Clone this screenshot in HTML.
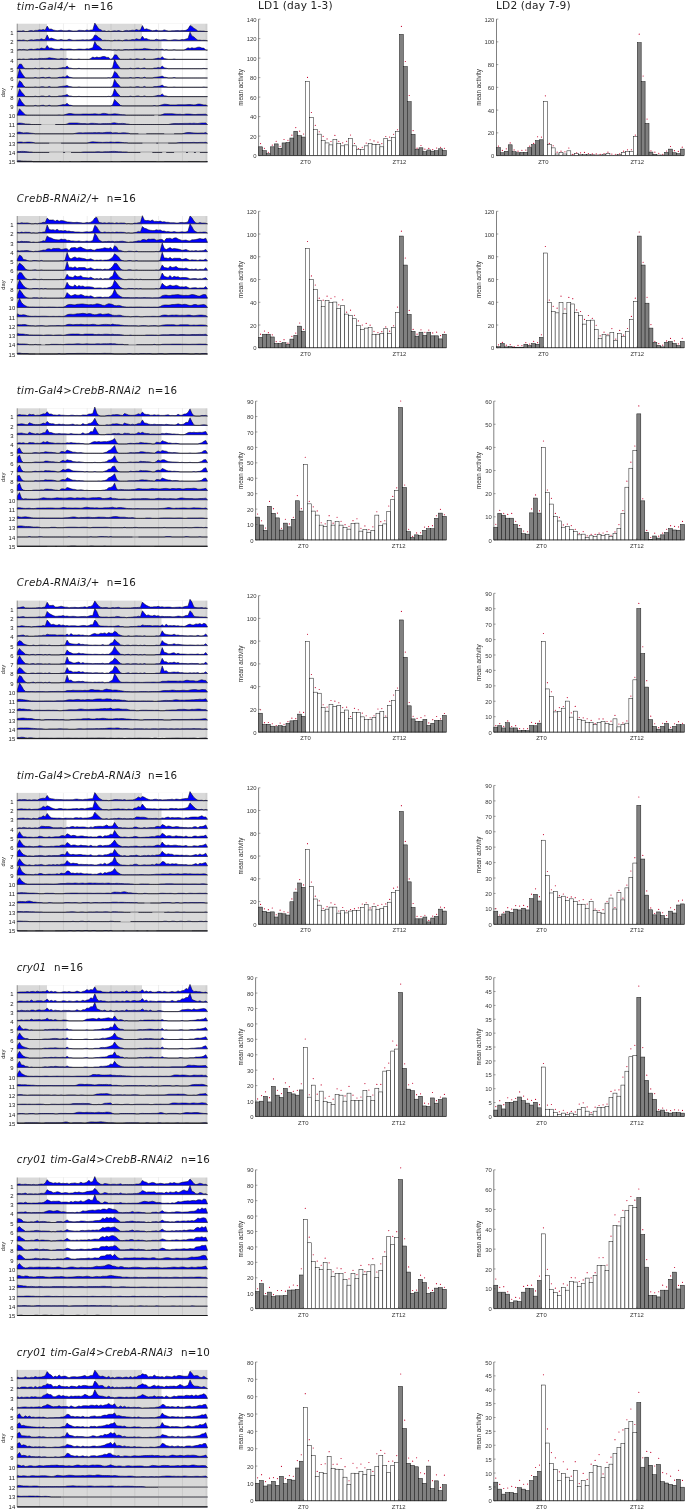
<!DOCTYPE html>
<html><head><meta charset="utf-8"><title>figure</title><style>html,body{margin:0;padding:0;background:#fff}svg{display:block}</style></head><body>
<svg width="685" height="1510" viewBox="0 0 685 1510">
<style>text{font-family:'DejaVu Sans','Liberation Sans',sans-serif;fill:#222}.tk{font-family:'Liberation Sans',sans-serif;font-size:5.9px;fill:#363636}.yl{font-family:'Liberation Sans',sans-serif;font-size:6.3px;fill:#303030}.al{fill:#222}.tt{font-size:10.3px;fill:#1a1a1a}.hd{font-size:10.6px;fill:#222;letter-spacing:0.16px}</style>
<rect width="685" height="1510" fill="#fff"/>
<text x="258" y="8.8" class="hd">LD1 (day 1-3)</text>
<text x="496" y="8.8" class="hd">LD2 (day 7-9)</text>
<text x="16.8" y="9.5" class="tt" font-style="italic" textLength="59.6" lengthAdjust="spacing">tim-Gal4/+</text>
<text x="84.1" y="9.5" class="tt" textLength="28.9" lengthAdjust="spacing">n=16</text>
<rect x="17.2" y="23.7" width="190.3" height="138" fill="#d9d9d9"/>
<rect x="47" y="23.7" width="48" height="7.8" fill="#fff"/>
<rect x="142" y="23.7" width="48" height="7.8" fill="#fff"/>
<rect x="47" y="31.5" width="48" height="9.3" fill="#fff"/>
<rect x="142" y="31.5" width="48" height="9.3" fill="#fff"/>
<rect x="47" y="40.8" width="48" height="9.3" fill="#fff"/>
<rect x="161.5" y="40.8" width="46" height="9.3" fill="#fff"/>
<rect x="66.5" y="50.1" width="47.2" height="9.3" fill="#fff"/>
<rect x="161.5" y="50.1" width="46" height="9.3" fill="#fff"/>
<rect x="66.5" y="59.4" width="47.2" height="9.3" fill="#fff"/>
<rect x="161.5" y="59.4" width="46" height="9.3" fill="#fff"/>
<rect x="66.5" y="68.7" width="47.2" height="9.3" fill="#fff"/>
<rect x="161.5" y="68.7" width="46" height="9.3" fill="#fff"/>
<rect x="66.5" y="78" width="47.2" height="9.3" fill="#fff"/>
<rect x="161.5" y="78" width="46" height="9.3" fill="#fff"/>
<rect x="66.5" y="87.3" width="47.2" height="9.3" fill="#fff"/>
<rect x="161.5" y="87.3" width="46" height="9.3" fill="#fff"/>
<rect x="66.5" y="96.6" width="47.2" height="9.3" fill="#fff"/>
<path d="M39.6 23.7V161.7" stroke="#000" stroke-opacity="0.16" stroke-width="0.45"/>
<path d="M63.4 23.7V161.7" stroke="#000" stroke-opacity="0.16" stroke-width="0.45"/>
<path d="M87.2 23.7V161.7" stroke="#000" stroke-opacity="0.16" stroke-width="0.45"/>
<path d="M111 23.7V161.7" stroke="#000" stroke-opacity="0.16" stroke-width="0.45"/>
<path d="M134.8 23.7V161.7" stroke="#000" stroke-opacity="0.16" stroke-width="0.45"/>
<path d="M158.6 23.7V161.7" stroke="#000" stroke-opacity="0.16" stroke-width="0.45"/>
<path d="M182.4 23.7V161.7" stroke="#000" stroke-opacity="0.16" stroke-width="0.45"/>
<path d="M206.2 23.7V161.7" stroke="#000" stroke-opacity="0.16" stroke-width="0.45"/>
<path d="M17.2 31.5H207.5" stroke="#b4b4b4" stroke-width="0.5"/>
<path d="M17.2 40.8H207.5" stroke="#b4b4b4" stroke-width="0.5"/>
<path d="M17.2 50.1H207.5" stroke="#b4b4b4" stroke-width="0.5"/>
<path d="M17.2 59.4H207.5" stroke="#b4b4b4" stroke-width="0.5"/>
<path d="M17.2 68.7H207.5" stroke="#b4b4b4" stroke-width="0.5"/>
<path d="M17.2 78H207.5" stroke="#b4b4b4" stroke-width="0.5"/>
<path d="M17.2 87.3H207.5" stroke="#b4b4b4" stroke-width="0.5"/>
<path d="M17.2 96.6H207.5" stroke="#b4b4b4" stroke-width="0.5"/>
<path d="M17.2 105.9H207.5" stroke="#b4b4b4" stroke-width="0.5"/>
<path d="M17.2 115.2H207.5" stroke="#b4b4b4" stroke-width="0.5"/>
<path d="M17.2 124.5H207.5" stroke="#b4b4b4" stroke-width="0.5"/>
<path d="M17.2 133.8H207.5" stroke="#b4b4b4" stroke-width="0.5"/>
<path d="M17.2 143.1H207.5" stroke="#b4b4b4" stroke-width="0.5"/>
<path d="M17.2 152.4H207.5" stroke="#b4b4b4" stroke-width="0.5"/>
<g fill="#0000ff" stroke="#0a0a1e" stroke-width="0.55" stroke-linejoin="round">
<path d="M17.2 31.5L17.5 31.0L19.5 31.0L21.5 31.1L23.4 30.7L25.4 31.5L27.4 31.5L29.4 30.8L31.4 30.5L33.4 31.0L35.3 30.4L37.3 30.4L39.3 29.8L41.3 30.0L43.3 29.5L45.2 30.2L47.2 26.1L49.2 29.2L51.2 29.0L53.2 30.0L55.2 30.4L57.1 30.7L59.1 30.5L61.1 30.2L63.1 30.7L65.1 30.8L67.1 30.8L69.0 30.3L71.0 30.7L73.0 31.0L75.0 30.9L77.0 30.9L78.9 30.3L80.9 30.4L82.9 30.5L84.9 30.7L86.9 29.9L88.9 30.5L90.8 30.0L92.8 29.9L94.8 23.1L96.8 26.0L98.8 28.9L100.8 29.8L102.7 30.9L104.7 30.8L106.7 31.5L108.7 30.9L110.7 31.5L112.6 31.0L114.6 30.8L116.6 31.0L118.6 30.6L120.6 31.1L122.6 31.5L124.5 30.8L126.5 30.4L128.5 30.8L130.5 30.5L132.5 30.2L134.5 30.4L136.4 29.5L138.4 30.2L140.4 30.1L142.4 25.6L144.4 29.6L146.3 28.8L148.3 29.4L150.3 30.1L152.3 30.7L154.3 30.6L156.3 30.1L158.2 30.7L160.2 30.8L162.2 30.8L164.2 29.9L166.2 30.5L168.2 30.9L170.1 30.9L172.1 30.7L174.1 30.7L176.1 30.6L178.1 30.5L180.0 30.7L182.0 30.4L184.0 30.6L186.0 30.3L188.0 29.1L190.0 25.6L191.9 26.4L193.9 28.3L195.9 29.4L197.9 31.1L199.9 30.9L201.9 31.1L203.8 31.1L205.8 31.5L207.5 31.5Z"/>
<path d="M17.2 40.8L17.5 40.3L19.5 40.1L21.5 40.3L23.4 39.9L25.4 40.4L27.4 40.8L29.4 40.1L31.4 39.7L33.4 40.1L35.3 39.8L37.3 39.5L39.3 39.7L41.3 38.8L43.3 39.5L45.2 39.4L47.2 34.9L49.2 38.9L51.2 38.1L53.2 38.7L55.2 39.4L57.1 40.0L59.1 39.9L61.1 39.4L63.1 40.0L65.1 40.1L67.1 40.1L69.0 39.2L71.0 39.8L73.0 40.2L75.0 40.2L77.0 40.0L78.9 40.0L80.9 39.9L82.9 39.8L84.9 40.0L86.9 39.7L88.9 39.9L90.8 39.6L92.8 38.4L94.8 34.9L96.8 35.7L98.8 37.6L100.8 38.7L102.7 40.4L104.7 40.2L106.7 40.4L108.7 40.4L110.7 40.8L112.6 40.8L114.6 40.1L116.6 40.4L118.6 40.1L120.6 40.4L122.6 40.8L124.5 40.0L126.5 39.8L128.5 40.2L130.5 39.9L132.5 39.5L134.5 39.7L136.4 38.7L138.4 39.3L140.4 39.5L142.4 36.2L144.4 38.9L146.3 38.6L148.3 39.4L150.3 39.9L152.3 40.0L154.3 40.1L156.3 39.2L158.2 39.8L160.2 39.9L162.2 39.8L164.2 39.6L166.2 39.8L168.2 40.3L170.1 40.3L172.1 40.0L174.1 39.7L176.1 39.8L178.1 40.0L180.0 40.0L182.0 39.5L184.0 39.7L186.0 39.0L188.0 38.5L190.0 32.2L191.9 35.9L193.9 36.9L195.9 38.8L197.9 40.2L199.9 40.1L201.9 40.4L203.8 40.3L205.8 40.4L207.5 40.8Z"/>
<path d="M17.2 50.1L17.5 50.1L19.5 49.4L21.5 49.7L23.4 49.4L25.4 49.7L27.4 50.1L29.4 49.3L31.4 49.1L33.4 49.5L35.3 49.2L37.3 48.8L39.3 49.0L41.3 48.0L43.3 48.6L45.2 48.8L47.2 45.5L49.2 48.2L51.2 47.9L53.2 48.7L55.2 49.2L57.1 49.3L59.1 49.4L61.1 48.5L63.1 49.1L65.1 49.2L67.1 49.1L69.0 48.9L71.0 49.1L73.0 49.6L75.0 49.6L77.0 49.3L78.9 49.0L80.9 49.1L82.9 49.3L84.9 49.3L86.9 48.8L88.9 49.0L90.8 48.3L92.8 47.8L94.8 41.5L96.8 45.2L98.8 46.2L100.8 48.1L102.7 49.5L104.7 49.4L106.7 49.7L108.7 49.6L110.7 49.7L112.6 50.1L114.6 49.8L116.6 50.1L118.6 49.7L120.6 50.1L122.6 50.1L124.5 49.6L126.5 49.5L128.5 49.7L130.5 49.5L132.5 49.6L134.5 49.2L136.4 49.1L138.4 49.2L140.4 49.1L142.4 49.0L144.4 48.4L146.3 48.8L148.3 49.0L150.3 49.3L152.3 49.6L154.3 49.7L156.3 49.2L158.2 49.5L160.2 49.6L162.2 49.1L164.2 50.1L166.2 49.6L168.2 50.1L170.1 50.1L172.1 50.1L174.1 49.7L176.1 50.1L178.1 50.1L180.0 50.1L182.0 50.1L184.0 50.1L186.0 49.1L188.0 47.8L190.0 48.5L191.9 47.7L193.9 48.3L195.9 47.9L197.9 47.2L199.9 47.2L201.9 48.1L203.8 48.1L205.8 50.1L207.5 50.1Z"/>
<path d="M17.2 59.4L17.5 59.4L19.5 59.1L21.5 59.4L23.4 59.0L25.4 59.4L27.4 59.4L29.4 58.9L31.4 58.8L33.4 59.0L35.3 58.8L37.3 58.9L39.3 58.5L41.3 58.4L43.3 58.5L45.2 58.4L47.2 58.3L49.2 57.7L51.2 58.1L53.2 58.3L55.2 58.6L57.1 58.9L59.1 59.0L61.1 58.5L63.1 58.8L65.1 58.9L67.1 58.4L69.0 59.4L71.0 58.9L73.0 59.4L75.0 59.4L77.0 59.4L78.9 59.0L80.9 59.4L82.9 59.4L84.9 59.4L86.9 59.4L88.9 59.4L90.8 58.4L92.8 57.1L94.8 57.8L96.8 57.0L98.8 57.6L100.8 57.2L102.7 56.5L104.7 56.5L106.7 57.4L108.7 57.4L110.7 59.4L112.6 58.3L114.6 54.8L116.6 54.9L118.6 58.1L120.6 59.4L122.6 59.4L124.5 59.4L126.5 59.4L128.5 59.4L130.5 58.9L132.5 59.4L134.5 59.4L136.4 58.8L138.4 58.9L140.4 59.4L142.4 59.4L144.4 58.6L146.3 59.4L148.3 59.4L150.3 59.4L152.3 59.4L154.3 58.9L156.3 58.6L158.2 58.1L160.2 58.4L162.2 56.7L164.2 58.6L166.2 58.9L168.2 59.4L170.1 59.4L172.1 59.4L174.1 59.0L176.1 59.4L178.1 59.4L180.0 59.4L182.0 59.4L184.0 59.4L186.0 59.4L188.0 59.4L190.0 59.4L191.9 59.4L193.9 59.4L195.9 59.4L197.9 59.4L199.9 59.4L201.9 59.4L203.8 59.4L205.8 59.4L207.5 59.4Z"/>
<path d="M17.2 68.7L17.5 67.6L19.5 64.1L21.5 64.2L23.4 67.4L25.4 68.7L27.4 68.7L29.4 68.7L31.4 68.7L33.4 68.7L35.3 68.2L37.3 68.7L39.3 68.7L41.3 68.1L43.3 68.2L45.2 68.7L47.2 68.7L49.2 67.9L51.2 68.7L53.2 68.7L55.2 68.7L57.1 68.7L59.1 68.2L61.1 67.9L63.1 67.4L65.1 67.7L67.1 66.0L69.0 67.9L71.0 68.2L73.0 68.7L75.0 68.7L77.0 68.7L78.9 68.3L80.9 68.7L82.9 68.7L84.9 68.7L86.9 68.7L88.9 68.7L90.8 68.7L92.8 68.7L94.8 68.7L96.8 68.7L98.8 68.7L100.8 68.7L102.7 68.7L104.7 68.7L106.7 68.7L108.7 68.7L110.7 68.7L112.6 67.5L114.6 59.6L116.6 63.5L118.6 66.2L120.6 68.7L122.6 68.7L124.5 68.7L126.5 68.7L128.5 68.7L130.5 68.2L132.5 68.7L134.5 68.7L136.4 68.2L138.4 68.0L140.4 68.7L142.4 68.3L144.4 67.9L146.3 68.7L148.3 68.7L150.3 68.7L152.3 68.7L154.3 68.0L156.3 68.0L158.2 67.5L160.2 67.9L162.2 66.1L164.2 67.8L166.2 68.2L168.2 68.7L170.1 68.7L172.1 68.7L174.1 68.7L176.1 68.7L178.1 68.7L180.0 68.7L182.0 68.7L184.0 68.7L186.0 68.7L188.0 68.7L190.0 68.7L191.9 68.7L193.9 68.7L195.9 68.7L197.9 68.7L199.9 68.7L201.9 68.7L203.8 68.4L205.8 68.7L207.5 68.7Z"/>
<path d="M17.2 78L17.5 76.8L19.5 68.9L21.5 72.8L23.4 75.5L25.4 78.0L27.4 78.0L29.4 78.0L31.4 78.0L33.4 78.0L35.3 77.5L37.3 78.0L39.3 78.0L41.3 77.5L43.3 77.3L45.2 78.0L47.2 77.6L49.2 77.2L51.2 78.0L53.2 78.0L55.2 78.0L57.1 78.0L59.1 77.3L61.1 77.3L63.1 76.8L65.1 77.2L67.1 75.4L69.0 77.1L71.0 77.5L73.0 78.0L75.0 78.0L77.0 78.0L78.9 78.0L80.9 78.0L82.9 78.0L84.9 78.0L86.9 78.0L88.9 78.0L90.8 78.0L92.8 78.0L94.8 78.0L96.8 78.0L98.8 78.0L100.8 78.0L102.7 78.0L104.7 78.0L106.7 78.0L108.7 77.7L110.7 78.0L112.6 76.5L114.6 71.4L116.6 73.0L118.6 76.3L120.6 78.0L122.6 78.0L124.5 78.0L126.5 78.0L128.5 78.0L130.5 77.6L132.5 78.0L134.5 78.0L136.4 77.5L138.4 77.5L140.4 78.0L142.4 78.0L144.4 77.2L146.3 78.0L148.3 78.0L150.3 78.0L152.3 78.0L154.3 77.4L156.3 77.2L158.2 76.9L160.2 76.7L162.2 76.1L164.2 77.2L166.2 77.4L168.2 78.0L170.1 78.0L172.1 78.0L174.1 77.6L176.1 78.0L178.1 78.0L180.0 78.0L182.0 78.0L184.0 78.0L186.0 78.0L188.0 78.0L190.0 78.0L191.9 78.0L193.9 78.0L195.9 78.0L197.9 78.0L199.9 78.0L201.9 78.0L203.8 78.0L205.8 78.0L207.5 78Z"/>
<path d="M17.2 87.3L17.5 85.8L19.5 80.7L21.5 82.3L23.4 85.6L25.4 87.3L27.4 87.3L29.4 87.3L31.4 87.3L33.4 87.3L35.3 86.9L37.3 87.3L39.3 87.3L41.3 86.8L43.3 86.8L45.2 87.3L47.2 87.3L49.2 86.5L51.2 87.3L53.2 87.3L55.2 87.3L57.1 87.3L59.1 86.7L61.1 86.5L63.1 86.2L65.1 86.0L67.1 85.4L69.0 86.5L71.0 86.7L73.0 87.3L75.0 87.3L77.0 87.3L78.9 86.9L80.9 87.3L82.9 87.3L84.9 87.3L86.9 87.3L88.9 87.3L90.8 87.3L92.8 87.3L94.8 87.3L96.8 87.3L98.8 87.3L100.8 87.3L102.7 87.3L104.7 87.3L106.7 87.3L108.7 87.3L110.7 87.3L112.6 86.2L114.6 79.4L116.6 82.7L118.6 84.7L120.6 87.3L122.6 87.3L124.5 87.3L126.5 87.3L128.5 87.3L130.5 86.9L132.5 87.3L134.5 87.3L136.4 86.7L138.4 86.7L140.4 87.3L142.4 87.3L144.4 86.4L146.3 87.3L148.3 87.3L150.3 87.3L152.3 87.3L154.3 86.6L156.3 86.6L158.2 86.3L160.2 86.0L162.2 85.1L164.2 86.6L166.2 86.7L168.2 87.3L170.1 87.3L172.1 87.3L174.1 87.0L176.1 87.3L178.1 87.3L180.0 87.3L182.0 87.3L184.0 87.3L186.0 87.3L188.0 87.3L190.0 87.3L191.9 87.3L193.9 87.3L195.9 87.3L197.9 87.3L199.9 87.3L201.9 87.3L203.8 87.0L205.8 87.3L207.5 87.3Z"/>
<path d="M17.2 96.6L17.5 95.5L19.5 88.7L21.5 92.0L23.4 94.0L25.4 96.6L27.4 96.6L29.4 96.6L31.4 96.6L33.4 96.6L35.3 96.2L37.3 96.6L39.3 96.6L41.3 96.0L43.3 96.0L45.2 96.6L47.2 96.6L49.2 95.7L51.2 96.6L53.2 96.6L55.2 96.6L57.1 96.6L59.1 95.9L61.1 95.9L63.1 95.6L65.1 95.3L67.1 94.4L69.0 95.9L71.0 96.0L73.0 96.6L75.0 96.6L77.0 96.6L78.9 96.3L80.9 96.6L82.9 96.6L84.9 96.6L86.9 96.6L88.9 96.6L90.8 96.6L92.8 96.6L94.8 96.6L96.8 96.6L98.8 96.6L100.8 96.6L102.7 96.6L104.7 96.6L106.7 96.6L108.7 96.3L110.7 96.6L112.6 95.0L114.6 88.8L116.6 92.3L118.6 94.5L120.6 96.6L122.6 96.6L124.5 96.6L126.5 96.6L128.5 96.6L130.5 96.1L132.5 96.6L134.5 96.6L136.4 96.1L138.4 95.9L140.4 96.6L142.4 96.6L144.4 95.9L146.3 96.6L148.3 96.6L150.3 96.6L152.3 96.6L154.3 96.2L156.3 95.8L158.2 95.3L160.2 95.5L162.2 93.9L164.2 95.8L166.2 96.0L168.2 96.6L170.1 96.6L172.1 96.6L174.1 96.6L176.1 96.6L178.1 96.6L180.0 96.6L182.0 96.6L184.0 96.6L186.0 96.6L188.0 96.6L190.0 96.6L191.9 96.6L193.9 96.6L195.9 96.6L197.9 96.6L199.9 96.6L201.9 96.6L203.8 96.6L205.8 96.6L207.5 96.6Z"/>
<path d="M17.2 105.9L17.5 104.3L19.5 98.1L21.5 101.6L23.4 103.8L25.4 105.9L27.4 105.9L29.4 105.9L31.4 105.9L33.4 105.9L35.3 105.4L37.3 105.9L39.3 105.9L41.3 105.4L43.3 105.2L45.2 105.9L47.2 105.9L49.2 105.2L51.2 105.9L53.2 105.9L55.2 105.9L57.1 105.9L59.1 105.5L61.1 105.1L63.1 104.6L65.1 104.8L67.1 103.2L69.0 105.1L71.0 105.3L73.0 105.9L75.0 105.9L77.0 105.9L78.9 105.9L80.9 105.9L82.9 105.9L84.9 105.9L86.9 105.9L88.9 105.9L90.8 105.9L92.8 105.9L94.8 105.9L96.8 105.9L98.8 105.9L100.8 105.9L102.7 105.9L104.7 105.9L106.7 105.9L108.7 105.9L110.7 105.9L112.6 104.9L114.6 99.5L116.6 101.7L118.6 103.6L120.6 105.5L122.6 105.9L124.5 105.9L126.5 105.9L128.5 105.9L130.5 105.9L132.5 105.9L134.5 105.9L136.4 105.9L138.4 105.9L140.4 105.9L142.4 105.9L144.4 105.9L146.3 105.9L148.3 105.9L150.3 105.9L152.3 105.9L154.3 105.6L156.3 105.9L158.2 105.9L160.2 105.3L162.2 104.7L164.2 104.2L166.2 104.3L168.2 104.6L170.1 104.9L172.1 104.9L174.1 104.9L176.1 104.9L178.1 104.7L180.0 104.7L182.0 104.7L184.0 104.8L186.0 104.7L188.0 104.6L190.0 104.5L191.9 104.7L193.9 104.9L195.9 104.7L197.9 104.1L199.9 104.1L201.9 104.5L203.8 104.9L205.8 104.9L207.5 105.9Z"/>
<path d="M17.2 115.2L17.5 114.2L19.5 108.8L21.5 111.0L23.4 112.9L25.4 114.8L27.4 115.2L29.4 115.2L31.4 115.2L33.4 115.2L35.3 115.2L37.3 115.2L39.3 115.2L41.3 115.2L43.3 115.2L45.2 115.2L47.2 115.2L49.2 115.2L51.2 115.2L53.2 115.2L55.2 115.2L57.1 115.2L59.1 114.9L61.1 115.2L63.1 115.2L65.1 114.6L67.1 114.0L69.0 113.5L71.0 113.6L73.0 113.9L75.0 114.2L77.0 114.2L78.9 114.2L80.9 114.2L82.9 114.0L84.9 114.0L86.9 114.0L88.9 114.1L90.8 114.0L92.8 113.9L94.8 113.8L96.8 114.0L98.8 114.2L100.8 114.0L102.7 113.4L104.7 113.4L106.7 113.8L108.7 114.2L110.7 114.2L112.6 114.0L114.6 113.8L116.6 113.9L118.6 114.2L120.6 114.6L122.6 114.7L124.5 114.8L126.5 115.2L128.5 115.2L130.5 115.2L132.5 115.2L134.5 115.2L136.4 115.2L138.4 115.2L140.4 115.2L142.4 115.2L144.4 115.2L146.3 115.2L148.3 115.2L150.3 115.2L152.3 115.2L154.3 115.2L156.3 115.2L158.2 115.2L160.2 115.2L162.2 114.6L164.2 113.8L166.2 113.7L168.2 113.7L170.1 113.7L172.1 113.7L174.1 113.9L176.1 114.2L178.1 114.3L180.0 114.2L182.0 114.5L184.0 114.4L186.0 114.0L188.0 114.0L190.0 114.1L191.9 114.3L193.9 114.5L195.9 114.5L197.9 114.3L199.9 114.3L201.9 114.3L203.8 114.2L205.8 114.2L207.5 115.2Z"/>
<path d="M17.2 124.5L17.5 123.3L19.5 123.1L21.5 123.2L23.4 123.5L25.4 123.9L27.4 124.0L29.4 124.1L31.4 124.5L33.4 124.5L35.3 124.5L37.3 124.5L39.3 124.5L41.3 124.5L43.3 124.5L45.2 124.5L47.2 124.5L49.2 124.5L51.2 124.5L53.2 124.5L55.2 124.5L57.1 124.5L59.1 124.5L61.1 124.5L63.1 124.5L65.1 124.5L67.1 123.9L69.0 123.1L71.0 123.0L73.0 123.0L75.0 123.0L77.0 123.0L78.9 123.2L80.9 123.5L82.9 123.6L84.9 123.5L86.9 123.8L88.9 123.7L90.8 123.3L92.8 123.3L94.8 123.4L96.8 123.6L98.8 123.8L100.8 123.8L102.7 123.6L104.7 123.6L106.7 123.6L108.7 123.5L110.7 123.5L112.6 122.9L114.6 122.8L116.6 123.2L118.6 123.6L120.6 123.5L122.6 123.4L124.5 123.6L126.5 123.9L128.5 124.1L130.5 124.5L132.5 124.5L134.5 124.5L136.4 124.5L138.4 124.5L140.4 124.5L142.4 124.5L144.4 124.5L146.3 124.5L148.3 124.5L150.3 124.5L152.3 124.5L154.3 124.5L156.3 124.5L158.2 124.5L160.2 124.5L162.2 124.5L164.2 124.5L166.2 124.5L168.2 124.5L170.1 124.1L172.1 123.7L174.1 123.5L176.1 123.5L178.1 123.6L180.0 123.5L182.0 123.5L184.0 123.4L186.0 123.4L188.0 123.4L190.0 123.3L191.9 123.4L193.9 123.2L195.9 123.4L197.9 123.5L199.9 123.2L201.9 123.0L203.8 123.0L205.8 122.9L207.5 124.5Z"/>
<path d="M17.2 133.8L17.5 132.2L19.5 132.1L21.5 132.5L23.4 132.9L25.4 132.8L27.4 132.7L29.4 132.9L31.4 133.2L33.4 133.4L35.3 133.8L37.3 133.8L39.3 133.8L41.3 133.8L43.3 133.8L45.2 133.8L47.2 133.8L49.2 133.8L51.2 133.8L53.2 133.8L55.2 133.8L57.1 133.8L59.1 133.8L61.1 133.8L63.1 133.8L65.1 133.8L67.1 133.8L69.0 133.8L71.0 133.8L73.0 133.8L75.0 133.4L77.0 133.0L78.9 132.8L80.9 132.8L82.9 132.9L84.9 132.8L86.9 132.8L88.9 132.7L90.8 132.7L92.8 132.7L94.8 132.6L96.8 132.7L98.8 132.5L100.8 132.7L102.7 132.8L104.7 132.5L106.7 132.3L108.7 132.3L110.7 132.2L112.6 132.9L114.6 132.7L116.6 132.7L118.6 133.1L120.6 133.0L122.6 132.8L124.5 132.8L126.5 132.9L128.5 133.2L130.5 133.8L132.5 133.8L134.5 133.8L136.4 133.8L138.4 133.8L140.4 133.8L142.4 133.8L144.4 133.8L146.3 133.8L148.3 133.8L150.3 133.8L152.3 133.8L154.3 133.8L156.3 133.8L158.2 133.8L160.2 133.8L162.2 133.8L164.2 133.8L166.2 133.8L168.2 133.8L170.1 133.8L172.1 133.8L174.1 133.8L176.1 133.8L178.1 133.8L180.0 133.8L182.0 133.8L184.0 133.3L186.0 132.7L188.0 132.5L190.0 132.6L191.9 132.8L193.9 132.9L195.9 133.0L197.9 133.1L199.9 133.0L201.9 132.9L203.8 133.0L205.8 132.6L207.5 133.8Z"/>
<path d="M17.2 143.1L17.5 142.2L19.5 142.0L21.5 142.0L23.4 142.4L25.4 142.3L27.4 142.1L29.4 142.1L31.4 142.2L33.4 142.5L35.3 143.1L37.3 143.1L39.3 143.1L41.3 143.1L43.3 143.1L45.2 143.1L47.2 143.1L49.2 143.1L51.2 143.1L53.2 143.1L55.2 143.1L57.1 143.1L59.1 143.1L61.1 143.1L63.1 143.1L65.1 143.1L67.1 143.1L69.0 143.1L71.0 143.1L73.0 143.1L75.0 143.1L77.0 143.1L78.9 143.1L80.9 143.1L82.9 143.1L84.9 143.1L86.9 143.1L88.9 142.6L90.8 142.0L92.8 141.8L94.8 141.9L96.8 142.1L98.8 142.2L100.8 142.3L102.7 142.4L104.7 142.3L106.7 142.2L108.7 142.3L110.7 141.9L112.6 142.2L114.6 142.3L116.6 142.1L118.6 142.1L120.6 142.3L122.6 142.5L124.5 142.7L126.5 142.7L128.5 143.1L130.5 143.1L132.5 143.1L134.5 143.1L136.4 143.1L138.4 143.1L140.4 143.1L142.4 143.1L144.4 143.1L146.3 143.1L148.3 143.1L150.3 143.1L152.3 143.1L154.3 143.1L156.3 143.1L158.2 143.1L160.2 143.1L162.2 143.1L164.2 143.1L166.2 143.1L168.2 143.1L170.1 143.1L172.1 143.1L174.1 143.1L176.1 143.1L178.1 142.7L180.0 142.6L182.0 142.6L184.0 142.6L186.0 142.6L188.0 142.6L190.0 142.6L191.9 142.5L193.9 142.4L195.9 142.6L197.9 142.6L199.9 142.4L201.9 142.4L203.8 142.4L205.8 142.3L207.5 143.1Z"/>
<path d="M17.2 152.4L17.5 151.5L19.5 151.6L21.5 151.4L23.4 151.4L25.4 151.6L27.4 151.8L29.4 152.0L31.4 152.0L33.4 152.4L35.3 152.4L37.3 152.4L39.3 152.4L41.3 152.4L43.3 152.4L45.2 152.4L47.2 152.4L49.2 152.4L51.2 152.4L53.2 152.4L55.2 152.4L57.1 152.4L59.1 152.4L61.1 152.4L63.1 152.4L65.1 152.4L67.1 152.4L69.0 152.4L71.0 152.4L73.0 152.4L75.0 152.4L77.0 152.4L78.9 152.4L80.9 152.4L82.9 152.0L84.9 151.9L86.9 151.9L88.9 151.9L90.8 151.9L92.8 151.9L94.8 151.9L96.8 151.8L98.8 151.7L100.8 151.9L102.7 151.9L104.7 151.7L106.7 151.7L108.7 151.7L110.7 151.6L112.6 151.4L114.6 151.4L116.6 151.6L118.6 151.8L120.6 151.8L122.6 151.9L124.5 151.9L126.5 151.9L128.5 152.4L130.5 152.4L132.5 152.4L134.5 152.4L136.4 152.4L138.4 152.4L140.4 152.4L142.4 152.4L144.4 152.4L146.3 152.4L148.3 152.4L150.3 152.4L152.3 152.4L154.3 152.4L156.3 152.4L158.2 152.4L160.2 152.4L162.2 152.4L164.2 152.4L166.2 152.4L168.2 152.4L170.1 152.4L172.1 152.4L174.1 152.4L176.1 152.4L178.1 152.4L180.0 152.4L182.0 152.4L184.0 152.4L186.0 152.4L188.0 152.4L190.0 152.4L191.9 152.4L193.9 152.4L195.9 152.4L197.9 152.4L199.9 152.4L201.9 152.4L203.8 152.4L205.8 152.4L207.5 152.4Z"/>
<path d="M17.2 161.7L17.5 160.7L19.5 160.7L21.5 160.9L23.4 161.1L25.4 161.1L27.4 161.2L29.4 161.2L31.4 161.2L33.4 161.7L35.3 161.7L37.3 161.7L39.3 161.7L41.3 161.7L43.3 161.7L45.2 161.7L47.2 161.7L49.2 161.7L51.2 161.7L53.2 161.7L55.2 161.7L57.1 161.7L59.1 161.7L61.1 161.7L63.1 161.7L65.1 161.7L67.1 161.7L69.0 161.7L71.0 161.7L73.0 161.7L75.0 161.7L77.0 161.7L78.9 161.7L80.9 161.7L82.9 161.7L84.9 161.7L86.9 161.7L88.9 161.7L90.8 161.7L92.8 161.7L94.8 161.7L96.8 161.7L98.8 161.7L100.8 161.7L102.7 161.7L104.7 161.7L106.7 161.7L108.7 161.7L110.7 161.7L112.6 161.7L114.6 161.7L116.6 161.7L118.6 161.7L120.6 161.7L122.6 161.7L124.5 161.7L126.5 161.7L128.5 161.7L130.5 161.7L132.5 161.7L134.5 161.7L136.4 161.7L138.4 161.7L140.4 161.7L142.4 161.7L144.4 161.7L146.3 161.7L148.3 161.7L150.3 161.7L152.3 161.7L154.3 161.7L156.3 161.7L158.2 161.7L160.2 161.7L162.2 161.7L164.2 161.7L166.2 161.7L168.2 161.7L170.1 161.7L172.1 161.7L174.1 161.7L176.1 161.7L178.1 161.7L180.0 161.7L182.0 161.7L184.0 161.7L186.0 161.7L188.0 161.7L190.0 161.7L191.9 161.7L193.9 161.7L195.9 161.7L197.9 161.7L199.9 161.7L201.9 161.7L203.8 161.7L205.8 161.7L207.5 161.7Z"/>
</g>
<path d="M154.3 115.2H158.2M41.3 124.5H55.2M138.4 133.8H146.3M164.2 133.8H174.1M49.2 143.1H61.1M142.4 143.1H156.3M158.2 143.1H168.2M49.2 152.4H63.1M65.1 152.4H71.0M140.4 152.4H152.3M162.2 152.4H166.2M174.1 152.4H186.0M188.0 152.4H193.9M195.9 152.4H199.9M49.2 161.7H59.1M61.1 161.7H69.0M71.0 161.7H80.9M98.8 161.7H110.7M112.6 161.7H120.6M156.3 161.7H164.2M180.0 161.7H188.0M199.9 161.7H205.8" fill="none" stroke="#c0c0c0" stroke-width="1.1"/>
<text x="11.9" y="34.75" text-anchor="middle" class="tk al">1</text>
<text x="11.9" y="44" text-anchor="middle" class="tk al">2</text>
<text x="11.9" y="53.25" text-anchor="middle" class="tk al">3</text>
<text x="11.9" y="62.5" text-anchor="middle" class="tk al">4</text>
<text x="11.9" y="71.75" text-anchor="middle" class="tk al">5</text>
<text x="11.9" y="81" text-anchor="middle" class="tk al">6</text>
<text x="11.9" y="90.25" text-anchor="middle" class="tk al">7</text>
<text x="11.9" y="99.5" text-anchor="middle" class="tk al">8</text>
<text x="11.9" y="108.75" text-anchor="middle" class="tk al">9</text>
<text x="11.9" y="118" text-anchor="middle" class="tk al">10</text>
<text x="11.9" y="127.25" text-anchor="middle" class="tk al">11</text>
<text x="11.9" y="136.5" text-anchor="middle" class="tk al">12</text>
<text x="11.9" y="145.75" text-anchor="middle" class="tk al">13</text>
<text x="11.9" y="155" text-anchor="middle" class="tk al">14</text>
<path d="M17.2 161.7H207.5" stroke="#1a1a1a" stroke-width="1.0"/>
<text x="11.9" y="164.25" text-anchor="middle" class="tk al">15</text>
<path d="M17.2 23.7V161.7" stroke="#333" stroke-width="0.5"/>
<text transform="translate(4.6 92.7) rotate(-90)" text-anchor="middle" class="yl" style="font-size:5.8px">day</text>
<g fill="#808080" stroke="#151515" stroke-width="0.5"><rect x="258.6" y="146.82" width="3.91" height="8.78"/><rect x="262.51" y="150.72" width="3.91" height="4.88"/><rect x="266.43" y="153.65" width="3.91" height="1.95"/><rect x="270.34" y="146.82" width="3.91" height="8.78"/><rect x="274.25" y="143.9" width="3.91" height="11.7"/><rect x="278.16" y="148.29" width="3.91" height="7.31"/><rect x="282.08" y="142.92" width="3.91" height="12.67"/><rect x="285.99" y="142.44" width="3.91" height="13.16"/><rect x="289.9" y="138.05" width="3.91" height="17.55"/><rect x="293.81" y="131.22" width="3.91" height="24.38"/><rect x="297.73" y="135.61" width="3.91" height="19.99"/><rect x="301.64" y="137.07" width="3.91" height="18.52"/><rect x="399.45" y="34.41" width="3.91" height="121.19"/><rect x="403.36" y="66.58" width="3.91" height="89.02"/><rect x="407.27" y="101.68" width="3.91" height="53.92"/><rect x="411.19" y="134.34" width="3.91" height="21.25"/><rect x="415.1" y="149.16" width="3.91" height="6.43"/><rect x="419.01" y="147.8" width="3.91" height="7.8"/><rect x="422.92" y="151.7" width="3.91" height="3.9"/><rect x="426.84" y="149.94" width="3.91" height="5.65"/><rect x="430.75" y="151.12" width="3.91" height="4.48"/><rect x="434.66" y="150.72" width="3.91" height="4.88"/><rect x="438.57" y="148.78" width="3.91" height="6.83"/><rect x="442.49" y="150.43" width="3.91" height="5.17"/></g>
<g fill="#fff" stroke="#151515" stroke-width="0.5"><rect x="305.55" y="81.5" width="3.91" height="74.1"/><rect x="309.46" y="117.57" width="3.91" height="38.02"/><rect x="313.38" y="129.28" width="3.91" height="26.32"/><rect x="317.29" y="134.15" width="3.91" height="21.45"/><rect x="321.2" y="140.49" width="3.91" height="15.11"/><rect x="325.11" y="142.92" width="3.91" height="12.67"/><rect x="329.02" y="144.88" width="3.91" height="10.72"/><rect x="332.94" y="139.51" width="3.91" height="16.09"/><rect x="336.85" y="143.41" width="3.91" height="12.19"/><rect x="340.76" y="145.85" width="3.91" height="9.75"/><rect x="344.68" y="144.88" width="3.91" height="10.72"/><rect x="348.59" y="138.54" width="3.91" height="17.06"/><rect x="352.5" y="145.85" width="3.91" height="9.75"/><rect x="356.41" y="149.75" width="3.91" height="5.85"/><rect x="360.32" y="149.26" width="3.91" height="6.34"/><rect x="364.24" y="145.85" width="3.91" height="9.75"/><rect x="368.15" y="143.51" width="3.91" height="12.09"/><rect x="372.06" y="144.68" width="3.91" height="10.92"/><rect x="375.98" y="144.68" width="3.91" height="10.92"/><rect x="379.89" y="146.82" width="3.91" height="8.78"/><rect x="383.8" y="138.73" width="3.91" height="16.87"/><rect x="387.71" y="140.78" width="3.91" height="14.82"/><rect x="391.62" y="137.47" width="3.91" height="18.14"/><rect x="395.54" y="131.42" width="3.91" height="24.18"/></g>
<g fill="#c4002b"><circle cx="260.56" cy="143.61" r="0.58"/><circle cx="264.47" cy="148.21" r="0.58"/><circle cx="268.38" cy="152.21" r="0.58"/><circle cx="272.29" cy="145.05" r="0.58"/><circle cx="276.21" cy="141.27" r="0.58"/><circle cx="280.12" cy="146.27" r="0.58"/><circle cx="284.03" cy="139.46" r="0.58"/><circle cx="287.94" cy="140.28" r="0.58"/><circle cx="291.86" cy="135.13" r="0.58"/><circle cx="295.77" cy="127.56" r="0.58"/><circle cx="299.68" cy="131.14" r="0.58"/><circle cx="303.59" cy="134.01" r="0.58"/><circle cx="307.51" cy="77.44" r="0.58"/><circle cx="311.42" cy="112.5" r="0.58"/><circle cx="315.33" cy="125.37" r="0.58"/><circle cx="319.24" cy="131.77" r="0.58"/><circle cx="323.16" cy="136.44" r="0.58"/><circle cx="327.07" cy="138.91" r="0.58"/><circle cx="330.98" cy="141.53" r="0.58"/><circle cx="334.89" cy="135.39" r="0.58"/><circle cx="338.81" cy="141.3" r="0.58"/><circle cx="342.72" cy="142.82" r="0.58"/><circle cx="346.63" cy="141.3" r="0.58"/><circle cx="350.54" cy="135.01" r="0.58"/><circle cx="354.46" cy="143.47" r="0.58"/><circle cx="358.37" cy="148.53" r="0.58"/><circle cx="362.28" cy="147.27" r="0.58"/><circle cx="366.19" cy="143.12" r="0.58"/><circle cx="370.11" cy="139.75" r="0.58"/><circle cx="374.02" cy="140.9" r="0.58"/><circle cx="377.93" cy="142.2" r="0.58"/><circle cx="381.84" cy="143.56" r="0.58"/><circle cx="385.76" cy="136.52" r="0.58"/><circle cx="389.67" cy="137.06" r="0.58"/><circle cx="393.58" cy="134.28" r="0.58"/><circle cx="397.49" cy="129.75" r="0.58"/><circle cx="401.41" cy="26.45" r="0.58"/><circle cx="405.32" cy="61.5" r="0.58"/><circle cx="409.23" cy="95.52" r="0.58"/><circle cx="413.14" cy="130.57" r="0.58"/><circle cx="417.06" cy="148.13" r="0.58"/><circle cx="420.97" cy="145.53" r="0.58"/><circle cx="424.88" cy="149.13" r="0.58"/><circle cx="428.79" cy="148.43" r="0.58"/><circle cx="432.71" cy="149.53" r="0.58"/><circle cx="436.62" cy="147.98" r="0.58"/><circle cx="440.53" cy="147.29" r="0.58"/><circle cx="444.44" cy="148.28" r="0.58"/></g>
<path d="M258.6 19.1V155.6H446.4" fill="none" stroke="#2a2a2a" stroke-width="0.6"/>
<path d="M258.6 155.6h1.8" stroke="#333" stroke-width="0.45"/>
<text x="256.5" y="158.2" text-anchor="end" class="tk">0</text>
<path d="M258.6 136.1h1.8" stroke="#333" stroke-width="0.45"/>
<text x="256.5" y="138.7" text-anchor="end" class="tk">20</text>
<path d="M258.6 116.6h1.8" stroke="#333" stroke-width="0.45"/>
<text x="256.5" y="119.2" text-anchor="end" class="tk">40</text>
<path d="M258.6 97.1h1.8" stroke="#333" stroke-width="0.45"/>
<text x="256.5" y="99.7" text-anchor="end" class="tk">60</text>
<path d="M258.6 77.6h1.8" stroke="#333" stroke-width="0.45"/>
<text x="256.5" y="80.2" text-anchor="end" class="tk">80</text>
<path d="M258.6 58.1h1.8" stroke="#333" stroke-width="0.45"/>
<text x="256.5" y="60.7" text-anchor="end" class="tk">100</text>
<path d="M258.6 38.6h1.8" stroke="#333" stroke-width="0.45"/>
<text x="256.5" y="41.2" text-anchor="end" class="tk">120</text>
<path d="M258.6 19.1h1.8" stroke="#333" stroke-width="0.45"/>
<text x="256.5" y="21.7" text-anchor="end" class="tk">140</text>
<path d="M305.55 155.6v-1.8" stroke="#333" stroke-width="0.45"/>
<text x="305.55" y="163.8" text-anchor="middle" class="tk">ZT0</text>
<path d="M399.45 155.6v-1.8" stroke="#333" stroke-width="0.45"/>
<text x="399.45" y="163.8" text-anchor="middle" class="tk">ZT12</text>
<text transform="translate(242.9 87.35) rotate(-90)" text-anchor="middle" class="yl">mean activity</text>
<g fill="#808080" stroke="#151515" stroke-width="0.5"><rect x="496.5" y="147.52" width="3.91" height="8.08"/><rect x="500.41" y="152.76" width="3.91" height="2.84"/><rect x="504.32" y="151.28" width="3.91" height="4.32"/><rect x="508.23" y="144.79" width="3.91" height="10.81"/><rect x="512.14" y="151.73" width="3.91" height="3.87"/><rect x="516.05" y="152.76" width="3.91" height="2.84"/><rect x="519.96" y="152.41" width="3.91" height="3.18"/><rect x="523.87" y="152.41" width="3.91" height="3.18"/><rect x="527.78" y="147.52" width="3.91" height="8.08"/><rect x="531.69" y="144.68" width="3.91" height="10.92"/><rect x="535.6" y="140.59" width="3.91" height="15.01"/><rect x="539.51" y="139.79" width="3.91" height="15.81"/><rect x="637.28" y="42.65" width="3.91" height="112.95"/><rect x="641.19" y="81.55" width="3.91" height="74.05"/><rect x="645.1" y="123.41" width="3.91" height="32.19"/><rect x="649.01" y="152.07" width="3.91" height="3.53"/><rect x="652.92" y="154.35" width="3.91" height="1.25"/><rect x="656.83" y="155.03" width="3.91" height="0.57"/><rect x="660.74" y="155.03" width="3.91" height="0.57"/><rect x="664.65" y="152.41" width="3.91" height="3.18"/><rect x="668.56" y="149.12" width="3.91" height="6.48"/><rect x="672.47" y="152.76" width="3.91" height="2.84"/><rect x="676.38" y="153.67" width="3.91" height="1.93"/><rect x="680.29" y="149.12" width="3.91" height="6.48"/></g>
<g fill="#fff" stroke="#151515" stroke-width="0.5"><rect x="543.42" y="101.68" width="3.91" height="53.92"/><rect x="547.34" y="144.68" width="3.91" height="10.92"/><rect x="551.25" y="147.87" width="3.91" height="7.73"/><rect x="555.16" y="154.01" width="3.91" height="1.59"/><rect x="559.07" y="152.41" width="3.91" height="3.18"/><rect x="562.98" y="154.01" width="3.91" height="1.59"/><rect x="566.89" y="150.82" width="3.91" height="4.78"/><rect x="570.8" y="155.03" width="3.91" height="0.57"/><rect x="574.71" y="153.67" width="3.91" height="1.93"/><rect x="578.62" y="154.35" width="3.91" height="1.25"/><rect x="582.53" y="154.46" width="3.91" height="1.14"/><rect x="586.44" y="154.69" width="3.91" height="0.91"/><rect x="590.35" y="154.8" width="3.91" height="0.8"/><rect x="594.26" y="155.03" width="3.91" height="0.57"/><rect x="598.17" y="155.03" width="3.91" height="0.57"/><rect x="602.08" y="154.46" width="3.91" height="1.14"/><rect x="605.99" y="153.67" width="3.91" height="1.93"/><rect x="609.9" y="155.26" width="3.91" height="0.34"/><rect x="613.81" y="155.14" width="3.91" height="0.46"/><rect x="617.72" y="154.69" width="3.91" height="0.91"/><rect x="621.63" y="152.41" width="3.91" height="3.18"/><rect x="625.54" y="151.62" width="3.91" height="3.98"/><rect x="629.45" y="151.28" width="3.91" height="4.32"/><rect x="633.36" y="136.6" width="3.91" height="19"/></g>
<g fill="#c4002b"><circle cx="498.46" cy="146.09" r="0.58"/><circle cx="502.37" cy="150.42" r="0.58"/><circle cx="506.28" cy="148.84" r="0.58"/><circle cx="510.19" cy="142.91" r="0.58"/><circle cx="514.1" cy="149.88" r="0.58"/><circle cx="518.01" cy="151.13" r="0.58"/><circle cx="521.92" cy="150.37" r="0.58"/><circle cx="525.83" cy="150.12" r="0.58"/><circle cx="529.74" cy="146.19" r="0.58"/><circle cx="533.65" cy="143.38" r="0.58"/><circle cx="537.56" cy="136.76" r="0.58"/><circle cx="541.47" cy="137.1" r="0.58"/><circle cx="545.38" cy="95.82" r="0.58"/><circle cx="549.29" cy="143.45" r="0.58"/><circle cx="553.2" cy="145.72" r="0.58"/><circle cx="557.11" cy="152.16" r="0.58"/><circle cx="561.02" cy="151.15" r="0.58"/><circle cx="564.93" cy="151.82" r="0.58"/><circle cx="568.84" cy="148.03" r="0.58"/><circle cx="572.75" cy="154.4" r="0.58"/><circle cx="576.66" cy="152.87" r="0.58"/><circle cx="580.57" cy="152.86" r="0.58"/><circle cx="584.48" cy="152.43" r="0.58"/><circle cx="588.39" cy="153.51" r="0.58"/><circle cx="592.31" cy="153.88" r="0.58"/><circle cx="596.22" cy="153.89" r="0.58"/><circle cx="600.13" cy="154.4" r="0.58"/><circle cx="604.04" cy="153.47" r="0.58"/><circle cx="607.95" cy="152.2" r="0.58"/><circle cx="611.86" cy="154.11" r="0.58"/><circle cx="615.77" cy="154.28" r="0.58"/><circle cx="619.68" cy="153.72" r="0.58"/><circle cx="623.59" cy="151.17" r="0.58"/><circle cx="627.5" cy="149.82" r="0.58"/><circle cx="631.41" cy="149.78" r="0.58"/><circle cx="635.32" cy="135.06" r="0.58"/><circle cx="639.23" cy="34.15" r="0.58"/><circle cx="643.14" cy="75.99" r="0.58"/><circle cx="647.05" cy="119.1" r="0.58"/><circle cx="650.96" cy="150.85" r="0.58"/><circle cx="654.87" cy="152.19" r="0.58"/><circle cx="658.78" cy="153.33" r="0.58"/><circle cx="662.69" cy="154.28" r="0.58"/><circle cx="666.6" cy="150.96" r="0.58"/><circle cx="670.51" cy="146.47" r="0.58"/><circle cx="674.42" cy="150.66" r="0.58"/><circle cx="678.33" cy="151.39" r="0.58"/><circle cx="682.24" cy="147.14" r="0.58"/></g>
<path d="M496.5 19.1V155.6H684.2" fill="none" stroke="#2a2a2a" stroke-width="0.6"/>
<path d="M496.5 155.6h1.8" stroke="#333" stroke-width="0.45"/>
<text x="494.4" y="158.2" text-anchor="end" class="tk">0</text>
<path d="M496.5 132.85h1.8" stroke="#333" stroke-width="0.45"/>
<text x="494.4" y="135.45" text-anchor="end" class="tk">20</text>
<path d="M496.5 110.1h1.8" stroke="#333" stroke-width="0.45"/>
<text x="494.4" y="112.7" text-anchor="end" class="tk">40</text>
<path d="M496.5 87.35h1.8" stroke="#333" stroke-width="0.45"/>
<text x="494.4" y="89.95" text-anchor="end" class="tk">60</text>
<path d="M496.5 64.6h1.8" stroke="#333" stroke-width="0.45"/>
<text x="494.4" y="67.2" text-anchor="end" class="tk">80</text>
<path d="M496.5 41.85h1.8" stroke="#333" stroke-width="0.45"/>
<text x="494.4" y="44.45" text-anchor="end" class="tk">100</text>
<path d="M496.5 19.1h1.8" stroke="#333" stroke-width="0.45"/>
<text x="494.4" y="21.7" text-anchor="end" class="tk">120</text>
<path d="M543.42 155.6v-1.8" stroke="#333" stroke-width="0.45"/>
<text x="543.42" y="163.8" text-anchor="middle" class="tk">ZT0</text>
<path d="M637.28 155.6v-1.8" stroke="#333" stroke-width="0.45"/>
<text x="637.28" y="163.8" text-anchor="middle" class="tk">ZT12</text>
<text transform="translate(480.8 87.35) rotate(-90)" text-anchor="middle" class="yl">mean activity</text>
<text x="16.8" y="201.83" class="tt" font-style="italic" textLength="82.7" lengthAdjust="spacing">CrebB-RNAi2/+</text>
<text x="106.8" y="201.83" class="tt" textLength="28.9" lengthAdjust="spacing">n=16</text>
<rect x="17.2" y="216" width="190.3" height="138" fill="#d9d9d9"/>
<rect x="47" y="216" width="48" height="7.8" fill="#fff"/>
<rect x="142" y="216" width="48" height="7.8" fill="#fff"/>
<rect x="47" y="223.8" width="48" height="9.3" fill="#fff"/>
<rect x="142" y="223.8" width="48" height="9.3" fill="#fff"/>
<rect x="47" y="233.1" width="48" height="9.3" fill="#fff"/>
<rect x="161.5" y="233.1" width="46" height="9.3" fill="#fff"/>
<rect x="66.5" y="242.4" width="47.2" height="9.3" fill="#fff"/>
<rect x="161.5" y="242.4" width="46" height="9.3" fill="#fff"/>
<rect x="66.5" y="251.7" width="47.2" height="9.3" fill="#fff"/>
<rect x="161.5" y="251.7" width="46" height="9.3" fill="#fff"/>
<rect x="66.5" y="261" width="47.2" height="9.3" fill="#fff"/>
<rect x="161.5" y="261" width="46" height="9.3" fill="#fff"/>
<rect x="66.5" y="270.3" width="47.2" height="9.3" fill="#fff"/>
<rect x="161.5" y="270.3" width="46" height="9.3" fill="#fff"/>
<rect x="66.5" y="279.6" width="47.2" height="9.3" fill="#fff"/>
<rect x="161.5" y="279.6" width="46" height="9.3" fill="#fff"/>
<rect x="66.5" y="288.9" width="47.2" height="9.3" fill="#fff"/>
<path d="M39.6 216V354" stroke="#000" stroke-opacity="0.16" stroke-width="0.45"/>
<path d="M63.4 216V354" stroke="#000" stroke-opacity="0.16" stroke-width="0.45"/>
<path d="M87.2 216V354" stroke="#000" stroke-opacity="0.16" stroke-width="0.45"/>
<path d="M111 216V354" stroke="#000" stroke-opacity="0.16" stroke-width="0.45"/>
<path d="M134.8 216V354" stroke="#000" stroke-opacity="0.16" stroke-width="0.45"/>
<path d="M158.6 216V354" stroke="#000" stroke-opacity="0.16" stroke-width="0.45"/>
<path d="M182.4 216V354" stroke="#000" stroke-opacity="0.16" stroke-width="0.45"/>
<path d="M206.2 216V354" stroke="#000" stroke-opacity="0.16" stroke-width="0.45"/>
<path d="M17.2 223.8H207.5" stroke="#b4b4b4" stroke-width="0.5"/>
<path d="M17.2 233.1H207.5" stroke="#b4b4b4" stroke-width="0.5"/>
<path d="M17.2 242.4H207.5" stroke="#b4b4b4" stroke-width="0.5"/>
<path d="M17.2 251.7H207.5" stroke="#b4b4b4" stroke-width="0.5"/>
<path d="M17.2 261H207.5" stroke="#b4b4b4" stroke-width="0.5"/>
<path d="M17.2 270.3H207.5" stroke="#b4b4b4" stroke-width="0.5"/>
<path d="M17.2 279.6H207.5" stroke="#b4b4b4" stroke-width="0.5"/>
<path d="M17.2 288.9H207.5" stroke="#b4b4b4" stroke-width="0.5"/>
<path d="M17.2 298.2H207.5" stroke="#b4b4b4" stroke-width="0.5"/>
<path d="M17.2 307.5H207.5" stroke="#b4b4b4" stroke-width="0.5"/>
<path d="M17.2 316.8H207.5" stroke="#b4b4b4" stroke-width="0.5"/>
<path d="M17.2 326.1H207.5" stroke="#b4b4b4" stroke-width="0.5"/>
<path d="M17.2 335.4H207.5" stroke="#b4b4b4" stroke-width="0.5"/>
<path d="M17.2 344.7H207.5" stroke="#b4b4b4" stroke-width="0.5"/>
<g fill="#0000ff" stroke="#0a0a1e" stroke-width="0.55" stroke-linejoin="round">
<path d="M17.2 223.8L17.5 222.9L19.5 223.3L21.5 222.7L23.4 223.0L25.4 223.0L27.4 222.9L29.4 223.3L31.4 223.8L33.4 223.8L35.3 223.4L37.3 223.8L39.3 223.2L41.3 223.0L43.3 222.3L45.2 222.5L47.2 218.1L49.2 220.0L51.2 220.1L53.2 219.9L55.2 221.2L57.1 220.1L59.1 221.3L61.1 220.4L63.1 220.7L65.1 221.2L67.1 221.9L69.0 222.1L71.0 222.2L73.0 222.5L75.0 222.5L77.0 222.3L78.9 222.6L80.9 222.7L82.9 223.1L84.9 222.9L86.9 222.4L88.9 222.7L90.8 222.2L92.8 220.9L94.8 218.0L96.8 217.4L98.8 222.2L100.8 222.7L102.7 223.1L104.7 222.8L106.7 223.2L108.7 222.8L110.7 222.9L112.6 222.9L114.6 223.4L116.6 222.8L118.6 223.2L120.6 222.9L122.6 223.0L124.5 223.0L126.5 223.8L128.5 223.5L130.5 223.8L132.5 223.8L134.5 223.1L136.4 223.2L138.4 222.7L140.4 222.6L142.4 215.7L144.4 220.2L146.3 220.6L148.3 220.4L150.3 221.1L152.3 220.0L154.3 221.4L156.3 221.3L158.2 221.6L160.2 221.1L162.2 221.9L164.2 221.7L166.2 222.3L168.2 222.3L170.1 222.7L172.1 222.7L174.1 222.7L176.1 223.0L178.1 223.0L180.0 222.6L182.0 222.4L184.0 222.7L186.0 222.5L188.0 221.9L190.0 216.0L191.9 217.7L193.9 221.1L195.9 223.0L197.9 223.2L199.9 222.6L201.9 223.1L203.8 223.0L205.8 223.2L207.5 223.8Z"/>
<path d="M17.2 233.1L17.5 232.2L19.5 232.7L21.5 232.1L23.4 232.5L25.4 232.2L27.4 232.3L29.4 232.3L31.4 233.1L33.4 232.8L35.3 233.1L37.3 233.1L39.3 232.4L41.3 232.5L43.3 232.0L45.2 231.9L47.2 225.0L49.2 229.5L51.2 229.9L53.2 229.7L55.2 230.4L57.1 229.3L59.1 230.7L61.1 230.6L63.1 230.9L65.1 230.4L67.1 231.2L69.0 231.0L71.0 231.6L73.0 231.6L75.0 232.0L77.0 232.0L78.9 232.0L80.9 232.3L82.9 232.3L84.9 231.9L86.9 231.7L88.9 232.0L90.8 231.8L92.8 231.2L94.8 225.3L96.8 227.0L98.8 230.4L100.8 232.3L102.7 232.5L104.7 231.9L106.7 232.4L108.7 232.3L110.7 232.5L112.6 232.2L114.6 232.5L116.6 232.0L118.6 232.3L120.6 232.2L122.6 232.3L124.5 232.4L126.5 233.1L128.5 232.8L130.5 233.1L132.5 233.1L134.5 232.6L136.4 232.3L138.4 231.4L140.4 231.9L142.4 226.6L144.4 228.2L146.3 228.7L148.3 229.8L150.3 230.3L152.3 230.5L154.3 230.6L156.3 229.8L158.2 230.2L160.2 229.9L162.2 231.1L164.2 231.0L166.2 231.7L168.2 231.6L170.1 231.9L172.1 232.0L174.1 231.6L176.1 232.1L178.1 232.2L180.0 232.1L182.0 231.8L184.0 232.1L186.0 231.9L188.0 231.3L190.0 224.0L191.9 226.7L193.9 230.4L195.9 231.8L197.9 232.5L199.9 232.2L201.9 232.3L203.8 232.0L205.8 232.2L207.5 233.1Z"/>
<path d="M17.2 242.4L17.5 241.5L19.5 241.8L21.5 241.3L23.4 241.6L25.4 241.5L27.4 241.6L29.4 241.7L31.4 242.4L33.4 242.1L35.3 242.4L37.3 242.4L39.3 241.9L41.3 241.6L43.3 240.7L45.2 241.2L47.2 235.9L49.2 237.5L51.2 238.0L53.2 239.1L55.2 239.6L57.1 239.8L59.1 239.9L61.1 239.1L63.1 239.5L65.1 239.2L67.1 240.4L69.0 240.3L71.0 241.0L73.0 240.9L75.0 241.2L77.0 241.3L78.9 240.9L80.9 241.4L82.9 241.5L84.9 241.4L86.9 241.1L88.9 241.4L90.8 241.2L92.8 240.6L94.8 233.3L96.8 236.0L98.8 239.7L100.8 241.1L102.7 241.8L104.7 241.5L106.7 241.6L108.7 241.3L110.7 241.5L112.6 241.3L114.6 241.7L116.6 241.4L118.6 241.5L120.6 241.3L122.6 241.2L124.5 241.6L126.5 242.0L128.5 242.4L130.5 241.9L132.5 242.0L134.5 241.6L136.4 241.3L138.4 240.8L140.4 240.9L142.4 239.6L144.4 239.4L146.3 240.2L148.3 239.1L150.3 239.3L152.3 239.1L154.3 239.1L156.3 240.2L158.2 239.9L160.2 239.4L162.2 239.5L164.2 241.2L166.2 238.6L168.2 238.4L170.1 238.2L172.1 239.2L174.1 238.1L176.1 237.8L178.1 239.0L180.0 239.7L182.0 240.4L184.0 240.3L186.0 240.0L188.0 240.8L190.0 240.9L191.9 239.8L193.9 239.8L195.9 239.5L197.9 239.1L199.9 238.5L201.9 239.0L203.8 239.1L205.8 238.2L207.5 242.4Z"/>
<path d="M17.2 251.7L17.5 250.6L19.5 251.0L21.5 250.7L23.4 250.8L25.4 250.6L27.4 250.5L29.4 250.9L31.4 251.3L33.4 251.7L35.3 251.2L37.3 251.3L39.3 250.9L41.3 250.6L43.3 250.1L45.2 250.2L47.2 248.9L49.2 248.7L51.2 249.5L53.2 248.4L55.2 248.6L57.1 248.4L59.1 248.4L61.1 249.5L63.1 249.2L65.1 248.7L67.1 248.8L69.0 250.5L71.0 247.9L73.0 247.7L75.0 247.5L77.0 248.5L78.9 247.4L80.9 247.1L82.9 248.3L84.9 249.0L86.9 249.7L88.9 249.6L90.8 249.3L92.8 250.1L94.8 250.2L96.8 249.1L98.8 249.1L100.8 248.8L102.7 248.4L104.7 247.8L106.7 248.3L108.7 248.4L110.7 247.5L112.6 249.7L114.6 245.7L116.6 246.9L118.6 250.3L120.6 250.4L122.6 251.2L124.5 251.7L126.5 251.7L128.5 251.2L130.5 251.2L132.5 251.4L134.5 251.7L136.4 251.1L138.4 251.7L140.4 251.7L142.4 251.7L144.4 251.7L146.3 251.7L148.3 251.7L150.3 251.7L152.3 251.7L154.3 251.7L156.3 251.4L158.2 251.7L160.2 250.8L162.2 243.0L164.2 248.2L166.2 249.6L168.2 248.5L170.1 247.6L172.1 249.0L174.1 248.4L176.1 248.8L178.1 249.1L180.0 249.5L182.0 250.3L184.0 250.0L186.0 249.5L188.0 250.4L190.0 251.1L191.9 250.8L193.9 251.0L195.9 250.6L197.9 251.1L199.9 250.8L201.9 250.8L203.8 250.5L205.8 249.4L207.5 251.7Z"/>
<path d="M17.2 261L17.5 259.0L19.5 255.0L21.5 256.2L23.4 259.6L25.4 259.7L27.4 260.5L29.4 261.0L31.4 261.0L33.4 260.5L35.3 260.5L37.3 260.7L39.3 261.0L41.3 260.4L43.3 261.0L45.2 261.0L47.2 261.0L49.2 261.0L51.2 261.0L53.2 261.0L55.2 261.0L57.1 261.0L59.1 261.0L61.1 260.7L63.1 261.0L65.1 260.1L67.1 252.3L69.0 257.5L71.0 258.9L73.0 257.8L75.0 256.9L77.0 258.3L78.9 257.7L80.9 258.1L82.9 258.4L84.9 258.8L86.9 259.6L88.9 259.3L90.8 258.8L92.8 259.7L94.8 260.4L96.8 260.1L98.8 260.3L100.8 259.9L102.7 260.4L104.7 260.1L106.7 260.1L108.7 259.8L110.7 258.7L112.6 257.3L114.6 253.8L116.6 255.3L118.6 256.9L120.6 259.8L122.6 260.6L124.5 261.0L126.5 261.0L128.5 260.6L130.5 260.5L132.5 261.0L134.5 261.0L136.4 260.6L138.4 261.0L140.4 261.0L142.4 261.0L144.4 261.0L146.3 261.0L148.3 261.0L150.3 261.0L152.3 261.0L154.3 261.0L156.3 261.0L158.2 261.0L160.2 260.2L162.2 252.2L164.2 258.1L166.2 257.9L168.2 258.6L170.1 257.4L172.1 259.0L174.1 258.2L176.1 258.3L178.1 258.3L180.0 258.3L182.0 259.6L184.0 259.1L186.0 258.5L188.0 259.6L190.0 260.3L191.9 259.8L193.9 260.0L195.9 259.9L197.9 260.5L199.9 259.8L201.9 260.1L203.8 260.0L205.8 259.0L207.5 261Z"/>
<path d="M17.2 270.3L17.5 266.6L19.5 263.1L21.5 264.6L23.4 266.2L25.4 269.1L27.4 269.9L29.4 270.3L31.4 270.3L33.4 269.9L35.3 269.8L37.3 270.3L39.3 270.3L41.3 269.9L43.3 270.3L45.2 270.3L47.2 270.3L49.2 270.3L51.2 270.3L53.2 270.3L55.2 270.3L57.1 270.3L59.1 270.3L61.1 270.3L63.1 270.3L65.1 269.5L67.1 261.5L69.0 267.4L71.0 267.2L73.0 267.9L75.0 266.7L77.0 268.3L78.9 267.5L80.9 267.6L82.9 267.6L84.9 267.6L86.9 268.9L88.9 268.4L90.8 267.8L92.8 268.9L94.8 269.6L96.8 269.1L98.8 269.3L100.8 269.2L102.7 269.8L104.7 269.1L106.7 269.4L108.7 269.3L110.7 268.3L112.6 266.3L114.6 263.3L116.6 263.5L118.6 266.3L120.6 268.9L122.6 270.0L124.5 270.3L126.5 270.3L128.5 269.8L130.5 269.8L132.5 270.3L134.5 270.3L136.4 269.9L138.4 270.3L140.4 270.3L142.4 270.3L144.4 270.3L146.3 270.3L148.3 270.3L150.3 270.3L152.3 270.3L154.3 270.3L156.3 269.9L158.2 270.3L160.2 269.6L162.2 264.9L164.2 267.5L166.2 267.8L168.2 268.2L170.1 266.3L172.1 267.5L174.1 267.2L176.1 266.4L178.1 268.1L180.0 268.3L182.0 268.4L184.0 268.7L186.0 267.9L188.0 269.0L190.0 269.6L191.9 269.2L193.9 269.6L195.9 268.9L197.9 269.9L199.9 269.3L201.9 269.4L203.8 269.4L205.8 267.7L207.5 270.3Z"/>
<path d="M17.2 279.6L17.5 275.6L19.5 272.6L21.5 272.8L23.4 275.6L25.4 278.2L27.4 279.3L29.4 279.6L31.4 279.6L33.4 279.1L35.3 279.1L37.3 279.6L39.3 279.6L41.3 279.2L43.3 279.6L45.2 279.6L47.2 279.6L49.2 279.6L51.2 279.6L53.2 279.6L55.2 279.6L57.1 279.6L59.1 279.6L61.1 279.2L63.1 279.6L65.1 278.9L67.1 274.2L69.0 276.8L71.0 277.1L73.0 277.5L75.0 275.6L77.0 276.8L78.9 276.5L80.9 275.7L82.9 277.4L84.9 277.6L86.9 277.7L88.9 278.0L90.8 277.2L92.8 278.3L94.8 278.9L96.8 278.5L98.8 278.9L100.8 278.2L102.7 279.2L104.7 278.6L106.7 278.7L108.7 278.7L110.7 277.0L112.6 276.1L114.6 270.5L116.6 273.8L118.6 276.4L120.6 278.1L122.6 279.1L124.5 279.6L126.5 279.6L128.5 279.2L130.5 279.2L132.5 279.2L134.5 279.6L136.4 279.2L138.4 279.6L140.4 279.2L142.4 279.6L144.4 279.6L146.3 279.6L148.3 279.6L150.3 279.6L152.3 279.6L154.3 279.6L156.3 279.6L158.2 279.6L160.2 278.7L162.2 273.0L164.2 276.3L166.2 277.0L168.2 277.4L170.1 275.5L172.1 277.7L174.1 276.3L176.1 277.1L178.1 276.7L180.0 277.8L182.0 277.5L184.0 277.5L186.0 277.6L188.0 278.0L190.0 278.9L191.9 278.7L193.9 278.6L195.9 278.6L197.9 279.1L199.9 278.7L201.9 278.9L203.8 278.3L205.8 277.8L207.5 279.6Z"/>
<path d="M17.2 288.9L17.5 285.4L19.5 279.8L21.5 283.1L23.4 285.7L25.4 287.4L27.4 288.4L29.4 288.9L31.4 288.9L33.4 288.5L35.3 288.5L37.3 288.5L39.3 288.9L41.3 288.5L43.3 288.9L45.2 288.5L47.2 288.9L49.2 288.9L51.2 288.9L53.2 288.9L55.2 288.9L57.1 288.9L59.1 288.9L61.1 288.9L63.1 288.9L65.1 288.0L67.1 282.3L69.0 285.6L71.0 286.3L73.0 286.7L75.0 284.8L77.0 287.0L78.9 285.6L80.9 286.4L82.9 286.0L84.9 287.1L86.9 286.8L88.9 286.8L90.8 286.9L92.8 287.3L94.8 288.2L96.8 288.0L98.8 287.9L100.8 287.9L102.7 288.4L104.7 288.0L106.7 288.2L108.7 287.6L110.7 287.1L112.6 285.4L114.6 280.3L116.6 282.8L118.6 285.5L120.6 287.6L122.6 288.5L124.5 288.9L126.5 288.9L128.5 288.4L130.5 288.5L132.5 288.5L134.5 288.9L136.4 288.5L138.4 288.9L140.4 288.6L142.4 288.9L144.4 288.9L146.3 288.9L148.3 288.9L150.3 288.9L152.3 288.9L154.3 288.9L156.3 288.6L158.2 288.9L160.2 288.2L162.2 283.3L164.2 285.2L166.2 286.6L168.2 286.0L170.1 285.1L172.1 285.9L174.1 285.9L176.1 285.2L178.1 285.9L180.0 286.9L182.0 286.8L184.0 287.1L186.0 286.5L188.0 287.5L190.0 288.4L191.9 287.9L193.9 287.8L195.9 287.7L197.9 288.3L199.9 287.9L201.9 288.0L203.8 287.9L205.8 286.6L207.5 288.9Z"/>
<path d="M17.2 298.2L17.5 294.7L19.5 289.6L21.5 292.1L23.4 294.8L25.4 296.9L27.4 297.8L29.4 298.2L31.4 298.2L33.4 297.7L35.3 297.8L37.3 297.8L39.3 298.2L41.3 297.8L43.3 298.2L45.2 297.9L47.2 298.2L49.2 298.2L51.2 298.2L53.2 298.2L55.2 298.2L57.1 298.2L59.1 298.2L61.1 297.9L63.1 298.2L65.1 297.5L67.1 292.6L69.0 294.5L71.0 295.9L73.0 295.3L75.0 294.4L77.0 295.2L78.9 295.2L80.9 294.5L82.9 295.2L84.9 296.2L86.9 296.1L88.9 296.4L90.8 295.8L92.8 296.8L94.8 297.7L96.8 297.2L98.8 297.1L100.8 297.0L102.7 297.6L104.7 297.2L106.7 297.3L108.7 297.2L110.7 295.9L112.6 294.1L114.6 289.1L116.6 293.2L118.6 295.2L120.6 296.5L122.6 297.4L124.5 297.6L126.5 297.6L128.5 297.6L130.5 297.7L132.5 297.7L134.5 297.7L136.4 297.6L138.4 297.7L140.4 297.8L142.4 297.7L144.4 297.6L146.3 297.7L148.3 297.7L150.3 297.8L152.3 297.9L154.3 297.8L156.3 297.8L158.2 297.8L160.2 297.2L162.2 295.7L164.2 295.2L166.2 295.1L168.2 295.5L170.1 295.6L172.1 295.0L174.1 294.9L176.1 294.7L178.1 294.6L180.0 295.0L182.0 295.2L184.0 295.5L186.0 295.3L188.0 295.5L190.0 295.1L191.9 294.5L193.9 294.7L195.9 295.3L197.9 296.0L199.9 296.1L201.9 295.1L203.8 294.4L205.8 294.7L207.5 298.2Z"/>
<path d="M17.2 307.5L17.5 303.4L19.5 298.4L21.5 302.5L23.4 304.5L25.4 305.8L27.4 306.7L29.4 306.9L31.4 306.9L33.4 306.9L35.3 307.0L37.3 307.0L39.3 307.0L41.3 306.9L43.3 307.0L45.2 307.1L47.2 307.0L49.2 306.9L51.2 307.0L53.2 307.0L55.2 307.1L57.1 307.2L59.1 307.1L61.1 307.1L63.1 307.1L65.1 306.5L67.1 305.0L69.0 304.5L71.0 304.4L73.0 304.8L75.0 304.9L77.0 304.3L78.9 304.2L80.9 304.0L82.9 303.9L84.9 304.3L86.9 304.5L88.9 304.8L90.8 304.6L92.8 304.8L94.8 304.4L96.8 303.8L98.8 304.0L100.8 304.6L102.7 305.3L104.7 305.4L106.7 304.4L108.7 303.7L110.7 304.0L112.6 304.5L114.6 305.6L116.6 305.7L118.6 305.4L120.6 305.8L122.6 306.5L124.5 306.8L126.5 307.0L128.5 307.0L130.5 306.9L132.5 307.0L134.5 307.0L136.4 306.9L138.4 306.9L140.4 306.9L142.4 307.0L144.4 307.1L146.3 307.1L148.3 307.0L150.3 307.1L152.3 307.1L154.3 307.0L156.3 307.1L158.2 307.1L160.2 306.6L162.2 305.4L164.2 305.0L166.2 304.9L168.2 305.1L170.1 304.9L172.1 304.5L174.1 304.5L176.1 304.3L178.1 304.0L180.0 304.3L182.0 304.8L184.0 304.3L186.0 304.4L188.0 305.1L190.0 305.5L191.9 305.3L193.9 304.6L195.9 304.5L197.9 305.2L199.9 304.9L201.9 304.7L203.8 304.5L205.8 305.2L207.5 307.5Z"/>
<path d="M17.2 316.8L17.5 313.8L19.5 314.9L21.5 315.0L23.4 314.7L25.4 315.1L27.4 315.8L29.4 316.1L31.4 316.3L33.4 316.3L35.3 316.2L37.3 316.3L39.3 316.3L41.3 316.2L43.3 316.2L45.2 316.2L47.2 316.3L49.2 316.4L51.2 316.4L53.2 316.3L55.2 316.4L57.1 316.4L59.1 316.3L61.1 316.4L63.1 316.4L65.1 315.9L67.1 314.7L69.0 314.3L71.0 314.2L73.0 314.4L75.0 314.2L77.0 313.8L78.9 313.8L80.9 313.6L82.9 313.3L84.9 313.6L86.9 314.1L88.9 313.6L90.8 313.7L92.8 314.4L94.8 314.8L96.8 314.6L98.8 313.9L100.8 313.8L102.7 314.5L104.7 314.2L106.7 314.0L108.7 313.8L110.7 314.5L112.6 315.2L114.6 315.4L116.6 315.4L118.6 315.2L120.6 315.3L122.6 315.9L124.5 316.3L126.5 316.4L128.5 316.4L130.5 316.8L132.5 316.5L134.5 316.4L136.4 316.3L138.4 316.4L140.4 316.8L142.4 316.8L144.4 316.5L146.3 316.4L148.3 316.4L150.3 316.4L152.3 316.3L154.3 316.3L156.3 316.4L158.2 316.4L160.2 316.1L162.2 315.3L164.2 315.0L166.2 315.1L168.2 315.5L170.1 315.3L172.1 315.1L174.1 315.2L176.1 315.0L178.1 315.2L180.0 315.4L182.0 315.2L184.0 315.4L186.0 315.3L188.0 315.0L190.0 315.1L191.9 315.6L193.9 315.7L195.9 315.5L197.9 315.2L199.9 315.1L201.9 315.1L203.8 315.3L205.8 315.5L207.5 316.8Z"/>
<path d="M17.2 326.1L17.5 324.5L19.5 324.7L21.5 324.7L23.4 324.5L25.4 324.6L27.4 325.2L29.4 325.6L31.4 325.7L33.4 325.7L35.3 326.1L37.3 325.8L39.3 325.7L41.3 325.6L43.3 325.7L45.2 326.1L47.2 326.1L49.2 325.8L51.2 325.7L53.2 325.7L55.2 325.7L57.1 325.6L59.1 325.6L61.1 325.7L63.1 325.7L65.1 325.4L67.1 324.6L69.0 324.3L71.0 324.4L73.0 324.8L75.0 324.6L77.0 324.4L78.9 324.5L80.9 324.3L82.9 324.5L84.9 324.7L86.9 324.5L88.9 324.7L90.8 324.6L92.8 324.3L94.8 324.4L96.8 324.9L98.8 325.0L100.8 324.8L102.7 324.5L104.7 324.4L106.7 324.4L108.7 324.6L110.7 324.8L112.6 324.1L114.6 324.6L116.6 324.7L118.6 324.8L120.6 325.1L122.6 325.3L124.5 325.6L126.5 325.6L128.5 325.7L130.5 325.7L132.5 325.7L134.5 325.7L136.4 325.8L138.4 326.1L140.4 325.8L142.4 325.6L144.4 325.6L146.3 325.7L148.3 326.1L150.3 325.8L152.3 325.7L154.3 325.6L156.3 325.7L158.2 326.1L160.2 325.7L162.2 325.2L164.2 324.9L166.2 324.8L168.2 324.7L170.1 324.8L172.1 324.7L174.1 324.8L176.1 325.2L178.1 325.2L180.0 324.8L182.0 324.8L184.0 324.8L186.0 324.8L188.0 324.8L190.0 325.2L191.9 325.2L193.9 325.0L195.9 325.2L197.9 325.1L199.9 324.9L201.9 324.9L203.8 325.0L205.8 325.2L207.5 326.1Z"/>
<path d="M17.2 335.4L17.5 333.4L19.5 333.9L21.5 334.0L23.4 334.1L25.4 334.4L27.4 334.6L29.4 334.9L31.4 334.9L33.4 335.0L35.3 335.0L37.3 335.0L39.3 335.0L41.3 335.1L43.3 335.4L45.2 335.1L47.2 334.9L49.2 334.9L51.2 335.0L53.2 335.4L55.2 335.1L57.1 335.0L59.1 334.9L61.1 335.0L63.1 335.4L65.1 335.0L67.1 334.5L69.0 334.2L71.0 334.1L73.0 334.0L75.0 334.1L77.0 334.0L78.9 334.1L80.9 334.5L82.9 334.5L84.9 334.1L86.9 334.1L88.9 334.1L90.8 334.1L92.8 334.1L94.8 334.5L96.8 334.5L98.8 334.3L100.8 334.5L102.7 334.4L104.7 334.2L106.7 334.2L108.7 334.3L110.7 334.5L112.6 334.2L114.6 334.6L116.6 334.6L118.6 334.6L120.6 334.7L122.6 334.9L124.5 335.4L126.5 335.4L128.5 335.4L130.5 335.1L132.5 335.4L134.5 335.4L136.4 335.4L138.4 335.4L140.4 335.4L142.4 335.4L144.4 335.4L146.3 335.0L148.3 335.0L150.3 335.0L152.3 335.0L154.3 335.1L156.3 335.1L158.2 335.4L160.2 335.0L162.2 334.8L164.2 334.7L166.2 334.8L168.2 334.8L170.1 334.6L172.1 334.5L174.1 334.5L176.1 334.7L178.1 334.8L180.0 334.6L182.0 334.5L184.0 334.6L186.0 334.7L188.0 334.7L190.0 334.7L191.9 334.5L193.9 334.5L195.9 334.6L197.9 334.5L199.9 334.4L201.9 334.5L203.8 334.4L205.8 334.3L207.5 335.4Z"/>
<path d="M17.2 344.7L17.5 343.5L19.5 343.9L21.5 343.9L23.4 343.9L25.4 344.0L27.4 344.2L29.4 344.7L31.4 344.7L33.4 344.7L35.3 344.4L37.3 344.7L39.3 344.7L41.3 344.7L43.3 344.7L45.2 344.7L47.2 344.7L49.2 344.7L51.2 344.3L53.2 344.3L55.2 344.3L57.1 344.3L59.1 344.4L61.1 344.4L63.1 344.7L65.1 344.3L67.1 344.1L69.0 344.0L71.0 344.1L73.0 344.1L75.0 343.9L77.0 343.8L78.9 343.8L80.9 344.0L82.9 344.1L84.9 343.9L86.9 343.8L88.9 343.9L90.8 344.0L92.8 344.0L94.8 344.0L96.8 343.8L98.8 343.8L100.8 343.9L102.7 343.8L104.7 343.7L106.7 343.8L108.7 343.7L110.7 343.6L112.6 343.8L114.6 343.7L116.6 344.1L118.6 344.3L120.6 344.3L122.6 344.3L124.5 344.7L126.5 344.7L128.5 344.7L130.5 344.7L132.5 344.7L134.5 344.7L136.4 344.7L138.4 344.7L140.4 344.7L142.4 344.7L144.4 344.7L146.3 344.7L148.3 344.7L150.3 344.7L152.3 344.7L154.3 344.3L156.3 344.7L158.2 344.7L160.2 344.7L162.2 344.3L164.2 344.2L166.2 344.2L168.2 344.2L170.1 344.2L172.1 344.1L174.1 344.1L176.1 344.1L178.1 344.1L180.0 344.1L182.0 344.2L184.0 344.2L186.0 344.2L188.0 344.3L190.0 344.3L191.9 344.2L193.9 344.2L195.9 344.2L197.9 344.1L199.9 344.0L201.9 344.1L203.8 344.1L205.8 344.1L207.5 344.7Z"/>
<path d="M17.2 354L17.5 353.1L19.5 353.0L21.5 353.4L23.4 353.6L25.4 353.6L27.4 353.6L29.4 354.0L31.4 354.0L33.4 354.0L35.3 354.0L37.3 354.0L39.3 354.0L41.3 354.0L43.3 354.0L45.2 354.0L47.2 354.0L49.2 354.0L51.2 354.0L53.2 354.0L55.2 354.0L57.1 354.0L59.1 353.6L61.1 354.0L63.1 354.0L65.1 354.0L67.1 353.6L69.0 353.5L71.0 353.5L73.0 353.5L75.0 353.5L77.0 353.4L78.9 353.4L80.9 353.4L82.9 353.4L84.9 353.4L86.9 353.5L88.9 353.5L90.8 353.5L92.8 353.6L94.8 353.6L96.8 353.5L98.8 353.5L100.8 353.5L102.7 353.4L104.7 353.3L106.7 353.4L108.7 353.4L110.7 353.4L112.6 353.7L114.6 354.0L116.6 354.0L118.6 354.0L120.6 354.0L122.6 354.0L124.5 354.0L126.5 354.0L128.5 353.6L130.5 353.6L132.5 354.0L134.5 354.0L136.4 353.7L138.4 354.0L140.4 353.6L142.4 353.6L144.4 353.6L146.3 353.7L148.3 353.6L150.3 353.6L152.3 354.0L154.3 354.0L156.3 354.0L158.2 353.7L160.2 353.6L162.2 353.6L164.2 354.0L166.2 354.0L168.2 353.7L170.1 353.6L172.1 353.6L174.1 353.6L176.1 353.6L178.1 353.5L180.0 353.6L182.0 353.6L184.0 353.5L186.0 353.6L188.0 353.7L190.0 354.0L191.9 354.0L193.9 354.0L195.9 353.6L197.9 353.7L199.9 354.0L201.9 353.6L203.8 353.6L205.8 353.6L207.5 354Z"/>
</g>
<path d="M41.3 344.7H45.2M128.5 344.7H136.4M35.3 354.0H39.3" fill="none" stroke="#c0c0c0" stroke-width="1.1"/>
<text x="11.9" y="227.05" text-anchor="middle" class="tk al">1</text>
<text x="11.9" y="236.3" text-anchor="middle" class="tk al">2</text>
<text x="11.9" y="245.55" text-anchor="middle" class="tk al">3</text>
<text x="11.9" y="254.8" text-anchor="middle" class="tk al">4</text>
<text x="11.9" y="264.05" text-anchor="middle" class="tk al">5</text>
<text x="11.9" y="273.3" text-anchor="middle" class="tk al">6</text>
<text x="11.9" y="282.55" text-anchor="middle" class="tk al">7</text>
<text x="11.9" y="291.8" text-anchor="middle" class="tk al">8</text>
<text x="11.9" y="301.05" text-anchor="middle" class="tk al">9</text>
<text x="11.9" y="310.3" text-anchor="middle" class="tk al">10</text>
<text x="11.9" y="319.55" text-anchor="middle" class="tk al">11</text>
<text x="11.9" y="328.8" text-anchor="middle" class="tk al">12</text>
<text x="11.9" y="338.05" text-anchor="middle" class="tk al">13</text>
<text x="11.9" y="347.3" text-anchor="middle" class="tk al">14</text>
<path d="M17.2 354H207.5" stroke="#1a1a1a" stroke-width="1.0"/>
<text x="11.9" y="356.55" text-anchor="middle" class="tk al">15</text>
<path d="M17.2 216V354" stroke="#333" stroke-width="0.5"/>
<text transform="translate(4.6 285) rotate(-90)" text-anchor="middle" class="yl" style="font-size:5.8px">day</text>
<g fill="#808080" stroke="#151515" stroke-width="0.5"><rect x="258.6" y="337.42" width="3.91" height="10.35"/><rect x="262.51" y="334.23" width="3.91" height="13.54"/><rect x="266.43" y="334.23" width="3.91" height="13.54"/><rect x="270.34" y="336.96" width="3.91" height="10.81"/><rect x="274.25" y="343.45" width="3.91" height="4.32"/><rect x="278.16" y="343.45" width="3.91" height="4.32"/><rect x="282.08" y="342.65" width="3.91" height="5.12"/><rect x="285.99" y="344.24" width="3.91" height="3.53"/><rect x="289.9" y="339.12" width="3.91" height="8.64"/><rect x="293.81" y="335.37" width="3.91" height="12.4"/><rect x="297.73" y="326.16" width="3.91" height="21.61"/><rect x="301.64" y="331.39" width="3.91" height="16.38"/><rect x="399.45" y="236.07" width="3.91" height="111.7"/><rect x="403.36" y="265.07" width="3.91" height="82.7"/><rect x="407.27" y="314.44" width="3.91" height="33.33"/><rect x="411.19" y="331.39" width="3.91" height="16.38"/><rect x="415.1" y="336.17" width="3.91" height="11.6"/><rect x="419.01" y="332.19" width="3.91" height="15.58"/><rect x="422.92" y="335.37" width="3.91" height="12.4"/><rect x="426.84" y="332.19" width="3.91" height="15.58"/><rect x="430.75" y="335.83" width="3.91" height="11.94"/><rect x="434.66" y="335.83" width="3.91" height="11.94"/><rect x="438.57" y="338.9" width="3.91" height="8.87"/><rect x="442.49" y="334.23" width="3.91" height="13.54"/></g>
<g fill="#fff" stroke="#151515" stroke-width="0.5"><rect x="305.55" y="248.47" width="3.91" height="99.3"/><rect x="309.46" y="279.52" width="3.91" height="68.25"/><rect x="313.38" y="289.53" width="3.91" height="58.24"/><rect x="317.29" y="300.45" width="3.91" height="47.32"/><rect x="321.2" y="306.37" width="3.91" height="41.4"/><rect x="325.11" y="300.45" width="3.91" height="47.32"/><rect x="329.02" y="302.38" width="3.91" height="45.39"/><rect x="332.94" y="302.04" width="3.91" height="45.73"/><rect x="336.85" y="308.53" width="3.91" height="39.24"/><rect x="340.76" y="305.68" width="3.91" height="42.09"/><rect x="344.68" y="314.1" width="3.91" height="33.67"/><rect x="348.59" y="315.24" width="3.91" height="32.53"/><rect x="352.5" y="318.76" width="3.91" height="29.01"/><rect x="356.41" y="325.25" width="3.91" height="22.52"/><rect x="360.32" y="329.46" width="3.91" height="18.31"/><rect x="364.24" y="328.09" width="3.91" height="19.68"/><rect x="368.15" y="327.29" width="3.91" height="20.47"/><rect x="372.06" y="334.57" width="3.91" height="13.19"/><rect x="375.98" y="334.23" width="3.91" height="13.54"/><rect x="379.89" y="333.44" width="3.91" height="14.33"/><rect x="383.8" y="328.66" width="3.91" height="19.11"/><rect x="387.71" y="333.44" width="3.91" height="14.33"/><rect x="391.62" y="327.29" width="3.91" height="20.47"/><rect x="395.54" y="312.39" width="3.91" height="35.38"/></g>
<g fill="#c4002b"><circle cx="260.56" cy="334.2" r="0.58"/><circle cx="264.47" cy="331.02" r="0.58"/><circle cx="268.38" cy="332.64" r="0.58"/><circle cx="272.29" cy="334.82" r="0.58"/><circle cx="276.21" cy="341.6" r="0.58"/><circle cx="280.12" cy="341.46" r="0.58"/><circle cx="284.03" cy="339.64" r="0.58"/><circle cx="287.94" cy="343.13" r="0.58"/><circle cx="291.86" cy="336.35" r="0.58"/><circle cx="295.77" cy="333.09" r="0.58"/><circle cx="299.68" cy="322.97" r="0.58"/><circle cx="303.59" cy="329.37" r="0.58"/><circle cx="307.51" cy="241.49" r="0.58"/><circle cx="311.42" cy="275.88" r="0.58"/><circle cx="315.33" cy="284.98" r="0.58"/><circle cx="319.24" cy="298.17" r="0.58"/><circle cx="323.16" cy="300.18" r="0.58"/><circle cx="327.07" cy="296.14" r="0.58"/><circle cx="330.98" cy="298.26" r="0.58"/><circle cx="334.89" cy="296.77" r="0.58"/><circle cx="338.81" cy="304.83" r="0.58"/><circle cx="342.72" cy="299.83" r="0.58"/><circle cx="346.63" cy="312.17" r="0.58"/><circle cx="350.54" cy="310.16" r="0.58"/><circle cx="354.46" cy="315.28" r="0.58"/><circle cx="358.37" cy="320.91" r="0.58"/><circle cx="362.28" cy="325.01" r="0.58"/><circle cx="366.19" cy="323.4" r="0.58"/><circle cx="370.11" cy="325.2" r="0.58"/><circle cx="374.02" cy="331.31" r="0.58"/><circle cx="377.93" cy="332.61" r="0.58"/><circle cx="381.84" cy="331.63" r="0.58"/><circle cx="385.76" cy="326.88" r="0.58"/><circle cx="389.67" cy="331.19" r="0.58"/><circle cx="393.58" cy="325.72" r="0.58"/><circle cx="397.49" cy="307.07" r="0.58"/><circle cx="401.41" cy="231.17" r="0.58"/><circle cx="405.32" cy="257.97" r="0.58"/><circle cx="409.23" cy="310.45" r="0.58"/><circle cx="413.14" cy="329.4" r="0.58"/><circle cx="417.06" cy="334.13" r="0.58"/><circle cx="420.97" cy="329.85" r="0.58"/><circle cx="424.88" cy="332.28" r="0.58"/><circle cx="428.79" cy="330.12" r="0.58"/><circle cx="432.71" cy="332.88" r="0.58"/><circle cx="436.62" cy="332.13" r="0.58"/><circle cx="440.53" cy="335.61" r="0.58"/><circle cx="444.44" cy="332.09" r="0.58"/></g>
<path d="M258.6 211.27V347.77H446.4" fill="none" stroke="#2a2a2a" stroke-width="0.6"/>
<path d="M258.6 347.77h1.8" stroke="#333" stroke-width="0.45"/>
<text x="256.5" y="350.37" text-anchor="end" class="tk">0</text>
<path d="M258.6 325.02h1.8" stroke="#333" stroke-width="0.45"/>
<text x="256.5" y="327.62" text-anchor="end" class="tk">20</text>
<path d="M258.6 302.27h1.8" stroke="#333" stroke-width="0.45"/>
<text x="256.5" y="304.87" text-anchor="end" class="tk">40</text>
<path d="M258.6 279.52h1.8" stroke="#333" stroke-width="0.45"/>
<text x="256.5" y="282.12" text-anchor="end" class="tk">60</text>
<path d="M258.6 256.77h1.8" stroke="#333" stroke-width="0.45"/>
<text x="256.5" y="259.37" text-anchor="end" class="tk">80</text>
<path d="M258.6 234.02h1.8" stroke="#333" stroke-width="0.45"/>
<text x="256.5" y="236.62" text-anchor="end" class="tk">100</text>
<path d="M258.6 211.27h1.8" stroke="#333" stroke-width="0.45"/>
<text x="256.5" y="213.87" text-anchor="end" class="tk">120</text>
<path d="M305.55 347.77v-1.8" stroke="#333" stroke-width="0.45"/>
<text x="305.55" y="355.97" text-anchor="middle" class="tk">ZT0</text>
<path d="M399.45 347.77v-1.8" stroke="#333" stroke-width="0.45"/>
<text x="399.45" y="355.97" text-anchor="middle" class="tk">ZT12</text>
<text transform="translate(242.9 279.52) rotate(-90)" text-anchor="middle" class="yl">mean activity</text>
<g fill="#808080" stroke="#151515" stroke-width="0.5"><rect x="496.5" y="346.63" width="3.91" height="1.14"/><rect x="500.41" y="343.45" width="3.91" height="4.32"/><rect x="504.32" y="346.86" width="3.91" height="0.91"/><rect x="508.23" y="346.52" width="3.91" height="1.25"/><rect x="512.14" y="347.31" width="3.91" height="0.46"/><rect x="516.05" y="347.2" width="3.91" height="0.57"/><rect x="519.96" y="347.2" width="3.91" height="0.57"/><rect x="523.87" y="344.24" width="3.91" height="3.53"/><rect x="527.78" y="345.5" width="3.91" height="2.27"/><rect x="531.69" y="343.56" width="3.91" height="4.21"/><rect x="535.6" y="344.24" width="3.91" height="3.53"/><rect x="539.51" y="337.42" width="3.91" height="10.35"/><rect x="637.28" y="236.07" width="3.91" height="111.7"/><rect x="641.19" y="265.07" width="3.91" height="82.7"/><rect x="645.1" y="303.18" width="3.91" height="44.59"/><rect x="649.01" y="328.09" width="3.91" height="19.68"/><rect x="652.92" y="342.31" width="3.91" height="5.46"/><rect x="656.83" y="345.38" width="3.91" height="2.39"/><rect x="660.74" y="346.86" width="3.91" height="0.91"/><rect x="664.65" y="342.31" width="3.91" height="5.46"/><rect x="668.56" y="341.51" width="3.91" height="6.26"/><rect x="672.47" y="343.45" width="3.91" height="4.32"/><rect x="676.38" y="345.5" width="3.91" height="2.27"/><rect x="680.29" y="341.51" width="3.91" height="6.26"/></g>
<g fill="#fff" stroke="#151515" stroke-width="0.5"><rect x="543.42" y="253.02" width="3.91" height="94.75"/><rect x="547.34" y="302.38" width="3.91" height="45.39"/><rect x="551.25" y="311.26" width="3.91" height="36.51"/><rect x="555.16" y="312.85" width="3.91" height="34.92"/><rect x="559.07" y="302.38" width="3.91" height="45.39"/><rect x="562.98" y="313.64" width="3.91" height="34.12"/><rect x="566.89" y="302.38" width="3.91" height="45.39"/><rect x="570.8" y="303.98" width="3.91" height="43.79"/><rect x="574.71" y="312.51" width="3.91" height="35.26"/><rect x="578.62" y="315.24" width="3.91" height="32.53"/><rect x="582.53" y="324.11" width="3.91" height="23.66"/><rect x="586.44" y="320.58" width="3.91" height="27.19"/><rect x="590.35" y="320.13" width="3.91" height="27.64"/><rect x="594.26" y="329.46" width="3.91" height="18.31"/><rect x="598.17" y="338.56" width="3.91" height="9.21"/><rect x="602.08" y="334.57" width="3.91" height="13.19"/><rect x="605.99" y="335.83" width="3.91" height="11.94"/><rect x="609.9" y="332.53" width="3.91" height="15.24"/><rect x="613.81" y="340.72" width="3.91" height="7.05"/><rect x="617.72" y="333.44" width="3.91" height="14.33"/><rect x="621.63" y="336.51" width="3.91" height="11.26"/><rect x="625.54" y="331.62" width="3.91" height="16.15"/><rect x="629.45" y="319.56" width="3.91" height="28.21"/><rect x="633.36" y="301.59" width="3.91" height="46.18"/></g>
<g fill="#c4002b"><circle cx="498.46" cy="344.8" r="0.58"/><circle cx="502.37" cy="342.41" r="0.58"/><circle cx="506.28" cy="345.16" r="0.58"/><circle cx="510.19" cy="344.56" r="0.58"/><circle cx="514.1" cy="346.63" r="0.58"/><circle cx="518.01" cy="345.44" r="0.58"/><circle cx="521.92" cy="345.59" r="0.58"/><circle cx="525.83" cy="342.61" r="0.58"/><circle cx="529.74" cy="344.08" r="0.58"/><circle cx="533.65" cy="341.36" r="0.58"/><circle cx="537.56" cy="342.62" r="0.58"/><circle cx="541.47" cy="334.73" r="0.58"/><circle cx="545.38" cy="246.53" r="0.58"/><circle cx="549.29" cy="300.09" r="0.58"/><circle cx="553.2" cy="306.34" r="0.58"/><circle cx="557.11" cy="308.14" r="0.58"/><circle cx="561.02" cy="296.2" r="0.58"/><circle cx="564.93" cy="308.95" r="0.58"/><circle cx="568.84" cy="297.39" r="0.58"/><circle cx="572.75" cy="298.7" r="0.58"/><circle cx="576.66" cy="309.88" r="0.58"/><circle cx="580.57" cy="311.46" r="0.58"/><circle cx="584.48" cy="319.4" r="0.58"/><circle cx="588.39" cy="315.51" r="0.58"/><circle cx="592.31" cy="318.36" r="0.58"/><circle cx="596.22" cy="325.22" r="0.58"/><circle cx="600.13" cy="335.81" r="0.58"/><circle cx="604.04" cy="332.13" r="0.58"/><circle cx="607.95" cy="334.22" r="0.58"/><circle cx="611.86" cy="328.6" r="0.58"/><circle cx="615.77" cy="339.07" r="0.58"/><circle cx="619.68" cy="330.38" r="0.58"/><circle cx="623.59" cy="335.07" r="0.58"/><circle cx="627.5" cy="328.54" r="0.58"/><circle cx="631.41" cy="316.39" r="0.58"/><circle cx="635.32" cy="298.13" r="0.58"/><circle cx="639.23" cy="231.98" r="0.58"/><circle cx="643.14" cy="262.23" r="0.58"/><circle cx="647.05" cy="297.26" r="0.58"/><circle cx="650.96" cy="324.62" r="0.58"/><circle cx="654.87" cy="341.32" r="0.58"/><circle cx="658.78" cy="343.6" r="0.58"/><circle cx="662.69" cy="345.15" r="0.58"/><circle cx="666.6" cy="340.9" r="0.58"/><circle cx="670.51" cy="338.43" r="0.58"/><circle cx="674.42" cy="340.85" r="0.58"/><circle cx="678.33" cy="343.81" r="0.58"/><circle cx="682.24" cy="338.3" r="0.58"/></g>
<path d="M496.5 211.27V347.77H684.2" fill="none" stroke="#2a2a2a" stroke-width="0.6"/>
<path d="M496.5 347.77h1.8" stroke="#333" stroke-width="0.45"/>
<text x="494.4" y="350.37" text-anchor="end" class="tk">0</text>
<path d="M496.5 325.02h1.8" stroke="#333" stroke-width="0.45"/>
<text x="494.4" y="327.62" text-anchor="end" class="tk">20</text>
<path d="M496.5 302.27h1.8" stroke="#333" stroke-width="0.45"/>
<text x="494.4" y="304.87" text-anchor="end" class="tk">40</text>
<path d="M496.5 279.52h1.8" stroke="#333" stroke-width="0.45"/>
<text x="494.4" y="282.12" text-anchor="end" class="tk">60</text>
<path d="M496.5 256.77h1.8" stroke="#333" stroke-width="0.45"/>
<text x="494.4" y="259.37" text-anchor="end" class="tk">80</text>
<path d="M496.5 234.02h1.8" stroke="#333" stroke-width="0.45"/>
<text x="494.4" y="236.62" text-anchor="end" class="tk">100</text>
<path d="M496.5 211.27h1.8" stroke="#333" stroke-width="0.45"/>
<text x="494.4" y="213.87" text-anchor="end" class="tk">120</text>
<path d="M543.42 347.77v-1.8" stroke="#333" stroke-width="0.45"/>
<text x="543.42" y="355.97" text-anchor="middle" class="tk">ZT0</text>
<path d="M637.28 347.77v-1.8" stroke="#333" stroke-width="0.45"/>
<text x="637.28" y="355.97" text-anchor="middle" class="tk">ZT12</text>
<text transform="translate(480.8 279.52) rotate(-90)" text-anchor="middle" class="yl">mean activity</text>
<text x="16.8" y="394.16" class="tt" font-style="italic" textLength="124.3" lengthAdjust="spacing">tim-Gal4&gt;CrebB-RNAi2</text>
<text x="148.1" y="394.16" class="tt" textLength="28.9" lengthAdjust="spacing">n=16</text>
<rect x="17.2" y="408.3" width="190.3" height="138" fill="#d9d9d9"/>
<rect x="47" y="408.3" width="48" height="7.8" fill="#fff"/>
<rect x="142" y="408.3" width="48" height="7.8" fill="#fff"/>
<rect x="47" y="416.1" width="48" height="9.3" fill="#fff"/>
<rect x="142" y="416.1" width="48" height="9.3" fill="#fff"/>
<rect x="47" y="425.4" width="48" height="9.3" fill="#fff"/>
<rect x="161.5" y="425.4" width="46" height="9.3" fill="#fff"/>
<rect x="66.5" y="434.7" width="47.2" height="9.3" fill="#fff"/>
<rect x="161.5" y="434.7" width="46" height="9.3" fill="#fff"/>
<rect x="66.5" y="444" width="47.2" height="9.3" fill="#fff"/>
<rect x="161.5" y="444" width="46" height="9.3" fill="#fff"/>
<rect x="66.5" y="453.3" width="47.2" height="9.3" fill="#fff"/>
<rect x="161.5" y="453.3" width="46" height="9.3" fill="#fff"/>
<rect x="66.5" y="462.6" width="47.2" height="9.3" fill="#fff"/>
<rect x="161.5" y="462.6" width="46" height="9.3" fill="#fff"/>
<rect x="66.5" y="471.9" width="47.2" height="9.3" fill="#fff"/>
<rect x="161.5" y="471.9" width="46" height="9.3" fill="#fff"/>
<rect x="66.5" y="481.2" width="47.2" height="9.3" fill="#fff"/>
<path d="M39.6 408.3V546.3" stroke="#000" stroke-opacity="0.16" stroke-width="0.45"/>
<path d="M63.4 408.3V546.3" stroke="#000" stroke-opacity="0.16" stroke-width="0.45"/>
<path d="M87.2 408.3V546.3" stroke="#000" stroke-opacity="0.16" stroke-width="0.45"/>
<path d="M111 408.3V546.3" stroke="#000" stroke-opacity="0.16" stroke-width="0.45"/>
<path d="M134.8 408.3V546.3" stroke="#000" stroke-opacity="0.16" stroke-width="0.45"/>
<path d="M158.6 408.3V546.3" stroke="#000" stroke-opacity="0.16" stroke-width="0.45"/>
<path d="M182.4 408.3V546.3" stroke="#000" stroke-opacity="0.16" stroke-width="0.45"/>
<path d="M206.2 408.3V546.3" stroke="#000" stroke-opacity="0.16" stroke-width="0.45"/>
<path d="M17.2 416.1H207.5" stroke="#b4b4b4" stroke-width="0.5"/>
<path d="M17.2 425.4H207.5" stroke="#b4b4b4" stroke-width="0.5"/>
<path d="M17.2 434.7H207.5" stroke="#b4b4b4" stroke-width="0.5"/>
<path d="M17.2 444H207.5" stroke="#b4b4b4" stroke-width="0.5"/>
<path d="M17.2 453.3H207.5" stroke="#b4b4b4" stroke-width="0.5"/>
<path d="M17.2 462.6H207.5" stroke="#b4b4b4" stroke-width="0.5"/>
<path d="M17.2 471.9H207.5" stroke="#b4b4b4" stroke-width="0.5"/>
<path d="M17.2 481.2H207.5" stroke="#b4b4b4" stroke-width="0.5"/>
<path d="M17.2 490.5H207.5" stroke="#b4b4b4" stroke-width="0.5"/>
<path d="M17.2 499.8H207.5" stroke="#b4b4b4" stroke-width="0.5"/>
<path d="M17.2 509.1H207.5" stroke="#b4b4b4" stroke-width="0.5"/>
<path d="M17.2 518.4H207.5" stroke="#b4b4b4" stroke-width="0.5"/>
<path d="M17.2 527.7H207.5" stroke="#b4b4b4" stroke-width="0.5"/>
<path d="M17.2 537H207.5" stroke="#b4b4b4" stroke-width="0.5"/>
<g fill="#0000ff" stroke="#0a0a1e" stroke-width="0.55" stroke-linejoin="round">
<path d="M17.2 416.1L17.5 415.0L19.5 414.6L21.5 414.9L23.4 414.9L25.4 415.1L27.4 415.6L29.4 414.2L31.4 414.7L33.4 414.4L35.3 415.5L37.3 415.2L39.3 415.3L41.3 414.6L43.3 413.8L45.2 414.0L47.2 411.7L49.2 414.1L51.2 414.0L53.2 414.9L55.2 415.0L57.1 415.3L59.1 414.7L61.1 415.2L63.1 415.2L65.1 415.4L67.1 415.5L69.0 415.6L71.0 415.2L73.0 415.2L75.0 415.6L77.0 415.4L78.9 415.6L80.9 415.6L82.9 414.9L84.9 415.1L86.9 415.1L88.9 414.0L90.8 414.0L92.8 413.5L94.8 407.0L96.8 413.2L98.8 415.5L100.8 416.1L102.7 416.1L104.7 416.1L106.7 415.6L108.7 415.3L110.7 415.4L112.6 414.8L114.6 414.8L116.6 414.5L118.6 414.7L120.6 415.2L122.6 415.4L124.5 413.5L126.5 414.2L128.5 415.0L130.5 415.3L132.5 415.3L134.5 415.2L136.4 414.7L138.4 413.8L140.4 414.4L142.4 412.1L144.4 414.0L146.3 414.5L148.3 414.4L150.3 415.2L152.3 415.2L154.3 414.8L156.3 415.2L158.2 414.9L160.2 415.4L162.2 415.4L164.2 415.4L166.2 415.1L168.2 414.8L170.1 415.6L172.1 415.4L174.1 415.6L176.1 415.6L178.1 414.3L180.0 415.3L182.0 415.2L184.0 414.1L186.0 413.9L188.0 412.4L190.0 408.9L191.9 413.3L193.9 415.7L195.9 416.1L197.9 416.1L199.9 416.1L201.9 415.4L203.8 415.6L205.8 415.4L207.5 416.1Z"/>
<path d="M17.2 425.4L17.5 424.1L19.5 424.1L21.5 423.8L23.4 424.0L25.4 424.5L27.4 424.7L29.4 422.8L31.4 423.5L33.4 424.3L35.3 424.6L37.3 424.6L39.3 424.5L41.3 424.0L43.3 423.1L45.2 423.7L47.2 421.4L49.2 423.3L51.2 423.8L53.2 423.7L55.2 424.5L57.1 424.5L59.1 424.1L61.1 424.5L63.1 424.2L65.1 424.7L67.1 424.7L69.0 424.7L71.0 424.4L73.0 424.1L75.0 424.9L77.0 424.7L78.9 424.9L80.9 424.9L82.9 423.6L84.9 424.6L86.9 424.5L88.9 423.4L90.8 423.2L92.8 421.7L94.8 418.2L96.8 422.6L98.8 425.0L100.8 425.4L102.7 425.4L104.7 425.4L106.7 424.7L108.7 424.9L110.7 424.7L112.6 423.9L114.6 423.9L116.6 423.7L118.6 424.1L120.6 424.5L122.6 424.8L124.5 423.0L126.5 423.8L128.5 424.2L130.5 424.7L132.5 424.2L134.5 424.7L136.4 424.3L138.4 423.4L140.4 423.4L142.4 419.9L144.4 423.1L146.3 423.2L148.3 424.0L150.3 424.4L152.3 424.5L154.3 424.2L156.3 424.5L158.2 424.5L160.2 424.5L162.2 424.6L164.2 424.7L166.2 424.3L168.2 424.6L170.1 424.8L172.1 424.8L174.1 424.9L176.1 424.8L178.1 423.5L180.0 424.6L182.0 424.5L184.0 424.0L186.0 422.3L188.0 422.5L190.0 417.8L191.9 421.6L193.9 424.9L195.9 425.4L197.9 425.4L199.9 425.4L201.9 424.9L203.8 424.8L205.8 424.9L207.5 425.4Z"/>
<path d="M17.2 434.7L17.5 433.2L19.5 433.2L21.5 433.0L23.4 433.4L25.4 433.8L27.4 434.1L29.4 432.3L31.4 433.1L33.4 433.5L35.3 434.0L37.3 433.5L39.3 434.0L41.3 433.6L43.3 432.7L45.2 432.7L47.2 429.2L49.2 432.4L51.2 432.5L53.2 433.3L55.2 433.7L57.1 433.8L59.1 433.5L61.1 433.8L63.1 433.8L65.1 433.8L67.1 433.9L69.0 434.0L71.0 433.6L73.0 433.9L75.0 434.1L77.0 434.1L78.9 434.2L80.9 434.1L82.9 432.8L84.9 433.9L86.9 433.8L88.9 433.3L90.8 431.6L92.8 431.8L94.8 427.1L96.8 430.9L98.8 434.2L100.8 434.7L102.7 434.7L104.7 434.7L106.7 434.2L108.7 434.1L110.7 434.2L112.6 433.7L114.6 433.5L116.6 433.8L118.6 433.4L120.6 434.1L122.6 434.2L124.5 433.2L126.5 433.4L128.5 433.4L130.5 434.1L132.5 433.9L134.5 434.1L136.4 433.7L138.4 432.4L140.4 433.2L142.4 432.3L144.4 433.2L146.3 433.5L148.3 433.6L150.3 434.1L152.3 433.9L154.3 433.9L156.3 434.1L158.2 434.0L160.2 434.1L162.2 433.4L164.2 433.7L166.2 433.3L168.2 433.6L170.1 433.7L172.1 434.0L174.1 433.9L176.1 434.2L178.1 434.2L180.0 434.7L182.0 434.7L184.0 434.7L186.0 433.8L188.0 432.7L190.0 432.3L191.9 432.6L193.9 432.2L195.9 432.6L197.9 432.4L199.9 432.3L201.9 432.4L203.8 431.9L205.8 431.5L207.5 434.7Z"/>
<path d="M17.2 444L17.5 443.0L19.5 442.8L21.5 443.1L23.4 442.7L25.4 443.4L27.4 443.5L29.4 442.5L31.4 442.7L33.4 442.7L35.3 443.4L37.3 443.2L39.3 443.4L41.3 443.0L43.3 441.7L45.2 442.5L47.2 441.6L49.2 442.5L51.2 442.8L53.2 442.9L55.2 443.4L57.1 443.2L59.1 443.2L61.1 443.4L63.1 443.3L65.1 443.4L67.1 442.7L69.0 443.0L71.0 442.6L73.0 442.9L75.0 443.0L77.0 443.3L78.9 443.2L80.9 443.5L82.9 443.5L84.9 444.0L86.9 444.0L88.9 444.0L90.8 443.1L92.8 442.0L94.8 441.6L96.8 441.9L98.8 441.5L100.8 441.9L102.7 441.7L104.7 441.6L106.7 441.7L108.7 441.2L110.7 440.8L112.6 439.9L114.6 438.5L116.6 442.4L118.6 444.0L120.6 444.0L122.6 444.0L124.5 444.0L126.5 444.0L128.5 443.5L130.5 443.3L132.5 443.4L134.5 443.6L136.4 443.2L138.4 443.2L140.4 442.4L142.4 442.7L144.4 443.0L146.3 443.0L148.3 443.3L150.3 443.4L152.3 444.0L154.3 444.0L156.3 442.3L158.2 442.3L160.2 442.9L162.2 440.7L164.2 441.4L166.2 442.1L168.2 442.9L170.1 442.9L172.1 443.4L174.1 443.4L176.1 443.3L178.1 443.6L180.0 444.0L182.0 444.0L184.0 444.0L186.0 444.0L188.0 444.0L190.0 444.0L191.9 444.0L193.9 444.0L195.9 444.0L197.9 444.0L199.9 443.3L201.9 442.7L203.8 441.3L205.8 440.4L207.5 444Z"/>
<path d="M17.2 453.3L17.5 449.2L19.5 447.8L21.5 451.7L23.4 453.3L25.4 453.3L27.4 453.3L29.4 453.3L31.4 453.3L33.4 452.8L35.3 452.6L37.3 452.7L39.3 452.9L41.3 452.5L43.3 452.5L45.2 451.7L47.2 452.0L49.2 452.3L51.2 452.3L53.2 452.6L55.2 452.7L57.1 453.3L59.1 453.3L61.1 451.6L63.1 451.6L65.1 452.2L67.1 450.0L69.0 450.7L71.0 451.4L73.0 452.2L75.0 452.2L77.0 452.7L78.9 452.7L80.9 452.6L82.9 452.9L84.9 453.3L86.9 453.3L88.9 453.3L90.8 453.3L92.8 453.3L94.8 453.3L96.8 453.3L98.8 453.3L100.8 453.3L102.7 453.3L104.7 452.6L106.7 452.0L108.7 450.6L110.7 449.7L112.6 447.8L114.6 445.6L116.6 451.2L118.6 453.3L120.6 453.3L122.6 453.3L124.5 453.3L126.5 453.3L128.5 453.0L130.5 452.6L132.5 452.7L134.5 452.8L136.4 452.6L138.4 452.6L140.4 451.8L142.4 451.8L144.4 452.1L146.3 452.4L148.3 452.4L150.3 452.8L152.3 452.9L154.3 453.3L156.3 452.0L158.2 450.9L160.2 452.0L162.2 450.4L164.2 451.0L166.2 451.2L168.2 452.3L170.1 452.4L172.1 452.7L174.1 452.5L176.1 452.7L178.1 452.9L180.0 453.3L182.0 453.3L184.0 453.3L186.0 453.3L188.0 453.3L190.0 453.0L191.9 453.3L193.9 453.3L195.9 453.3L197.9 452.9L199.9 452.7L201.9 452.2L203.8 450.7L205.8 450.5L207.5 453.3Z"/>
<path d="M17.2 462.6L17.5 457.1L19.5 454.9L21.5 460.5L23.4 462.6L25.4 462.6L27.4 462.6L29.4 462.6L31.4 462.6L33.4 462.3L35.3 461.9L37.3 462.0L39.3 462.1L41.3 461.9L43.3 461.9L45.2 461.1L47.2 461.1L49.2 461.4L51.2 461.7L53.2 461.7L55.2 462.1L57.1 462.2L59.1 462.6L61.1 461.3L63.1 460.2L65.1 461.3L67.1 459.7L69.0 460.3L71.0 460.5L73.0 461.6L75.0 461.7L77.0 462.0L78.9 461.8L80.9 462.0L82.9 462.2L84.9 462.6L86.9 462.6L88.9 462.6L90.8 462.6L92.8 462.6L94.8 462.3L96.8 462.6L98.8 462.6L100.8 462.6L102.7 462.2L104.7 462.0L106.7 461.5L108.7 460.0L110.7 459.8L112.6 458.5L114.6 455.8L116.6 460.4L118.6 462.2L120.6 462.6L122.6 462.6L124.5 462.6L126.5 462.6L128.5 462.2L130.5 461.9L132.5 462.2L134.5 462.1L136.4 461.9L138.4 462.1L140.4 461.3L142.4 461.5L144.4 461.5L146.3 461.7L148.3 461.8L150.3 462.0L152.3 462.6L154.3 462.6L156.3 461.5L158.2 460.0L160.2 460.9L162.2 459.8L164.2 459.7L166.2 460.8L168.2 461.6L170.1 461.8L172.1 461.9L174.1 462.0L176.1 462.1L178.1 462.2L180.0 462.6L182.0 462.2L184.0 462.6L186.0 462.6L188.0 462.6L190.0 462.3L191.9 462.6L193.9 462.6L195.9 462.6L197.9 462.6L199.9 461.9L201.9 461.3L203.8 459.8L205.8 459.6L207.5 462.6Z"/>
<path d="M17.2 471.9L17.5 467.8L19.5 465.1L21.5 469.7L23.4 471.5L25.4 471.9L27.4 471.9L29.4 471.9L31.4 471.9L33.4 471.5L35.3 471.2L37.3 471.5L39.3 471.4L41.3 471.2L43.3 471.4L45.2 470.6L47.2 470.8L49.2 470.8L51.2 471.0L53.2 471.1L55.2 471.3L57.1 471.9L59.1 471.9L61.1 470.8L63.1 469.3L65.1 470.2L67.1 469.1L69.0 469.0L71.0 470.1L73.0 470.9L75.0 471.1L77.0 471.2L78.9 471.3L80.9 471.4L82.9 471.5L84.9 471.9L86.9 471.5L88.9 471.9L90.8 471.9L92.8 471.9L94.8 471.6L96.8 471.9L98.8 471.9L100.8 471.9L102.7 471.9L104.7 471.2L106.7 470.6L108.7 469.1L110.7 468.9L112.6 466.4L114.6 466.1L116.6 470.0L118.6 471.5L120.6 471.9L122.6 471.9L124.5 471.9L126.5 471.9L128.5 471.9L130.5 471.2L132.5 471.5L134.5 471.5L136.4 471.2L138.4 471.3L140.4 470.4L142.4 470.7L144.4 470.7L146.3 470.7L148.3 470.9L150.3 471.3L152.3 471.9L154.3 471.9L156.3 470.6L158.2 470.1L160.2 470.6L162.2 468.4L164.2 469.2L166.2 470.3L168.2 470.9L170.1 470.9L172.1 471.4L174.1 471.2L176.1 471.4L178.1 471.5L180.0 471.9L182.0 471.9L184.0 471.9L186.0 471.9L188.0 471.9L190.0 471.9L191.9 471.9L193.9 471.6L195.9 471.9L197.9 471.5L199.9 471.3L201.9 470.4L203.8 468.5L205.8 467.7L207.5 471.9Z"/>
<path d="M17.2 481.2L17.5 475.7L19.5 475.4L21.5 479.3L23.4 480.8L25.4 481.2L27.4 481.2L29.4 481.2L31.4 481.2L33.4 481.2L35.3 480.5L37.3 480.8L39.3 480.8L41.3 480.5L43.3 480.6L45.2 479.7L47.2 480.0L49.2 480.0L51.2 480.0L53.2 480.2L55.2 480.6L57.1 481.2L59.1 481.2L61.1 479.9L63.1 479.4L65.1 479.9L67.1 477.7L69.0 478.5L71.0 479.6L73.0 480.2L75.0 480.2L77.0 480.7L78.9 480.5L80.9 480.7L82.9 480.8L84.9 481.2L86.9 481.2L88.9 481.2L90.8 481.2L92.8 481.2L94.8 481.2L96.8 481.2L98.8 480.9L100.8 481.2L102.7 480.8L104.7 480.6L106.7 479.7L108.7 477.8L110.7 477.0L112.6 475.8L114.6 473.8L116.6 479.3L118.6 480.8L120.6 481.2L122.6 481.2L124.5 481.2L126.5 481.2L128.5 480.8L130.5 480.7L132.5 480.7L134.5 480.8L136.4 480.5L138.4 480.6L140.4 479.9L142.4 479.8L144.4 480.0L146.3 480.0L148.3 480.4L150.3 480.7L152.3 480.8L154.3 481.2L156.3 479.6L158.2 479.5L160.2 480.0L162.2 478.1L164.2 478.7L166.2 479.5L168.2 480.0L170.1 480.1L172.1 480.7L174.1 480.6L176.1 480.5L178.1 480.7L180.0 481.2L182.0 480.9L184.0 481.2L186.0 481.2L188.0 481.2L190.0 481.2L191.9 481.2L193.9 481.2L195.9 481.2L197.9 480.9L199.9 480.7L201.9 480.1L203.8 478.4L205.8 478.1L207.5 481.2Z"/>
<path d="M17.2 490.5L17.5 485.1L19.5 483.1L21.5 488.6L23.4 490.1L25.4 490.5L27.4 490.5L29.4 490.5L31.4 490.5L33.4 490.1L35.3 490.0L37.3 490.0L39.3 490.1L41.3 489.8L43.3 489.9L45.2 489.2L47.2 489.1L49.2 489.3L51.2 489.3L53.2 489.7L55.2 490.0L57.1 490.1L59.1 490.5L61.1 488.9L63.1 488.8L65.1 489.3L67.1 487.4L69.0 488.0L71.0 488.8L73.0 489.3L75.0 489.4L77.0 490.0L78.9 489.9L80.9 489.8L82.9 490.0L84.9 490.5L86.9 490.2L88.9 490.5L90.8 490.5L92.8 490.5L94.8 490.5L96.8 490.5L98.8 490.5L100.8 490.5L102.7 490.2L104.7 490.0L106.7 489.4L108.7 487.7L110.7 487.4L112.6 486.4L114.6 483.2L116.6 488.9L118.6 489.7L120.6 489.4L122.6 489.6L124.5 489.7L126.5 489.7L128.5 489.8L130.5 489.7L132.5 489.6L134.5 489.5L136.4 488.9L138.4 488.5L140.4 488.7L142.4 489.0L144.4 489.0L146.3 489.1L148.3 489.0L150.3 488.8L152.3 488.5L154.3 488.7L156.3 488.7L158.2 488.9L160.2 488.9L162.2 488.7L164.2 488.5L166.2 488.4L168.2 488.7L170.1 489.0L172.1 488.5L174.1 488.6L176.1 488.8L178.1 488.5L180.0 488.6L182.0 489.0L184.0 488.9L186.0 488.6L188.0 488.4L190.0 488.5L191.9 488.4L193.9 488.2L195.9 488.5L197.9 489.2L199.9 489.2L201.9 489.0L203.8 488.8L205.8 488.3L207.5 490.5Z"/>
<path d="M17.2 499.8L17.5 495.7L19.5 492.5L21.5 498.2L23.4 499.0L25.4 498.7L27.4 498.9L29.4 499.0L31.4 499.0L33.4 499.1L35.3 499.0L37.3 498.9L39.3 498.8L41.3 498.2L43.3 497.8L45.2 498.0L47.2 498.3L49.2 498.3L51.2 498.4L53.2 498.3L55.2 498.1L57.1 497.8L59.1 498.0L61.1 498.0L63.1 498.2L65.1 498.2L67.1 498.0L69.0 497.8L71.0 497.7L73.0 498.0L75.0 498.3L77.0 497.8L78.9 497.9L80.9 498.1L82.9 497.8L84.9 497.9L86.9 498.3L88.9 498.2L90.8 497.9L92.8 497.7L94.8 497.8L96.8 497.7L98.8 497.5L100.8 497.8L102.7 498.5L104.7 498.5L106.7 498.3L108.7 498.1L110.7 497.6L112.6 498.4L114.6 498.4L116.6 498.7L118.6 499.0L120.6 499.1L122.6 499.0L124.5 498.9L126.5 499.2L128.5 499.3L130.5 499.1L132.5 498.8L134.5 498.8L136.4 498.8L138.4 498.7L140.4 498.8L142.4 498.6L144.4 498.6L146.3 498.6L148.3 498.7L150.3 498.9L152.3 498.9L154.3 498.9L156.3 498.6L158.2 498.3L160.2 498.4L162.2 498.7L164.2 498.6L166.2 498.7L168.2 498.8L170.1 498.6L172.1 498.7L174.1 498.8L176.1 498.9L178.1 498.6L180.0 498.1L182.0 497.9L184.0 498.3L186.0 498.5L188.0 498.5L190.0 498.6L191.9 498.5L193.9 498.8L195.9 498.8L197.9 498.7L199.9 498.5L201.9 498.5L203.8 498.4L205.8 498.2L207.5 499.8Z"/>
<path d="M17.2 509.1L17.5 507.7L19.5 507.7L21.5 508.0L23.4 508.3L25.4 508.4L27.4 508.3L29.4 508.2L31.4 508.5L33.4 508.6L35.3 508.4L37.3 508.1L39.3 508.1L41.3 508.1L43.3 508.0L45.2 508.1L47.2 507.9L49.2 507.9L51.2 507.9L53.2 508.0L55.2 508.2L57.1 508.2L59.1 508.2L61.1 507.9L63.1 507.6L65.1 507.7L67.1 508.0L69.0 507.9L71.0 508.0L73.0 508.1L75.0 507.9L77.0 508.0L78.9 508.1L80.9 508.2L82.9 507.9L84.9 507.4L86.9 507.2L88.9 507.6L90.8 507.8L92.8 507.8L94.8 507.9L96.8 507.8L98.8 508.1L100.8 508.1L102.7 508.0L104.7 507.8L106.7 507.8L108.7 507.7L110.7 507.5L112.6 507.2L114.6 507.7L116.6 507.9L118.6 507.6L120.6 507.5L122.6 507.8L124.5 508.0L126.5 508.4L128.5 508.6L130.5 508.6L132.5 508.7L134.5 508.7L136.4 508.6L138.4 508.6L140.4 508.7L142.4 508.7L144.4 508.7L146.3 508.7L148.3 508.7L150.3 508.7L152.3 508.7L154.3 508.7L156.3 508.8L158.2 508.7L160.2 508.5L162.2 508.4L164.2 508.3L166.2 507.9L168.2 507.6L170.1 507.7L172.1 508.2L174.1 508.4L176.1 508.1L178.1 508.2L180.0 508.1L182.0 508.0L184.0 507.9L186.0 508.1L188.0 508.3L190.0 508.2L191.9 508.0L193.9 507.8L195.9 507.9L197.9 507.9L199.9 508.0L201.9 508.3L203.8 508.3L205.8 507.9L207.5 509.1Z"/>
<path d="M17.2 518.4L17.5 516.5L19.5 517.0L21.5 517.2L23.4 516.9L25.4 516.8L27.4 517.1L29.4 517.3L31.4 517.7L33.4 517.9L35.3 517.9L37.3 518.0L39.3 518.0L41.3 517.9L43.3 517.9L45.2 518.0L47.2 518.0L49.2 518.0L51.2 518.0L53.2 518.0L55.2 518.0L57.1 518.0L59.1 518.0L61.1 518.1L63.1 518.0L65.1 517.8L67.1 517.7L69.0 517.6L71.0 517.2L73.0 516.9L75.0 517.0L77.0 517.5L78.9 517.7L80.9 517.4L82.9 517.5L84.9 517.4L86.9 517.3L88.9 517.2L90.8 517.4L92.8 517.6L94.8 517.5L96.8 517.3L98.8 517.1L100.8 517.2L102.7 517.2L104.7 517.3L106.7 517.6L108.7 517.6L110.7 517.2L112.6 516.8L114.6 516.6L116.6 516.6L118.6 516.9L120.6 517.2L122.6 517.2L124.5 517.2L126.5 517.5L128.5 517.7L130.5 517.7L132.5 517.6L134.5 517.9L136.4 518.4L138.4 518.4L140.4 518.4L142.4 518.4L144.4 518.4L146.3 518.0L148.3 518.0L150.3 518.0L152.3 518.4L154.3 518.4L156.3 518.4L158.2 518.4L160.2 518.1L162.2 518.0L164.2 517.9L166.2 517.9L168.2 517.9L170.1 517.9L172.1 518.0L174.1 518.1L176.1 518.0L178.1 517.9L180.0 517.9L182.0 518.0L184.0 518.4L186.0 518.4L188.0 518.0L190.0 518.0L191.9 518.0L193.9 518.0L195.9 518.0L197.9 518.0L199.9 517.9L201.9 517.9L203.8 518.1L205.8 518.4L207.5 518.4Z"/>
<path d="M17.2 527.7L17.5 526.1L19.5 525.9L21.5 525.9L23.4 526.2L25.4 526.5L27.4 526.5L29.4 526.5L31.4 526.8L33.4 527.0L35.3 527.0L37.3 526.9L39.3 527.2L41.3 527.7L43.3 527.7L45.2 527.7L47.2 527.7L49.2 527.7L51.2 527.3L53.2 527.3L55.2 527.3L57.1 527.7L59.1 527.7L61.1 527.7L63.1 527.7L65.1 527.4L67.1 527.3L69.0 527.2L71.0 527.2L73.0 527.2L75.0 527.2L77.0 527.3L78.9 527.4L80.9 527.3L82.9 527.2L84.9 527.2L86.9 527.3L88.9 527.7L90.8 527.7L92.8 527.3L94.8 527.3L96.8 527.3L98.8 527.3L100.8 527.3L102.7 527.3L104.7 527.2L106.7 527.2L108.7 527.4L110.7 527.7L112.6 527.7L114.6 527.7L116.6 527.7L118.6 527.7L120.6 527.7L122.6 527.7L124.5 527.3L126.5 527.7L128.5 527.7L130.5 527.7L132.5 527.7L134.5 527.4L136.4 527.4L138.4 527.7L140.4 527.7L142.4 527.7L144.4 527.7L146.3 527.7L148.3 527.7L150.3 527.7L152.3 527.7L154.3 527.7L156.3 527.7L158.2 527.7L160.2 527.7L162.2 527.7L164.2 527.4L166.2 527.7L168.2 527.7L170.1 527.7L172.1 527.7L174.1 527.7L176.1 527.7L178.1 527.7L180.0 527.7L182.0 527.7L184.0 527.7L186.0 527.4L188.0 527.7L190.0 527.7L191.9 527.7L193.9 527.4L195.9 527.3L197.9 527.3L199.9 527.4L201.9 527.4L203.8 527.7L205.8 527.3L207.5 527.7Z"/>
<path d="M17.2 537L17.5 537.0L19.5 537.0L21.5 537.0L23.4 537.0L25.4 537.0L27.4 537.0L29.4 536.6L31.4 537.0L33.4 537.0L35.3 537.0L37.3 537.0L39.3 536.7L41.3 536.7L43.3 537.0L45.2 537.0L47.2 537.0L49.2 537.0L51.2 537.0L53.2 537.0L55.2 537.0L57.1 537.0L59.1 537.0L61.1 537.0L63.1 537.0L65.1 537.0L67.1 537.0L69.0 536.7L71.0 537.0L73.0 537.0L75.0 537.0L77.0 537.0L78.9 537.0L80.9 537.0L82.9 537.0L84.9 537.0L86.9 537.0L88.9 537.0L90.8 536.7L92.8 537.0L94.8 537.0L96.8 537.0L98.8 536.7L100.8 536.6L102.7 536.6L104.7 536.7L106.7 536.7L108.7 537.0L110.7 536.6L112.6 537.0L114.6 537.0L116.6 537.0L118.6 537.0L120.6 537.0L122.6 537.0L124.5 537.0L126.5 537.0L128.5 537.0L130.5 537.0L132.5 537.0L134.5 537.0L136.4 537.0L138.4 537.0L140.4 537.0L142.4 537.0L144.4 537.0L146.3 537.0L148.3 537.0L150.3 537.0L152.3 537.0L154.3 537.0L156.3 537.0L158.2 537.0L160.2 537.0L162.2 537.0L164.2 537.0L166.2 536.6L168.2 536.6L170.1 536.6L172.1 537.0L174.1 537.0L176.1 537.0L178.1 537.0L180.0 537.0L182.0 537.0L184.0 537.0L186.0 536.6L188.0 536.7L190.0 537.0L191.9 537.0L193.9 537.0L195.9 537.0L197.9 537.0L199.9 536.7L201.9 537.0L203.8 537.0L205.8 537.0L207.5 537Z"/>
<path d="M17.2 546.3L17.5 546.3L19.5 546.3L21.5 546.3L23.4 546.3L25.4 546.3L27.4 546.3L29.4 546.3L31.4 546.3L33.4 546.3L35.3 546.3L37.3 546.3L39.3 546.3L41.3 546.3L43.3 546.3L45.2 546.3L47.2 546.3L49.2 546.3L51.2 546.3L53.2 546.3L55.2 546.3L57.1 546.3L59.1 546.3L61.1 546.3L63.1 546.3L65.1 546.3L67.1 546.3L69.0 546.3L71.0 545.9L73.0 545.9L75.0 545.9L77.0 546.3L78.9 546.3L80.9 546.3L82.9 546.3L84.9 546.3L86.9 546.3L88.9 546.3L90.8 545.9L92.8 546.0L94.8 546.3L96.8 546.3L98.8 546.3L100.8 546.3L102.7 546.3L104.7 546.0L106.7 546.3L108.7 546.3L110.7 546.3L112.6 546.3L114.6 546.3L116.6 546.3L118.6 546.3L120.6 546.3L122.6 546.3L124.5 546.3L126.5 546.3L128.5 546.3L130.5 546.3L132.5 546.3L134.5 546.3L136.4 546.3L138.4 546.3L140.4 546.3L142.4 546.3L144.4 546.3L146.3 546.3L148.3 546.3L150.3 546.3L152.3 546.3L154.3 546.3L156.3 546.3L158.2 546.3L160.2 546.3L162.2 546.3L164.2 546.3L166.2 546.3L168.2 546.3L170.1 546.3L172.1 546.3L174.1 546.3L176.1 546.3L178.1 546.3L180.0 546.3L182.0 546.3L184.0 546.3L186.0 546.3L188.0 546.3L190.0 546.3L191.9 546.3L193.9 546.3L195.9 546.3L197.9 546.3L199.9 546.3L201.9 546.3L203.8 546.3L205.8 546.3L207.5 546.3Z"/>
</g>
<path d="M132.5 537.0H138.4M47.2 546.3H55.2M57.1 546.3H67.1M140.4 546.3H154.3" fill="none" stroke="#c0c0c0" stroke-width="1.1"/>
<text x="11.9" y="419.35" text-anchor="middle" class="tk al">1</text>
<text x="11.9" y="428.6" text-anchor="middle" class="tk al">2</text>
<text x="11.9" y="437.85" text-anchor="middle" class="tk al">3</text>
<text x="11.9" y="447.1" text-anchor="middle" class="tk al">4</text>
<text x="11.9" y="456.35" text-anchor="middle" class="tk al">5</text>
<text x="11.9" y="465.6" text-anchor="middle" class="tk al">6</text>
<text x="11.9" y="474.85" text-anchor="middle" class="tk al">7</text>
<text x="11.9" y="484.1" text-anchor="middle" class="tk al">8</text>
<text x="11.9" y="493.35" text-anchor="middle" class="tk al">9</text>
<text x="11.9" y="502.6" text-anchor="middle" class="tk al">10</text>
<text x="11.9" y="511.85" text-anchor="middle" class="tk al">11</text>
<text x="11.9" y="521.1" text-anchor="middle" class="tk al">12</text>
<text x="11.9" y="530.35" text-anchor="middle" class="tk al">13</text>
<text x="11.9" y="539.6" text-anchor="middle" class="tk al">14</text>
<path d="M17.2 546.3H207.5" stroke="#1a1a1a" stroke-width="1.0"/>
<text x="11.9" y="548.85" text-anchor="middle" class="tk al">15</text>
<path d="M17.2 408.3V546.3" stroke="#333" stroke-width="0.5"/>
<text transform="translate(4.6 477.3) rotate(-90)" text-anchor="middle" class="yl" style="font-size:5.8px">day</text>
<g fill="#808080" stroke="#151515" stroke-width="0.5"><rect x="255.6" y="517.12" width="3.97" height="22.82"/><rect x="259.57" y="524.98" width="3.97" height="14.96"/><rect x="263.55" y="530.38" width="3.97" height="9.56"/><rect x="267.52" y="506.32" width="3.97" height="33.62"/><rect x="271.5" y="513.26" width="3.97" height="26.68"/><rect x="275.48" y="517.89" width="3.97" height="22.05"/><rect x="279.45" y="530.07" width="3.97" height="9.87"/><rect x="283.43" y="523.13" width="3.97" height="16.81"/><rect x="287.4" y="526.83" width="3.97" height="13.11"/><rect x="291.38" y="519.27" width="3.97" height="20.67"/><rect x="295.35" y="500.77" width="3.97" height="39.17"/><rect x="299.32" y="511.1" width="3.97" height="28.84"/><rect x="398.7" y="407.46" width="3.97" height="132.48"/><rect x="402.67" y="487.5" width="3.97" height="52.44"/><rect x="406.65" y="531.61" width="3.97" height="8.33"/><rect x="410.62" y="537.47" width="3.97" height="2.47"/><rect x="414.6" y="534.85" width="3.97" height="5.09"/><rect x="418.57" y="535.47" width="3.97" height="4.47"/><rect x="422.55" y="530.38" width="3.97" height="9.56"/><rect x="426.52" y="528.68" width="3.97" height="11.26"/><rect x="430.5" y="528.68" width="3.97" height="11.26"/><rect x="434.47" y="518.35" width="3.97" height="21.59"/><rect x="438.45" y="513.11" width="3.97" height="26.83"/><rect x="442.42" y="516.34" width="3.97" height="23.6"/></g>
<g fill="#fff" stroke="#151515" stroke-width="0.5"><rect x="303.3" y="464.37" width="3.97" height="75.57"/><rect x="307.27" y="503.85" width="3.97" height="36.09"/><rect x="311.25" y="511.1" width="3.97" height="28.84"/><rect x="315.22" y="515.11" width="3.97" height="24.83"/><rect x="319.2" y="525.13" width="3.97" height="14.81"/><rect x="323.17" y="526.37" width="3.97" height="13.57"/><rect x="327.15" y="520.35" width="3.97" height="19.59"/><rect x="331.12" y="525.13" width="3.97" height="14.81"/><rect x="335.1" y="521.28" width="3.97" height="18.66"/><rect x="339.07" y="525.13" width="3.97" height="14.81"/><rect x="343.05" y="527.6" width="3.97" height="12.34"/><rect x="347.02" y="529.14" width="3.97" height="10.8"/><rect x="351" y="523.44" width="3.97" height="16.5"/><rect x="354.97" y="523.13" width="3.97" height="16.81"/><rect x="358.95" y="531.15" width="3.97" height="8.79"/><rect x="362.92" y="529.61" width="3.97" height="10.33"/><rect x="366.9" y="532.38" width="3.97" height="7.56"/><rect x="370.88" y="530.38" width="3.97" height="9.56"/><rect x="374.85" y="515.11" width="3.97" height="24.83"/><rect x="378.82" y="525.6" width="3.97" height="14.34"/><rect x="382.8" y="523.9" width="3.97" height="16.04"/><rect x="386.77" y="511.41" width="3.97" height="28.53"/><rect x="390.75" y="499.38" width="3.97" height="40.56"/><rect x="394.73" y="490.59" width="3.97" height="49.35"/></g>
<g fill="#c4002b"><circle cx="257.59" cy="513.96" r="0.58"/><circle cx="261.56" cy="520.79" r="0.58"/><circle cx="265.54" cy="527.98" r="0.58"/><circle cx="269.51" cy="501.39" r="0.58"/><circle cx="273.49" cy="508.66" r="0.58"/><circle cx="277.46" cy="513.11" r="0.58"/><circle cx="281.44" cy="528.22" r="0.58"/><circle cx="285.41" cy="519.23" r="0.58"/><circle cx="289.39" cy="523.89" r="0.58"/><circle cx="293.36" cy="517.27" r="0.58"/><circle cx="297.34" cy="495.59" r="0.58"/><circle cx="301.31" cy="508.64" r="0.58"/><circle cx="305.29" cy="457.24" r="0.58"/><circle cx="309.26" cy="501.35" r="0.58"/><circle cx="313.24" cy="506.87" r="0.58"/><circle cx="317.21" cy="510.91" r="0.58"/><circle cx="321.19" cy="522.75" r="0.58"/><circle cx="325.16" cy="523.82" r="0.58"/><circle cx="329.14" cy="515.68" r="0.58"/><circle cx="333.11" cy="523.15" r="0.58"/><circle cx="337.09" cy="517.23" r="0.58"/><circle cx="341.06" cy="521.25" r="0.58"/><circle cx="345.04" cy="524.63" r="0.58"/><circle cx="349.01" cy="526.33" r="0.58"/><circle cx="352.99" cy="520.65" r="0.58"/><circle cx="356.96" cy="518.73" r="0.58"/><circle cx="360.94" cy="528.24" r="0.58"/><circle cx="364.91" cy="525.91" r="0.58"/><circle cx="368.89" cy="529.55" r="0.58"/><circle cx="372.86" cy="526.86" r="0.58"/><circle cx="376.84" cy="511.74" r="0.58"/><circle cx="380.81" cy="521.66" r="0.58"/><circle cx="384.79" cy="520.72" r="0.58"/><circle cx="388.76" cy="505.96" r="0.58"/><circle cx="392.74" cy="496.44" r="0.58"/><circle cx="396.71" cy="487.86" r="0.58"/><circle cx="400.69" cy="400.99" r="0.58"/><circle cx="404.66" cy="485.04" r="0.58"/><circle cx="408.64" cy="529.23" r="0.58"/><circle cx="412.61" cy="536.32" r="0.58"/><circle cx="416.59" cy="532.89" r="0.58"/><circle cx="420.56" cy="532.71" r="0.58"/><circle cx="424.54" cy="527.09" r="0.58"/><circle cx="428.51" cy="526.67" r="0.58"/><circle cx="432.49" cy="525.7" r="0.58"/><circle cx="436.46" cy="515.76" r="0.58"/><circle cx="440.44" cy="509.32" r="0.58"/><circle cx="444.41" cy="514.71" r="0.58"/></g>
<path d="M255.6 401.14V539.94H446.4" fill="none" stroke="#2a2a2a" stroke-width="0.6"/>
<path d="M255.6 539.94h1.8" stroke="#333" stroke-width="0.45"/>
<text x="253.5" y="542.54" text-anchor="end" class="tk">0</text>
<path d="M255.6 524.52h1.8" stroke="#333" stroke-width="0.45"/>
<text x="253.5" y="527.12" text-anchor="end" class="tk">10</text>
<path d="M255.6 509.1h1.8" stroke="#333" stroke-width="0.45"/>
<text x="253.5" y="511.7" text-anchor="end" class="tk">20</text>
<path d="M255.6 493.67h1.8" stroke="#333" stroke-width="0.45"/>
<text x="253.5" y="496.27" text-anchor="end" class="tk">30</text>
<path d="M255.6 478.25h1.8" stroke="#333" stroke-width="0.45"/>
<text x="253.5" y="480.85" text-anchor="end" class="tk">40</text>
<path d="M255.6 462.83h1.8" stroke="#333" stroke-width="0.45"/>
<text x="253.5" y="465.43" text-anchor="end" class="tk">50</text>
<path d="M255.6 447.41h1.8" stroke="#333" stroke-width="0.45"/>
<text x="253.5" y="450.01" text-anchor="end" class="tk">60</text>
<path d="M255.6 431.98h1.8" stroke="#333" stroke-width="0.45"/>
<text x="253.5" y="434.58" text-anchor="end" class="tk">70</text>
<path d="M255.6 416.56h1.8" stroke="#333" stroke-width="0.45"/>
<text x="253.5" y="419.16" text-anchor="end" class="tk">80</text>
<path d="M255.6 401.14h1.8" stroke="#333" stroke-width="0.45"/>
<text x="253.5" y="403.74" text-anchor="end" class="tk">90</text>
<path d="M303.3 539.94v-1.8" stroke="#333" stroke-width="0.45"/>
<text x="303.3" y="548.14" text-anchor="middle" class="tk">ZT0</text>
<path d="M398.7 539.94v-1.8" stroke="#333" stroke-width="0.45"/>
<text x="398.7" y="548.14" text-anchor="middle" class="tk">ZT12</text>
<text transform="translate(242.9 470.54) rotate(-90)" text-anchor="middle" class="yl">mean activity</text>
<g fill="#808080" stroke="#151515" stroke-width="0.5"><rect x="493.8" y="527.22" width="3.97" height="12.72"/><rect x="497.77" y="513.34" width="3.97" height="26.6"/><rect x="501.75" y="515.19" width="3.97" height="24.75"/><rect x="505.72" y="518.19" width="3.97" height="21.75"/><rect x="509.69" y="518.19" width="3.97" height="21.75"/><rect x="513.66" y="524.44" width="3.97" height="15.5"/><rect x="517.64" y="528.37" width="3.97" height="11.57"/><rect x="521.61" y="533.69" width="3.97" height="6.25"/><rect x="525.58" y="534.16" width="3.97" height="5.78"/><rect x="529.56" y="512.87" width="3.97" height="27.07"/><rect x="533.53" y="498.07" width="3.97" height="41.87"/><rect x="537.5" y="513.11" width="3.97" height="26.83"/><rect x="636.83" y="413.86" width="3.97" height="126.08"/><rect x="640.8" y="500.84" width="3.97" height="39.1"/><rect x="644.77" y="532.31" width="3.97" height="7.63"/><rect x="648.74" y="539.25" width="3.97" height="0.69"/><rect x="652.72" y="536.01" width="3.97" height="3.93"/><rect x="656.69" y="538.09" width="3.97" height="1.85"/><rect x="660.66" y="534.85" width="3.97" height="5.09"/><rect x="664.64" y="532.54" width="3.97" height="7.4"/><rect x="668.61" y="528.6" width="3.97" height="11.34"/><rect x="672.58" y="529.99" width="3.97" height="9.95"/><rect x="676.55" y="530.22" width="3.97" height="9.72"/><rect x="680.53" y="524.44" width="3.97" height="15.5"/></g>
<g fill="#fff" stroke="#151515" stroke-width="0.5"><rect x="541.48" y="447.64" width="3.97" height="92.3"/><rect x="545.45" y="492.52" width="3.97" height="47.42"/><rect x="549.42" y="504.08" width="3.97" height="35.86"/><rect x="553.39" y="516.58" width="3.97" height="23.36"/><rect x="557.37" y="520.97" width="3.97" height="18.97"/><rect x="561.34" y="527.22" width="3.97" height="12.72"/><rect x="565.31" y="526.52" width="3.97" height="13.42"/><rect x="569.29" y="529.3" width="3.97" height="10.64"/><rect x="573.26" y="531.61" width="3.97" height="8.33"/><rect x="577.23" y="534.85" width="3.97" height="5.09"/><rect x="581.2" y="534.16" width="3.97" height="5.78"/><rect x="585.18" y="537.4" width="3.97" height="2.54"/><rect x="589.15" y="535.78" width="3.97" height="4.16"/><rect x="593.12" y="536.47" width="3.97" height="3.47"/><rect x="597.1" y="534.39" width="3.97" height="5.55"/><rect x="601.07" y="535.54" width="3.97" height="4.4"/><rect x="605.04" y="534.39" width="3.97" height="5.55"/><rect x="609.01" y="536.47" width="3.97" height="3.47"/><rect x="612.99" y="533.46" width="3.97" height="6.48"/><rect x="616.96" y="528.37" width="3.97" height="11.57"/><rect x="620.93" y="513.34" width="3.97" height="26.6"/><rect x="624.91" y="487.2" width="3.97" height="52.74"/><rect x="628.88" y="468.23" width="3.97" height="71.71"/><rect x="632.85" y="450.65" width="3.97" height="89.29"/></g>
<g fill="#c4002b"><circle cx="495.79" cy="524.27" r="0.58"/><circle cx="499.76" cy="510.32" r="0.58"/><circle cx="503.73" cy="513.35" r="0.58"/><circle cx="507.71" cy="514.41" r="0.58"/><circle cx="511.68" cy="513.39" r="0.58"/><circle cx="515.65" cy="521.26" r="0.58"/><circle cx="519.62" cy="525.57" r="0.58"/><circle cx="523.6" cy="530.99" r="0.58"/><circle cx="527.57" cy="531.77" r="0.58"/><circle cx="531.54" cy="508.88" r="0.58"/><circle cx="535.52" cy="494.95" r="0.58"/><circle cx="539.49" cy="510.85" r="0.58"/><circle cx="543.46" cy="440.96" r="0.58"/><circle cx="547.43" cy="490" r="0.58"/><circle cx="551.41" cy="498.37" r="0.58"/><circle cx="555.38" cy="513.44" r="0.58"/><circle cx="559.35" cy="517.34" r="0.58"/><circle cx="563.33" cy="524.92" r="0.58"/><circle cx="567.3" cy="524.12" r="0.58"/><circle cx="571.27" cy="525.62" r="0.58"/><circle cx="575.24" cy="529.33" r="0.58"/><circle cx="579.22" cy="533.34" r="0.58"/><circle cx="583.19" cy="531.59" r="0.58"/><circle cx="587.16" cy="535.77" r="0.58"/><circle cx="591.14" cy="534.36" r="0.58"/><circle cx="595.11" cy="534.41" r="0.58"/><circle cx="599.08" cy="533.09" r="0.58"/><circle cx="603.06" cy="533" r="0.58"/><circle cx="607.03" cy="531.58" r="0.58"/><circle cx="611" cy="535.28" r="0.58"/><circle cx="614.97" cy="531.92" r="0.58"/><circle cx="618.95" cy="524.56" r="0.58"/><circle cx="622.92" cy="510.59" r="0.58"/><circle cx="626.89" cy="481.14" r="0.58"/><circle cx="630.87" cy="462.13" r="0.58"/><circle cx="634.84" cy="446.02" r="0.58"/><circle cx="638.81" cy="405.9" r="0.58"/><circle cx="642.78" cy="498.78" r="0.58"/><circle cx="646.76" cy="530.42" r="0.58"/><circle cx="650.73" cy="537.51" r="0.58"/><circle cx="654.7" cy="533.17" r="0.58"/><circle cx="658.68" cy="536.15" r="0.58"/><circle cx="662.65" cy="533.12" r="0.58"/><circle cx="666.62" cy="529.23" r="0.58"/><circle cx="670.59" cy="525.68" r="0.58"/><circle cx="674.57" cy="526.42" r="0.58"/><circle cx="678.54" cy="526.95" r="0.58"/><circle cx="682.51" cy="521.44" r="0.58"/></g>
<path d="M493.8 401.14V539.94H684.5" fill="none" stroke="#2a2a2a" stroke-width="0.6"/>
<path d="M493.8 539.94h1.8" stroke="#333" stroke-width="0.45"/>
<text x="491.7" y="542.54" text-anchor="end" class="tk">0</text>
<path d="M493.8 516.81h1.8" stroke="#333" stroke-width="0.45"/>
<text x="491.7" y="519.41" text-anchor="end" class="tk">10</text>
<path d="M493.8 493.67h1.8" stroke="#333" stroke-width="0.45"/>
<text x="491.7" y="496.27" text-anchor="end" class="tk">20</text>
<path d="M493.8 470.54h1.8" stroke="#333" stroke-width="0.45"/>
<text x="491.7" y="473.14" text-anchor="end" class="tk">30</text>
<path d="M493.8 447.41h1.8" stroke="#333" stroke-width="0.45"/>
<text x="491.7" y="450.01" text-anchor="end" class="tk">40</text>
<path d="M493.8 424.27h1.8" stroke="#333" stroke-width="0.45"/>
<text x="491.7" y="426.87" text-anchor="end" class="tk">50</text>
<path d="M493.8 401.14h1.8" stroke="#333" stroke-width="0.45"/>
<text x="491.7" y="403.74" text-anchor="end" class="tk">60</text>
<path d="M541.48 539.94v-1.8" stroke="#333" stroke-width="0.45"/>
<text x="541.48" y="548.14" text-anchor="middle" class="tk">ZT0</text>
<path d="M636.83 539.94v-1.8" stroke="#333" stroke-width="0.45"/>
<text x="636.83" y="548.14" text-anchor="middle" class="tk">ZT12</text>
<text transform="translate(480.8 470.54) rotate(-90)" text-anchor="middle" class="yl">mean activity</text>
<text x="16.8" y="586.49" class="tt" font-style="italic" textLength="82.7" lengthAdjust="spacing">CrebA-RNAi3/+</text>
<text x="106.8" y="586.49" class="tt" textLength="28.9" lengthAdjust="spacing">n=16</text>
<rect x="17.2" y="600.6" width="190.3" height="138" fill="#d9d9d9"/>
<rect x="47" y="600.6" width="48" height="7.8" fill="#fff"/>
<rect x="142" y="600.6" width="48" height="7.8" fill="#fff"/>
<rect x="47" y="608.4" width="48" height="9.3" fill="#fff"/>
<rect x="142" y="608.4" width="48" height="9.3" fill="#fff"/>
<rect x="47" y="617.7" width="48" height="9.3" fill="#fff"/>
<rect x="161.5" y="617.7" width="46" height="9.3" fill="#fff"/>
<rect x="66.5" y="627" width="47.2" height="9.3" fill="#fff"/>
<rect x="161.5" y="627" width="46" height="9.3" fill="#fff"/>
<rect x="66.5" y="636.3" width="47.2" height="9.3" fill="#fff"/>
<rect x="161.5" y="636.3" width="46" height="9.3" fill="#fff"/>
<rect x="66.5" y="645.6" width="47.2" height="9.3" fill="#fff"/>
<rect x="161.5" y="645.6" width="46" height="9.3" fill="#fff"/>
<rect x="66.5" y="654.9" width="47.2" height="9.3" fill="#fff"/>
<rect x="161.5" y="654.9" width="46" height="9.3" fill="#fff"/>
<rect x="66.5" y="664.2" width="47.2" height="9.3" fill="#fff"/>
<rect x="161.5" y="664.2" width="46" height="9.3" fill="#fff"/>
<rect x="66.5" y="673.5" width="47.2" height="9.3" fill="#fff"/>
<path d="M39.6 600.6V738.6" stroke="#000" stroke-opacity="0.16" stroke-width="0.45"/>
<path d="M63.4 600.6V738.6" stroke="#000" stroke-opacity="0.16" stroke-width="0.45"/>
<path d="M87.2 600.6V738.6" stroke="#000" stroke-opacity="0.16" stroke-width="0.45"/>
<path d="M111 600.6V738.6" stroke="#000" stroke-opacity="0.16" stroke-width="0.45"/>
<path d="M134.8 600.6V738.6" stroke="#000" stroke-opacity="0.16" stroke-width="0.45"/>
<path d="M158.6 600.6V738.6" stroke="#000" stroke-opacity="0.16" stroke-width="0.45"/>
<path d="M182.4 600.6V738.6" stroke="#000" stroke-opacity="0.16" stroke-width="0.45"/>
<path d="M206.2 600.6V738.6" stroke="#000" stroke-opacity="0.16" stroke-width="0.45"/>
<path d="M17.2 608.4H207.5" stroke="#b4b4b4" stroke-width="0.5"/>
<path d="M17.2 617.7H207.5" stroke="#b4b4b4" stroke-width="0.5"/>
<path d="M17.2 627H207.5" stroke="#b4b4b4" stroke-width="0.5"/>
<path d="M17.2 636.3H207.5" stroke="#b4b4b4" stroke-width="0.5"/>
<path d="M17.2 645.6H207.5" stroke="#b4b4b4" stroke-width="0.5"/>
<path d="M17.2 654.9H207.5" stroke="#b4b4b4" stroke-width="0.5"/>
<path d="M17.2 664.2H207.5" stroke="#b4b4b4" stroke-width="0.5"/>
<path d="M17.2 673.5H207.5" stroke="#b4b4b4" stroke-width="0.5"/>
<path d="M17.2 682.8H207.5" stroke="#b4b4b4" stroke-width="0.5"/>
<path d="M17.2 692.1H207.5" stroke="#b4b4b4" stroke-width="0.5"/>
<path d="M17.2 701.4H207.5" stroke="#b4b4b4" stroke-width="0.5"/>
<path d="M17.2 710.7H207.5" stroke="#b4b4b4" stroke-width="0.5"/>
<path d="M17.2 720H207.5" stroke="#b4b4b4" stroke-width="0.5"/>
<path d="M17.2 729.3H207.5" stroke="#b4b4b4" stroke-width="0.5"/>
<g fill="#0000ff" stroke="#0a0a1e" stroke-width="0.55" stroke-linejoin="round">
<path d="M17.2 608.4L17.5 607.7L19.5 607.6L21.5 607.1L23.4 606.8L25.4 607.9L27.4 607.9L29.4 608.0L31.4 608.0L33.4 607.9L35.3 607.9L37.3 607.7L39.3 607.5L41.3 607.8L43.3 607.3L45.2 607.1L47.2 602.3L49.2 605.4L51.2 605.5L53.2 605.2L55.2 606.9L57.1 607.1L59.1 606.8L61.1 606.2L63.1 606.8L65.1 607.2L67.1 607.2L69.0 607.7L71.0 607.4L73.0 607.4L75.0 607.3L77.0 607.6L78.9 607.6L80.9 607.3L82.9 607.2L84.9 606.8L86.9 607.5L88.9 606.6L90.8 606.4L92.8 605.2L94.8 600.9L96.8 603.8L98.8 606.2L100.8 607.4L102.7 607.7L104.7 607.6L106.7 607.5L108.7 608.0L110.7 607.9L112.6 607.5L114.6 607.8L116.6 607.5L118.6 607.3L120.6 607.9L122.6 608.0L124.5 607.9L126.5 607.9L128.5 607.9L130.5 607.9L132.5 607.7L134.5 607.5L136.4 607.6L138.4 607.4L140.4 607.4L142.4 602.1L144.4 604.1L146.3 605.3L148.3 606.3L150.3 607.0L152.3 607.0L154.3 606.7L156.3 606.8L158.2 606.3L160.2 607.0L162.2 606.8L164.2 607.2L166.2 607.1L168.2 607.0L170.1 607.1L172.1 607.5L174.1 607.4L176.1 607.3L178.1 607.2L180.0 607.1L182.0 607.4L184.0 606.8L186.0 606.3L188.0 606.2L190.0 599.3L191.9 602.1L193.9 607.0L195.9 607.6L197.9 607.7L199.9 607.7L201.9 607.6L203.8 608.0L205.8 607.8L207.5 608.4Z"/>
<path d="M17.2 617.7L17.5 616.8L19.5 617.1L21.5 616.8L23.4 616.6L25.4 617.2L27.4 617.3L29.4 617.2L31.4 617.2L33.4 617.2L35.3 617.2L37.3 617.0L39.3 616.8L41.3 616.9L43.3 616.7L45.2 616.7L47.2 611.4L49.2 613.4L51.2 614.6L53.2 615.6L55.2 616.3L57.1 616.3L59.1 616.0L61.1 616.1L63.1 615.6L65.1 616.3L67.1 616.1L69.0 616.5L71.0 616.4L73.0 616.3L75.0 616.4L77.0 616.8L78.9 616.7L80.9 616.6L82.9 616.5L84.9 616.4L86.9 616.7L88.9 616.1L90.8 615.6L92.8 615.5L94.8 608.6L96.8 611.4L98.8 616.3L100.8 616.9L102.7 617.0L104.7 617.0L106.7 616.9L108.7 617.3L110.7 617.1L112.6 617.0L114.6 617.0L116.6 616.4L118.6 616.6L120.6 617.1L122.6 617.2L124.5 617.2L126.5 617.7L128.5 617.3L130.5 617.2L132.5 617.0L134.5 616.8L136.4 616.8L138.4 616.2L140.4 616.8L142.4 610.8L144.4 613.2L146.3 615.5L148.3 614.9L150.3 615.7L152.3 616.0L154.3 615.3L156.3 616.1L158.2 615.7L160.2 616.5L162.2 616.3L164.2 616.6L166.2 616.5L168.2 616.5L170.1 616.5L172.1 616.8L174.1 616.8L176.1 616.5L178.1 616.1L180.0 616.3L182.0 616.7L184.0 616.3L186.0 615.4L188.0 615.5L190.0 610.7L191.9 612.7L193.9 616.2L195.9 616.7L197.9 616.8L199.9 616.9L201.9 616.9L203.8 617.1L205.8 617.0L207.5 617.7Z"/>
<path d="M17.2 627L17.5 626.3L19.5 626.3L21.5 625.7L23.4 625.9L25.4 626.4L27.4 626.5L29.4 626.5L31.4 627.0L33.4 626.6L35.3 626.5L37.3 626.3L39.3 626.1L41.3 626.1L43.3 625.5L45.2 626.1L47.2 620.1L49.2 622.5L51.2 624.8L53.2 624.2L55.2 625.0L57.1 625.3L59.1 624.6L61.1 625.4L63.1 625.0L65.1 625.8L67.1 625.6L69.0 625.9L71.0 625.8L73.0 625.8L75.0 625.8L77.0 626.1L78.9 626.1L80.9 625.8L82.9 625.4L84.9 625.6L86.9 626.0L88.9 625.6L90.8 624.7L92.8 624.8L94.8 620.0L96.8 622.0L98.8 625.5L100.8 626.0L102.7 626.1L104.7 626.2L106.7 626.2L108.7 626.4L110.7 626.3L112.6 626.4L114.6 626.3L116.6 625.9L118.6 625.7L120.6 626.6L122.6 626.5L124.5 627.0L126.5 627.0L128.5 627.0L130.5 626.6L132.5 626.6L134.5 626.4L136.4 626.4L138.4 625.9L140.4 626.1L142.4 624.9L144.4 625.4L146.3 625.5L148.3 625.5L150.3 625.5L152.3 625.9L154.3 625.7L156.3 625.7L158.2 625.7L160.2 626.1L162.2 624.8L164.2 626.2L166.2 624.3L168.2 625.8L170.1 625.6L172.1 625.8L174.1 625.4L176.1 625.9L178.1 625.7L180.0 626.2L182.0 626.1L184.0 626.5L186.0 625.8L188.0 624.7L190.0 624.1L191.9 624.9L193.9 624.9L195.9 623.9L197.9 624.2L199.9 623.6L201.9 624.6L203.8 623.3L205.8 624.0L207.5 627Z"/>
<path d="M17.2 636.3L17.5 635.7L19.5 635.6L21.5 635.2L23.4 635.0L25.4 635.9L27.4 635.8L29.4 636.3L31.4 636.3L33.4 636.3L35.3 635.9L37.3 635.9L39.3 635.7L41.3 635.7L43.3 635.2L45.2 635.4L47.2 634.2L49.2 634.7L51.2 634.8L53.2 634.8L55.2 634.8L57.1 635.2L59.1 635.0L61.1 635.0L63.1 635.0L65.1 635.4L67.1 634.1L69.0 635.5L71.0 633.6L73.0 635.1L75.0 634.9L77.0 635.1L78.9 634.7L80.9 635.2L82.9 635.0L84.9 635.5L86.9 635.4L88.9 635.8L90.8 635.1L92.8 634.0L94.8 633.4L96.8 634.2L98.8 634.2L100.8 633.2L102.7 633.5L104.7 632.9L106.7 633.9L108.7 632.6L110.7 633.3L112.6 633.2L114.6 631.3L116.6 632.3L118.6 634.5L120.6 635.3L122.6 635.9L124.5 636.3L126.5 636.3L128.5 635.7L130.5 636.3L132.5 636.3L134.5 635.9L136.4 635.8L138.4 635.9L140.4 635.9L142.4 636.3L144.4 635.7L146.3 636.3L148.3 636.3L150.3 636.3L152.3 636.3L154.3 636.3L156.3 635.8L158.2 635.9L160.2 635.6L162.2 630.8L164.2 633.8L166.2 634.4L168.2 634.7L170.1 634.9L172.1 635.0L174.1 634.2L176.1 635.2L178.1 635.0L180.0 635.5L182.0 635.4L184.0 635.7L186.0 635.8L188.0 635.9L190.0 635.7L191.9 635.8L193.9 635.9L195.9 635.9L197.9 635.3L199.9 635.9L201.9 635.9L203.8 635.6L205.8 633.9L207.5 636.3Z"/>
<path d="M17.2 645.6L17.5 642.5L19.5 640.6L21.5 641.6L23.4 643.8L25.4 644.6L27.4 645.2L29.4 645.6L31.4 645.6L33.4 645.0L35.3 645.6L37.3 645.6L39.3 645.2L41.3 645.1L43.3 645.2L45.2 645.2L47.2 645.6L49.2 645.0L51.2 645.6L53.2 645.6L55.2 645.6L57.1 645.6L59.1 645.6L61.1 645.1L63.1 645.2L65.1 644.9L67.1 640.1L69.0 643.1L71.0 643.7L73.0 644.0L75.0 644.2L77.0 644.3L78.9 643.5L80.9 644.5L82.9 644.3L84.9 644.8L86.9 644.7L88.9 645.0L90.8 645.1L92.8 645.2L94.8 645.0L96.8 645.1L98.8 645.2L100.8 645.2L102.7 644.6L104.7 645.2L106.7 645.2L108.7 644.9L110.7 643.2L112.6 642.6L114.6 639.2L116.6 641.6L118.6 643.0L120.6 644.9L122.6 645.2L124.5 645.6L126.5 645.2L128.5 645.1L130.5 645.6L132.5 645.2L134.5 645.2L136.4 645.2L138.4 645.6L140.4 645.2L142.4 645.6L144.4 645.1L146.3 645.6L148.3 645.6L150.3 645.6L152.3 645.6L154.3 645.6L156.3 645.1L158.2 645.3L160.2 645.1L162.2 640.6L164.2 642.8L166.2 643.5L168.2 644.5L170.1 644.5L172.1 644.4L174.1 643.7L176.1 644.5L178.1 644.3L180.0 644.6L182.0 644.8L184.0 644.9L186.0 645.0L188.0 645.1L190.0 644.9L191.9 645.0L193.9 645.1L195.9 645.2L197.9 644.9L199.9 645.2L201.9 645.0L203.8 645.0L205.8 643.7L207.5 645.6Z"/>
<path d="M17.2 654.9L17.5 651.9L19.5 648.5L21.5 650.9L23.4 652.3L25.4 654.2L27.4 654.5L29.4 654.9L31.4 654.5L33.4 654.4L35.3 654.9L37.3 654.5L39.3 654.5L41.3 654.5L43.3 654.9L45.2 654.5L47.2 654.9L49.2 654.4L51.2 654.9L53.2 654.9L55.2 654.9L57.1 654.9L59.1 654.9L61.1 654.4L63.1 654.6L65.1 654.4L67.1 649.9L69.0 652.1L71.0 652.8L73.0 653.8L75.0 653.8L77.0 653.7L78.9 653.0L80.9 653.8L82.9 653.6L84.9 653.9L86.9 654.1L88.9 654.2L90.8 654.3L92.8 654.4L94.8 654.2L96.8 654.3L98.8 654.4L100.8 654.5L102.7 654.2L104.7 654.5L106.7 654.3L108.7 654.3L110.7 653.0L112.6 650.8L114.6 646.4L116.6 649.9L118.6 652.2L120.6 654.3L122.6 654.4L124.5 654.9L126.5 654.5L128.5 654.3L130.5 654.9L132.5 654.4L134.5 654.5L136.4 654.5L138.4 654.9L140.4 654.6L142.4 654.9L144.4 654.4L146.3 654.9L148.3 654.9L150.3 654.9L152.3 654.9L154.3 654.9L156.3 654.5L158.2 654.5L160.2 654.3L162.2 647.6L164.2 652.3L166.2 652.7L168.2 653.7L170.1 653.8L172.1 653.1L174.1 652.7L176.1 654.1L178.1 653.3L180.0 654.1L182.0 654.0L184.0 654.1L186.0 654.2L188.0 654.4L190.0 654.2L191.9 654.2L193.9 654.3L195.9 654.3L197.9 653.9L199.9 654.5L201.9 654.3L203.8 654.3L205.8 652.5L207.5 654.9Z"/>
<path d="M17.2 664.2L17.5 660.1L19.5 655.7L21.5 659.2L23.4 661.5L25.4 663.6L27.4 663.7L29.4 664.2L31.4 663.8L33.4 663.6L35.3 664.2L37.3 663.7L39.3 663.8L41.3 663.8L43.3 664.2L45.2 663.9L47.2 664.2L49.2 663.7L51.2 664.2L53.2 664.2L55.2 664.2L57.1 664.2L59.1 664.2L61.1 663.8L63.1 663.8L65.1 663.6L67.1 656.9L69.0 661.6L71.0 662.0L73.0 663.0L75.0 663.1L77.0 662.4L78.9 662.0L80.9 663.4L82.9 662.6L84.9 663.4L86.9 663.3L88.9 663.4L90.8 663.5L92.8 663.7L94.8 663.5L96.8 663.5L98.8 663.6L100.8 663.6L102.7 663.2L104.7 663.8L106.7 663.6L108.7 663.6L110.7 661.8L112.6 660.8L114.6 658.1L116.6 659.4L118.6 661.8L120.6 663.4L122.6 664.2L124.5 664.2L126.5 663.8L128.5 663.7L130.5 664.2L132.5 663.8L134.5 663.7L136.4 663.7L138.4 664.2L140.4 663.8L142.4 664.2L144.4 663.5L146.3 664.2L148.3 664.2L150.3 664.2L152.3 664.2L154.3 664.2L156.3 663.8L158.2 663.8L160.2 663.5L162.2 658.3L164.2 661.7L166.2 661.7L168.2 662.9L170.1 662.6L172.1 662.8L174.1 662.1L176.1 663.0L178.1 662.5L180.0 663.5L182.0 663.3L184.0 663.5L186.0 663.5L188.0 663.8L190.0 663.5L191.9 663.4L193.9 663.6L195.9 663.6L197.9 663.5L199.9 664.2L201.9 663.7L203.8 663.8L205.8 662.1L207.5 664.2Z"/>
<path d="M17.2 673.5L17.5 670.1L19.5 667.4L21.5 668.7L23.4 671.1L25.4 672.7L27.4 673.5L29.4 673.5L31.4 673.1L33.4 673.0L35.3 673.5L37.3 673.1L39.3 673.0L41.3 673.0L43.3 673.5L45.2 673.1L47.2 673.5L49.2 672.8L51.2 673.5L53.2 673.5L55.2 673.5L57.1 673.5L59.1 673.5L61.1 673.1L63.1 673.1L65.1 672.8L67.1 667.6L69.0 671.0L71.0 671.0L73.0 672.2L75.0 671.9L77.0 672.1L78.9 671.4L80.9 672.3L82.9 671.8L84.9 672.8L86.9 672.6L88.9 672.8L90.8 672.8L92.8 673.1L94.8 672.8L96.8 672.7L98.8 672.9L100.8 672.9L102.7 672.8L104.7 673.5L106.7 673.0L108.7 673.1L110.7 671.4L112.6 670.4L114.6 666.2L116.6 667.2L118.6 670.4L120.6 672.7L122.6 673.5L124.5 673.5L126.5 673.1L128.5 672.8L130.5 673.5L132.5 673.1L134.5 673.1L136.4 673.0L138.4 673.5L140.4 673.0L142.4 673.5L144.4 672.8L146.3 673.5L148.3 673.5L150.3 673.5L152.3 673.5L154.3 673.5L156.3 673.1L158.2 673.1L160.2 673.0L162.2 665.9L164.2 671.2L166.2 670.7L168.2 672.3L170.1 672.5L172.1 672.2L174.1 672.0L176.1 672.3L178.1 672.0L180.0 672.7L182.0 672.6L184.0 672.9L186.0 672.9L188.0 673.1L190.0 672.8L191.9 673.0L193.9 672.8L195.9 672.9L197.9 672.6L199.9 673.5L201.9 673.1L203.8 673.0L205.8 671.8L207.5 673.5Z"/>
<path d="M17.2 682.8L17.5 679.7L19.5 675.5L21.5 676.5L23.4 679.7L25.4 682.0L27.4 682.8L29.4 682.8L31.4 682.4L33.4 682.1L35.3 682.8L37.3 682.4L39.3 682.4L41.3 682.3L43.3 682.8L45.2 682.3L47.2 682.8L49.2 682.1L51.2 682.8L53.2 682.8L55.2 682.8L57.1 682.8L59.1 682.8L61.1 682.4L63.1 682.4L65.1 682.3L67.1 675.2L69.0 680.5L71.0 680.0L73.0 681.6L75.0 681.8L77.0 681.5L78.9 681.3L80.9 681.6L82.9 681.3L84.9 682.0L86.9 681.9L88.9 682.2L90.8 682.2L92.8 682.4L94.8 682.1L96.8 682.3L98.8 682.1L100.8 682.2L102.7 681.9L104.7 682.8L106.7 682.4L108.7 682.3L110.7 681.1L112.6 680.1L114.6 673.8L116.6 676.6L118.6 680.0L120.6 682.1L122.6 682.3L124.5 682.3L126.5 682.2L128.5 682.3L130.5 682.4L132.5 682.3L134.5 682.3L136.4 682.3L138.4 682.3L140.4 682.4L142.4 682.4L144.4 682.3L146.3 682.2L148.3 682.2L150.3 682.2L152.3 682.1L154.3 682.1L156.3 682.2L158.2 682.2L160.2 682.0L162.2 681.3L164.2 681.3L166.2 681.3L168.2 680.9L170.1 681.1L172.1 681.1L174.1 681.1L176.1 681.1L178.1 681.2L180.0 681.0L182.0 681.2L184.0 681.0L186.0 680.3L188.0 680.3L190.0 680.8L191.9 680.7L193.9 680.8L195.9 681.2L197.9 681.1L199.9 680.2L201.9 679.8L203.8 680.3L205.8 680.4L207.5 682.8Z"/>
<path d="M17.2 692.1L17.5 689.4L19.5 683.1L21.5 685.9L23.4 689.3L25.4 691.4L27.4 691.6L29.4 691.6L31.4 691.5L33.4 691.6L35.3 691.7L37.3 691.6L39.3 691.6L41.3 691.6L43.3 691.6L45.2 691.7L47.2 691.7L49.2 691.6L51.2 691.5L53.2 691.5L55.2 691.5L57.1 691.4L59.1 691.4L61.1 691.5L63.1 691.5L65.1 691.3L67.1 690.6L69.0 690.6L71.0 690.6L73.0 690.2L75.0 690.4L77.0 690.4L78.9 690.4L80.9 690.4L82.9 690.5L84.9 690.3L86.9 690.5L88.9 690.3L90.8 689.6L92.8 689.6L94.8 690.1L96.8 690.0L98.8 690.1L100.8 690.5L102.7 690.4L104.7 689.5L106.7 689.1L108.7 689.6L110.7 689.7L112.6 690.2L114.6 690.0L116.6 690.1L118.6 690.4L120.6 690.7L122.6 691.0L124.5 691.4L126.5 691.6L128.5 691.6L130.5 691.7L132.5 691.8L134.5 691.7L136.4 691.7L138.4 691.7L140.4 691.6L142.4 691.6L144.4 691.6L146.3 691.6L148.3 691.7L150.3 691.6L152.3 691.5L154.3 691.5L156.3 691.5L158.2 691.5L160.2 691.3L162.2 690.8L164.2 690.5L166.2 690.5L168.2 690.6L170.1 690.4L172.1 690.1L174.1 690.2L176.1 690.6L178.1 690.5L180.0 690.6L182.0 690.3L184.0 690.2L186.0 690.5L188.0 690.5L190.0 690.0L191.9 689.7L193.9 689.6L195.9 689.6L197.9 690.1L199.9 689.9L201.9 689.5L203.8 689.6L205.8 689.8L207.5 692.1Z"/>
<path d="M17.2 701.4L17.5 699.5L19.5 699.3L21.5 699.4L23.4 699.7L25.4 700.0L27.4 700.3L29.4 700.7L31.4 700.9L33.4 700.9L35.3 701.0L37.3 701.1L39.3 701.0L41.3 701.0L43.3 701.0L45.2 700.9L47.2 700.9L49.2 700.9L51.2 700.9L53.2 701.0L55.2 700.9L57.1 700.8L59.1 700.8L61.1 700.8L63.1 700.8L65.1 700.6L67.1 700.1L69.0 699.8L71.0 699.8L73.0 699.9L75.0 699.7L77.0 699.4L78.9 699.5L80.9 699.9L82.9 699.8L84.9 699.9L86.9 699.6L88.9 699.5L90.8 699.8L92.8 699.8L94.8 699.3L96.8 699.0L98.8 698.9L100.8 698.9L102.7 699.4L104.7 699.2L106.7 698.8L108.7 698.9L110.7 699.1L112.6 699.9L114.6 699.4L116.6 699.8L118.6 699.7L120.6 700.0L122.6 700.3L124.5 700.3L126.5 700.8L128.5 701.1L130.5 700.9L132.5 700.9L134.5 700.9L136.4 701.0L138.4 701.0L140.4 701.0L142.4 700.9L144.4 700.9L146.3 701.0L148.3 700.9L150.3 701.0L152.3 701.0L154.3 701.4L156.3 701.4L158.2 701.0L160.2 700.9L162.2 700.7L164.2 700.5L166.2 700.4L168.2 700.5L170.1 700.5L172.1 700.4L174.1 699.9L176.1 699.7L178.1 699.9L180.0 700.2L182.0 700.1L184.0 700.2L186.0 700.0L188.0 700.0L190.0 699.9L191.9 699.8L193.9 699.8L195.9 699.5L197.9 699.5L199.9 699.2L201.9 699.4L203.8 699.3L205.8 698.8L207.5 701.4Z"/>
<path d="M17.2 710.7L17.5 709.2L19.5 708.7L21.5 709.1L23.4 709.0L25.4 709.3L27.4 709.6L29.4 709.6L31.4 710.1L33.4 710.4L35.3 710.2L37.3 710.2L39.3 710.2L41.3 710.3L43.3 710.3L45.2 710.3L47.2 710.2L49.2 710.2L51.2 710.3L53.2 710.2L55.2 710.3L57.1 710.3L59.1 710.7L61.1 710.7L63.1 710.3L65.1 710.2L67.1 710.0L69.0 709.8L71.0 709.7L73.0 709.8L75.0 709.8L77.0 709.7L78.9 709.2L80.9 709.0L82.9 709.2L84.9 709.5L86.9 709.4L88.9 709.5L90.8 709.3L92.8 709.3L94.8 709.2L96.8 709.1L98.8 709.1L100.8 708.8L102.7 708.8L104.7 708.5L106.7 708.7L108.7 708.6L110.7 708.1L112.6 709.1L114.6 709.0L116.6 708.8L118.6 708.7L120.6 709.0L122.6 709.2L124.5 709.2L126.5 709.2L128.5 709.7L130.5 710.2L132.5 710.2L134.5 710.2L136.4 710.7L138.4 710.7L140.4 710.3L142.4 710.2L144.4 710.2L146.3 710.2L148.3 710.3L150.3 710.3L152.3 710.3L154.3 710.4L156.3 710.3L158.2 710.3L160.2 710.7L162.2 710.7L164.2 710.7L166.2 710.2L168.2 710.2L170.1 710.1L172.1 709.9L174.1 709.9L176.1 709.9L178.1 709.5L180.0 709.4L182.0 709.4L184.0 709.3L186.0 709.6L188.0 709.8L190.0 709.7L191.9 709.3L193.9 709.4L195.9 709.2L197.9 709.0L199.9 709.1L201.9 709.5L203.8 709.6L205.8 709.6L207.5 710.7Z"/>
<path d="M17.2 720L17.5 718.4L19.5 718.3L21.5 718.1L23.4 718.0L25.4 718.3L27.4 718.5L29.4 718.5L31.4 718.5L33.4 719.0L35.3 719.5L37.3 719.5L39.3 719.5L41.3 720.0L43.3 720.0L45.2 719.6L47.2 719.5L49.2 719.5L51.2 719.5L53.2 719.6L55.2 719.6L57.1 719.6L59.1 719.7L61.1 719.6L63.1 719.6L65.1 720.0L67.1 720.0L69.0 720.0L71.0 719.5L73.0 719.5L75.0 719.4L77.0 719.2L78.9 719.2L80.9 719.2L82.9 718.8L84.9 718.7L86.9 718.7L88.9 718.6L90.8 718.9L92.8 719.1L94.8 719.0L96.8 718.6L98.8 718.7L100.8 718.5L102.7 718.3L104.7 718.4L106.7 718.8L108.7 718.9L110.7 718.9L112.6 719.0L114.6 718.7L116.6 718.6L118.6 718.7L120.6 718.6L122.6 718.6L124.5 718.8L126.5 719.0L128.5 719.1L130.5 719.3L132.5 719.5L134.5 719.5L136.4 719.5L138.4 719.7L140.4 720.0L142.4 720.0L144.4 719.6L146.3 719.6L148.3 719.6L150.3 719.6L152.3 719.6L154.3 719.5L156.3 719.5L158.2 719.6L160.2 719.6L162.2 719.6L164.2 720.0L166.2 720.0L168.2 720.0L170.1 720.0L172.1 719.6L174.1 719.5L176.1 719.5L178.1 719.6L180.0 719.6L182.0 719.5L184.0 719.5L186.0 719.5L188.0 719.5L190.0 719.4L191.9 719.3L193.9 719.4L195.9 719.3L197.9 719.3L199.9 719.2L201.9 719.0L203.8 718.8L205.8 718.7L207.5 720Z"/>
<path d="M17.2 729.3L17.5 728.3L19.5 728.0L21.5 727.9L23.4 728.0L25.4 727.9L27.4 727.9L29.4 728.1L31.4 728.3L33.4 728.4L35.3 728.6L37.3 728.8L39.3 728.8L41.3 728.8L43.3 729.0L45.2 729.3L47.2 729.3L49.2 728.9L51.2 728.9L53.2 728.9L55.2 728.9L57.1 728.9L59.1 728.8L61.1 728.8L63.1 728.9L65.1 728.9L67.1 728.9L69.0 729.3L71.0 729.3L73.0 729.3L75.0 729.3L77.0 728.9L78.9 728.8L80.9 728.8L82.9 728.9L84.9 728.9L86.9 728.8L88.9 728.8L90.8 728.8L92.8 728.8L94.8 728.7L96.8 728.6L98.8 728.7L100.8 728.6L102.7 728.6L104.7 728.5L106.7 728.3L108.7 728.1L110.7 728.0L112.6 728.2L114.6 728.2L116.6 727.9L118.6 728.0L120.6 728.5L122.6 728.7L124.5 728.5L126.5 728.5L128.5 728.7L130.5 728.9L132.5 729.0L134.5 728.8L136.4 728.8L138.4 728.8L140.4 728.8L142.4 728.8L144.4 728.9L146.3 728.8L148.3 728.9L150.3 728.9L152.3 728.8L154.3 728.8L156.3 728.8L158.2 728.9L160.2 728.8L162.2 728.7L164.2 728.7L166.2 728.8L168.2 728.9L170.1 728.8L172.1 728.8L174.1 728.9L176.1 728.8L178.1 728.8L180.0 728.9L182.0 728.7L184.0 728.8L186.0 728.7L188.0 728.7L190.0 728.8L191.9 728.7L193.9 728.6L195.9 728.7L197.9 728.7L199.9 728.7L201.9 728.9L203.8 728.9L205.8 728.7L207.5 729.3Z"/>
<path d="M17.2 738.6L17.5 737.5L19.5 737.5L21.5 737.2L23.4 737.3L25.4 737.8L27.4 738.0L29.4 737.8L31.4 737.8L33.4 738.0L35.3 738.2L37.3 738.3L39.3 738.1L41.3 738.1L43.3 738.1L45.2 738.1L47.2 738.1L49.2 738.2L51.2 738.1L53.2 738.2L55.2 738.2L57.1 738.1L59.1 738.1L61.1 738.1L63.1 738.2L65.1 738.1L67.1 738.0L69.0 738.0L71.0 738.1L73.0 738.2L75.0 738.1L77.0 738.1L78.9 738.2L80.9 738.1L82.9 738.1L84.9 738.2L86.9 738.0L88.9 738.1L90.8 738.0L92.8 738.0L94.8 738.1L96.8 738.0L98.8 737.9L100.8 738.0L102.7 738.0L104.7 738.0L106.7 738.2L108.7 738.2L110.7 738.0L112.6 738.2L114.6 738.3L116.6 738.2L118.6 738.1L120.6 738.2L122.6 738.2L124.5 738.6L126.5 738.3L128.5 738.2L130.5 738.2L132.5 738.3L134.5 738.2L136.4 738.2L138.4 738.1L140.4 738.1L142.4 738.2L144.4 738.2L146.3 738.2L148.3 738.2L150.3 738.3L152.3 738.6L154.3 738.1L156.3 738.1L158.2 738.6L160.2 738.6L162.2 738.3L164.2 738.6L166.2 738.2L168.2 738.2L170.1 738.2L172.1 738.1L174.1 738.1L176.1 738.0L178.1 738.0L180.0 738.1L182.0 738.2L184.0 738.1L186.0 738.1L188.0 738.2L190.0 738.1L191.9 738.1L193.9 738.0L195.9 738.2L197.9 738.6L199.9 738.2L201.9 738.1L203.8 738.0L205.8 737.9L207.5 738.6Z"/>
</g>
<text x="11.9" y="611.65" text-anchor="middle" class="tk al">1</text>
<text x="11.9" y="620.9" text-anchor="middle" class="tk al">2</text>
<text x="11.9" y="630.15" text-anchor="middle" class="tk al">3</text>
<text x="11.9" y="639.4" text-anchor="middle" class="tk al">4</text>
<text x="11.9" y="648.65" text-anchor="middle" class="tk al">5</text>
<text x="11.9" y="657.9" text-anchor="middle" class="tk al">6</text>
<text x="11.9" y="667.15" text-anchor="middle" class="tk al">7</text>
<text x="11.9" y="676.4" text-anchor="middle" class="tk al">8</text>
<text x="11.9" y="685.65" text-anchor="middle" class="tk al">9</text>
<text x="11.9" y="694.9" text-anchor="middle" class="tk al">10</text>
<text x="11.9" y="704.15" text-anchor="middle" class="tk al">11</text>
<text x="11.9" y="713.4" text-anchor="middle" class="tk al">12</text>
<text x="11.9" y="722.65" text-anchor="middle" class="tk al">13</text>
<text x="11.9" y="731.9" text-anchor="middle" class="tk al">14</text>
<path d="M17.2 738.6H207.5" stroke="#1a1a1a" stroke-width="1.0"/>
<text x="11.9" y="741.15" text-anchor="middle" class="tk al">15</text>
<path d="M17.2 600.6V738.6" stroke="#333" stroke-width="0.5"/>
<text transform="translate(4.6 669.6) rotate(-90)" text-anchor="middle" class="yl" style="font-size:5.8px">day</text>
<g fill="#808080" stroke="#151515" stroke-width="0.5"><rect x="258.6" y="713.23" width="3.91" height="18.88"/><rect x="262.51" y="724.49" width="3.91" height="7.62"/><rect x="266.43" y="724.26" width="3.91" height="7.85"/><rect x="270.34" y="726.2" width="3.91" height="5.92"/><rect x="274.25" y="726.76" width="3.91" height="5.35"/><rect x="278.16" y="725.63" width="3.91" height="6.48"/><rect x="282.08" y="726.2" width="3.91" height="5.92"/><rect x="285.99" y="723.24" width="3.91" height="8.87"/><rect x="289.9" y="720.85" width="3.91" height="11.26"/><rect x="293.81" y="720.39" width="3.91" height="11.72"/><rect x="297.73" y="714.14" width="3.91" height="17.97"/><rect x="301.64" y="716.3" width="3.91" height="15.81"/><rect x="399.45" y="619.95" width="3.91" height="112.16"/><rect x="403.36" y="657.26" width="3.91" height="74.85"/><rect x="407.27" y="705.83" width="3.91" height="26.28"/><rect x="411.19" y="718.91" width="3.91" height="13.19"/><rect x="415.1" y="721.3" width="3.91" height="10.81"/><rect x="419.01" y="721.3" width="3.91" height="10.81"/><rect x="422.92" y="719.37" width="3.91" height="12.74"/><rect x="426.84" y="725.4" width="3.91" height="6.71"/><rect x="430.75" y="723.24" width="3.91" height="8.87"/><rect x="434.66" y="720.39" width="3.91" height="11.72"/><rect x="438.57" y="720.39" width="3.91" height="11.72"/><rect x="442.49" y="715.5" width="3.91" height="16.61"/></g>
<g fill="#fff" stroke="#151515" stroke-width="0.5"><rect x="305.55" y="641.45" width="3.91" height="90.66"/><rect x="309.46" y="678.19" width="3.91" height="53.92"/><rect x="313.38" y="692.18" width="3.91" height="39.93"/><rect x="317.29" y="693.21" width="3.91" height="38.9"/><rect x="321.2" y="707.43" width="3.91" height="24.68"/><rect x="325.11" y="711.18" width="3.91" height="20.93"/><rect x="329.02" y="704.24" width="3.91" height="27.87"/><rect x="332.94" y="706.4" width="3.91" height="25.71"/><rect x="336.85" y="705.26" width="3.91" height="26.84"/><rect x="340.76" y="712.32" width="3.91" height="19.79"/><rect x="344.68" y="710.04" width="3.91" height="22.07"/><rect x="348.59" y="718.46" width="3.91" height="13.65"/><rect x="352.5" y="712.32" width="3.91" height="19.79"/><rect x="356.41" y="712.32" width="3.91" height="19.79"/><rect x="360.32" y="716.87" width="3.91" height="15.24"/><rect x="364.24" y="719.71" width="3.91" height="12.4"/><rect x="368.15" y="719.37" width="3.91" height="12.74"/><rect x="372.06" y="717.32" width="3.91" height="14.79"/><rect x="375.98" y="713.23" width="3.91" height="18.88"/><rect x="379.89" y="711.52" width="3.91" height="20.59"/><rect x="383.8" y="717.66" width="3.91" height="14.45"/><rect x="387.71" y="705.26" width="3.91" height="26.84"/><rect x="391.62" y="700.37" width="3.91" height="31.74"/><rect x="395.54" y="690.25" width="3.91" height="41.86"/></g>
<g fill="#c4002b"><circle cx="260.56" cy="709.71" r="0.58"/><circle cx="264.47" cy="722.67" r="0.58"/><circle cx="268.38" cy="722.5" r="0.58"/><circle cx="272.29" cy="723.78" r="0.58"/><circle cx="276.21" cy="725.49" r="0.58"/><circle cx="280.12" cy="723.08" r="0.58"/><circle cx="284.03" cy="724.22" r="0.58"/><circle cx="287.94" cy="721.55" r="0.58"/><circle cx="291.86" cy="718.16" r="0.58"/><circle cx="295.77" cy="718.56" r="0.58"/><circle cx="299.68" cy="712.02" r="0.58"/><circle cx="303.59" cy="712.41" r="0.58"/><circle cx="307.51" cy="634.26" r="0.58"/><circle cx="311.42" cy="674.48" r="0.58"/><circle cx="315.33" cy="687.59" r="0.58"/><circle cx="319.24" cy="689.48" r="0.58"/><circle cx="323.16" cy="704.79" r="0.58"/><circle cx="327.07" cy="707.11" r="0.58"/><circle cx="330.98" cy="700.5" r="0.58"/><circle cx="334.89" cy="701.18" r="0.58"/><circle cx="338.81" cy="702.78" r="0.58"/><circle cx="342.72" cy="707.61" r="0.58"/><circle cx="346.63" cy="707.2" r="0.58"/><circle cx="350.54" cy="716.5" r="0.58"/><circle cx="354.46" cy="708.31" r="0.58"/><circle cx="358.37" cy="709.74" r="0.58"/><circle cx="362.28" cy="713.11" r="0.58"/><circle cx="366.19" cy="715.76" r="0.58"/><circle cx="370.11" cy="717.71" r="0.58"/><circle cx="374.02" cy="715.75" r="0.58"/><circle cx="377.93" cy="709.04" r="0.58"/><circle cx="381.84" cy="708.59" r="0.58"/><circle cx="385.76" cy="715.97" r="0.58"/><circle cx="389.67" cy="701.23" r="0.58"/><circle cx="393.58" cy="695.02" r="0.58"/><circle cx="397.49" cy="687.96" r="0.58"/><circle cx="401.41" cy="611.44" r="0.58"/><circle cx="405.32" cy="652.07" r="0.58"/><circle cx="409.23" cy="702.48" r="0.58"/><circle cx="413.14" cy="716.28" r="0.58"/><circle cx="417.06" cy="718.38" r="0.58"/><circle cx="420.97" cy="717.55" r="0.58"/><circle cx="424.88" cy="715.76" r="0.58"/><circle cx="428.79" cy="722.88" r="0.58"/><circle cx="432.71" cy="719.68" r="0.58"/><circle cx="436.62" cy="716.48" r="0.58"/><circle cx="440.53" cy="718.86" r="0.58"/><circle cx="444.44" cy="713.48" r="0.58"/></g>
<path d="M258.6 595.61V732.11H446.4" fill="none" stroke="#2a2a2a" stroke-width="0.6"/>
<path d="M258.6 732.11h1.8" stroke="#333" stroke-width="0.45"/>
<text x="256.5" y="734.71" text-anchor="end" class="tk">0</text>
<path d="M258.6 709.36h1.8" stroke="#333" stroke-width="0.45"/>
<text x="256.5" y="711.96" text-anchor="end" class="tk">20</text>
<path d="M258.6 686.61h1.8" stroke="#333" stroke-width="0.45"/>
<text x="256.5" y="689.21" text-anchor="end" class="tk">40</text>
<path d="M258.6 663.86h1.8" stroke="#333" stroke-width="0.45"/>
<text x="256.5" y="666.46" text-anchor="end" class="tk">60</text>
<path d="M258.6 641.11h1.8" stroke="#333" stroke-width="0.45"/>
<text x="256.5" y="643.71" text-anchor="end" class="tk">80</text>
<path d="M258.6 618.36h1.8" stroke="#333" stroke-width="0.45"/>
<text x="256.5" y="620.96" text-anchor="end" class="tk">100</text>
<path d="M258.6 595.61h1.8" stroke="#333" stroke-width="0.45"/>
<text x="256.5" y="598.21" text-anchor="end" class="tk">120</text>
<path d="M305.55 732.11v-1.8" stroke="#333" stroke-width="0.45"/>
<text x="305.55" y="740.31" text-anchor="middle" class="tk">ZT0</text>
<path d="M399.45 732.11v-1.8" stroke="#333" stroke-width="0.45"/>
<text x="399.45" y="740.31" text-anchor="middle" class="tk">ZT12</text>
<text transform="translate(242.9 663.86) rotate(-90)" text-anchor="middle" class="yl">mean activity</text>
<g fill="#808080" stroke="#151515" stroke-width="0.5"><rect x="493.8" y="727.17" width="3.97" height="4.94"/><rect x="497.77" y="725.63" width="3.97" height="6.48"/><rect x="501.75" y="727.95" width="3.97" height="4.16"/><rect x="505.72" y="722.7" width="3.97" height="9.41"/><rect x="509.69" y="727.95" width="3.97" height="4.16"/><rect x="513.66" y="727.95" width="3.97" height="4.16"/><rect x="517.64" y="730.72" width="3.97" height="1.39"/><rect x="521.61" y="730.26" width="3.97" height="1.85"/><rect x="525.58" y="730.72" width="3.97" height="1.39"/><rect x="529.56" y="725.48" width="3.97" height="6.63"/><rect x="533.53" y="725.79" width="3.97" height="6.32"/><rect x="537.5" y="723.17" width="3.97" height="8.94"/><rect x="636.83" y="608.58" width="3.97" height="123.53"/><rect x="640.8" y="653.46" width="3.97" height="78.65"/><rect x="644.77" y="687.08" width="3.97" height="45.03"/><rect x="648.74" y="719.62" width="3.97" height="12.49"/><rect x="652.72" y="726.4" width="3.97" height="5.71"/><rect x="656.69" y="729.18" width="3.97" height="2.93"/><rect x="660.66" y="726.4" width="3.97" height="5.71"/><rect x="664.64" y="723.47" width="3.97" height="8.64"/><rect x="668.61" y="729.18" width="3.97" height="2.93"/><rect x="672.58" y="726.4" width="3.97" height="5.71"/><rect x="676.55" y="724.71" width="3.97" height="7.4"/><rect x="680.53" y="724.71" width="3.97" height="7.4"/></g>
<g fill="#fff" stroke="#151515" stroke-width="0.5"><rect x="541.48" y="641.43" width="3.97" height="90.68"/><rect x="545.45" y="688.93" width="3.97" height="43.18"/><rect x="549.42" y="696.33" width="3.97" height="35.78"/><rect x="553.39" y="711.91" width="3.97" height="20.2"/><rect x="557.37" y="711.44" width="3.97" height="20.67"/><rect x="561.34" y="708.21" width="3.97" height="23.9"/><rect x="565.31" y="701.11" width="3.97" height="31"/><rect x="569.29" y="717.15" width="3.97" height="14.96"/><rect x="573.26" y="711.14" width="3.97" height="20.97"/><rect x="577.23" y="719.31" width="3.97" height="12.8"/><rect x="581.2" y="720.23" width="3.97" height="11.88"/><rect x="585.18" y="722.39" width="3.97" height="9.72"/><rect x="589.15" y="722.7" width="3.97" height="9.41"/><rect x="593.12" y="724.71" width="3.97" height="7.4"/><rect x="597.1" y="722.39" width="3.97" height="9.72"/><rect x="601.07" y="721.47" width="3.97" height="10.64"/><rect x="605.04" y="723.47" width="3.97" height="8.64"/><rect x="609.01" y="724.4" width="3.97" height="7.71"/><rect x="612.99" y="718.85" width="3.97" height="13.26"/><rect x="616.96" y="726.87" width="3.97" height="5.24"/><rect x="620.93" y="724.4" width="3.97" height="7.71"/><rect x="624.91" y="723.17" width="3.97" height="8.94"/><rect x="628.88" y="698.34" width="3.97" height="33.77"/><rect x="632.85" y="679.83" width="3.97" height="52.28"/></g>
<g fill="#c4002b"><circle cx="495.79" cy="725.6" r="0.58"/><circle cx="499.76" cy="723.58" r="0.58"/><circle cx="503.73" cy="726.32" r="0.58"/><circle cx="507.71" cy="720.91" r="0.58"/><circle cx="511.68" cy="726.46" r="0.58"/><circle cx="515.65" cy="725.67" r="0.58"/><circle cx="519.62" cy="728.59" r="0.58"/><circle cx="523.6" cy="728.73" r="0.58"/><circle cx="527.57" cy="728.56" r="0.58"/><circle cx="531.54" cy="722.35" r="0.58"/><circle cx="535.52" cy="723.39" r="0.58"/><circle cx="539.49" cy="721.08" r="0.58"/><circle cx="543.46" cy="633.48" r="0.58"/><circle cx="547.43" cy="682.69" r="0.58"/><circle cx="551.41" cy="691.76" r="0.58"/><circle cx="555.38" cy="710.28" r="0.58"/><circle cx="559.35" cy="707.61" r="0.58"/><circle cx="563.33" cy="706.5" r="0.58"/><circle cx="567.3" cy="697.6" r="0.58"/><circle cx="571.27" cy="712.83" r="0.58"/><circle cx="575.24" cy="706.38" r="0.58"/><circle cx="579.22" cy="717.5" r="0.58"/><circle cx="583.19" cy="717.84" r="0.58"/><circle cx="587.16" cy="718.79" r="0.58"/><circle cx="591.14" cy="720.38" r="0.58"/><circle cx="595.11" cy="723.58" r="0.58"/><circle cx="599.08" cy="718.89" r="0.58"/><circle cx="603.06" cy="718.95" r="0.58"/><circle cx="607.03" cy="721.5" r="0.58"/><circle cx="611" cy="721.2" r="0.58"/><circle cx="614.97" cy="715.42" r="0.58"/><circle cx="618.95" cy="724.07" r="0.58"/><circle cx="622.92" cy="722.9" r="0.58"/><circle cx="626.89" cy="720.95" r="0.58"/><circle cx="630.87" cy="696.08" r="0.58"/><circle cx="634.84" cy="677.22" r="0.58"/><circle cx="638.81" cy="603.39" r="0.58"/><circle cx="642.78" cy="646.71" r="0.58"/><circle cx="646.76" cy="680.63" r="0.58"/><circle cx="650.73" cy="716.17" r="0.58"/><circle cx="654.7" cy="723.75" r="0.58"/><circle cx="658.68" cy="727.63" r="0.58"/><circle cx="662.65" cy="723.29" r="0.58"/><circle cx="666.62" cy="721.66" r="0.58"/><circle cx="670.59" cy="727.21" r="0.58"/><circle cx="674.57" cy="723.71" r="0.58"/><circle cx="678.54" cy="721.66" r="0.58"/><circle cx="682.51" cy="723.28" r="0.58"/></g>
<path d="M493.8 593.31V732.11H684.5" fill="none" stroke="#2a2a2a" stroke-width="0.6"/>
<path d="M493.8 732.11h1.8" stroke="#333" stroke-width="0.45"/>
<text x="491.7" y="734.71" text-anchor="end" class="tk">0</text>
<path d="M493.8 716.69h1.8" stroke="#333" stroke-width="0.45"/>
<text x="491.7" y="719.29" text-anchor="end" class="tk">10</text>
<path d="M493.8 701.27h1.8" stroke="#333" stroke-width="0.45"/>
<text x="491.7" y="703.87" text-anchor="end" class="tk">20</text>
<path d="M493.8 685.84h1.8" stroke="#333" stroke-width="0.45"/>
<text x="491.7" y="688.44" text-anchor="end" class="tk">30</text>
<path d="M493.8 670.42h1.8" stroke="#333" stroke-width="0.45"/>
<text x="491.7" y="673.02" text-anchor="end" class="tk">40</text>
<path d="M493.8 655h1.8" stroke="#333" stroke-width="0.45"/>
<text x="491.7" y="657.6" text-anchor="end" class="tk">50</text>
<path d="M493.8 639.58h1.8" stroke="#333" stroke-width="0.45"/>
<text x="491.7" y="642.18" text-anchor="end" class="tk">60</text>
<path d="M493.8 624.15h1.8" stroke="#333" stroke-width="0.45"/>
<text x="491.7" y="626.75" text-anchor="end" class="tk">70</text>
<path d="M493.8 608.73h1.8" stroke="#333" stroke-width="0.45"/>
<text x="491.7" y="611.33" text-anchor="end" class="tk">80</text>
<path d="M493.8 593.31h1.8" stroke="#333" stroke-width="0.45"/>
<text x="491.7" y="595.91" text-anchor="end" class="tk">90</text>
<path d="M541.48 732.11v-1.8" stroke="#333" stroke-width="0.45"/>
<text x="541.48" y="740.31" text-anchor="middle" class="tk">ZT0</text>
<path d="M636.83 732.11v-1.8" stroke="#333" stroke-width="0.45"/>
<text x="636.83" y="740.31" text-anchor="middle" class="tk">ZT12</text>
<text transform="translate(480.8 662.71) rotate(-90)" text-anchor="middle" class="yl">mean activity</text>
<text x="16.8" y="778.82" class="tt" font-style="italic" textLength="124.3" lengthAdjust="spacing">tim-Gal4&gt;CrebA-RNAi3</text>
<text x="148.1" y="778.82" class="tt" textLength="28.9" lengthAdjust="spacing">n=16</text>
<rect x="17.2" y="792.9" width="190.3" height="138" fill="#d9d9d9"/>
<rect x="47" y="792.9" width="48" height="7.8" fill="#fff"/>
<rect x="142" y="792.9" width="48" height="7.8" fill="#fff"/>
<rect x="47" y="800.7" width="48" height="9.3" fill="#fff"/>
<rect x="142" y="800.7" width="48" height="9.3" fill="#fff"/>
<rect x="47" y="810" width="48" height="9.3" fill="#fff"/>
<rect x="161.5" y="810" width="46" height="9.3" fill="#fff"/>
<rect x="66.5" y="819.3" width="47.2" height="9.3" fill="#fff"/>
<rect x="161.5" y="819.3" width="46" height="9.3" fill="#fff"/>
<rect x="66.5" y="828.6" width="47.2" height="9.3" fill="#fff"/>
<rect x="161.5" y="828.6" width="46" height="9.3" fill="#fff"/>
<rect x="66.5" y="837.9" width="47.2" height="9.3" fill="#fff"/>
<rect x="161.5" y="837.9" width="46" height="9.3" fill="#fff"/>
<rect x="66.5" y="847.2" width="47.2" height="9.3" fill="#fff"/>
<rect x="161.5" y="847.2" width="46" height="9.3" fill="#fff"/>
<rect x="66.5" y="856.5" width="47.2" height="9.3" fill="#fff"/>
<rect x="161.5" y="856.5" width="46" height="9.3" fill="#fff"/>
<rect x="66.5" y="865.8" width="47.2" height="9.3" fill="#fff"/>
<path d="M39.6 792.9V930.9" stroke="#000" stroke-opacity="0.16" stroke-width="0.45"/>
<path d="M63.4 792.9V930.9" stroke="#000" stroke-opacity="0.16" stroke-width="0.45"/>
<path d="M87.2 792.9V930.9" stroke="#000" stroke-opacity="0.16" stroke-width="0.45"/>
<path d="M111 792.9V930.9" stroke="#000" stroke-opacity="0.16" stroke-width="0.45"/>
<path d="M134.8 792.9V930.9" stroke="#000" stroke-opacity="0.16" stroke-width="0.45"/>
<path d="M158.6 792.9V930.9" stroke="#000" stroke-opacity="0.16" stroke-width="0.45"/>
<path d="M182.4 792.9V930.9" stroke="#000" stroke-opacity="0.16" stroke-width="0.45"/>
<path d="M206.2 792.9V930.9" stroke="#000" stroke-opacity="0.16" stroke-width="0.45"/>
<path d="M17.2 800.7H207.5" stroke="#b4b4b4" stroke-width="0.5"/>
<path d="M17.2 810H207.5" stroke="#b4b4b4" stroke-width="0.5"/>
<path d="M17.2 819.3H207.5" stroke="#b4b4b4" stroke-width="0.5"/>
<path d="M17.2 828.6H207.5" stroke="#b4b4b4" stroke-width="0.5"/>
<path d="M17.2 837.9H207.5" stroke="#b4b4b4" stroke-width="0.5"/>
<path d="M17.2 847.2H207.5" stroke="#b4b4b4" stroke-width="0.5"/>
<path d="M17.2 856.5H207.5" stroke="#b4b4b4" stroke-width="0.5"/>
<path d="M17.2 865.8H207.5" stroke="#b4b4b4" stroke-width="0.5"/>
<path d="M17.2 875.1H207.5" stroke="#b4b4b4" stroke-width="0.5"/>
<path d="M17.2 884.4H207.5" stroke="#b4b4b4" stroke-width="0.5"/>
<path d="M17.2 893.7H207.5" stroke="#b4b4b4" stroke-width="0.5"/>
<path d="M17.2 903H207.5" stroke="#b4b4b4" stroke-width="0.5"/>
<path d="M17.2 912.3H207.5" stroke="#b4b4b4" stroke-width="0.5"/>
<path d="M17.2 921.6H207.5" stroke="#b4b4b4" stroke-width="0.5"/>
<g fill="#0000ff" stroke="#0a0a1e" stroke-width="0.55" stroke-linejoin="round">
<path d="M17.2 800.7L17.5 800.1L19.5 799.6L21.5 799.7L23.4 799.5L25.4 799.6L27.4 800.0L29.4 799.8L31.4 800.1L33.4 799.8L35.3 799.8L37.3 800.1L39.3 799.1L41.3 798.5L43.3 798.2L45.2 798.5L47.2 795.4L49.2 798.2L51.2 798.7L53.2 798.9L55.2 799.4L57.1 799.4L59.1 799.5L61.1 799.5L63.1 799.7L65.1 799.8L67.1 799.7L69.0 799.8L71.0 799.7L73.0 799.7L75.0 799.2L77.0 799.1L78.9 799.4L80.9 799.5L82.9 799.7L84.9 799.3L86.9 799.3L88.9 798.9L90.8 798.8L92.8 798.7L94.8 792.6L96.8 795.3L98.8 797.9L100.8 799.2L102.7 800.2L104.7 800.3L106.7 800.3L108.7 800.7L110.7 800.3L112.6 800.0L114.6 799.6L116.6 799.5L118.6 799.7L120.6 799.7L122.6 800.0L124.5 799.6L126.5 800.2L128.5 800.0L130.5 799.9L132.5 799.9L134.5 799.4L136.4 798.6L138.4 797.0L140.4 798.0L142.4 796.5L144.4 797.3L146.3 798.4L148.3 799.3L150.3 799.8L152.3 799.8L154.3 799.3L156.3 799.2L158.2 799.8L160.2 799.6L162.2 799.9L164.2 799.8L166.2 799.7L168.2 799.5L170.1 799.5L172.1 799.2L174.1 799.7L176.1 799.1L178.1 799.3L180.0 799.6L182.0 799.0L184.0 798.8L186.0 798.4L188.0 798.5L190.0 791.6L191.9 794.6L193.9 797.4L195.9 799.1L197.9 800.2L199.9 800.3L201.9 800.2L203.8 800.7L205.8 800.3L207.5 800.7Z"/>
<path d="M17.2 810L17.5 809.3L19.5 808.9L21.5 808.8L23.4 809.0L25.4 809.0L27.4 809.3L29.4 808.9L31.4 809.5L33.4 809.3L35.3 809.2L37.3 809.2L39.3 808.7L41.3 807.9L43.3 806.3L45.2 807.3L47.2 805.8L49.2 806.6L51.2 807.7L53.2 808.6L55.2 809.1L57.1 809.1L59.1 808.6L61.1 808.5L63.1 809.1L65.1 808.9L67.1 809.2L69.0 809.1L71.0 809.0L73.0 808.8L75.0 808.8L77.0 808.5L78.9 809.0L80.9 808.4L82.9 808.6L84.9 808.9L86.9 808.3L88.9 808.1L90.8 807.7L92.8 807.8L94.8 800.9L96.8 803.9L98.8 806.7L100.8 808.4L102.7 809.5L104.7 809.6L106.7 809.5L108.7 810.0L110.7 809.6L112.6 809.3L114.6 809.0L116.6 808.9L118.6 808.8L120.6 809.2L122.6 809.0L124.5 809.2L126.5 809.6L128.5 809.0L130.5 809.3L132.5 809.4L134.5 808.1L136.4 807.9L138.4 806.5L140.4 807.6L142.4 804.1L144.4 806.8L146.3 808.5L148.3 808.7L150.3 808.8L152.3 808.9L154.3 808.8L156.3 809.0L158.2 809.3L160.2 808.8L162.2 808.9L164.2 809.0L166.2 808.9L168.2 809.2L170.1 808.5L172.1 808.4L174.1 808.8L176.1 808.4L178.1 809.0L180.0 808.7L182.0 808.7L184.0 808.5L186.0 808.0L188.0 807.2L190.0 802.9L191.9 805.1L193.9 807.0L195.9 808.8L197.9 809.6L199.9 809.6L201.9 809.3L203.8 810.0L205.8 809.5L207.5 810Z"/>
<path d="M17.2 819.3L17.5 818.6L19.5 818.3L21.5 818.2L23.4 818.1L25.4 818.5L27.4 818.3L29.4 818.5L31.4 818.9L33.4 818.3L35.3 818.6L37.3 818.7L39.3 817.4L41.3 817.2L43.3 815.8L45.2 816.9L47.2 813.4L49.2 816.1L51.2 817.8L53.2 818.0L55.2 818.1L57.1 818.2L59.1 818.1L61.1 818.3L63.1 818.6L65.1 818.1L67.1 818.2L69.0 818.3L71.0 818.2L73.0 818.5L75.0 817.8L77.0 817.7L78.9 818.1L80.9 817.7L82.9 818.3L84.9 818.0L86.9 818.0L88.9 817.8L90.8 817.3L92.8 816.5L94.8 812.2L96.8 814.4L98.8 816.3L100.8 818.1L102.7 818.9L104.7 818.9L106.7 818.6L108.7 819.3L110.7 818.8L112.6 818.8L114.6 818.4L116.6 818.6L118.6 818.1L120.6 818.4L122.6 818.7L124.5 818.4L126.5 818.8L128.5 818.7L130.5 818.5L132.5 818.8L134.5 818.2L136.4 816.9L138.4 817.0L140.4 817.3L142.4 817.2L144.4 817.3L146.3 817.8L148.3 818.4L150.3 818.4L152.3 818.5L154.3 818.4L156.3 818.3L158.2 818.7L160.2 818.7L162.2 817.9L164.2 818.3L166.2 817.5L168.2 817.1L170.1 817.9L172.1 817.4L174.1 817.8L176.1 817.7L178.1 817.6L180.0 817.8L182.0 818.2L184.0 818.4L186.0 817.6L188.0 818.1L190.0 817.3L191.9 817.1L193.9 817.0L195.9 817.0L197.9 817.2L199.9 816.6L201.9 815.7L203.8 817.0L205.8 816.9L207.5 819.3Z"/>
<path d="M17.2 828.6L17.5 828.1L19.5 827.7L21.5 827.9L23.4 827.4L25.4 827.7L27.4 828.0L29.4 827.7L31.4 828.1L33.4 828.0L35.3 827.8L37.3 828.1L39.3 827.5L41.3 826.2L43.3 826.3L45.2 826.6L47.2 826.5L49.2 826.6L51.2 827.1L53.2 827.7L55.2 827.7L57.1 827.8L59.1 827.7L61.1 827.6L63.1 828.0L65.1 828.0L67.1 827.2L69.0 827.6L71.0 826.8L73.0 826.4L75.0 827.2L77.0 826.7L78.9 827.1L80.9 827.0L82.9 826.9L84.9 827.1L86.9 827.5L88.9 827.7L90.8 826.9L92.8 827.4L94.8 826.6L96.8 826.4L98.8 826.3L100.8 826.3L102.7 826.5L104.7 825.9L106.7 825.0L108.7 826.3L110.7 826.2L112.6 826.0L114.6 822.4L116.6 825.6L118.6 827.5L120.6 827.5L122.6 827.9L124.5 827.8L126.5 827.9L128.5 828.1L130.5 827.9L132.5 827.9L134.5 827.0L136.4 827.1L138.4 827.8L140.4 828.0L142.4 828.0L144.4 827.5L146.3 828.0L148.3 827.8L150.3 827.5L152.3 827.5L154.3 827.5L156.3 826.5L158.2 826.3L160.2 826.9L162.2 824.5L164.2 825.3L166.2 826.7L168.2 826.0L170.1 826.3L172.1 827.1L174.1 827.0L176.1 826.6L178.1 826.7L180.0 827.3L182.0 827.3L184.0 827.6L186.0 827.4L188.0 827.8L190.0 827.6L191.9 827.7L193.9 826.8L195.9 826.7L197.9 827.8L199.9 826.5L201.9 826.6L203.8 826.1L205.8 824.9L207.5 828.6Z"/>
<path d="M17.2 837.9L17.5 835.3L19.5 831.7L21.5 834.9L23.4 836.8L25.4 836.8L27.4 837.2L29.4 837.1L31.4 837.2L33.4 837.4L35.3 837.2L37.3 837.2L39.3 836.3L41.3 836.4L43.3 837.1L45.2 837.3L47.2 837.3L49.2 836.8L51.2 837.3L53.2 837.1L55.2 836.8L57.1 836.8L59.1 836.8L61.1 835.8L63.1 835.6L65.1 836.2L67.1 833.8L69.0 834.6L71.0 836.0L73.0 835.3L75.0 835.6L77.0 836.4L78.9 836.3L80.9 835.9L82.9 836.0L84.9 836.6L86.9 836.6L88.9 836.9L90.8 836.7L92.8 837.1L94.8 836.9L96.8 837.0L98.8 836.1L100.8 836.0L102.7 837.1L104.7 835.8L106.7 835.9L108.7 835.4L110.7 834.2L112.6 834.7L114.6 830.5L116.6 833.6L118.6 836.0L120.6 837.0L122.6 837.2L124.5 836.9L126.5 837.2L128.5 837.5L130.5 837.2L132.5 837.1L134.5 836.4L136.4 836.6L138.4 837.2L140.4 837.4L142.4 837.3L144.4 837.2L146.3 837.0L148.3 837.1L150.3 836.8L152.3 836.6L154.3 836.8L156.3 835.9L158.2 835.7L160.2 836.1L162.2 833.2L164.2 834.4L166.2 836.3L168.2 835.7L170.1 835.7L172.1 836.4L174.1 836.4L176.1 835.8L178.1 836.3L180.0 836.3L182.0 836.5L184.0 836.9L186.0 836.0L188.0 837.0L190.0 836.9L191.9 837.1L193.9 836.1L195.9 836.0L197.9 836.7L199.9 836.2L201.9 836.1L203.8 836.0L205.8 835.1L207.5 837.9Z"/>
<path d="M17.2 847.2L17.5 844.0L19.5 839.8L21.5 842.9L23.4 845.3L25.4 846.3L27.4 846.5L29.4 846.2L31.4 846.5L33.4 846.8L35.3 846.5L37.3 846.4L39.3 845.7L41.3 845.9L43.3 846.5L45.2 846.7L47.2 846.6L49.2 846.5L51.2 846.3L53.2 846.4L55.2 846.1L57.1 845.9L59.1 846.1L61.1 845.2L63.1 845.0L65.1 845.4L67.1 842.5L69.0 843.7L71.0 845.6L73.0 845.0L75.0 845.0L77.0 845.7L78.9 845.7L80.9 845.1L82.9 845.6L84.9 845.6L86.9 845.8L88.9 846.2L90.8 845.3L92.8 846.3L94.8 846.2L96.8 846.4L98.8 845.4L100.8 845.3L102.7 846.0L104.7 845.5L106.7 845.4L108.7 845.3L110.7 844.4L112.6 842.5L114.6 840.1L116.6 843.3L118.6 845.1L120.6 846.0L122.6 846.7L124.5 846.5L126.5 846.6L128.5 846.8L130.5 846.4L132.5 846.4L134.5 846.2L136.4 846.1L138.4 846.5L140.4 846.7L142.4 846.5L144.4 846.1L146.3 846.4L148.3 846.2L150.3 846.2L152.3 846.3L154.3 846.1L156.3 845.3L158.2 845.0L160.2 845.7L162.2 842.0L164.2 844.6L166.2 845.5L168.2 845.0L170.1 845.5L172.1 845.5L174.1 845.2L176.1 845.2L178.1 845.7L180.0 845.7L182.0 846.0L184.0 846.0L186.0 845.4L188.0 846.4L190.0 846.4L191.9 846.4L193.9 845.7L195.9 845.9L197.9 846.2L199.9 845.5L201.9 845.5L203.8 844.9L205.8 843.9L207.5 847.2Z"/>
<path d="M17.2 856.5L17.5 851.8L19.5 849.4L21.5 852.6L23.4 854.4L25.4 855.3L27.4 856.0L29.4 855.8L31.4 855.9L33.4 856.1L35.3 855.7L37.3 855.7L39.3 855.5L41.3 855.4L43.3 855.8L45.2 856.0L47.2 855.8L49.2 855.4L51.2 855.7L53.2 855.5L55.2 855.5L57.1 855.6L59.1 855.4L61.1 854.6L63.1 854.3L65.1 855.0L67.1 851.3L69.0 853.9L71.0 854.8L73.0 854.3L75.0 854.8L77.0 854.8L78.9 854.5L80.9 854.5L82.9 855.0L84.9 855.0L86.9 855.3L88.9 855.3L90.8 854.7L92.8 855.7L94.8 855.7L96.8 855.7L98.8 855.0L100.8 855.2L102.7 855.5L104.7 854.8L106.7 854.8L108.7 854.2L110.7 853.2L112.6 853.3L114.6 849.4L116.6 852.3L118.6 854.4L120.6 855.5L122.6 855.9L124.5 855.5L126.5 856.0L128.5 856.1L130.5 855.5L132.5 855.6L134.5 855.5L136.4 855.1L138.4 855.7L140.4 856.1L142.4 855.8L144.4 855.4L146.3 855.7L148.3 855.3L150.3 855.7L152.3 855.2L154.3 855.6L156.3 854.9L158.2 854.9L160.2 854.5L162.2 851.3L164.2 853.2L166.2 854.4L168.2 853.8L170.1 854.2L172.1 854.2L174.1 855.2L176.1 855.0L178.1 855.1L180.0 855.3L182.0 855.1L184.0 855.5L186.0 855.3L188.0 855.4L190.0 855.8L191.9 855.6L193.9 855.1L195.9 854.6L197.9 855.2L199.9 853.9L201.9 855.1L203.8 854.5L205.8 853.2L207.5 856.5Z"/>
<path d="M17.2 865.8L17.5 862.6L19.5 858.7L21.5 861.6L23.4 863.7L25.4 864.8L27.4 865.2L29.4 864.8L31.4 865.3L33.4 865.4L35.3 864.8L37.3 864.9L39.3 864.8L41.3 864.4L43.3 865.0L45.2 865.4L47.2 865.1L49.2 864.7L51.2 865.0L53.2 864.6L55.2 865.0L57.1 864.5L59.1 864.9L61.1 864.2L63.1 864.2L65.1 863.8L67.1 860.6L69.0 862.5L71.0 863.7L73.0 863.1L75.0 863.5L77.0 863.5L78.9 864.5L80.9 864.3L82.9 864.4L84.9 864.6L86.9 864.4L88.9 864.8L90.8 864.6L92.8 864.7L94.8 865.1L96.8 864.9L98.8 864.4L100.8 863.9L102.7 864.5L104.7 863.2L106.7 864.4L108.7 863.8L110.7 862.5L112.6 861.4L114.6 856.7L116.6 861.7L118.6 863.4L120.6 864.8L122.6 865.1L124.5 865.1L126.5 865.3L128.5 865.4L130.5 864.9L132.5 865.1L134.5 864.3L136.4 864.2L138.4 865.0L140.4 865.3L142.4 865.0L144.4 864.8L146.3 865.0L148.3 864.9L150.3 864.9L152.3 864.4L154.3 865.0L156.3 863.8L158.2 864.2L160.2 864.0L162.2 861.6L164.2 861.8L166.2 864.0L168.2 863.7L170.1 864.3L172.1 863.7L174.1 864.1L176.1 863.7L178.1 864.4L180.0 864.6L182.0 864.5L184.0 864.7L186.0 864.6L188.0 865.1L190.0 864.9L191.9 865.0L193.9 864.3L195.9 863.6L197.9 864.7L199.9 863.3L201.9 863.8L203.8 862.9L205.8 862.6L207.5 865.8Z"/>
<path d="M17.2 875.1L17.5 870.7L19.5 866.0L21.5 871.0L23.4 872.7L25.4 874.1L27.4 874.4L29.4 874.4L31.4 874.6L33.4 874.7L35.3 874.2L37.3 874.4L39.3 873.6L41.3 873.5L43.3 874.3L45.2 874.6L47.2 874.3L49.2 874.1L51.2 874.3L53.2 874.2L55.2 874.2L57.1 873.7L59.1 874.3L61.1 873.1L63.1 873.5L65.1 873.3L67.1 870.9L69.0 871.1L71.0 873.3L73.0 873.0L75.0 873.6L77.0 873.0L78.9 873.4L80.9 873.0L82.9 873.7L84.9 873.9L86.9 873.8L88.9 874.0L90.8 873.9L92.8 874.4L94.8 874.2L96.8 874.3L98.8 873.6L100.8 872.9L102.7 874.0L104.7 872.6L106.7 873.1L108.7 872.2L110.7 871.9L112.6 871.1L114.6 868.4L116.6 871.5L118.6 872.9L120.6 874.2L122.6 874.7L124.5 874.8L126.5 874.7L128.5 874.7L130.5 874.7L132.5 874.7L134.5 874.7L136.4 874.7L138.4 874.7L140.4 874.6L142.4 874.6L144.4 874.7L146.3 874.7L148.3 874.8L150.3 874.7L152.3 874.6L154.3 874.4L156.3 874.2L158.2 874.2L160.2 874.2L162.2 873.9L164.2 873.9L166.2 874.0L168.2 874.0L170.1 873.7L172.1 873.9L174.1 874.1L176.1 873.9L178.1 873.8L180.0 874.1L182.0 874.0L184.0 873.7L186.0 873.7L188.0 873.9L190.0 873.8L191.9 873.9L193.9 874.0L195.9 874.0L197.9 873.9L199.9 874.1L201.9 873.9L203.8 873.8L205.8 874.1L207.5 875.1Z"/>
<path d="M17.2 884.4L17.5 880.4L19.5 877.7L21.5 880.8L23.4 882.2L25.4 883.5L27.4 884.0L29.4 884.1L31.4 884.0L33.4 884.0L35.3 884.0L37.3 884.0L39.3 884.0L41.3 884.0L43.3 884.0L45.2 883.9L47.2 883.9L49.2 884.0L51.2 884.0L53.2 884.1L55.2 884.0L57.1 883.9L59.1 883.7L61.1 883.5L63.1 883.5L65.1 883.5L67.1 883.2L69.0 883.2L71.0 883.3L73.0 883.3L75.0 883.0L77.0 883.2L78.9 883.4L80.9 883.2L82.9 883.1L84.9 883.4L86.9 883.3L88.9 883.0L90.8 883.0L92.8 883.2L94.8 883.1L96.8 883.2L98.8 883.3L100.8 883.3L102.7 883.2L104.7 883.4L106.7 883.2L108.7 883.1L110.7 883.4L112.6 883.5L114.6 883.5L116.6 883.3L118.6 883.4L120.6 883.5L122.6 883.6L124.5 883.8L126.5 883.8L128.5 883.8L130.5 883.9L132.5 884.0L134.5 884.4L136.4 884.4L138.4 884.4L140.4 884.0L142.4 883.9L144.4 884.0L146.3 884.0L148.3 884.0L150.3 884.4L152.3 884.4L154.3 884.4L156.3 884.4L158.2 884.4L160.2 884.0L162.2 883.9L164.2 883.9L166.2 883.8L168.2 883.8L170.1 883.8L172.1 883.8L174.1 883.9L176.1 883.9L178.1 883.9L180.0 883.9L182.0 883.9L184.0 883.9L186.0 883.9L188.0 884.0L190.0 884.0L191.9 883.9L193.9 883.9L195.9 883.9L197.9 884.0L199.9 884.0L201.9 883.8L203.8 883.8L205.8 884.0L207.5 884.4Z"/>
<path d="M17.2 893.7L17.5 892.8L19.5 892.8L21.5 892.6L23.4 892.7L25.4 892.8L27.4 892.9L29.4 893.1L31.4 893.1L33.4 893.1L35.3 893.2L37.3 893.3L39.3 893.7L41.3 893.7L43.3 893.7L45.2 893.3L47.2 893.2L49.2 893.3L51.2 893.3L53.2 893.3L55.2 893.7L57.1 893.7L59.1 893.7L61.1 893.7L63.1 893.7L65.1 893.3L67.1 893.2L69.0 893.2L71.0 893.1L73.0 893.1L75.0 893.1L77.0 893.1L78.9 893.2L80.9 893.2L82.9 893.2L84.9 893.2L86.9 893.2L88.9 893.2L90.8 893.2L92.8 893.3L94.8 893.3L96.8 893.2L98.8 893.2L100.8 893.2L102.7 893.3L104.7 893.3L106.7 893.1L108.7 893.1L110.7 893.3L112.6 892.4L114.6 892.1L116.6 892.2L118.6 892.3L120.6 892.5L122.6 891.9L124.5 891.7L126.5 892.2L128.5 892.8L130.5 892.8L132.5 893.1L134.5 893.3L136.4 893.3L138.4 893.7L140.4 893.7L142.4 893.7L144.4 893.3L146.3 893.4L148.3 893.7L150.3 893.7L152.3 893.7L154.3 893.7L156.3 893.7L158.2 893.7L160.2 893.3L162.2 893.2L164.2 893.3L166.2 893.4L168.2 893.4L170.1 893.3L172.1 893.4L174.1 893.7L176.1 893.7L178.1 893.3L180.0 893.3L182.0 893.3L184.0 893.3L186.0 893.7L188.0 893.4L190.0 893.2L191.9 893.3L193.9 893.4L195.9 893.4L197.9 893.3L199.9 893.2L201.9 893.3L203.8 893.3L205.8 893.2L207.5 893.7Z"/>
<path d="M17.2 903L17.5 901.7L19.5 901.4L21.5 901.5L23.4 901.6L25.4 901.8L27.4 901.2L29.4 901.0L31.4 901.5L33.4 902.1L35.3 902.1L37.3 902.4L39.3 902.6L41.3 902.6L43.3 903.0L45.2 903.0L47.2 903.0L49.2 902.6L51.2 902.7L53.2 903.0L55.2 903.0L57.1 903.0L59.1 903.0L61.1 903.0L63.1 903.0L65.1 902.6L67.1 902.5L69.0 902.6L71.0 902.7L73.0 902.7L75.0 902.6L77.0 902.7L78.9 903.0L80.9 903.0L82.9 902.6L84.9 902.6L86.9 902.6L88.9 902.6L90.8 903.0L92.8 902.7L94.8 902.5L96.8 902.6L98.8 902.7L100.8 902.7L102.7 902.6L104.7 902.5L106.7 902.6L108.7 902.6L110.7 902.5L112.6 902.2L114.6 902.2L116.6 902.2L118.6 902.4L120.6 902.3L122.6 902.3L124.5 902.4L126.5 902.5L128.5 902.5L130.5 902.6L132.5 902.6L134.5 902.7L136.4 902.6L138.4 903.0L140.4 903.0L142.4 903.0L144.4 903.0L146.3 903.0L148.3 903.0L150.3 903.0L152.3 903.0L154.3 903.0L156.3 903.0L158.2 903.0L160.2 903.0L162.2 902.6L164.2 902.6L166.2 902.5L168.2 902.5L170.1 902.6L172.1 903.0L174.1 903.0L176.1 902.6L178.1 902.6L180.0 903.0L182.0 903.0L184.0 902.6L186.0 902.6L188.0 902.7L190.0 902.6L191.9 902.5L193.9 902.6L195.9 902.6L197.9 902.6L199.9 902.5L201.9 902.5L203.8 902.6L205.8 903.0L207.5 903Z"/>
<path d="M17.2 912.3L17.5 911.5L19.5 911.5L21.5 911.5L23.4 911.7L25.4 911.6L27.4 911.6L29.4 911.7L31.4 911.8L33.4 911.8L35.3 911.9L37.3 911.9L39.3 912.0L41.3 911.9L43.3 912.3L45.2 912.3L47.2 912.3L49.2 912.3L51.2 912.3L53.2 912.3L55.2 912.3L57.1 912.3L59.1 912.3L61.1 912.3L63.1 912.3L65.1 912.3L67.1 911.9L69.0 911.9L71.0 911.8L73.0 911.8L75.0 911.9L77.0 912.3L78.9 912.3L80.9 911.9L82.9 911.9L84.9 912.3L86.9 912.3L88.9 911.9L90.8 911.9L92.8 912.0L94.8 911.9L96.8 911.8L98.8 911.9L100.8 911.9L102.7 911.9L104.7 911.8L106.7 911.8L108.7 911.9L110.7 912.3L112.6 911.7L114.6 911.7L116.6 911.8L118.6 911.9L120.6 911.9L122.6 912.0L124.5 912.3L126.5 912.3L128.5 912.3L130.5 912.3L132.5 912.3L134.5 912.3L136.4 912.3L138.4 912.3L140.4 912.3L142.4 912.3L144.4 912.3L146.3 912.3L148.3 912.3L150.3 912.3L152.3 912.3L154.3 912.3L156.3 912.3L158.2 912.3L160.2 912.3L162.2 912.3L164.2 912.3L166.2 912.3L168.2 912.0L170.1 912.3L172.1 912.3L174.1 912.3L176.1 911.9L178.1 911.9L180.0 912.3L182.0 912.3L184.0 912.0L186.0 912.3L188.0 912.3L190.0 912.3L191.9 912.3L193.9 912.3L195.9 912.3L197.9 912.3L199.9 912.3L201.9 912.3L203.8 912.3L205.8 911.9L207.5 912.3Z"/>
<path d="M17.2 921.6L17.5 921.0L19.5 921.0L21.5 921.1L23.4 921.2L25.4 921.2L27.4 921.3L29.4 921.6L31.4 921.6L33.4 921.6L35.3 921.6L37.3 921.6L39.3 921.6L41.3 921.6L43.3 921.6L45.2 921.6L47.2 921.6L49.2 921.6L51.2 921.6L53.2 921.6L55.2 921.6L57.1 921.6L59.1 921.6L61.1 921.6L63.1 921.6L65.1 921.6L67.1 921.6L69.0 921.6L71.0 921.6L73.0 921.3L75.0 921.6L77.0 921.6L78.9 921.6L80.9 921.2L82.9 921.2L84.9 921.6L86.9 921.6L88.9 921.3L90.8 921.6L92.8 921.6L94.8 921.6L96.8 921.6L98.8 921.6L100.8 921.6L102.7 921.6L104.7 921.6L106.7 921.6L108.7 921.6L110.7 921.2L112.6 921.3L114.6 921.6L116.6 921.6L118.6 921.6L120.6 921.6L122.6 921.6L124.5 921.6L126.5 921.6L128.5 921.6L130.5 921.6L132.5 921.6L134.5 921.6L136.4 921.6L138.4 921.6L140.4 921.6L142.4 921.6L144.4 921.6L146.3 921.6L148.3 921.6L150.3 921.6L152.3 921.6L154.3 921.6L156.3 921.6L158.2 921.6L160.2 921.6L162.2 921.6L164.2 921.2L166.2 921.2L168.2 921.6L170.1 921.6L172.1 921.2L174.1 921.2L176.1 921.6L178.1 921.6L180.0 921.2L182.0 921.2L184.0 921.6L186.0 921.6L188.0 921.2L190.0 921.2L191.9 921.6L193.9 921.6L195.9 921.6L197.9 921.6L199.9 921.3L201.9 921.3L203.8 921.6L205.8 921.2L207.5 921.6Z"/>
<path d="M17.2 930.9L17.5 930.6L19.5 930.9L21.5 930.9L23.4 930.9L25.4 930.9L27.4 930.9L29.4 930.9L31.4 930.9L33.4 930.9L35.3 930.9L37.3 930.9L39.3 930.9L41.3 930.9L43.3 930.9L45.2 930.9L47.2 930.9L49.2 930.9L51.2 930.9L53.2 930.9L55.2 930.9L57.1 930.9L59.1 930.9L61.1 930.9L63.1 930.9L65.1 930.9L67.1 930.9L69.0 930.5L71.0 930.5L73.0 930.9L75.0 930.9L77.0 930.5L78.9 930.5L80.9 930.9L82.9 930.9L84.9 930.5L86.9 930.5L88.9 930.9L90.8 930.9L92.8 930.5L94.8 930.5L96.8 930.9L98.8 930.9L100.8 930.9L102.7 930.9L104.7 930.6L106.7 930.6L108.7 930.9L110.7 930.5L112.6 930.9L114.6 930.9L116.6 930.9L118.6 930.9L120.6 930.9L122.6 930.9L124.5 930.9L126.5 930.9L128.5 930.9L130.5 930.9L132.5 930.9L134.5 930.9L136.4 930.9L138.4 930.9L140.4 930.9L142.4 930.9L144.4 930.9L146.3 930.9L148.3 930.9L150.3 930.9L152.3 930.9L154.3 930.9L156.3 930.9L158.2 930.9L160.2 930.9L162.2 930.9L164.2 930.9L166.2 930.9L168.2 930.9L170.1 930.9L172.1 930.9L174.1 930.9L176.1 930.9L178.1 930.9L180.0 930.9L182.0 930.9L184.0 930.9L186.0 930.9L188.0 930.9L190.0 930.9L191.9 930.9L193.9 930.9L195.9 930.9L197.9 930.9L199.9 930.9L201.9 930.9L203.8 930.9L205.8 930.9L207.5 930.9Z"/>
</g>
<path d="M144.4 903.0H150.3M130.5 912.3H138.4M152.3 912.3H164.2M120.6 921.6H130.5M27.4 930.9H35.3M43.3 930.9H55.2M112.6 930.9H122.6M124.5 930.9H136.4M138.4 930.9H146.3M148.3 930.9H156.3M180.0 930.9H191.9" fill="none" stroke="#c0c0c0" stroke-width="1.1"/>
<text x="11.9" y="803.95" text-anchor="middle" class="tk al">1</text>
<text x="11.9" y="813.2" text-anchor="middle" class="tk al">2</text>
<text x="11.9" y="822.45" text-anchor="middle" class="tk al">3</text>
<text x="11.9" y="831.7" text-anchor="middle" class="tk al">4</text>
<text x="11.9" y="840.95" text-anchor="middle" class="tk al">5</text>
<text x="11.9" y="850.2" text-anchor="middle" class="tk al">6</text>
<text x="11.9" y="859.45" text-anchor="middle" class="tk al">7</text>
<text x="11.9" y="868.7" text-anchor="middle" class="tk al">8</text>
<text x="11.9" y="877.95" text-anchor="middle" class="tk al">9</text>
<text x="11.9" y="887.2" text-anchor="middle" class="tk al">10</text>
<text x="11.9" y="896.45" text-anchor="middle" class="tk al">11</text>
<text x="11.9" y="905.7" text-anchor="middle" class="tk al">12</text>
<text x="11.9" y="914.95" text-anchor="middle" class="tk al">13</text>
<text x="11.9" y="924.2" text-anchor="middle" class="tk al">14</text>
<path d="M17.2 930.9H207.5" stroke="#1a1a1a" stroke-width="1.0"/>
<text x="11.9" y="933.45" text-anchor="middle" class="tk al">15</text>
<path d="M17.2 792.9V930.9" stroke="#333" stroke-width="0.5"/>
<text transform="translate(4.6 861.9) rotate(-90)" text-anchor="middle" class="yl" style="font-size:5.8px">day</text>
<g fill="#808080" stroke="#151515" stroke-width="0.5"><rect x="258.6" y="907.1" width="3.91" height="17.18"/><rect x="262.51" y="911.31" width="3.91" height="12.97"/><rect x="266.43" y="912.22" width="3.91" height="12.06"/><rect x="270.34" y="911.88" width="3.91" height="12.4"/><rect x="274.25" y="917" width="3.91" height="7.28"/><rect x="278.16" y="913.13" width="3.91" height="11.15"/><rect x="282.08" y="913.81" width="3.91" height="10.46"/><rect x="285.99" y="915.07" width="3.91" height="9.21"/><rect x="289.9" y="901.76" width="3.91" height="22.52"/><rect x="293.81" y="892.09" width="3.91" height="32.19"/><rect x="297.73" y="882.99" width="3.91" height="41.29"/><rect x="301.64" y="887.31" width="3.91" height="36.97"/><rect x="399.45" y="811.44" width="3.91" height="112.84"/><rect x="403.36" y="844.88" width="3.91" height="79.4"/><rect x="407.27" y="881.85" width="3.91" height="42.43"/><rect x="411.19" y="907.44" width="3.91" height="16.84"/><rect x="415.1" y="918.82" width="3.91" height="5.46"/><rect x="419.01" y="918.82" width="3.91" height="5.46"/><rect x="422.92" y="917" width="3.91" height="7.28"/><rect x="426.84" y="921.89" width="3.91" height="2.39"/><rect x="430.75" y="918.02" width="3.91" height="6.26"/><rect x="434.66" y="916.43" width="3.91" height="7.85"/><rect x="438.57" y="909.15" width="3.91" height="15.13"/><rect x="442.49" y="911.08" width="3.91" height="13.19"/></g>
<g fill="#fff" stroke="#151515" stroke-width="0.5"><rect x="305.55" y="849.55" width="3.91" height="74.73"/><rect x="309.46" y="886.63" width="3.91" height="37.65"/><rect x="313.38" y="899.03" width="3.91" height="25.25"/><rect x="317.29" y="905.17" width="3.91" height="19.11"/><rect x="321.2" y="910.29" width="3.91" height="13.99"/><rect x="325.11" y="909.15" width="3.91" height="15.13"/><rect x="329.02" y="907.1" width="3.91" height="17.18"/><rect x="332.94" y="907.1" width="3.91" height="17.18"/><rect x="336.85" y="913.13" width="3.91" height="11.15"/><rect x="340.76" y="910.74" width="3.91" height="13.54"/><rect x="344.68" y="912.9" width="3.91" height="11.38"/><rect x="348.59" y="911.08" width="3.91" height="13.19"/><rect x="352.5" y="910.74" width="3.91" height="13.54"/><rect x="356.41" y="910.74" width="3.91" height="13.54"/><rect x="360.32" y="907.44" width="3.91" height="16.84"/><rect x="364.24" y="904.71" width="3.91" height="19.56"/><rect x="368.15" y="909.95" width="3.91" height="14.33"/><rect x="372.06" y="906.31" width="3.91" height="17.97"/><rect x="375.98" y="909.49" width="3.91" height="14.79"/><rect x="379.89" y="908.24" width="3.91" height="16.04"/><rect x="383.8" y="906.31" width="3.91" height="17.97"/><rect x="387.71" y="902.21" width="3.91" height="22.07"/><rect x="391.62" y="892.32" width="3.91" height="31.96"/><rect x="395.54" y="890.5" width="3.91" height="33.78"/></g>
<g fill="#c4002b"><circle cx="260.56" cy="904.41" r="0.58"/><circle cx="264.47" cy="908.85" r="0.58"/><circle cx="268.38" cy="909.69" r="0.58"/><circle cx="272.29" cy="908" r="0.58"/><circle cx="276.21" cy="914.75" r="0.58"/><circle cx="280.12" cy="910.15" r="0.58"/><circle cx="284.03" cy="911.79" r="0.58"/><circle cx="287.94" cy="912.25" r="0.58"/><circle cx="291.86" cy="898.94" r="0.58"/><circle cx="295.77" cy="888.96" r="0.58"/><circle cx="299.68" cy="879.62" r="0.58"/><circle cx="303.59" cy="884.93" r="0.58"/><circle cx="307.51" cy="843.67" r="0.58"/><circle cx="311.42" cy="881.96" r="0.58"/><circle cx="315.33" cy="896.15" r="0.58"/><circle cx="319.24" cy="900.83" r="0.58"/><circle cx="323.16" cy="908.36" r="0.58"/><circle cx="327.07" cy="906.65" r="0.58"/><circle cx="330.98" cy="902.82" r="0.58"/><circle cx="334.89" cy="904.31" r="0.58"/><circle cx="338.81" cy="911.03" r="0.58"/><circle cx="342.72" cy="907.51" r="0.58"/><circle cx="346.63" cy="910.75" r="0.58"/><circle cx="350.54" cy="909.56" r="0.58"/><circle cx="354.46" cy="908.66" r="0.58"/><circle cx="358.37" cy="907.84" r="0.58"/><circle cx="362.28" cy="904" r="0.58"/><circle cx="366.19" cy="902.77" r="0.58"/><circle cx="370.11" cy="907.95" r="0.58"/><circle cx="374.02" cy="903.83" r="0.58"/><circle cx="377.93" cy="905.45" r="0.58"/><circle cx="381.84" cy="904.26" r="0.58"/><circle cx="385.76" cy="903.93" r="0.58"/><circle cx="389.67" cy="899.41" r="0.58"/><circle cx="393.58" cy="888.14" r="0.58"/><circle cx="397.49" cy="887.02" r="0.58"/><circle cx="401.41" cy="805.67" r="0.58"/><circle cx="405.32" cy="841.41" r="0.58"/><circle cx="409.23" cy="878.93" r="0.58"/><circle cx="413.14" cy="903.48" r="0.58"/><circle cx="417.06" cy="916.35" r="0.58"/><circle cx="420.97" cy="916.59" r="0.58"/><circle cx="424.88" cy="915.27" r="0.58"/><circle cx="428.79" cy="920.41" r="0.58"/><circle cx="432.71" cy="916.07" r="0.58"/><circle cx="436.62" cy="914.35" r="0.58"/><circle cx="440.53" cy="907.06" r="0.58"/><circle cx="444.44" cy="907.65" r="0.58"/></g>
<path d="M258.6 787.78V924.28H446.4" fill="none" stroke="#2a2a2a" stroke-width="0.6"/>
<path d="M258.6 924.28h1.8" stroke="#333" stroke-width="0.45"/>
<text x="256.5" y="926.88" text-anchor="end" class="tk">0</text>
<path d="M258.6 901.53h1.8" stroke="#333" stroke-width="0.45"/>
<text x="256.5" y="904.13" text-anchor="end" class="tk">20</text>
<path d="M258.6 878.78h1.8" stroke="#333" stroke-width="0.45"/>
<text x="256.5" y="881.38" text-anchor="end" class="tk">40</text>
<path d="M258.6 856.03h1.8" stroke="#333" stroke-width="0.45"/>
<text x="256.5" y="858.63" text-anchor="end" class="tk">60</text>
<path d="M258.6 833.28h1.8" stroke="#333" stroke-width="0.45"/>
<text x="256.5" y="835.88" text-anchor="end" class="tk">80</text>
<path d="M258.6 810.53h1.8" stroke="#333" stroke-width="0.45"/>
<text x="256.5" y="813.13" text-anchor="end" class="tk">100</text>
<path d="M258.6 787.78h1.8" stroke="#333" stroke-width="0.45"/>
<text x="256.5" y="790.38" text-anchor="end" class="tk">120</text>
<path d="M305.55 924.28v-1.8" stroke="#333" stroke-width="0.45"/>
<text x="305.55" y="932.48" text-anchor="middle" class="tk">ZT0</text>
<path d="M399.45 924.28v-1.8" stroke="#333" stroke-width="0.45"/>
<text x="399.45" y="932.48" text-anchor="middle" class="tk">ZT12</text>
<text transform="translate(242.9 856.03) rotate(-90)" text-anchor="middle" class="yl">mean activity</text>
<g fill="#808080" stroke="#151515" stroke-width="0.5"><rect x="493.8" y="911.17" width="3.97" height="13.11"/><rect x="497.77" y="916.41" width="3.97" height="7.87"/><rect x="501.75" y="913.95" width="3.97" height="10.33"/><rect x="505.72" y="911.17" width="3.97" height="13.11"/><rect x="509.69" y="912.25" width="3.97" height="12.03"/><rect x="513.66" y="909.17" width="3.97" height="15.11"/><rect x="517.64" y="909.94" width="3.97" height="14.34"/><rect x="521.61" y="908.24" width="3.97" height="16.04"/><rect x="525.58" y="909.94" width="3.97" height="14.34"/><rect x="529.56" y="898.68" width="3.97" height="25.6"/><rect x="533.53" y="894.36" width="3.97" height="29.92"/><rect x="537.5" y="900.99" width="3.97" height="23.29"/><rect x="636.83" y="805.37" width="3.97" height="118.91"/><rect x="640.8" y="859.04" width="3.97" height="65.24"/><rect x="644.77" y="895.13" width="3.97" height="29.15"/><rect x="648.74" y="909.78" width="3.97" height="14.5"/><rect x="652.72" y="914.87" width="3.97" height="9.41"/><rect x="656.69" y="911.94" width="3.97" height="12.34"/><rect x="660.66" y="915.49" width="3.97" height="8.79"/><rect x="664.64" y="918.42" width="3.97" height="5.86"/><rect x="668.61" y="911.17" width="3.97" height="13.11"/><rect x="672.58" y="913.02" width="3.97" height="11.26"/><rect x="676.55" y="905" width="3.97" height="19.28"/><rect x="680.53" y="903.92" width="3.97" height="20.36"/></g>
<g fill="#fff" stroke="#151515" stroke-width="0.5"><rect x="541.48" y="840.23" width="3.97" height="84.05"/><rect x="545.45" y="875.55" width="3.97" height="48.73"/><rect x="549.42" y="892.97" width="3.97" height="31.31"/><rect x="553.39" y="891.43" width="3.97" height="32.85"/><rect x="557.37" y="897.75" width="3.97" height="26.53"/><rect x="561.34" y="896.21" width="3.97" height="28.07"/><rect x="565.31" y="900.68" width="3.97" height="23.6"/><rect x="569.29" y="898.83" width="3.97" height="25.45"/><rect x="573.26" y="901.46" width="3.97" height="22.82"/><rect x="577.23" y="904.23" width="3.97" height="20.05"/><rect x="581.2" y="904.23" width="3.97" height="20.05"/><rect x="585.18" y="908.24" width="3.97" height="16.04"/><rect x="589.15" y="901.46" width="3.97" height="22.82"/><rect x="593.12" y="910.4" width="3.97" height="13.88"/><rect x="597.1" y="912.4" width="3.97" height="11.88"/><rect x="601.07" y="913.18" width="3.97" height="11.1"/><rect x="605.04" y="903.15" width="3.97" height="21.13"/><rect x="609.01" y="898.06" width="3.97" height="26.22"/><rect x="612.99" y="909.01" width="3.97" height="15.27"/><rect x="616.96" y="892.36" width="3.97" height="31.92"/><rect x="620.93" y="899.91" width="3.97" height="24.37"/><rect x="624.91" y="887.88" width="3.97" height="36.4"/><rect x="628.88" y="877.4" width="3.97" height="46.88"/><rect x="632.85" y="863.05" width="3.97" height="61.23"/></g>
<g fill="#c4002b"><circle cx="495.79" cy="908.68" r="0.58"/><circle cx="499.76" cy="914.97" r="0.58"/><circle cx="503.73" cy="912.23" r="0.58"/><circle cx="507.71" cy="907.67" r="0.58"/><circle cx="511.68" cy="909.05" r="0.58"/><circle cx="515.65" cy="905.57" r="0.58"/><circle cx="519.62" cy="906.09" r="0.58"/><circle cx="523.6" cy="905.4" r="0.58"/><circle cx="527.57" cy="906.66" r="0.58"/><circle cx="531.54" cy="894.14" r="0.58"/><circle cx="535.52" cy="888.84" r="0.58"/><circle cx="539.49" cy="896.7" r="0.58"/><circle cx="543.46" cy="834.61" r="0.58"/><circle cx="547.43" cy="871.52" r="0.58"/><circle cx="551.41" cy="889.76" r="0.58"/><circle cx="555.38" cy="885.79" r="0.58"/><circle cx="559.35" cy="895.64" r="0.58"/><circle cx="563.33" cy="894.03" r="0.58"/><circle cx="567.3" cy="897.35" r="0.58"/><circle cx="571.27" cy="896.89" r="0.58"/><circle cx="575.24" cy="897.63" r="0.58"/><circle cx="579.22" cy="900.72" r="0.58"/><circle cx="583.19" cy="899.56" r="0.58"/><circle cx="587.16" cy="904.09" r="0.58"/><circle cx="591.14" cy="899.29" r="0.58"/><circle cx="595.11" cy="908.97" r="0.58"/><circle cx="599.08" cy="910.55" r="0.58"/><circle cx="603.06" cy="909.68" r="0.58"/><circle cx="607.03" cy="901.59" r="0.58"/><circle cx="611" cy="895.11" r="0.58"/><circle cx="614.97" cy="907.58" r="0.58"/><circle cx="618.95" cy="890.27" r="0.58"/><circle cx="622.92" cy="898.2" r="0.58"/><circle cx="626.89" cy="885.1" r="0.58"/><circle cx="630.87" cy="871.02" r="0.58"/><circle cx="634.84" cy="857.65" r="0.58"/><circle cx="638.81" cy="797" r="0.58"/><circle cx="642.78" cy="855.4" r="0.58"/><circle cx="646.76" cy="890.92" r="0.58"/><circle cx="650.73" cy="907.93" r="0.58"/><circle cx="654.7" cy="913.46" r="0.58"/><circle cx="658.68" cy="909.41" r="0.58"/><circle cx="662.65" cy="912.75" r="0.58"/><circle cx="666.62" cy="915.52" r="0.58"/><circle cx="670.59" cy="907.75" r="0.58"/><circle cx="674.57" cy="909.59" r="0.58"/><circle cx="678.54" cy="900.94" r="0.58"/><circle cx="682.51" cy="900.11" r="0.58"/></g>
<path d="M493.8 785.48V924.28H684.5" fill="none" stroke="#2a2a2a" stroke-width="0.6"/>
<path d="M493.8 924.28h1.8" stroke="#333" stroke-width="0.45"/>
<text x="491.7" y="926.88" text-anchor="end" class="tk">0</text>
<path d="M493.8 908.86h1.8" stroke="#333" stroke-width="0.45"/>
<text x="491.7" y="911.46" text-anchor="end" class="tk">10</text>
<path d="M493.8 893.44h1.8" stroke="#333" stroke-width="0.45"/>
<text x="491.7" y="896.04" text-anchor="end" class="tk">20</text>
<path d="M493.8 878.01h1.8" stroke="#333" stroke-width="0.45"/>
<text x="491.7" y="880.61" text-anchor="end" class="tk">30</text>
<path d="M493.8 862.59h1.8" stroke="#333" stroke-width="0.45"/>
<text x="491.7" y="865.19" text-anchor="end" class="tk">40</text>
<path d="M493.8 847.17h1.8" stroke="#333" stroke-width="0.45"/>
<text x="491.7" y="849.77" text-anchor="end" class="tk">50</text>
<path d="M493.8 831.75h1.8" stroke="#333" stroke-width="0.45"/>
<text x="491.7" y="834.35" text-anchor="end" class="tk">60</text>
<path d="M493.8 816.32h1.8" stroke="#333" stroke-width="0.45"/>
<text x="491.7" y="818.92" text-anchor="end" class="tk">70</text>
<path d="M493.8 800.9h1.8" stroke="#333" stroke-width="0.45"/>
<text x="491.7" y="803.5" text-anchor="end" class="tk">80</text>
<path d="M493.8 785.48h1.8" stroke="#333" stroke-width="0.45"/>
<text x="491.7" y="788.08" text-anchor="end" class="tk">90</text>
<path d="M541.48 924.28v-1.8" stroke="#333" stroke-width="0.45"/>
<text x="541.48" y="932.48" text-anchor="middle" class="tk">ZT0</text>
<path d="M636.83 924.28v-1.8" stroke="#333" stroke-width="0.45"/>
<text x="636.83" y="932.48" text-anchor="middle" class="tk">ZT12</text>
<text transform="translate(480.8 854.88) rotate(-90)" text-anchor="middle" class="yl">mean activity</text>
<text x="16.8" y="971.15" class="tt" font-style="italic" textLength="29.3" lengthAdjust="spacing">cry01</text>
<text x="54.1" y="971.15" class="tt" textLength="28.9" lengthAdjust="spacing">n=16</text>
<rect x="17.2" y="985.2" width="190.3" height="138" fill="#d9d9d9"/>
<rect x="47" y="985.2" width="48" height="7.8" fill="#fff"/>
<rect x="142" y="985.2" width="48" height="7.8" fill="#fff"/>
<rect x="47" y="993" width="48" height="9.3" fill="#fff"/>
<rect x="142" y="993" width="48" height="9.3" fill="#fff"/>
<rect x="47" y="1002.3" width="48" height="9.3" fill="#fff"/>
<rect x="161.5" y="1002.3" width="46" height="9.3" fill="#fff"/>
<rect x="66.5" y="1011.6" width="47.2" height="9.3" fill="#fff"/>
<rect x="161.5" y="1011.6" width="46" height="9.3" fill="#fff"/>
<rect x="66.5" y="1020.9" width="47.2" height="9.3" fill="#fff"/>
<rect x="161.5" y="1020.9" width="46" height="9.3" fill="#fff"/>
<rect x="66.5" y="1030.2" width="47.2" height="9.3" fill="#fff"/>
<rect x="161.5" y="1030.2" width="46" height="9.3" fill="#fff"/>
<rect x="66.5" y="1039.5" width="47.2" height="9.3" fill="#fff"/>
<rect x="161.5" y="1039.5" width="46" height="9.3" fill="#fff"/>
<rect x="66.5" y="1048.8" width="47.2" height="9.3" fill="#fff"/>
<rect x="161.5" y="1048.8" width="46" height="9.3" fill="#fff"/>
<rect x="66.5" y="1058.1" width="47.2" height="9.3" fill="#fff"/>
<path d="M39.6 985.2V1123.2" stroke="#000" stroke-opacity="0.16" stroke-width="0.45"/>
<path d="M63.4 985.2V1123.2" stroke="#000" stroke-opacity="0.16" stroke-width="0.45"/>
<path d="M87.2 985.2V1123.2" stroke="#000" stroke-opacity="0.16" stroke-width="0.45"/>
<path d="M111 985.2V1123.2" stroke="#000" stroke-opacity="0.16" stroke-width="0.45"/>
<path d="M134.8 985.2V1123.2" stroke="#000" stroke-opacity="0.16" stroke-width="0.45"/>
<path d="M158.6 985.2V1123.2" stroke="#000" stroke-opacity="0.16" stroke-width="0.45"/>
<path d="M182.4 985.2V1123.2" stroke="#000" stroke-opacity="0.16" stroke-width="0.45"/>
<path d="M206.2 985.2V1123.2" stroke="#000" stroke-opacity="0.16" stroke-width="0.45"/>
<path d="M17.2 993H207.5" stroke="#b4b4b4" stroke-width="0.5"/>
<path d="M17.2 1002.3H207.5" stroke="#b4b4b4" stroke-width="0.5"/>
<path d="M17.2 1011.6H207.5" stroke="#b4b4b4" stroke-width="0.5"/>
<path d="M17.2 1020.9H207.5" stroke="#b4b4b4" stroke-width="0.5"/>
<path d="M17.2 1030.2H207.5" stroke="#b4b4b4" stroke-width="0.5"/>
<path d="M17.2 1039.5H207.5" stroke="#b4b4b4" stroke-width="0.5"/>
<path d="M17.2 1048.8H207.5" stroke="#b4b4b4" stroke-width="0.5"/>
<path d="M17.2 1058.1H207.5" stroke="#b4b4b4" stroke-width="0.5"/>
<path d="M17.2 1067.4H207.5" stroke="#b4b4b4" stroke-width="0.5"/>
<path d="M17.2 1076.7H207.5" stroke="#b4b4b4" stroke-width="0.5"/>
<path d="M17.2 1086H207.5" stroke="#b4b4b4" stroke-width="0.5"/>
<path d="M17.2 1095.3H207.5" stroke="#b4b4b4" stroke-width="0.5"/>
<path d="M17.2 1104.6H207.5" stroke="#b4b4b4" stroke-width="0.5"/>
<path d="M17.2 1113.9H207.5" stroke="#b4b4b4" stroke-width="0.5"/>
<g fill="#0000ff" stroke="#0a0a1e" stroke-width="0.55" stroke-linejoin="round">
<path d="M17.2 993L17.5 992.3L19.5 992.0L21.5 991.9L23.4 991.9L25.4 991.9L27.4 991.6L29.4 992.0L31.4 991.5L33.4 991.4L35.3 991.9L37.3 991.2L39.3 991.8L41.3 991.7L43.3 991.5L45.2 991.7L47.2 990.3L49.2 991.9L51.2 991.2L53.2 992.0L55.2 991.5L57.1 992.2L59.1 992.4L61.1 992.3L63.1 991.8L65.1 991.7L67.1 992.0L69.0 991.4L71.0 992.0L73.0 992.1L75.0 991.9L77.0 991.1L78.9 991.7L80.9 992.3L82.9 991.4L84.9 991.1L86.9 989.6L88.9 990.4L90.8 989.6L92.8 989.9L94.8 986.8L96.8 990.7L98.8 990.9L100.8 991.1L102.7 992.0L104.7 992.1L106.7 992.2L108.7 992.3L110.7 991.6L112.6 992.3L114.6 991.8L116.6 991.7L118.6 992.0L120.6 992.0L122.6 991.6L124.5 992.1L126.5 990.7L128.5 992.0L130.5 991.9L132.5 991.4L134.5 991.5L136.4 991.4L138.4 992.0L140.4 991.4L142.4 989.7L144.4 991.9L146.3 991.0L148.3 991.9L150.3 991.3L152.3 992.1L154.3 992.2L156.3 992.1L158.2 991.4L160.2 991.6L162.2 992.3L164.2 991.6L166.2 991.9L168.2 992.2L170.1 992.0L172.1 991.4L174.1 992.0L176.1 991.9L178.1 990.9L180.0 991.7L182.0 990.7L184.0 990.5L186.0 988.5L188.0 989.4L190.0 984.4L191.9 989.4L193.9 991.7L195.9 991.3L197.9 991.8L199.9 991.7L201.9 992.3L203.8 992.4L205.8 992.1L207.5 993Z"/>
<path d="M17.2 1002.3L17.5 1001.6L19.5 1001.1L21.5 1001.0L23.4 1001.3L25.4 1001.3L27.4 1000.9L29.4 1001.4L31.4 1000.0L33.4 1001.3L35.3 1001.2L37.3 1000.7L39.3 1000.8L41.3 1000.7L43.3 1001.3L45.2 1000.7L47.2 999.0L49.2 1001.2L51.2 1000.3L53.2 1001.2L55.2 1000.6L57.1 1001.4L59.1 1001.5L61.1 1001.4L63.1 1000.7L65.1 1000.9L67.1 1001.6L69.0 1000.9L71.0 1001.2L73.0 1001.5L75.0 1001.3L77.0 1000.7L78.9 1001.3L80.9 1001.2L82.9 1000.2L84.9 1001.0L86.9 1000.0L88.9 999.8L90.8 997.8L92.8 998.7L94.8 993.7L96.8 998.7L98.8 1001.0L100.8 1000.6L102.7 1001.1L104.7 1001.0L106.7 1001.6L108.7 1001.7L110.7 1001.4L112.6 1001.3L114.6 1001.4L116.6 1000.9L118.6 1001.3L120.6 1001.4L122.6 1001.1L124.5 1001.5L126.5 1000.7L128.5 1000.8L130.5 1001.4L132.5 1000.8L134.5 1000.5L136.4 1001.0L138.4 1000.9L140.4 1000.6L142.4 998.6L144.4 1000.9L146.3 1000.1L148.3 1001.4L150.3 1000.9L152.3 1001.2L154.3 1001.3L156.3 1001.6L158.2 1001.1L160.2 1001.1L162.2 1001.2L164.2 1001.1L166.2 1001.5L168.2 1001.5L170.1 1001.4L172.1 1000.4L174.1 1001.3L176.1 1001.5L178.1 1000.4L180.0 1000.5L182.0 998.8L184.0 998.9L186.0 997.4L188.0 997.5L190.0 993.2L191.9 999.4L193.9 1000.3L195.9 1001.1L197.9 1001.4L199.9 1000.8L201.9 1001.7L203.8 1001.7L205.8 1001.0L207.5 1002.3Z"/>
<path d="M17.2 1011.6L17.5 1010.6L19.5 1010.7L21.5 1010.2L23.4 1010.6L25.4 1010.7L27.4 1010.4L29.4 1010.8L31.4 1010.0L33.4 1010.1L35.3 1010.7L37.3 1010.1L39.3 1009.8L41.3 1010.3L43.3 1010.2L45.2 1009.9L47.2 1007.9L49.2 1010.2L51.2 1009.4L53.2 1010.7L55.2 1010.2L57.1 1010.5L59.1 1010.6L61.1 1010.9L63.1 1010.4L65.1 1010.4L67.1 1010.5L69.0 1010.4L71.0 1010.8L73.0 1010.8L75.0 1010.7L77.0 1009.7L78.9 1010.6L80.9 1010.8L82.9 1009.7L84.9 1009.8L86.9 1008.1L88.9 1008.2L90.8 1006.7L92.8 1006.8L94.8 1002.5L96.8 1008.7L98.8 1009.6L100.8 1010.4L102.7 1010.7L104.7 1010.1L106.7 1011.0L108.7 1011.0L110.7 1010.3L112.6 1011.0L114.6 1011.0L116.6 1010.5L118.6 1011.0L120.6 1010.7L122.6 1010.6L124.5 1010.9L126.5 1009.8L128.5 1010.6L130.5 1010.5L132.5 1010.4L134.5 1010.2L136.4 1010.6L138.4 1010.4L140.4 1010.3L142.4 1008.9L144.4 1010.4L146.3 1010.3L148.3 1010.9L150.3 1010.1L152.3 1010.9L154.3 1011.1L156.3 1011.1L158.2 1010.6L160.2 1010.6L162.2 1011.0L164.2 1011.6L166.2 1011.6L168.2 1011.6L170.1 1011.6L172.1 1011.6L174.1 1011.6L176.1 1011.6L178.1 1011.6L180.0 1010.9L182.0 1009.8L184.0 1009.7L186.0 1009.5L188.0 1009.2L190.0 1009.5L191.9 1009.9L193.9 1008.8L195.9 1009.7L197.9 1009.4L199.9 1009.1L201.9 1008.8L203.8 1008.5L205.8 1009.1L207.5 1011.6Z"/>
<path d="M17.2 1020.9L17.5 1020.3L19.5 1020.3L21.5 1019.8L23.4 1020.3L25.4 1020.0L27.4 1019.9L29.4 1020.2L31.4 1019.1L33.4 1019.9L35.3 1019.8L37.3 1019.7L39.3 1019.5L41.3 1019.9L43.3 1019.7L45.2 1019.6L47.2 1018.2L49.2 1019.7L51.2 1019.6L53.2 1020.2L55.2 1019.4L57.1 1020.2L59.1 1020.4L61.1 1020.4L63.1 1019.9L65.1 1019.9L67.1 1020.3L69.0 1020.9L71.0 1020.9L73.0 1020.9L75.0 1020.9L77.0 1020.9L78.9 1020.9L80.9 1020.9L82.9 1020.9L84.9 1020.1L86.9 1019.1L88.9 1019.0L90.8 1018.8L92.8 1018.5L94.8 1018.8L96.8 1019.2L98.8 1018.1L100.8 1019.0L102.7 1018.7L104.7 1018.4L106.7 1018.1L108.7 1017.8L110.7 1018.4L112.6 1018.8L114.6 1015.9L116.6 1018.9L118.6 1020.0L120.6 1019.6L122.6 1020.0L124.5 1020.9L126.5 1020.5L128.5 1020.9L130.5 1020.9L132.5 1020.9L134.5 1020.9L136.4 1020.9L138.4 1020.9L140.4 1020.2L142.4 1020.5L144.4 1020.1L146.3 1020.1L148.3 1020.0L150.3 1020.1L152.3 1019.9L154.3 1020.1L156.3 1020.2L158.2 1020.0L160.2 1020.3L162.2 1019.5L164.2 1020.5L166.2 1020.5L168.2 1020.9L170.1 1020.9L172.1 1020.9L174.1 1020.9L176.1 1020.9L178.1 1020.9L180.0 1020.9L182.0 1020.5L184.0 1020.9L186.0 1020.9L188.0 1020.9L190.0 1020.5L191.9 1020.4L193.9 1020.3L195.9 1020.0L197.9 1019.4L199.9 1019.7L201.9 1019.2L203.8 1019.0L205.8 1017.7L207.5 1020.9Z"/>
<path d="M17.2 1030.2L17.5 1028.1L19.5 1025.2L21.5 1028.2L23.4 1029.3L25.4 1028.9L27.4 1029.3L29.4 1030.2L31.4 1029.8L33.4 1030.2L35.3 1030.2L37.3 1030.2L39.3 1030.2L41.3 1030.2L43.3 1030.2L45.2 1029.5L47.2 1029.8L49.2 1029.4L51.2 1029.4L53.2 1029.3L55.2 1029.4L57.1 1029.2L59.1 1029.4L61.1 1029.5L63.1 1029.3L65.1 1029.6L67.1 1028.8L69.0 1029.8L71.0 1029.8L73.0 1030.2L75.0 1030.2L77.0 1030.2L78.9 1030.2L80.9 1030.2L82.9 1030.2L84.9 1030.2L86.9 1029.8L88.9 1030.2L90.8 1030.2L92.8 1030.2L94.8 1029.8L96.8 1029.7L98.8 1029.6L100.8 1029.3L102.7 1028.7L104.7 1029.0L106.7 1028.5L108.7 1028.3L110.7 1027.0L112.6 1027.5L114.6 1023.6L116.6 1026.5L118.6 1028.5L120.6 1029.2L122.6 1029.3L124.5 1030.2L126.5 1030.2L128.5 1030.2L130.5 1030.2L132.5 1030.2L134.5 1030.2L136.4 1030.2L138.4 1029.8L140.4 1029.6L142.4 1029.7L144.4 1029.6L146.3 1029.4L148.3 1029.2L150.3 1029.1L152.3 1029.3L154.3 1029.6L156.3 1029.6L158.2 1029.3L160.2 1029.7L162.2 1028.4L164.2 1030.2L166.2 1029.8L168.2 1030.2L170.1 1030.2L172.1 1030.2L174.1 1030.2L176.1 1030.2L178.1 1030.2L180.0 1029.8L182.0 1029.7L184.0 1030.2L186.0 1030.2L188.0 1030.2L190.0 1029.7L191.9 1029.6L193.9 1029.8L195.9 1029.4L197.9 1028.9L199.9 1029.1L201.9 1028.7L203.8 1028.3L205.8 1027.6L207.5 1030.2Z"/>
<path d="M17.2 1039.5L17.5 1036.8L19.5 1032.9L21.5 1035.8L23.4 1037.8L25.4 1038.5L27.4 1038.6L29.4 1039.5L31.4 1039.5L33.4 1039.5L35.3 1039.5L37.3 1039.5L39.3 1039.5L41.3 1039.5L43.3 1039.1L45.2 1038.9L47.2 1039.0L49.2 1038.9L51.2 1038.7L53.2 1038.5L55.2 1038.4L57.1 1038.6L59.1 1038.9L61.1 1038.9L63.1 1038.6L65.1 1039.0L67.1 1037.7L69.0 1039.5L71.0 1039.1L73.0 1039.5L75.0 1039.5L77.0 1039.5L78.9 1039.5L80.9 1039.5L82.9 1039.5L84.9 1039.1L86.9 1039.0L88.9 1039.5L90.8 1039.5L92.8 1039.5L94.8 1039.0L96.8 1038.9L98.8 1039.1L100.8 1038.7L102.7 1038.2L104.7 1038.4L106.7 1038.0L108.7 1037.6L110.7 1036.9L112.6 1036.0L114.6 1033.1L116.6 1036.4L118.6 1037.5L120.6 1038.1L122.6 1038.8L124.5 1039.5L126.5 1039.5L128.5 1039.5L130.5 1039.5L132.5 1039.5L134.5 1039.5L136.4 1039.5L138.4 1039.1L140.4 1038.8L142.4 1039.0L144.4 1038.7L146.3 1038.6L148.3 1038.7L150.3 1038.5L152.3 1038.7L154.3 1038.9L156.3 1038.9L158.2 1038.9L160.2 1039.1L162.2 1037.8L164.2 1039.1L166.2 1039.2L168.2 1039.5L170.1 1039.5L172.1 1039.5L174.1 1039.5L176.1 1039.5L178.1 1039.5L180.0 1039.1L182.0 1039.0L184.0 1039.5L186.0 1039.5L188.0 1039.5L190.0 1039.0L191.9 1039.0L193.9 1039.0L195.9 1038.3L197.9 1038.1L199.9 1038.3L201.9 1037.9L203.8 1037.4L205.8 1036.8L207.5 1039.5Z"/>
<path d="M17.2 1048.8L17.5 1045.3L19.5 1042.4L21.5 1045.7L23.4 1046.8L25.4 1047.4L27.4 1048.1L29.4 1048.8L31.4 1048.8L33.4 1048.8L35.3 1048.8L37.3 1048.8L39.3 1048.8L41.3 1048.8L43.3 1048.4L45.2 1048.1L47.2 1048.3L49.2 1048.0L51.2 1047.9L53.2 1048.0L55.2 1047.8L57.1 1048.0L59.1 1048.2L61.1 1048.2L63.1 1048.2L65.1 1048.4L67.1 1047.1L69.0 1048.4L71.0 1048.5L73.0 1048.8L75.0 1048.8L77.0 1048.8L78.9 1048.8L80.9 1048.8L82.9 1048.8L84.9 1048.4L86.9 1048.3L88.9 1048.8L90.8 1048.8L92.8 1048.8L94.8 1048.3L96.8 1048.3L98.8 1048.3L100.8 1047.6L102.7 1047.4L104.7 1047.6L106.7 1047.2L108.7 1046.7L110.7 1046.1L112.6 1045.3L114.6 1042.0L116.6 1045.0L118.6 1046.8L120.6 1047.7L122.6 1048.1L124.5 1048.8L126.5 1048.8L128.5 1048.8L130.5 1048.8L132.5 1048.8L134.5 1048.8L136.4 1048.8L138.4 1048.5L140.4 1048.3L142.4 1048.4L144.4 1048.2L146.3 1048.0L148.3 1048.2L150.3 1047.9L152.3 1048.1L154.3 1048.2L156.3 1048.1L158.2 1047.9L160.2 1048.4L162.2 1047.0L164.2 1048.4L166.2 1048.4L168.2 1048.8L170.1 1048.8L172.1 1048.8L174.1 1048.8L176.1 1048.8L178.1 1048.8L180.0 1048.5L182.0 1048.3L184.0 1048.8L186.0 1048.8L188.0 1048.8L190.0 1048.4L191.9 1048.2L193.9 1048.2L195.9 1047.9L197.9 1047.8L199.9 1047.7L201.9 1047.4L203.8 1046.3L205.8 1045.8L207.5 1048.8Z"/>
<path d="M17.2 1058.1L17.5 1054.6L19.5 1051.3L21.5 1054.3L23.4 1056.1L25.4 1057.0L27.4 1057.4L29.4 1058.1L31.4 1058.1L33.4 1058.1L35.3 1058.1L37.3 1058.1L39.3 1058.1L41.3 1058.1L43.3 1057.8L45.2 1057.6L47.2 1057.7L49.2 1057.5L51.2 1057.3L53.2 1057.5L55.2 1057.2L57.1 1057.4L59.1 1057.5L61.1 1057.4L63.1 1057.2L65.1 1057.7L67.1 1056.3L69.0 1057.7L71.0 1057.7L73.0 1058.1L75.0 1058.1L77.0 1058.1L78.9 1058.1L80.9 1058.1L82.9 1058.1L84.9 1057.8L86.9 1057.6L88.9 1058.1L90.8 1058.1L92.8 1058.1L94.8 1057.7L96.8 1057.5L98.8 1057.5L100.8 1057.2L102.7 1057.1L104.7 1057.0L106.7 1056.7L108.7 1055.6L110.7 1055.1L112.6 1054.9L114.6 1051.9L116.6 1055.6L118.6 1055.8L120.6 1057.0L122.6 1057.1L124.5 1058.1L126.5 1057.7L128.5 1058.1L130.5 1058.1L132.5 1058.1L134.5 1058.1L136.4 1058.1L138.4 1057.7L140.4 1057.4L142.4 1057.7L144.4 1057.5L146.3 1057.2L148.3 1057.4L150.3 1057.0L152.3 1057.2L154.3 1057.5L156.3 1057.5L158.2 1057.4L160.2 1057.7L162.2 1056.7L164.2 1057.7L166.2 1057.8L168.2 1058.1L170.1 1058.1L172.1 1058.1L174.1 1058.1L176.1 1058.1L178.1 1058.1L180.0 1057.6L182.0 1057.7L184.0 1058.1L186.0 1058.1L188.0 1058.1L190.0 1057.7L191.9 1057.7L193.9 1057.7L195.9 1057.0L197.9 1057.1L199.9 1056.9L201.9 1056.7L203.8 1056.1L205.8 1054.7L207.5 1058.1Z"/>
<path d="M17.2 1067.4L17.5 1064.2L19.5 1061.2L21.5 1064.9L23.4 1065.1L25.4 1066.3L27.4 1066.4L29.4 1067.4L31.4 1067.0L33.4 1067.4L35.3 1067.4L37.3 1067.4L39.3 1067.4L41.3 1067.4L43.3 1067.0L45.2 1066.7L47.2 1067.0L49.2 1066.8L51.2 1066.5L53.2 1066.7L55.2 1066.3L57.1 1066.5L59.1 1066.8L61.1 1066.8L63.1 1066.7L65.1 1067.0L67.1 1066.0L69.0 1067.0L71.0 1067.1L73.0 1067.4L75.0 1067.4L77.0 1067.4L78.9 1067.4L80.9 1067.4L82.9 1067.4L84.9 1066.9L86.9 1067.0L88.9 1067.4L90.8 1067.4L92.8 1067.4L94.8 1067.0L96.8 1067.0L98.8 1067.0L100.8 1066.3L102.7 1066.4L104.7 1066.2L106.7 1066.0L108.7 1065.4L110.7 1064.0L112.6 1064.6L114.6 1061.3L116.6 1064.1L118.6 1065.3L120.6 1066.2L122.6 1066.7L124.5 1066.9L126.5 1066.9L128.5 1067.0L130.5 1066.9L132.5 1066.9L134.5 1067.0L136.4 1067.0L138.4 1066.9L140.4 1066.8L142.4 1066.8L144.4 1067.0L146.3 1067.0L148.3 1066.9L150.3 1066.9L152.3 1066.8L154.3 1066.9L156.3 1066.9L158.2 1066.9L160.2 1066.9L162.2 1066.9L164.2 1066.9L166.2 1067.0L168.2 1067.0L170.1 1066.9L172.1 1066.8L174.1 1066.8L176.1 1066.8L178.1 1066.8L180.0 1066.8L182.0 1066.8L184.0 1066.8L186.0 1066.3L188.0 1065.2L190.0 1065.2L191.9 1065.4L193.9 1065.3L195.9 1065.6L197.9 1065.8L199.9 1065.8L201.9 1065.7L203.8 1065.6L205.8 1065.5L207.5 1067.4Z"/>
<path d="M17.2 1076.7L17.5 1073.9L19.5 1070.6L21.5 1073.4L23.4 1074.6L25.4 1075.5L27.4 1076.0L29.4 1076.2L31.4 1076.2L33.4 1076.3L35.3 1076.2L37.3 1076.2L39.3 1076.3L41.3 1076.3L43.3 1076.2L45.2 1076.1L47.2 1076.1L49.2 1076.3L51.2 1076.3L53.2 1076.2L55.2 1076.2L57.1 1076.1L59.1 1076.2L61.1 1076.2L63.1 1076.2L65.1 1076.2L67.1 1076.2L69.0 1076.2L71.0 1076.3L73.0 1076.3L75.0 1076.2L77.0 1076.1L78.9 1076.1L80.9 1076.1L82.9 1076.1L84.9 1076.1L86.9 1076.1L88.9 1076.1L90.8 1075.6L92.8 1074.5L94.8 1074.5L96.8 1074.7L98.8 1074.6L100.8 1074.9L102.7 1075.1L104.7 1075.1L106.7 1075.0L108.7 1074.9L110.7 1074.8L112.6 1075.3L114.6 1075.3L116.6 1075.5L118.6 1075.5L120.6 1075.4L122.6 1075.7L124.5 1075.8L126.5 1075.9L128.5 1075.9L130.5 1076.1L132.5 1076.3L134.5 1076.3L136.4 1076.2L138.4 1076.3L140.4 1076.3L142.4 1076.2L144.4 1076.2L146.3 1076.2L148.3 1076.3L150.3 1076.3L152.3 1076.3L154.3 1076.3L156.3 1076.3L158.2 1076.3L160.2 1076.2L162.2 1076.3L164.2 1076.3L166.2 1076.2L168.2 1076.3L170.1 1076.2L172.1 1075.7L174.1 1075.0L176.1 1074.9L178.1 1075.0L180.0 1075.3L182.0 1075.0L184.0 1075.1L186.0 1075.2L188.0 1075.5L190.0 1075.7L191.9 1075.5L193.9 1075.1L195.9 1075.2L197.9 1075.3L199.9 1075.2L201.9 1075.1L203.8 1075.4L205.8 1075.3L207.5 1076.7Z"/>
<path d="M17.2 1086L17.5 1084.6L19.5 1084.6L21.5 1084.8L23.4 1084.8L25.4 1084.7L27.4 1085.0L29.4 1085.1L31.4 1085.2L33.4 1085.2L35.3 1085.4L37.3 1085.6L39.3 1085.6L41.3 1085.5L43.3 1085.6L45.2 1085.6L47.2 1085.5L49.2 1085.5L51.2 1085.5L53.2 1085.6L55.2 1085.6L57.1 1085.6L59.1 1085.6L61.1 1085.6L63.1 1085.6L65.1 1085.5L67.1 1085.6L69.0 1085.6L71.0 1085.5L73.0 1085.6L75.0 1085.5L77.0 1085.0L78.9 1084.3L80.9 1084.2L82.9 1084.3L84.9 1084.6L86.9 1084.3L88.9 1084.4L90.8 1084.5L92.8 1084.8L94.8 1085.0L96.8 1084.8L98.8 1084.4L100.8 1084.5L102.7 1084.6L104.7 1084.5L106.7 1084.4L108.7 1084.7L110.7 1084.6L112.6 1085.4L114.6 1085.3L116.6 1085.3L118.6 1085.6L120.6 1085.7L122.6 1086.0L124.5 1085.7L126.5 1085.6L128.5 1085.6L130.5 1085.6L132.5 1085.6L134.5 1085.6L136.4 1085.6L138.4 1085.7L140.4 1085.6L142.4 1085.6L144.4 1085.6L146.3 1086.0L148.3 1085.7L150.3 1085.6L152.3 1086.0L154.3 1086.0L156.3 1085.6L158.2 1086.0L160.2 1086.0L162.2 1085.7L164.2 1085.6L166.2 1085.6L168.2 1085.6L170.1 1085.6L172.1 1086.0L174.1 1086.0L176.1 1085.6L178.1 1085.7L180.0 1086.0L182.0 1086.0L184.0 1086.0L186.0 1086.0L188.0 1086.0L190.0 1085.4L191.9 1084.8L193.9 1084.6L195.9 1084.4L197.9 1084.5L199.9 1084.4L201.9 1084.3L203.8 1084.6L205.8 1085.2L207.5 1086Z"/>
<path d="M17.2 1095.3L17.5 1094.7L19.5 1094.6L21.5 1094.6L23.4 1094.9L25.4 1095.0L27.4 1095.3L29.4 1095.0L31.4 1094.9L33.4 1094.9L35.3 1094.9L37.3 1094.9L39.3 1094.9L41.3 1094.9L43.3 1095.0L45.2 1094.9L47.2 1094.9L49.2 1094.9L51.2 1095.3L53.2 1095.0L55.2 1094.9L57.1 1095.3L59.1 1095.3L61.1 1094.9L63.1 1095.3L65.1 1095.3L67.1 1095.0L69.0 1094.9L71.0 1094.9L73.0 1094.9L75.0 1094.9L77.0 1095.3L78.9 1095.3L80.9 1094.9L82.9 1095.0L84.9 1095.3L86.9 1095.3L88.9 1095.3L90.8 1095.3L92.8 1095.3L94.8 1094.7L96.8 1094.1L98.8 1093.9L100.8 1093.7L102.7 1093.8L104.7 1093.7L106.7 1093.6L108.7 1093.9L110.7 1094.5L112.6 1095.0L114.6 1094.9L116.6 1094.8L118.6 1094.8L120.6 1094.8L122.6 1094.9L124.5 1094.8L126.5 1094.9L128.5 1094.9L130.5 1094.9L132.5 1094.8L134.5 1094.7L136.4 1094.8L138.4 1094.9L140.4 1095.3L142.4 1095.3L144.4 1095.3L146.3 1094.9L148.3 1094.9L150.3 1094.9L152.3 1095.0L154.3 1095.0L156.3 1094.9L158.2 1094.9L160.2 1094.9L162.2 1094.9L164.2 1094.9L166.2 1094.7L168.2 1094.3L170.1 1094.2L172.1 1094.2L174.1 1094.2L176.1 1094.2L178.1 1094.1L180.0 1094.2L182.0 1094.2L184.0 1094.2L186.0 1094.7L188.0 1095.3L190.0 1095.3L191.9 1095.3L193.9 1095.0L195.9 1095.3L197.9 1094.7L199.9 1094.0L201.9 1093.9L203.8 1093.8L205.8 1093.6L207.5 1095.3Z"/>
<path d="M17.2 1104.6L17.5 1104.3L19.5 1104.2L21.5 1104.1L23.4 1104.1L25.4 1104.1L27.4 1104.2L29.4 1104.1L31.4 1104.2L33.4 1104.2L35.3 1104.2L37.3 1104.1L39.3 1104.0L41.3 1104.1L43.3 1104.2L45.2 1104.6L47.2 1104.6L49.2 1104.6L51.2 1104.2L53.2 1104.2L55.2 1104.2L57.1 1104.3L59.1 1104.3L61.1 1104.2L63.1 1104.2L65.1 1104.2L67.1 1104.2L69.0 1104.2L71.0 1104.0L73.0 1103.6L75.0 1103.5L77.0 1103.5L78.9 1103.5L80.9 1103.5L82.9 1103.4L84.9 1103.5L86.9 1103.5L88.9 1103.5L90.8 1104.0L92.8 1104.6L94.8 1104.6L96.8 1104.6L98.8 1104.3L100.8 1104.6L102.7 1104.0L104.7 1103.3L106.7 1103.2L108.7 1103.1L110.7 1102.9L112.6 1104.6L114.6 1104.3L116.6 1104.2L118.6 1104.3L120.6 1104.6L122.6 1104.6L124.5 1104.3L126.5 1104.2L128.5 1104.2L130.5 1104.6L132.5 1104.6L134.5 1104.3L136.4 1104.2L138.4 1104.2L140.4 1104.2L142.4 1104.2L144.4 1104.2L146.3 1104.2L148.3 1104.2L150.3 1104.6L152.3 1104.6L154.3 1104.2L156.3 1104.1L158.2 1104.2L160.2 1104.1L162.2 1104.2L164.2 1104.2L166.2 1104.2L168.2 1104.2L170.1 1103.8L172.1 1103.1L174.1 1102.9L176.1 1103.0L178.1 1103.2L180.0 1103.2L182.0 1103.0L184.0 1103.1L186.0 1103.1L188.0 1103.3L190.0 1103.4L191.9 1103.1L193.9 1102.9L195.9 1103.2L197.9 1103.3L199.9 1103.1L201.9 1102.8L203.8 1102.9L205.8 1103.2L207.5 1104.6Z"/>
<path d="M17.2 1113.9L17.5 1113.9L19.5 1113.6L21.5 1113.5L23.4 1113.6L25.4 1113.9L27.4 1113.9L29.4 1113.6L31.4 1113.5L33.4 1113.5L35.3 1113.9L37.3 1113.9L39.3 1113.6L41.3 1113.5L43.3 1113.5L45.2 1113.5L47.2 1113.5L49.2 1113.5L51.2 1113.5L53.2 1113.5L55.2 1113.9L57.1 1113.9L59.1 1113.5L61.1 1113.4L63.1 1113.5L65.1 1113.4L67.1 1113.5L69.0 1113.5L71.0 1113.5L73.0 1113.5L75.0 1113.1L77.0 1112.4L78.9 1112.2L80.9 1112.3L82.9 1112.5L84.9 1112.5L86.9 1112.3L88.9 1112.4L90.8 1112.4L92.8 1112.6L94.8 1112.7L96.8 1112.4L98.8 1112.2L100.8 1112.5L102.7 1112.6L104.7 1112.4L106.7 1112.1L108.7 1112.2L110.7 1112.5L112.6 1113.4L114.6 1113.9L116.6 1113.9L118.6 1113.9L120.6 1113.5L122.6 1113.5L124.5 1113.5L126.5 1113.5L128.5 1113.5L130.5 1113.5L132.5 1113.5L134.5 1113.6L136.4 1113.9L138.4 1113.9L140.4 1113.5L142.4 1113.4L144.4 1113.5L146.3 1113.5L148.3 1113.5L150.3 1113.5L152.3 1113.4L154.3 1113.4L156.3 1113.4L158.2 1113.2L160.2 1112.6L162.2 1112.7L164.2 1113.4L166.2 1113.9L168.2 1113.5L170.1 1113.4L172.1 1113.4L174.1 1113.4L176.1 1113.4L178.1 1113.6L180.0 1113.9L182.0 1113.4L184.0 1112.9L186.0 1112.6L188.0 1112.6L190.0 1112.8L191.9 1112.8L193.9 1112.6L195.9 1112.5L197.9 1112.6L199.9 1112.9L201.9 1113.2L203.8 1113.4L205.8 1113.5L207.5 1113.9Z"/>
<path d="M17.2 1123.2L17.5 1122.7L19.5 1123.2L21.5 1123.2L23.4 1123.2L25.4 1122.8L27.4 1122.8L29.4 1122.8L31.4 1122.8L33.4 1122.8L35.3 1122.8L37.3 1122.8L39.3 1122.9L41.3 1123.2L43.3 1123.2L45.2 1122.8L47.2 1122.7L49.2 1122.8L51.2 1122.8L53.2 1122.8L55.2 1122.8L57.1 1122.7L59.1 1122.7L61.1 1122.7L63.1 1122.5L65.1 1121.9L67.1 1122.0L69.0 1122.7L71.0 1123.2L73.0 1122.8L75.0 1122.7L77.0 1122.7L78.9 1122.7L80.9 1122.7L82.9 1122.9L84.9 1123.2L86.9 1122.7L88.9 1122.2L90.8 1121.9L92.8 1121.9L94.8 1122.1L96.8 1122.1L98.8 1121.9L100.8 1121.8L102.7 1121.9L104.7 1122.2L106.7 1122.5L108.7 1122.7L110.7 1122.8L112.6 1122.8L114.6 1122.9L116.6 1123.2L118.6 1123.2L120.6 1123.2L122.6 1123.2L124.5 1122.9L126.5 1122.8L128.5 1122.8L130.5 1122.8L132.5 1122.8L134.5 1122.8L136.4 1122.8L138.4 1122.8L140.4 1123.2L142.4 1123.2L144.4 1123.2L146.3 1122.8L148.3 1122.8L150.3 1123.2L152.3 1123.2L154.3 1123.2L156.3 1123.2L158.2 1122.8L160.2 1122.8L162.2 1123.2L164.2 1123.2L166.2 1122.9L168.2 1122.9L170.1 1123.2L172.1 1123.2L174.1 1123.2L176.1 1122.9L178.1 1122.8L180.0 1123.2L182.0 1123.2L184.0 1123.2L186.0 1122.9L188.0 1122.9L190.0 1123.2L191.9 1123.2L193.9 1123.2L195.9 1123.2L197.9 1123.2L199.9 1123.2L201.9 1122.9L203.8 1122.8L205.8 1122.8L207.5 1123.2Z"/>
</g>
<text x="11.9" y="996.25" text-anchor="middle" class="tk al">1</text>
<text x="11.9" y="1005.5" text-anchor="middle" class="tk al">2</text>
<text x="11.9" y="1014.75" text-anchor="middle" class="tk al">3</text>
<text x="11.9" y="1024" text-anchor="middle" class="tk al">4</text>
<text x="11.9" y="1033.25" text-anchor="middle" class="tk al">5</text>
<text x="11.9" y="1042.5" text-anchor="middle" class="tk al">6</text>
<text x="11.9" y="1051.75" text-anchor="middle" class="tk al">7</text>
<text x="11.9" y="1061" text-anchor="middle" class="tk al">8</text>
<text x="11.9" y="1070.25" text-anchor="middle" class="tk al">9</text>
<text x="11.9" y="1079.5" text-anchor="middle" class="tk al">10</text>
<text x="11.9" y="1088.75" text-anchor="middle" class="tk al">11</text>
<text x="11.9" y="1098" text-anchor="middle" class="tk al">12</text>
<text x="11.9" y="1107.25" text-anchor="middle" class="tk al">13</text>
<text x="11.9" y="1116.5" text-anchor="middle" class="tk al">14</text>
<path d="M17.2 1123.2H207.5" stroke="#1a1a1a" stroke-width="1.0"/>
<text x="11.9" y="1125.75" text-anchor="middle" class="tk al">15</text>
<path d="M17.2 985.2V1123.2" stroke="#333" stroke-width="0.5"/>
<text transform="translate(4.6 1054.2) rotate(-90)" text-anchor="middle" class="yl" style="font-size:5.8px">day</text>
<g fill="#808080" stroke="#151515" stroke-width="0.5"><rect x="255.6" y="1101.95" width="3.97" height="14.5"/><rect x="259.57" y="1101.18" width="3.97" height="15.27"/><rect x="263.55" y="1096.4" width="3.97" height="20.05"/><rect x="267.52" y="1101.95" width="3.97" height="14.5"/><rect x="271.5" y="1086.38" width="3.97" height="30.07"/><rect x="275.48" y="1095.17" width="3.97" height="21.28"/><rect x="279.45" y="1097.48" width="3.97" height="18.97"/><rect x="283.43" y="1088.38" width="3.97" height="28.07"/><rect x="287.4" y="1092.24" width="3.97" height="24.21"/><rect x="291.38" y="1093.93" width="3.97" height="22.52"/><rect x="295.35" y="1095.17" width="3.97" height="21.28"/><rect x="299.32" y="1089.92" width="3.97" height="26.53"/><rect x="398.7" y="992.46" width="3.97" height="123.99"/><rect x="402.67" y="1068.33" width="3.97" height="48.12"/><rect x="406.65" y="1089.15" width="3.97" height="27.3"/><rect x="410.62" y="1090.69" width="3.97" height="25.76"/><rect x="414.6" y="1099.18" width="3.97" height="17.27"/><rect x="418.57" y="1096.25" width="3.97" height="20.2"/><rect x="422.55" y="1105.96" width="3.97" height="10.49"/><rect x="426.52" y="1106.43" width="3.97" height="10.02"/><rect x="430.5" y="1097.94" width="3.97" height="18.51"/><rect x="434.47" y="1103.19" width="3.97" height="13.26"/><rect x="438.45" y="1099.49" width="3.97" height="16.96"/><rect x="442.42" y="1097.94" width="3.97" height="18.51"/></g>
<g fill="#fff" stroke="#151515" stroke-width="0.5"><rect x="303.3" y="1047.36" width="3.97" height="69.09"/><rect x="307.27" y="1097.17" width="3.97" height="19.28"/><rect x="311.25" y="1085.14" width="3.97" height="31.31"/><rect x="315.22" y="1100.26" width="3.97" height="16.19"/><rect x="319.2" y="1091.16" width="3.97" height="25.29"/><rect x="323.17" y="1101.49" width="3.97" height="14.96"/><rect x="327.15" y="1102.42" width="3.97" height="14.03"/><rect x="331.12" y="1104.27" width="3.97" height="12.18"/><rect x="335.1" y="1094.4" width="3.97" height="22.05"/><rect x="339.07" y="1095.17" width="3.97" height="21.28"/><rect x="343.05" y="1101.18" width="3.97" height="15.27"/><rect x="347.02" y="1093.16" width="3.97" height="23.29"/><rect x="351" y="1100.41" width="3.97" height="16.04"/><rect x="354.97" y="1100.26" width="3.97" height="16.19"/><rect x="358.95" y="1100.26" width="3.97" height="16.19"/><rect x="362.92" y="1090.39" width="3.97" height="26.06"/><rect x="366.9" y="1096.4" width="3.97" height="20.05"/><rect x="370.88" y="1100.72" width="3.97" height="15.73"/><rect x="374.85" y="1088.23" width="3.97" height="28.22"/><rect x="378.82" y="1091.93" width="3.97" height="24.52"/><rect x="382.8" y="1071.11" width="3.97" height="45.34"/><rect x="386.77" y="1070.34" width="3.97" height="46.11"/><rect x="390.75" y="1051.06" width="3.97" height="65.39"/><rect x="394.73" y="1049.05" width="3.97" height="67.4"/></g>
<g fill="#c4002b"><circle cx="257.59" cy="1098.89" r="0.58"/><circle cx="261.56" cy="1095.59" r="0.58"/><circle cx="265.54" cy="1091.86" r="0.58"/><circle cx="269.51" cy="1097.7" r="0.58"/><circle cx="273.49" cy="1078.88" r="0.58"/><circle cx="277.46" cy="1090.27" r="0.58"/><circle cx="281.44" cy="1093.57" r="0.58"/><circle cx="285.41" cy="1082.87" r="0.58"/><circle cx="289.39" cy="1086.65" r="0.58"/><circle cx="293.36" cy="1091.21" r="0.58"/><circle cx="297.34" cy="1090.36" r="0.58"/><circle cx="301.31" cy="1083.77" r="0.58"/><circle cx="305.29" cy="1038.96" r="0.58"/><circle cx="309.26" cy="1094.79" r="0.58"/><circle cx="313.24" cy="1078.59" r="0.58"/><circle cx="317.21" cy="1094.13" r="0.58"/><circle cx="321.19" cy="1084.92" r="0.58"/><circle cx="325.16" cy="1098.1" r="0.58"/><circle cx="329.14" cy="1096.26" r="0.58"/><circle cx="333.11" cy="1099.16" r="0.58"/><circle cx="337.09" cy="1088.82" r="0.58"/><circle cx="341.06" cy="1090.23" r="0.58"/><circle cx="345.04" cy="1095.91" r="0.58"/><circle cx="349.01" cy="1086.38" r="0.58"/><circle cx="352.99" cy="1095.19" r="0.58"/><circle cx="356.96" cy="1097.96" r="0.58"/><circle cx="360.94" cy="1096.96" r="0.58"/><circle cx="364.91" cy="1083.59" r="0.58"/><circle cx="368.89" cy="1089.98" r="0.58"/><circle cx="372.86" cy="1094.98" r="0.58"/><circle cx="376.84" cy="1084.39" r="0.58"/><circle cx="380.81" cy="1084.45" r="0.58"/><circle cx="384.79" cy="1067.86" r="0.58"/><circle cx="388.76" cy="1063.12" r="0.58"/><circle cx="392.74" cy="1040.96" r="0.58"/><circle cx="396.71" cy="1045.2" r="0.58"/><circle cx="400.69" cy="984.11" r="0.58"/><circle cx="404.66" cy="1063.87" r="0.58"/><circle cx="408.64" cy="1084.76" r="0.58"/><circle cx="412.61" cy="1083.22" r="0.58"/><circle cx="416.59" cy="1094.69" r="0.58"/><circle cx="420.56" cy="1093.84" r="0.58"/><circle cx="424.54" cy="1103.15" r="0.58"/><circle cx="428.51" cy="1103.87" r="0.58"/><circle cx="432.49" cy="1092.49" r="0.58"/><circle cx="436.46" cy="1100.69" r="0.58"/><circle cx="440.44" cy="1096.98" r="0.58"/><circle cx="444.41" cy="1094.44" r="0.58"/></g>
<path d="M255.6 977.65V1116.45H446.4" fill="none" stroke="#2a2a2a" stroke-width="0.6"/>
<path d="M255.6 1116.45h1.8" stroke="#333" stroke-width="0.45"/>
<text x="253.5" y="1119.05" text-anchor="end" class="tk">0</text>
<path d="M255.6 1101.03h1.8" stroke="#333" stroke-width="0.45"/>
<text x="253.5" y="1103.63" text-anchor="end" class="tk">10</text>
<path d="M255.6 1085.61h1.8" stroke="#333" stroke-width="0.45"/>
<text x="253.5" y="1088.21" text-anchor="end" class="tk">20</text>
<path d="M255.6 1070.18h1.8" stroke="#333" stroke-width="0.45"/>
<text x="253.5" y="1072.78" text-anchor="end" class="tk">30</text>
<path d="M255.6 1054.76h1.8" stroke="#333" stroke-width="0.45"/>
<text x="253.5" y="1057.36" text-anchor="end" class="tk">40</text>
<path d="M255.6 1039.34h1.8" stroke="#333" stroke-width="0.45"/>
<text x="253.5" y="1041.94" text-anchor="end" class="tk">50</text>
<path d="M255.6 1023.92h1.8" stroke="#333" stroke-width="0.45"/>
<text x="253.5" y="1026.52" text-anchor="end" class="tk">60</text>
<path d="M255.6 1008.49h1.8" stroke="#333" stroke-width="0.45"/>
<text x="253.5" y="1011.09" text-anchor="end" class="tk">70</text>
<path d="M255.6 993.07h1.8" stroke="#333" stroke-width="0.45"/>
<text x="253.5" y="995.67" text-anchor="end" class="tk">80</text>
<path d="M255.6 977.65h1.8" stroke="#333" stroke-width="0.45"/>
<text x="253.5" y="980.25" text-anchor="end" class="tk">90</text>
<path d="M303.3 1116.45v-1.8" stroke="#333" stroke-width="0.45"/>
<text x="303.3" y="1124.65" text-anchor="middle" class="tk">ZT0</text>
<path d="M398.7 1116.45v-1.8" stroke="#333" stroke-width="0.45"/>
<text x="398.7" y="1124.65" text-anchor="middle" class="tk">ZT12</text>
<text transform="translate(242.9 1047.05) rotate(-90)" text-anchor="middle" class="yl">mean activity</text>
<g fill="#808080" stroke="#151515" stroke-width="0.5"><rect x="493.8" y="1110.07" width="3.97" height="6.38"/><rect x="497.77" y="1105.07" width="3.97" height="11.38"/><rect x="501.75" y="1108.95" width="3.97" height="7.5"/><rect x="505.72" y="1102.29" width="3.97" height="14.16"/><rect x="509.69" y="1102.29" width="3.97" height="14.16"/><rect x="513.66" y="1101.18" width="3.97" height="15.27"/><rect x="517.64" y="1097.02" width="3.97" height="19.43"/><rect x="521.61" y="1100.63" width="3.97" height="15.82"/><rect x="525.58" y="1103.13" width="3.97" height="13.32"/><rect x="529.56" y="1105.07" width="3.97" height="11.38"/><rect x="533.53" y="1102.29" width="3.97" height="14.16"/><rect x="537.5" y="1107.84" width="3.97" height="8.61"/><rect x="636.83" y="997.36" width="3.97" height="119.09"/><rect x="640.8" y="1057.04" width="3.97" height="59.41"/><rect x="644.77" y="1080.36" width="3.97" height="36.09"/><rect x="648.74" y="1093.13" width="3.97" height="23.32"/><rect x="652.72" y="1099.24" width="3.97" height="17.21"/><rect x="656.69" y="1111.18" width="3.97" height="5.27"/><rect x="660.66" y="1110.07" width="3.97" height="6.38"/><rect x="664.64" y="1112.56" width="3.97" height="3.89"/><rect x="668.61" y="1113.12" width="3.97" height="3.33"/><rect x="672.58" y="1112.56" width="3.97" height="3.89"/><rect x="676.55" y="1112.56" width="3.97" height="3.89"/><rect x="680.53" y="1113.12" width="3.97" height="3.33"/></g>
<g fill="#fff" stroke="#151515" stroke-width="0.5"><rect x="541.48" y="1067.04" width="3.97" height="49.41"/><rect x="545.45" y="1109.23" width="3.97" height="7.22"/><rect x="549.42" y="1109.23" width="3.97" height="7.22"/><rect x="553.39" y="1112.29" width="3.97" height="4.16"/><rect x="557.37" y="1114.37" width="3.97" height="2.08"/><rect x="561.34" y="1113.12" width="3.97" height="3.33"/><rect x="565.31" y="1114.37" width="3.97" height="2.08"/><rect x="569.29" y="1113.12" width="3.97" height="3.33"/><rect x="573.26" y="1114.37" width="3.97" height="2.08"/><rect x="577.23" y="1109.23" width="3.97" height="7.22"/><rect x="581.2" y="1107.57" width="3.97" height="8.88"/><rect x="585.18" y="1111.18" width="3.97" height="5.27"/><rect x="589.15" y="1114.78" width="3.97" height="1.67"/><rect x="593.12" y="1111.18" width="3.97" height="5.27"/><rect x="597.1" y="1107.57" width="3.97" height="8.88"/><rect x="601.07" y="1107.57" width="3.97" height="8.88"/><rect x="605.04" y="1106.46" width="3.97" height="9.99"/><rect x="609.01" y="1097.3" width="3.97" height="19.15"/><rect x="612.99" y="1093.13" width="3.97" height="23.32"/><rect x="616.96" y="1096.19" width="3.97" height="20.26"/><rect x="620.93" y="1085.08" width="3.97" height="31.37"/><rect x="624.91" y="1071.2" width="3.97" height="45.25"/><rect x="628.88" y="1056.77" width="3.97" height="59.68"/><rect x="632.85" y="1055.38" width="3.97" height="61.07"/></g>
<g fill="#c4002b"><circle cx="495.79" cy="1106.57" r="0.58"/><circle cx="499.76" cy="1100.64" r="0.58"/><circle cx="503.73" cy="1104.69" r="0.58"/><circle cx="507.71" cy="1097.79" r="0.58"/><circle cx="511.68" cy="1099.75" r="0.58"/><circle cx="515.65" cy="1098.53" r="0.58"/><circle cx="519.62" cy="1091.95" r="0.58"/><circle cx="523.6" cy="1096.06" r="0.58"/><circle cx="527.57" cy="1099.16" r="0.58"/><circle cx="531.54" cy="1100.36" r="0.58"/><circle cx="535.52" cy="1099.43" r="0.58"/><circle cx="539.49" cy="1104.67" r="0.58"/><circle cx="543.46" cy="1063.46" r="0.58"/><circle cx="547.43" cy="1105.05" r="0.58"/><circle cx="551.41" cy="1104.47" r="0.58"/><circle cx="555.38" cy="1109.33" r="0.58"/><circle cx="559.35" cy="1111.79" r="0.58"/><circle cx="563.33" cy="1110.24" r="0.58"/><circle cx="567.3" cy="1112.64" r="0.58"/><circle cx="571.27" cy="1111.42" r="0.58"/><circle cx="575.24" cy="1111.9" r="0.58"/><circle cx="579.22" cy="1104.11" r="0.58"/><circle cx="583.19" cy="1102.81" r="0.58"/><circle cx="587.16" cy="1106.93" r="0.58"/><circle cx="591.14" cy="1112.69" r="0.58"/><circle cx="595.11" cy="1107.17" r="0.58"/><circle cx="599.08" cy="1105.52" r="0.58"/><circle cx="603.06" cy="1104.87" r="0.58"/><circle cx="607.03" cy="1104.08" r="0.58"/><circle cx="611" cy="1091.41" r="0.58"/><circle cx="614.97" cy="1090.12" r="0.58"/><circle cx="618.95" cy="1089.82" r="0.58"/><circle cx="622.92" cy="1077.05" r="0.58"/><circle cx="626.89" cy="1066.55" r="0.58"/><circle cx="630.87" cy="1048.8" r="0.58"/><circle cx="634.84" cy="1045.36" r="0.58"/><circle cx="638.81" cy="986.08" r="0.58"/><circle cx="642.78" cy="1047.57" r="0.58"/><circle cx="646.76" cy="1075.15" r="0.58"/><circle cx="650.73" cy="1088.89" r="0.58"/><circle cx="654.7" cy="1093.6" r="0.58"/><circle cx="658.68" cy="1109.67" r="0.58"/><circle cx="662.65" cy="1108" r="0.58"/><circle cx="666.62" cy="1110.12" r="0.58"/><circle cx="670.59" cy="1110.6" r="0.58"/><circle cx="674.57" cy="1109.75" r="0.58"/><circle cx="678.54" cy="1110.03" r="0.58"/><circle cx="682.51" cy="1110.38" r="0.58"/></g>
<path d="M493.8 977.65V1116.45H684.5" fill="none" stroke="#2a2a2a" stroke-width="0.6"/>
<path d="M493.8 1116.45h1.8" stroke="#333" stroke-width="0.45"/>
<text x="491.7" y="1119.05" text-anchor="end" class="tk">0</text>
<path d="M493.8 1102.57h1.8" stroke="#333" stroke-width="0.45"/>
<text x="491.7" y="1105.17" text-anchor="end" class="tk">5</text>
<path d="M493.8 1088.69h1.8" stroke="#333" stroke-width="0.45"/>
<text x="491.7" y="1091.29" text-anchor="end" class="tk">10</text>
<path d="M493.8 1074.81h1.8" stroke="#333" stroke-width="0.45"/>
<text x="491.7" y="1077.41" text-anchor="end" class="tk">15</text>
<path d="M493.8 1060.93h1.8" stroke="#333" stroke-width="0.45"/>
<text x="491.7" y="1063.53" text-anchor="end" class="tk">20</text>
<path d="M493.8 1047.05h1.8" stroke="#333" stroke-width="0.45"/>
<text x="491.7" y="1049.65" text-anchor="end" class="tk">25</text>
<path d="M493.8 1033.17h1.8" stroke="#333" stroke-width="0.45"/>
<text x="491.7" y="1035.77" text-anchor="end" class="tk">30</text>
<path d="M493.8 1019.29h1.8" stroke="#333" stroke-width="0.45"/>
<text x="491.7" y="1021.89" text-anchor="end" class="tk">35</text>
<path d="M493.8 1005.41h1.8" stroke="#333" stroke-width="0.45"/>
<text x="491.7" y="1008.01" text-anchor="end" class="tk">40</text>
<path d="M493.8 991.53h1.8" stroke="#333" stroke-width="0.45"/>
<text x="491.7" y="994.13" text-anchor="end" class="tk">45</text>
<path d="M493.8 977.65h1.8" stroke="#333" stroke-width="0.45"/>
<text x="491.7" y="980.25" text-anchor="end" class="tk">50</text>
<path d="M541.48 1116.45v-1.8" stroke="#333" stroke-width="0.45"/>
<text x="541.48" y="1124.65" text-anchor="middle" class="tk">ZT0</text>
<path d="M636.83 1116.45v-1.8" stroke="#333" stroke-width="0.45"/>
<text x="636.83" y="1124.65" text-anchor="middle" class="tk">ZT12</text>
<text transform="translate(480.8 1047.05) rotate(-90)" text-anchor="middle" class="yl">mean activity</text>
<text x="16.8" y="1163.48" class="tt" font-style="italic" textLength="156.3" lengthAdjust="spacing">cry01 tim-Gal4&gt;CrebB-RNAi2</text>
<text x="181" y="1163.48" class="tt" textLength="28.9" lengthAdjust="spacing">n=16</text>
<rect x="17.2" y="1177.5" width="190.3" height="138" fill="#d9d9d9"/>
<rect x="47" y="1177.5" width="48" height="7.8" fill="#fff"/>
<rect x="142" y="1177.5" width="48" height="7.8" fill="#fff"/>
<rect x="47" y="1185.3" width="48" height="9.3" fill="#fff"/>
<rect x="142" y="1185.3" width="48" height="9.3" fill="#fff"/>
<rect x="47" y="1194.6" width="48" height="9.3" fill="#fff"/>
<rect x="161.5" y="1194.6" width="46" height="9.3" fill="#fff"/>
<rect x="66.5" y="1203.9" width="47.2" height="9.3" fill="#fff"/>
<rect x="161.5" y="1203.9" width="46" height="9.3" fill="#fff"/>
<rect x="66.5" y="1213.2" width="47.2" height="9.3" fill="#fff"/>
<rect x="161.5" y="1213.2" width="46" height="9.3" fill="#fff"/>
<rect x="66.5" y="1222.5" width="47.2" height="9.3" fill="#fff"/>
<rect x="161.5" y="1222.5" width="46" height="9.3" fill="#fff"/>
<rect x="66.5" y="1231.8" width="47.2" height="9.3" fill="#fff"/>
<rect x="161.5" y="1231.8" width="46" height="9.3" fill="#fff"/>
<rect x="66.5" y="1241.1" width="47.2" height="9.3" fill="#fff"/>
<rect x="161.5" y="1241.1" width="46" height="9.3" fill="#fff"/>
<rect x="66.5" y="1250.4" width="47.2" height="9.3" fill="#fff"/>
<path d="M39.6 1177.5V1315.5" stroke="#000" stroke-opacity="0.16" stroke-width="0.45"/>
<path d="M63.4 1177.5V1315.5" stroke="#000" stroke-opacity="0.16" stroke-width="0.45"/>
<path d="M87.2 1177.5V1315.5" stroke="#000" stroke-opacity="0.16" stroke-width="0.45"/>
<path d="M111 1177.5V1315.5" stroke="#000" stroke-opacity="0.16" stroke-width="0.45"/>
<path d="M134.8 1177.5V1315.5" stroke="#000" stroke-opacity="0.16" stroke-width="0.45"/>
<path d="M158.6 1177.5V1315.5" stroke="#000" stroke-opacity="0.16" stroke-width="0.45"/>
<path d="M182.4 1177.5V1315.5" stroke="#000" stroke-opacity="0.16" stroke-width="0.45"/>
<path d="M206.2 1177.5V1315.5" stroke="#000" stroke-opacity="0.16" stroke-width="0.45"/>
<path d="M17.2 1185.3H207.5" stroke="#b4b4b4" stroke-width="0.5"/>
<path d="M17.2 1194.6H207.5" stroke="#b4b4b4" stroke-width="0.5"/>
<path d="M17.2 1203.9H207.5" stroke="#b4b4b4" stroke-width="0.5"/>
<path d="M17.2 1213.2H207.5" stroke="#b4b4b4" stroke-width="0.5"/>
<path d="M17.2 1222.5H207.5" stroke="#b4b4b4" stroke-width="0.5"/>
<path d="M17.2 1231.8H207.5" stroke="#b4b4b4" stroke-width="0.5"/>
<path d="M17.2 1241.1H207.5" stroke="#b4b4b4" stroke-width="0.5"/>
<path d="M17.2 1250.4H207.5" stroke="#b4b4b4" stroke-width="0.5"/>
<path d="M17.2 1259.7H207.5" stroke="#b4b4b4" stroke-width="0.5"/>
<path d="M17.2 1269H207.5" stroke="#b4b4b4" stroke-width="0.5"/>
<path d="M17.2 1278.3H207.5" stroke="#b4b4b4" stroke-width="0.5"/>
<path d="M17.2 1287.6H207.5" stroke="#b4b4b4" stroke-width="0.5"/>
<path d="M17.2 1296.9H207.5" stroke="#b4b4b4" stroke-width="0.5"/>
<path d="M17.2 1306.2H207.5" stroke="#b4b4b4" stroke-width="0.5"/>
<g fill="#0000ff" stroke="#0a0a1e" stroke-width="0.55" stroke-linejoin="round">
<path d="M17.2 1185.3L17.5 1184.1L19.5 1183.9L21.5 1184.4L23.4 1184.4L25.4 1184.2L27.4 1184.5L29.4 1184.5L31.4 1184.7L33.4 1184.4L35.3 1184.7L37.3 1184.7L39.3 1184.3L41.3 1184.0L43.3 1184.2L45.2 1183.2L47.2 1179.7L49.2 1182.0L51.2 1182.6L53.2 1183.3L55.2 1182.7L57.1 1183.3L59.1 1182.7L61.1 1183.6L63.1 1183.2L65.1 1183.6L67.1 1183.2L69.0 1184.1L71.0 1183.3L73.0 1183.2L75.0 1182.9L77.0 1183.5L78.9 1183.4L80.9 1182.2L82.9 1183.3L84.9 1182.9L86.9 1182.2L88.9 1180.2L90.8 1182.3L92.8 1181.4L94.8 1176.6L96.8 1181.4L98.8 1183.0L100.8 1184.3L102.7 1184.4L104.7 1183.5L106.7 1183.8L108.7 1184.2L110.7 1184.5L112.6 1184.2L114.6 1184.2L116.6 1184.4L118.6 1184.2L120.6 1183.8L122.6 1184.7L124.5 1184.5L126.5 1184.5L128.5 1184.6L130.5 1184.5L132.5 1184.6L134.5 1184.4L136.4 1184.0L138.4 1184.1L140.4 1183.6L142.4 1180.4L144.4 1181.8L146.3 1182.2L148.3 1183.5L150.3 1183.1L152.3 1182.4L154.3 1182.8L156.3 1183.8L158.2 1183.7L160.2 1183.3L162.2 1183.5L164.2 1184.0L166.2 1183.7L168.2 1183.7L170.1 1182.8L172.1 1183.3L174.1 1182.6L176.1 1183.3L178.1 1183.4L180.0 1183.0L182.0 1182.3L184.0 1182.0L186.0 1181.8L188.0 1181.5L190.0 1179.0L191.9 1181.0L193.9 1183.6L195.9 1184.6L197.9 1184.1L199.9 1183.2L201.9 1183.7L203.8 1184.4L205.8 1184.3L207.5 1185.3Z"/>
<path d="M17.2 1194.6L17.5 1193.5L19.5 1193.5L21.5 1193.7L23.4 1193.5L25.4 1193.1L27.4 1194.0L29.4 1193.8L31.4 1193.8L33.4 1193.9L35.3 1193.8L37.3 1193.9L39.3 1193.7L41.3 1193.3L43.3 1193.4L45.2 1192.9L47.2 1189.7L49.2 1191.1L51.2 1191.5L53.2 1192.8L55.2 1192.4L57.1 1191.7L59.1 1192.1L61.1 1193.1L63.1 1193.0L65.1 1192.6L67.1 1192.8L69.0 1193.3L71.0 1193.0L73.0 1193.0L75.0 1192.1L77.0 1192.6L78.9 1191.9L80.9 1192.6L82.9 1192.7L84.9 1192.3L86.9 1191.6L88.9 1191.3L90.8 1191.1L92.8 1190.8L94.8 1188.3L96.8 1190.3L98.8 1192.9L100.8 1193.9L102.7 1193.4L104.7 1192.5L106.7 1193.0L108.7 1193.7L110.7 1193.6L112.6 1193.7L114.6 1193.5L116.6 1193.5L118.6 1193.8L120.6 1192.9L122.6 1193.8L124.5 1193.8L126.5 1193.9L128.5 1193.7L130.5 1193.8L132.5 1193.7L134.5 1193.4L136.4 1193.5L138.4 1193.2L140.4 1192.3L142.4 1190.4L144.4 1191.3L146.3 1192.3L148.3 1191.9L150.3 1192.0L152.3 1191.9L154.3 1191.8L156.3 1192.9L158.2 1192.8L160.2 1192.7L162.2 1192.8L164.2 1193.3L166.2 1192.1L168.2 1193.0L170.1 1191.9L172.1 1192.4L174.1 1192.4L176.1 1191.4L178.1 1192.6L180.0 1191.9L182.0 1190.8L184.0 1189.9L186.0 1191.0L188.0 1190.9L190.0 1185.5L191.9 1191.2L193.9 1192.0L195.9 1193.8L197.9 1193.8L199.9 1192.5L201.9 1193.0L203.8 1193.9L205.8 1193.7L207.5 1194.6Z"/>
<path d="M17.2 1203.9L17.5 1203.0L19.5 1202.8L21.5 1202.8L23.4 1203.1L25.4 1202.2L27.4 1203.1L29.4 1203.1L31.4 1203.2L33.4 1203.0L35.3 1203.1L37.3 1203.0L39.3 1202.7L41.3 1202.8L43.3 1202.5L45.2 1201.6L47.2 1199.7L49.2 1200.6L51.2 1201.6L53.2 1201.2L55.2 1201.3L57.1 1201.2L59.1 1201.1L61.1 1202.2L63.1 1202.1L65.1 1202.0L67.1 1202.1L69.0 1202.6L71.0 1201.4L73.0 1202.3L75.0 1201.2L77.0 1201.7L78.9 1201.7L80.9 1200.7L82.9 1201.9L84.9 1201.2L86.9 1200.1L88.9 1199.2L90.8 1200.3L92.8 1200.2L94.8 1194.8L96.8 1200.5L98.8 1201.3L100.8 1203.1L102.7 1203.1L104.7 1201.8L106.7 1202.3L108.7 1203.2L110.7 1203.0L112.6 1203.1L114.6 1203.0L116.6 1202.9L118.6 1203.0L120.6 1202.5L122.6 1203.2L124.5 1203.2L126.5 1203.4L128.5 1203.2L130.5 1203.3L132.5 1203.2L134.5 1203.2L136.4 1203.2L138.4 1203.1L140.4 1202.4L142.4 1201.8L144.4 1201.3L146.3 1201.5L148.3 1202.0L150.3 1201.7L152.3 1201.2L154.3 1201.7L156.3 1202.6L158.2 1202.4L160.2 1202.6L162.2 1203.2L164.2 1203.3L166.2 1203.2L168.2 1203.1L170.1 1203.5L172.1 1202.8L174.1 1203.2L176.1 1202.6L178.1 1201.5L180.0 1201.9L182.0 1201.7L184.0 1201.1L186.0 1201.0L188.0 1200.8L190.0 1201.1L191.9 1200.6L193.9 1200.4L195.9 1200.8L197.9 1199.8L199.9 1199.8L201.9 1200.4L203.8 1199.0L205.8 1199.4L207.5 1203.9Z"/>
<path d="M17.2 1213.2L17.5 1212.4L19.5 1212.3L21.5 1212.2L23.4 1212.3L25.4 1211.8L27.4 1212.5L29.4 1212.5L31.4 1212.7L33.4 1212.5L35.3 1212.6L37.3 1212.5L39.3 1212.5L41.3 1212.5L43.3 1212.4L45.2 1211.7L47.2 1211.1L49.2 1210.6L51.2 1210.8L53.2 1211.3L55.2 1211.0L57.1 1210.5L59.1 1211.0L61.1 1211.9L63.1 1211.7L65.1 1211.9L67.1 1212.5L69.0 1212.6L71.0 1212.5L73.0 1212.4L75.0 1212.8L77.0 1212.1L78.9 1212.5L80.9 1211.9L82.9 1210.8L84.9 1211.2L86.9 1211.0L88.9 1210.4L90.8 1210.3L92.8 1210.1L94.8 1210.4L96.8 1209.9L98.8 1209.7L100.8 1210.1L102.7 1209.1L104.7 1209.1L106.7 1209.7L108.7 1208.3L110.7 1208.7L112.6 1209.3L114.6 1209.4L116.6 1210.2L118.6 1212.3L120.6 1212.5L122.6 1212.7L124.5 1212.6L126.5 1212.4L128.5 1212.6L130.5 1212.2L132.5 1211.4L134.5 1212.4L136.4 1212.2L138.4 1212.1L140.4 1212.3L142.4 1212.6L144.4 1212.6L146.3 1213.2L148.3 1213.2L150.3 1213.2L152.3 1212.3L154.3 1212.3L156.3 1212.1L158.2 1212.8L160.2 1211.9L162.2 1210.6L164.2 1212.0L166.2 1212.2L168.2 1212.5L170.1 1212.5L172.1 1212.2L174.1 1212.3L176.1 1211.7L178.1 1211.8L180.0 1211.9L182.0 1212.3L184.0 1212.1L186.0 1212.0L188.0 1211.9L190.0 1211.4L191.9 1211.3L193.9 1211.2L195.9 1210.8L197.9 1208.6L199.9 1209.8L201.9 1208.0L203.8 1208.9L205.8 1208.3L207.5 1213.2Z"/>
<path d="M17.2 1222.5L17.5 1218.6L19.5 1218.7L21.5 1219.5L23.4 1221.6L25.4 1221.8L27.4 1222.0L29.4 1221.9L31.4 1221.7L33.4 1221.9L35.3 1221.5L37.3 1220.7L39.3 1221.7L41.3 1221.5L43.3 1221.4L45.2 1221.6L47.2 1221.9L49.2 1221.9L51.2 1222.5L53.2 1222.5L55.2 1222.5L57.1 1221.6L59.1 1221.6L61.1 1221.4L63.1 1222.1L65.1 1221.2L67.1 1219.9L69.0 1221.3L71.0 1221.5L73.0 1221.8L75.0 1221.8L77.0 1221.5L78.9 1221.6L80.9 1221.0L82.9 1221.1L84.9 1221.2L86.9 1221.6L88.9 1221.4L90.8 1221.3L92.8 1221.2L94.8 1220.7L96.8 1220.6L98.8 1220.5L100.8 1220.1L102.7 1217.9L104.7 1219.1L106.7 1217.3L108.7 1218.2L110.7 1217.6L112.6 1218.4L114.6 1217.2L116.6 1219.3L118.6 1220.5L120.6 1222.0L122.6 1221.9L124.5 1221.9L126.5 1221.6L128.5 1221.6L130.5 1221.2L132.5 1221.1L134.5 1221.5L136.4 1221.7L138.4 1221.6L140.4 1221.7L142.4 1221.8L144.4 1221.8L146.3 1222.5L148.3 1222.1L150.3 1222.5L152.3 1221.7L154.3 1221.7L156.3 1221.5L158.2 1222.0L160.2 1221.4L162.2 1220.1L164.2 1221.2L166.2 1221.5L168.2 1221.6L170.1 1221.9L172.1 1221.7L174.1 1221.9L176.1 1221.3L178.1 1221.1L180.0 1221.4L182.0 1221.1L184.0 1220.9L186.0 1221.2L188.0 1220.8L190.0 1221.0L191.9 1220.6L193.9 1220.9L195.9 1219.8L197.9 1218.1L199.9 1218.8L201.9 1218.0L203.8 1217.8L205.8 1218.4L207.5 1222.5Z"/>
<path d="M17.2 1231.8L17.5 1227.7L19.5 1226.5L21.5 1228.6L23.4 1229.8L25.4 1231.3L27.4 1231.2L29.4 1231.2L31.4 1230.9L33.4 1230.9L35.3 1230.5L37.3 1230.4L39.3 1230.8L41.3 1231.0L43.3 1230.9L45.2 1231.0L47.2 1231.1L49.2 1231.1L51.2 1231.8L53.2 1231.4L55.2 1231.8L57.1 1231.0L59.1 1231.0L61.1 1230.8L63.1 1231.3L65.1 1230.7L67.1 1229.4L69.0 1230.5L71.0 1230.8L73.0 1230.9L75.0 1231.2L77.0 1231.0L78.9 1231.2L80.9 1230.6L82.9 1230.4L84.9 1230.7L86.9 1230.4L88.9 1230.2L90.8 1230.5L92.8 1230.1L94.8 1230.3L96.8 1229.9L98.8 1230.2L100.8 1229.1L102.7 1227.4L104.7 1228.1L106.7 1227.3L108.7 1227.1L110.7 1227.7L112.6 1227.2L114.6 1227.0L116.6 1228.6L118.6 1229.8L120.6 1231.2L122.6 1231.3L124.5 1231.2L126.5 1230.9L128.5 1231.1L130.5 1230.5L132.5 1230.0L134.5 1231.1L136.4 1230.7L138.4 1230.7L140.4 1231.0L142.4 1231.0L144.4 1231.1L146.3 1231.8L148.3 1231.4L150.3 1231.5L152.3 1231.1L154.3 1231.0L156.3 1230.8L158.2 1231.3L160.2 1230.5L162.2 1229.0L164.2 1230.4L166.2 1231.1L168.2 1231.0L170.1 1231.1L172.1 1230.7L174.1 1231.1L176.1 1230.6L178.1 1230.8L180.0 1230.6L182.0 1230.8L184.0 1230.1L186.0 1230.6L188.0 1230.1L190.0 1229.8L191.9 1229.9L193.9 1230.0L195.9 1228.1L197.9 1227.3L199.9 1228.3L201.9 1226.8L203.8 1227.7L205.8 1226.6L207.5 1231.8Z"/>
<path d="M17.2 1241.1L17.5 1236.5L19.5 1236.3L21.5 1237.9L23.4 1239.1L25.4 1240.5L27.4 1240.6L29.4 1240.5L31.4 1240.2L33.4 1240.4L35.3 1239.8L37.3 1239.3L39.3 1240.4L41.3 1240.0L43.3 1240.0L45.2 1240.3L47.2 1240.3L49.2 1240.4L51.2 1241.1L53.2 1240.7L55.2 1240.8L57.1 1240.4L59.1 1240.3L61.1 1240.1L63.1 1240.6L65.1 1239.8L67.1 1238.3L69.0 1239.7L71.0 1240.4L73.0 1240.3L75.0 1240.4L77.0 1240.0L78.9 1240.4L80.9 1239.9L82.9 1240.1L84.9 1239.9L86.9 1240.1L88.9 1239.4L90.8 1239.9L92.8 1239.4L94.8 1239.1L96.8 1239.2L98.8 1239.3L100.8 1237.4L102.7 1236.6L104.7 1237.6L106.7 1236.1L108.7 1237.0L110.7 1235.9L112.6 1235.4L114.6 1236.2L116.6 1237.4L118.6 1239.6L120.6 1240.5L122.6 1240.6L124.5 1240.4L126.5 1240.1L128.5 1240.3L130.5 1239.6L132.5 1239.6L134.5 1240.4L136.4 1240.3L138.4 1239.9L140.4 1240.3L142.4 1240.2L144.4 1240.6L146.3 1241.1L148.3 1240.7L150.3 1240.7L152.3 1240.3L154.3 1240.3L156.3 1240.2L158.2 1240.5L160.2 1239.9L162.2 1238.9L164.2 1239.4L166.2 1240.2L168.2 1240.4L170.1 1240.5L172.1 1240.1L174.1 1240.2L176.1 1239.8L178.1 1240.0L180.0 1240.3L182.0 1240.0L184.0 1239.8L186.0 1240.0L188.0 1239.3L190.0 1239.0L191.9 1239.0L193.9 1239.2L195.9 1237.5L197.9 1237.3L199.9 1237.4L201.9 1236.8L203.8 1237.7L205.8 1237.1L207.5 1241.1Z"/>
<path d="M17.2 1250.4L17.5 1244.7L19.5 1245.5L21.5 1246.7L23.4 1248.9L25.4 1249.8L27.4 1249.9L29.4 1249.7L31.4 1249.4L33.4 1249.6L35.3 1248.9L37.3 1248.9L39.3 1249.7L41.3 1249.6L43.3 1249.2L45.2 1249.6L47.2 1249.5L49.2 1249.9L51.2 1250.4L53.2 1250.0L55.2 1250.0L57.1 1249.6L59.1 1249.6L61.1 1249.5L63.1 1249.8L65.1 1249.2L67.1 1248.2L69.0 1248.7L71.0 1249.5L73.0 1249.7L75.0 1249.8L77.0 1249.4L78.9 1249.5L80.9 1249.1L82.9 1249.3L84.9 1249.6L86.9 1249.3L88.9 1249.1L90.8 1249.3L92.8 1248.6L94.8 1248.3L96.8 1248.3L98.8 1248.5L100.8 1246.8L102.7 1246.6L104.7 1246.7L106.7 1246.1L108.7 1247.0L110.7 1246.4L112.6 1246.4L114.6 1245.4L116.6 1246.4L118.6 1248.4L120.6 1249.8L122.6 1249.8L124.5 1249.8L126.5 1249.6L128.5 1249.5L130.5 1248.9L132.5 1249.1L134.5 1249.4L136.4 1249.6L138.4 1249.2L140.4 1249.5L142.4 1249.5L144.4 1249.7L146.3 1250.4L148.3 1250.0L150.3 1250.1L152.3 1249.5L154.3 1249.6L156.3 1249.5L158.2 1249.8L160.2 1248.9L162.2 1248.1L164.2 1248.6L166.2 1249.6L168.2 1249.7L170.1 1249.9L172.1 1249.4L174.1 1249.4L176.1 1249.1L178.1 1249.2L180.0 1249.2L182.0 1249.0L184.0 1248.7L186.0 1249.1L188.0 1249.0L190.0 1248.5L191.9 1248.8L193.9 1248.7L195.9 1247.0L197.9 1246.8L199.9 1246.6L201.9 1245.4L203.8 1245.5L205.8 1245.2L207.5 1250.4Z"/>
<path d="M17.2 1259.7L17.5 1255.7L19.5 1254.7L21.5 1255.7L23.4 1257.7L25.4 1259.1L27.4 1259.1L29.4 1259.1L31.4 1258.9L33.4 1258.8L35.3 1258.2L37.3 1258.4L39.3 1258.7L41.3 1258.9L43.3 1258.5L45.2 1258.8L47.2 1258.8L49.2 1259.0L51.2 1259.7L53.2 1259.3L55.2 1259.4L57.1 1258.8L59.1 1258.9L61.1 1258.8L63.1 1259.1L65.1 1258.2L67.1 1257.4L69.0 1257.9L71.0 1258.9L73.0 1259.0L75.0 1259.2L77.0 1258.7L78.9 1258.7L80.9 1258.4L82.9 1258.5L84.9 1258.5L86.9 1258.3L88.9 1258.0L90.8 1258.4L92.8 1258.3L94.8 1257.8L96.8 1258.1L98.8 1258.0L100.8 1256.3L102.7 1256.1L104.7 1255.9L106.7 1254.7L108.7 1254.8L110.7 1254.5L112.6 1256.2L114.6 1254.3L116.6 1256.6L118.6 1258.0L120.6 1258.6L122.6 1258.5L124.5 1257.9L126.5 1257.9L128.5 1258.1L130.5 1258.0L132.5 1257.9L134.5 1257.8L136.4 1257.9L138.4 1257.9L140.4 1258.0L142.4 1257.8L144.4 1257.9L146.3 1258.1L148.3 1258.3L150.3 1258.2L152.3 1257.8L154.3 1257.8L156.3 1258.4L158.2 1258.7L160.2 1258.7L162.2 1258.5L164.2 1258.0L166.2 1257.7L168.2 1257.7L170.1 1258.1L172.1 1258.5L174.1 1258.4L176.1 1258.0L178.1 1258.1L180.0 1258.3L182.0 1258.3L184.0 1258.2L186.0 1258.2L188.0 1258.0L190.0 1257.4L191.9 1256.9L193.9 1257.3L195.9 1257.1L197.9 1256.9L199.9 1256.6L201.9 1255.7L203.8 1255.3L205.8 1255.8L207.5 1259.7Z"/>
<path d="M17.2 1269L17.5 1265.5L19.5 1263.6L21.5 1265.9L23.4 1267.3L25.4 1267.9L27.4 1267.8L29.4 1267.2L31.4 1267.2L33.4 1267.4L35.3 1267.3L37.3 1267.2L39.3 1267.1L41.3 1267.2L43.3 1267.2L45.2 1267.3L47.2 1267.1L49.2 1267.2L51.2 1267.4L53.2 1267.6L55.2 1267.5L57.1 1267.1L59.1 1267.1L61.1 1267.7L63.1 1268.0L65.1 1268.0L67.1 1267.8L69.0 1267.3L71.0 1267.0L73.0 1267.0L75.0 1267.4L77.0 1267.8L78.9 1267.7L80.9 1267.3L82.9 1267.4L84.9 1267.6L86.9 1267.6L88.9 1267.5L90.8 1267.5L92.8 1267.3L94.8 1266.7L96.8 1266.2L98.8 1266.6L100.8 1266.4L102.7 1266.2L104.7 1265.9L106.7 1265.0L108.7 1264.6L110.7 1265.1L112.6 1266.1L114.6 1266.2L116.6 1266.9L118.6 1267.2L120.6 1266.6L122.6 1266.8L124.5 1267.5L126.5 1267.5L128.5 1267.7L130.5 1267.6L132.5 1267.3L134.5 1267.2L136.4 1267.2L138.4 1267.3L140.4 1267.6L142.4 1267.8L144.4 1267.9L146.3 1267.8L148.3 1267.6L150.3 1267.4L152.3 1267.4L154.3 1267.5L156.3 1267.2L158.2 1267.4L160.2 1267.8L162.2 1267.9L164.2 1267.8L166.2 1267.8L168.2 1267.6L170.1 1267.5L172.1 1267.2L174.1 1267.1L176.1 1267.3L178.1 1267.5L180.0 1267.2L182.0 1266.9L184.0 1267.1L186.0 1267.6L188.0 1267.8L190.0 1267.4L191.9 1267.1L193.9 1267.4L195.9 1267.4L197.9 1266.9L199.9 1267.0L201.9 1266.9L203.8 1266.5L205.8 1266.1L207.5 1269Z"/>
<path d="M17.2 1278.3L17.5 1275.4L19.5 1275.5L21.5 1276.2L23.4 1276.5L25.4 1275.9L27.4 1276.1L29.4 1276.8L31.4 1276.8L33.4 1277.0L35.3 1276.9L37.3 1276.6L39.3 1276.5L41.3 1276.5L43.3 1276.6L45.2 1276.9L47.2 1277.1L49.2 1277.2L51.2 1277.1L53.2 1276.9L55.2 1276.7L57.1 1276.7L59.1 1276.8L61.1 1276.5L63.1 1276.7L65.1 1277.1L67.1 1277.2L69.0 1277.1L71.0 1277.1L73.0 1276.9L75.0 1276.8L77.0 1276.5L78.9 1276.4L80.9 1276.6L82.9 1276.8L84.9 1276.5L86.9 1276.2L88.9 1276.4L90.8 1276.9L92.8 1277.1L94.8 1276.7L96.8 1276.4L98.8 1276.7L100.8 1276.7L102.7 1276.2L104.7 1276.3L106.7 1276.2L108.7 1275.8L110.7 1275.4L112.6 1275.7L114.6 1276.1L116.6 1276.3L118.6 1276.6L120.6 1276.7L122.6 1277.2L124.5 1277.2L126.5 1277.1L128.5 1277.3L130.5 1277.4L132.5 1277.4L134.5 1277.2L136.4 1277.3L138.4 1277.5L140.4 1277.4L142.4 1277.4L144.4 1277.5L146.3 1277.4L148.3 1277.2L150.3 1277.3L152.3 1277.3L154.3 1277.3L156.3 1277.3L158.2 1277.3L160.2 1277.2L162.2 1277.4L164.2 1277.4L166.2 1277.3L168.2 1277.4L170.1 1277.5L172.1 1277.4L174.1 1277.2L176.1 1277.2L178.1 1277.3L180.0 1277.5L182.0 1277.4L184.0 1277.2L186.0 1277.3L188.0 1277.3L190.0 1277.2L191.9 1277.2L193.9 1277.3L195.9 1277.1L197.9 1277.0L199.9 1277.0L201.9 1277.2L203.8 1277.3L205.8 1277.3L207.5 1278.3Z"/>
<path d="M17.2 1287.6L17.5 1285.0L19.5 1285.4L21.5 1285.6L23.4 1285.9L25.4 1286.0L27.4 1286.5L29.4 1286.5L31.4 1286.4L33.4 1286.6L35.3 1286.7L37.3 1286.7L39.3 1286.5L41.3 1286.6L43.3 1286.8L45.2 1286.7L47.2 1286.7L49.2 1286.8L51.2 1286.7L53.2 1286.5L55.2 1286.6L57.1 1286.6L59.1 1286.6L61.1 1286.6L63.1 1286.6L65.1 1286.5L67.1 1286.7L69.0 1286.7L71.0 1286.6L73.0 1286.7L75.0 1286.8L77.0 1286.7L78.9 1286.5L80.9 1286.5L82.9 1286.6L84.9 1286.8L86.9 1286.7L88.9 1286.5L90.8 1286.6L92.8 1286.6L94.8 1286.5L96.8 1286.5L98.8 1286.6L100.8 1286.4L102.7 1286.3L104.7 1286.3L106.7 1286.5L108.7 1286.6L110.7 1286.6L112.6 1286.9L114.6 1287.0L116.6 1287.0L118.6 1287.0L120.6 1286.8L122.6 1286.7L124.5 1286.8L126.5 1286.9L128.5 1286.9L130.5 1287.1L132.5 1287.1L134.5 1287.1L136.4 1287.2L138.4 1287.1L140.4 1287.0L142.4 1286.9L144.4 1286.9L146.3 1287.1L148.3 1287.2L150.3 1287.1L152.3 1287.1L154.3 1287.2L156.3 1287.2L158.2 1287.1L160.2 1287.1L162.2 1287.2L164.2 1287.1L166.2 1287.1L168.2 1287.2L170.1 1287.2L172.1 1287.2L174.1 1287.2L176.1 1287.1L178.1 1287.1L180.0 1287.1L182.0 1287.2L184.0 1287.2L186.0 1287.1L188.0 1287.0L190.0 1287.1L191.9 1287.2L193.9 1287.2L195.9 1287.2L197.9 1287.1L199.9 1287.1L201.9 1287.2L203.8 1287.2L205.8 1287.2L207.5 1287.6Z"/>
<path d="M17.2 1296.9L17.5 1296.2L19.5 1296.3L21.5 1296.3L23.4 1296.3L25.4 1296.1L27.4 1296.0L29.4 1296.1L31.4 1296.2L33.4 1296.2L35.3 1296.4L37.3 1296.4L39.3 1296.4L41.3 1296.5L43.3 1296.4L45.2 1296.3L47.2 1296.2L49.2 1296.2L51.2 1296.4L53.2 1296.5L55.2 1296.4L57.1 1296.4L59.1 1296.5L61.1 1296.5L63.1 1296.4L65.1 1296.4L67.1 1296.5L69.0 1296.4L71.0 1296.4L73.0 1296.5L75.0 1296.5L77.0 1296.5L78.9 1296.5L80.9 1296.4L82.9 1296.4L84.9 1296.4L86.9 1296.5L88.9 1296.5L90.8 1296.4L92.8 1296.3L94.8 1296.4L96.8 1296.5L98.8 1296.5L100.8 1296.5L102.7 1296.4L104.7 1296.4L106.7 1296.5L108.7 1296.5L110.7 1296.5L112.6 1296.4L114.6 1296.5L116.6 1296.4L118.6 1296.3L120.6 1296.3L122.6 1296.5L124.5 1296.5L126.5 1296.6L128.5 1296.6L130.5 1296.5L132.5 1296.3L134.5 1296.3L136.4 1296.5L138.4 1296.5L140.4 1296.4L142.4 1296.4L144.4 1296.4L146.3 1296.5L148.3 1296.4L150.3 1296.4L152.3 1296.5L154.3 1296.4L156.3 1296.4L158.2 1296.4L160.2 1296.4L162.2 1296.5L164.2 1296.9L166.2 1296.6L168.2 1296.5L170.1 1296.4L172.1 1296.4L174.1 1296.4L176.1 1296.4L178.1 1296.4L180.0 1296.3L182.0 1296.3L184.0 1296.4L186.0 1296.3L188.0 1296.3L190.0 1296.3L191.9 1296.4L193.9 1296.4L195.9 1296.3L197.9 1296.4L199.9 1296.4L201.9 1296.4L203.8 1296.4L205.8 1296.4L207.5 1296.9Z"/>
<path d="M17.2 1306.2L17.5 1305.7L19.5 1305.8L21.5 1305.7L23.4 1305.6L25.4 1305.6L27.4 1305.8L29.4 1305.8L31.4 1305.9L33.4 1305.9L35.3 1305.8L37.3 1305.6L39.3 1305.6L41.3 1305.8L43.3 1305.8L45.2 1305.7L47.2 1305.7L49.2 1305.7L51.2 1305.8L53.2 1305.7L55.2 1305.7L57.1 1305.8L59.1 1305.7L61.1 1305.7L63.1 1305.7L65.1 1305.7L67.1 1305.8L69.0 1306.2L71.0 1305.9L73.0 1305.8L75.0 1305.7L77.0 1305.7L78.9 1305.7L80.9 1305.7L82.9 1305.7L84.9 1305.6L86.9 1305.6L88.9 1305.7L90.8 1305.6L92.8 1305.6L94.8 1305.6L96.8 1305.7L98.8 1305.7L100.8 1305.6L102.7 1305.7L104.7 1305.7L106.7 1305.7L108.7 1305.7L110.7 1305.7L112.6 1306.2L114.6 1305.9L116.6 1305.8L118.6 1306.2L120.6 1306.2L122.6 1306.2L124.5 1306.2L126.5 1306.2L128.5 1306.2L130.5 1305.9L132.5 1305.9L134.5 1306.2L136.4 1306.2L138.4 1305.9L140.4 1305.8L142.4 1305.9L144.4 1306.2L146.3 1305.9L148.3 1306.2L150.3 1306.2L152.3 1306.2L154.3 1306.2L156.3 1305.8L158.2 1305.9L160.2 1306.2L162.2 1306.2L164.2 1306.2L166.2 1306.2L168.2 1306.2L170.1 1306.2L172.1 1305.9L174.1 1305.9L176.1 1306.2L178.1 1306.2L180.0 1305.9L182.0 1306.2L184.0 1306.2L186.0 1306.2L188.0 1306.2L190.0 1306.2L191.9 1305.8L193.9 1305.9L195.9 1306.2L197.9 1306.2L199.9 1306.2L201.9 1306.2L203.8 1306.2L205.8 1306.2L207.5 1306.2Z"/>
<path d="M17.2 1315.5L17.5 1315.5L19.5 1315.2L21.5 1315.1L23.4 1315.5L25.4 1315.5L27.4 1315.5L29.4 1315.5L31.4 1315.5L33.4 1315.5L35.3 1315.2L37.3 1315.2L39.3 1315.5L41.3 1315.5L43.3 1315.2L45.2 1315.1L47.2 1315.2L49.2 1315.5L51.2 1315.2L53.2 1315.5L55.2 1315.5L57.1 1315.5L59.1 1315.5L61.1 1315.1L63.1 1315.2L65.1 1315.5L67.1 1315.5L69.0 1315.5L71.0 1315.5L73.0 1315.5L75.0 1315.5L77.0 1315.2L78.9 1315.2L80.9 1315.5L82.9 1315.5L84.9 1315.2L86.9 1315.5L88.9 1315.5L90.8 1315.5L92.8 1315.5L94.8 1315.5L96.8 1315.1L98.8 1315.2L100.8 1315.5L102.7 1315.5L104.7 1315.5L106.7 1315.5L108.7 1315.5L110.7 1315.5L112.6 1315.5L114.6 1315.5L116.6 1315.5L118.6 1315.5L120.6 1315.5L122.6 1315.5L124.5 1315.5L126.5 1315.5L128.5 1315.5L130.5 1315.5L132.5 1315.5L134.5 1315.5L136.4 1315.5L138.4 1315.5L140.4 1315.5L142.4 1315.5L144.4 1315.5L146.3 1315.5L148.3 1315.5L150.3 1315.5L152.3 1315.5L154.3 1315.5L156.3 1315.5L158.2 1315.5L160.2 1315.5L162.2 1315.5L164.2 1315.5L166.2 1315.5L168.2 1315.5L170.1 1315.5L172.1 1315.5L174.1 1315.5L176.1 1315.5L178.1 1315.5L180.0 1315.5L182.0 1315.5L184.0 1315.5L186.0 1315.5L188.0 1315.5L190.0 1315.5L191.9 1315.5L193.9 1315.5L195.9 1315.5L197.9 1315.5L199.9 1315.5L201.9 1315.5L203.8 1315.5L205.8 1315.5L207.5 1315.5Z"/>
</g>
<path d="M108.7 1315.5H110.7M142.4 1315.5H150.3M152.3 1315.5H158.2M174.1 1315.5H188.0" fill="none" stroke="#c0c0c0" stroke-width="1.1"/>
<text x="11.9" y="1188.55" text-anchor="middle" class="tk al">1</text>
<text x="11.9" y="1197.8" text-anchor="middle" class="tk al">2</text>
<text x="11.9" y="1207.05" text-anchor="middle" class="tk al">3</text>
<text x="11.9" y="1216.3" text-anchor="middle" class="tk al">4</text>
<text x="11.9" y="1225.55" text-anchor="middle" class="tk al">5</text>
<text x="11.9" y="1234.8" text-anchor="middle" class="tk al">6</text>
<text x="11.9" y="1244.05" text-anchor="middle" class="tk al">7</text>
<text x="11.9" y="1253.3" text-anchor="middle" class="tk al">8</text>
<text x="11.9" y="1262.55" text-anchor="middle" class="tk al">9</text>
<text x="11.9" y="1271.8" text-anchor="middle" class="tk al">10</text>
<text x="11.9" y="1281.05" text-anchor="middle" class="tk al">11</text>
<text x="11.9" y="1290.3" text-anchor="middle" class="tk al">12</text>
<text x="11.9" y="1299.55" text-anchor="middle" class="tk al">13</text>
<text x="11.9" y="1308.8" text-anchor="middle" class="tk al">14</text>
<path d="M17.2 1315.5H207.5" stroke="#1a1a1a" stroke-width="1.0"/>
<text x="11.9" y="1318.05" text-anchor="middle" class="tk al">15</text>
<path d="M17.2 1177.5V1315.5" stroke="#333" stroke-width="0.5"/>
<text transform="translate(4.6 1246.5) rotate(-90)" text-anchor="middle" class="yl" style="font-size:5.8px">day</text>
<g fill="#808080" stroke="#151515" stroke-width="0.5"><rect x="255.6" y="1291.35" width="3.97" height="17.27"/><rect x="259.57" y="1283.64" width="3.97" height="24.98"/><rect x="263.55" y="1295.82" width="3.97" height="12.8"/><rect x="267.52" y="1292.12" width="3.97" height="16.5"/><rect x="271.5" y="1296.44" width="3.97" height="12.18"/><rect x="275.48" y="1295.82" width="3.97" height="12.8"/><rect x="279.45" y="1295.82" width="3.97" height="12.8"/><rect x="283.43" y="1295.36" width="3.97" height="13.26"/><rect x="287.4" y="1290.11" width="3.97" height="18.51"/><rect x="291.38" y="1289.96" width="3.97" height="18.66"/><rect x="295.35" y="1289.34" width="3.97" height="19.28"/><rect x="299.32" y="1275" width="3.97" height="33.62"/><rect x="398.7" y="1179.54" width="3.97" height="129.08"/><rect x="402.67" y="1246.01" width="3.97" height="62.61"/><rect x="406.65" y="1272.07" width="3.97" height="36.55"/><rect x="410.62" y="1293.35" width="3.97" height="15.27"/><rect x="414.6" y="1292.12" width="3.97" height="16.5"/><rect x="418.57" y="1279.32" width="3.97" height="29.3"/><rect x="422.55" y="1282.56" width="3.97" height="26.06"/><rect x="426.52" y="1293.35" width="3.97" height="15.27"/><rect x="430.5" y="1292.43" width="3.97" height="16.19"/><rect x="434.47" y="1288.11" width="3.97" height="20.51"/><rect x="438.45" y="1287.65" width="3.97" height="20.97"/><rect x="442.42" y="1289.34" width="3.97" height="19.28"/></g>
<g fill="#fff" stroke="#151515" stroke-width="0.5"><rect x="303.3" y="1219.48" width="3.97" height="89.14"/><rect x="307.27" y="1242.77" width="3.97" height="65.85"/><rect x="311.25" y="1261.58" width="3.97" height="47.04"/><rect x="315.22" y="1267.6" width="3.97" height="41.02"/><rect x="319.2" y="1269.6" width="3.97" height="39.02"/><rect x="323.17" y="1262.51" width="3.97" height="46.11"/><rect x="327.15" y="1269.6" width="3.97" height="39.02"/><rect x="331.12" y="1276.39" width="3.97" height="32.23"/><rect x="335.1" y="1273.3" width="3.97" height="35.32"/><rect x="339.07" y="1273.3" width="3.97" height="35.32"/><rect x="343.05" y="1279.63" width="3.97" height="28.99"/><rect x="347.02" y="1285.18" width="3.97" height="23.44"/><rect x="351" y="1273.3" width="3.97" height="35.32"/><rect x="354.97" y="1278.55" width="3.97" height="30.07"/><rect x="358.95" y="1269.29" width="3.97" height="39.33"/><rect x="362.92" y="1274.54" width="3.97" height="34.08"/><rect x="366.9" y="1271.3" width="3.97" height="37.32"/><rect x="370.88" y="1264.82" width="3.97" height="43.8"/><rect x="374.85" y="1277.31" width="3.97" height="31.31"/><rect x="378.82" y="1270.53" width="3.97" height="38.09"/><rect x="382.8" y="1256.34" width="3.97" height="52.28"/><rect x="386.77" y="1236.29" width="3.97" height="72.33"/><rect x="390.75" y="1244.46" width="3.97" height="64.16"/><rect x="394.73" y="1237.68" width="3.97" height="70.94"/></g>
<g fill="#c4002b"><circle cx="257.59" cy="1288.76" r="0.58"/><circle cx="261.56" cy="1280.7" r="0.58"/><circle cx="265.54" cy="1293.48" r="0.58"/><circle cx="269.51" cy="1287.31" r="0.58"/><circle cx="273.49" cy="1294.58" r="0.58"/><circle cx="277.46" cy="1290.51" r="0.58"/><circle cx="281.44" cy="1290.48" r="0.58"/><circle cx="285.41" cy="1291.16" r="0.58"/><circle cx="289.39" cy="1287.07" r="0.58"/><circle cx="293.36" cy="1284.97" r="0.58"/><circle cx="297.34" cy="1285.56" r="0.58"/><circle cx="301.31" cy="1268.75" r="0.58"/><circle cx="305.29" cy="1208.32" r="0.58"/><circle cx="309.26" cy="1237.15" r="0.58"/><circle cx="313.24" cy="1254.74" r="0.58"/><circle cx="317.21" cy="1261.07" r="0.58"/><circle cx="321.19" cy="1265.23" r="0.58"/><circle cx="325.16" cy="1258.17" r="0.58"/><circle cx="329.14" cy="1262.87" r="0.58"/><circle cx="333.11" cy="1271.73" r="0.58"/><circle cx="337.09" cy="1268.04" r="0.58"/><circle cx="341.06" cy="1268.69" r="0.58"/><circle cx="345.04" cy="1272.54" r="0.58"/><circle cx="349.01" cy="1278.85" r="0.58"/><circle cx="352.99" cy="1270.33" r="0.58"/><circle cx="356.96" cy="1274.59" r="0.58"/><circle cx="360.94" cy="1265.44" r="0.58"/><circle cx="364.91" cy="1271.7" r="0.58"/><circle cx="368.89" cy="1264.64" r="0.58"/><circle cx="372.86" cy="1258.7" r="0.58"/><circle cx="376.84" cy="1272.03" r="0.58"/><circle cx="380.81" cy="1263.86" r="0.58"/><circle cx="384.79" cy="1251.81" r="0.58"/><circle cx="388.76" cy="1230.58" r="0.58"/><circle cx="392.74" cy="1236.36" r="0.58"/><circle cx="396.71" cy="1231.7" r="0.58"/><circle cx="400.69" cy="1167.83" r="0.58"/><circle cx="404.66" cy="1238.77" r="0.58"/><circle cx="408.64" cy="1266.88" r="0.58"/><circle cx="412.61" cy="1290.47" r="0.58"/><circle cx="416.59" cy="1290.07" r="0.58"/><circle cx="420.56" cy="1275.17" r="0.58"/><circle cx="424.54" cy="1277.85" r="0.58"/><circle cx="428.51" cy="1287.89" r="0.58"/><circle cx="432.49" cy="1290.39" r="0.58"/><circle cx="436.46" cy="1283.69" r="0.58"/><circle cx="440.44" cy="1284.32" r="0.58"/><circle cx="444.41" cy="1287.23" r="0.58"/></g>
<path d="M255.6 1169.82V1308.62H446.4" fill="none" stroke="#2a2a2a" stroke-width="0.6"/>
<path d="M255.6 1308.62h1.8" stroke="#333" stroke-width="0.45"/>
<text x="253.5" y="1311.22" text-anchor="end" class="tk">0</text>
<path d="M255.6 1293.2h1.8" stroke="#333" stroke-width="0.45"/>
<text x="253.5" y="1295.8" text-anchor="end" class="tk">10</text>
<path d="M255.6 1277.78h1.8" stroke="#333" stroke-width="0.45"/>
<text x="253.5" y="1280.38" text-anchor="end" class="tk">20</text>
<path d="M255.6 1262.35h1.8" stroke="#333" stroke-width="0.45"/>
<text x="253.5" y="1264.95" text-anchor="end" class="tk">30</text>
<path d="M255.6 1246.93h1.8" stroke="#333" stroke-width="0.45"/>
<text x="253.5" y="1249.53" text-anchor="end" class="tk">40</text>
<path d="M255.6 1231.51h1.8" stroke="#333" stroke-width="0.45"/>
<text x="253.5" y="1234.11" text-anchor="end" class="tk">50</text>
<path d="M255.6 1216.09h1.8" stroke="#333" stroke-width="0.45"/>
<text x="253.5" y="1218.69" text-anchor="end" class="tk">60</text>
<path d="M255.6 1200.66h1.8" stroke="#333" stroke-width="0.45"/>
<text x="253.5" y="1203.26" text-anchor="end" class="tk">70</text>
<path d="M255.6 1185.24h1.8" stroke="#333" stroke-width="0.45"/>
<text x="253.5" y="1187.84" text-anchor="end" class="tk">80</text>
<path d="M255.6 1169.82h1.8" stroke="#333" stroke-width="0.45"/>
<text x="253.5" y="1172.42" text-anchor="end" class="tk">90</text>
<path d="M303.3 1308.62v-1.8" stroke="#333" stroke-width="0.45"/>
<text x="303.3" y="1316.82" text-anchor="middle" class="tk">ZT0</text>
<path d="M398.7 1308.62v-1.8" stroke="#333" stroke-width="0.45"/>
<text x="398.7" y="1316.82" text-anchor="middle" class="tk">ZT12</text>
<text transform="translate(242.9 1239.22) rotate(-90)" text-anchor="middle" class="yl">mean activity</text>
<g fill="#808080" stroke="#151515" stroke-width="0.5"><rect x="493.8" y="1285.22" width="3.97" height="23.4"/><rect x="497.77" y="1292.16" width="3.97" height="16.46"/><rect x="501.75" y="1292.16" width="3.97" height="16.46"/><rect x="505.72" y="1294.15" width="3.97" height="14.47"/><rect x="509.69" y="1302.47" width="3.97" height="6.15"/><rect x="513.66" y="1300.89" width="3.97" height="7.73"/><rect x="517.64" y="1301.48" width="3.97" height="7.14"/><rect x="521.61" y="1292.16" width="3.97" height="16.46"/><rect x="525.58" y="1288.2" width="3.97" height="20.42"/><rect x="529.56" y="1288.59" width="3.97" height="20.03"/><rect x="533.53" y="1296.13" width="3.97" height="12.49"/><rect x="537.5" y="1280.46" width="3.97" height="28.16"/><rect x="636.83" y="1197.58" width="3.97" height="111.04"/><rect x="640.8" y="1234.46" width="3.97" height="74.16"/><rect x="644.77" y="1267.18" width="3.97" height="41.44"/><rect x="648.74" y="1295.33" width="3.97" height="13.29"/><rect x="652.72" y="1295.33" width="3.97" height="13.29"/><rect x="656.69" y="1296.92" width="3.97" height="11.7"/><rect x="660.66" y="1290.18" width="3.97" height="18.44"/><rect x="664.64" y="1290.18" width="3.97" height="18.44"/><rect x="668.61" y="1279.27" width="3.97" height="29.35"/><rect x="672.58" y="1272.14" width="3.97" height="36.48"/><rect x="676.55" y="1288.99" width="3.97" height="19.63"/><rect x="680.53" y="1285.22" width="3.97" height="23.4"/></g>
<g fill="#fff" stroke="#151515" stroke-width="0.5"><rect x="541.48" y="1233.87" width="3.97" height="74.75"/><rect x="545.45" y="1275.51" width="3.97" height="33.11"/><rect x="549.42" y="1289.39" width="3.97" height="19.23"/><rect x="553.39" y="1292.56" width="3.97" height="16.06"/><rect x="557.37" y="1295.73" width="3.97" height="12.89"/><rect x="561.34" y="1287.6" width="3.97" height="21.02"/><rect x="565.31" y="1290.18" width="3.97" height="18.44"/><rect x="569.29" y="1281.45" width="3.97" height="27.17"/><rect x="573.26" y="1282.05" width="3.97" height="26.57"/><rect x="577.23" y="1286.41" width="3.97" height="22.21"/><rect x="581.2" y="1283.24" width="3.97" height="25.38"/><rect x="585.18" y="1278.08" width="3.97" height="30.54"/><rect x="589.15" y="1282.45" width="3.97" height="26.17"/><rect x="593.12" y="1275.31" width="3.97" height="33.31"/><rect x="597.1" y="1265.59" width="3.97" height="43.03"/><rect x="601.07" y="1265.59" width="3.97" height="43.03"/><rect x="605.04" y="1270.55" width="3.97" height="38.07"/><rect x="609.01" y="1241.6" width="3.97" height="67.02"/><rect x="612.99" y="1225.34" width="3.97" height="83.28"/><rect x="616.96" y="1225.93" width="3.97" height="82.69"/><rect x="620.93" y="1217.61" width="3.97" height="91.01"/><rect x="624.91" y="1210.67" width="3.97" height="97.95"/><rect x="628.88" y="1205.51" width="3.97" height="103.11"/><rect x="632.85" y="1207.69" width="3.97" height="100.93"/></g>
<g fill="#c4002b"><circle cx="495.79" cy="1278.97" r="0.58"/><circle cx="499.76" cy="1287.35" r="0.58"/><circle cx="503.73" cy="1286.7" r="0.58"/><circle cx="507.71" cy="1291.72" r="0.58"/><circle cx="511.68" cy="1299.26" r="0.58"/><circle cx="515.65" cy="1297.39" r="0.58"/><circle cx="519.62" cy="1298.05" r="0.58"/><circle cx="523.6" cy="1286.42" r="0.58"/><circle cx="527.57" cy="1285.41" r="0.58"/><circle cx="531.54" cy="1285.14" r="0.58"/><circle cx="535.52" cy="1290.9" r="0.58"/><circle cx="539.49" cy="1276.12" r="0.58"/><circle cx="543.46" cy="1227.83" r="0.58"/><circle cx="547.43" cy="1269.26" r="0.58"/><circle cx="551.41" cy="1283.77" r="0.58"/><circle cx="555.38" cy="1288.17" r="0.58"/><circle cx="559.35" cy="1291.19" r="0.58"/><circle cx="563.33" cy="1283.85" r="0.58"/><circle cx="567.3" cy="1285.11" r="0.58"/><circle cx="571.27" cy="1277.56" r="0.58"/><circle cx="575.24" cy="1277.84" r="0.58"/><circle cx="579.22" cy="1281.5" r="0.58"/><circle cx="583.19" cy="1279.9" r="0.58"/><circle cx="587.16" cy="1272.65" r="0.58"/><circle cx="591.14" cy="1277.86" r="0.58"/><circle cx="595.11" cy="1272.67" r="0.58"/><circle cx="599.08" cy="1257.74" r="0.58"/><circle cx="603.06" cy="1257.58" r="0.58"/><circle cx="607.03" cy="1264.99" r="0.58"/><circle cx="611" cy="1236.16" r="0.58"/><circle cx="614.97" cy="1214.82" r="0.58"/><circle cx="618.95" cy="1221.71" r="0.58"/><circle cx="622.92" cy="1210.35" r="0.58"/><circle cx="626.89" cy="1200.57" r="0.58"/><circle cx="630.87" cy="1196.53" r="0.58"/><circle cx="634.84" cy="1200.19" r="0.58"/><circle cx="638.81" cy="1189.03" r="0.58"/><circle cx="642.78" cy="1229.63" r="0.58"/><circle cx="646.76" cy="1259.59" r="0.58"/><circle cx="650.73" cy="1291.86" r="0.58"/><circle cx="654.7" cy="1292.71" r="0.58"/><circle cx="658.68" cy="1291.78" r="0.58"/><circle cx="662.65" cy="1285.17" r="0.58"/><circle cx="666.62" cy="1286.93" r="0.58"/><circle cx="670.59" cy="1275.9" r="0.58"/><circle cx="674.57" cy="1267.48" r="0.58"/><circle cx="678.54" cy="1285.4" r="0.58"/><circle cx="682.51" cy="1282.34" r="0.58"/></g>
<path d="M493.8 1169.82V1308.62H684.5" fill="none" stroke="#2a2a2a" stroke-width="0.6"/>
<path d="M493.8 1308.62h1.8" stroke="#333" stroke-width="0.45"/>
<text x="491.7" y="1311.22" text-anchor="end" class="tk">0</text>
<path d="M493.8 1288.79h1.8" stroke="#333" stroke-width="0.45"/>
<text x="491.7" y="1291.39" text-anchor="end" class="tk">10</text>
<path d="M493.8 1268.96h1.8" stroke="#333" stroke-width="0.45"/>
<text x="491.7" y="1271.56" text-anchor="end" class="tk">20</text>
<path d="M493.8 1249.13h1.8" stroke="#333" stroke-width="0.45"/>
<text x="491.7" y="1251.73" text-anchor="end" class="tk">30</text>
<path d="M493.8 1229.31h1.8" stroke="#333" stroke-width="0.45"/>
<text x="491.7" y="1231.91" text-anchor="end" class="tk">40</text>
<path d="M493.8 1209.48h1.8" stroke="#333" stroke-width="0.45"/>
<text x="491.7" y="1212.08" text-anchor="end" class="tk">50</text>
<path d="M493.8 1189.65h1.8" stroke="#333" stroke-width="0.45"/>
<text x="491.7" y="1192.25" text-anchor="end" class="tk">60</text>
<path d="M493.8 1169.82h1.8" stroke="#333" stroke-width="0.45"/>
<text x="491.7" y="1172.42" text-anchor="end" class="tk">70</text>
<path d="M541.48 1308.62v-1.8" stroke="#333" stroke-width="0.45"/>
<text x="541.48" y="1316.82" text-anchor="middle" class="tk">ZT0</text>
<path d="M636.83 1308.62v-1.8" stroke="#333" stroke-width="0.45"/>
<text x="636.83" y="1316.82" text-anchor="middle" class="tk">ZT12</text>
<text transform="translate(480.8 1239.22) rotate(-90)" text-anchor="middle" class="yl">mean activity</text>
<text x="16.8" y="1355.81" class="tt" font-style="italic" textLength="156.3" lengthAdjust="spacing">cry01 tim-Gal4&gt;CrebA-RNAi3</text>
<text x="181" y="1355.81" class="tt" textLength="28.9" lengthAdjust="spacing">n=10</text>
<rect x="17.2" y="1369.9" width="190.3" height="136.98" fill="#d9d9d9"/>
<rect x="47" y="1369.9" width="48" height="8.8" fill="#fff"/>
<rect x="142" y="1369.9" width="48" height="8.8" fill="#fff"/>
<rect x="47" y="1378.7" width="48" height="9.86" fill="#fff"/>
<rect x="142" y="1378.7" width="48" height="9.86" fill="#fff"/>
<rect x="47" y="1388.56" width="48" height="9.86" fill="#fff"/>
<rect x="161.5" y="1388.56" width="46" height="9.86" fill="#fff"/>
<rect x="66.5" y="1398.42" width="47.2" height="9.86" fill="#fff"/>
<rect x="161.5" y="1398.42" width="46" height="9.86" fill="#fff"/>
<rect x="66.5" y="1408.28" width="47.2" height="9.86" fill="#fff"/>
<rect x="161.5" y="1408.28" width="46" height="9.86" fill="#fff"/>
<rect x="66.5" y="1418.14" width="47.2" height="9.86" fill="#fff"/>
<rect x="161.5" y="1418.14" width="46" height="9.86" fill="#fff"/>
<rect x="66.5" y="1428" width="47.2" height="9.86" fill="#fff"/>
<rect x="161.5" y="1428" width="46" height="9.86" fill="#fff"/>
<rect x="66.5" y="1437.86" width="47.2" height="9.86" fill="#fff"/>
<rect x="161.5" y="1437.86" width="46" height="9.86" fill="#fff"/>
<rect x="66.5" y="1447.72" width="47.2" height="9.86" fill="#fff"/>
<path d="M39.6 1369.9V1506.88" stroke="#000" stroke-opacity="0.16" stroke-width="0.45"/>
<path d="M63.4 1369.9V1506.88" stroke="#000" stroke-opacity="0.16" stroke-width="0.45"/>
<path d="M87.2 1369.9V1506.88" stroke="#000" stroke-opacity="0.16" stroke-width="0.45"/>
<path d="M111 1369.9V1506.88" stroke="#000" stroke-opacity="0.16" stroke-width="0.45"/>
<path d="M134.8 1369.9V1506.88" stroke="#000" stroke-opacity="0.16" stroke-width="0.45"/>
<path d="M158.6 1369.9V1506.88" stroke="#000" stroke-opacity="0.16" stroke-width="0.45"/>
<path d="M182.4 1369.9V1506.88" stroke="#000" stroke-opacity="0.16" stroke-width="0.45"/>
<path d="M206.2 1369.9V1506.88" stroke="#000" stroke-opacity="0.16" stroke-width="0.45"/>
<path d="M17.2 1378.7H207.5" stroke="#b4b4b4" stroke-width="0.5"/>
<path d="M17.2 1388.56H207.5" stroke="#b4b4b4" stroke-width="0.5"/>
<path d="M17.2 1398.42H207.5" stroke="#b4b4b4" stroke-width="0.5"/>
<path d="M17.2 1408.28H207.5" stroke="#b4b4b4" stroke-width="0.5"/>
<path d="M17.2 1418.14H207.5" stroke="#b4b4b4" stroke-width="0.5"/>
<path d="M17.2 1428H207.5" stroke="#b4b4b4" stroke-width="0.5"/>
<path d="M17.2 1437.86H207.5" stroke="#b4b4b4" stroke-width="0.5"/>
<path d="M17.2 1447.72H207.5" stroke="#b4b4b4" stroke-width="0.5"/>
<path d="M17.2 1457.58H207.5" stroke="#b4b4b4" stroke-width="0.5"/>
<path d="M17.2 1467.44H207.5" stroke="#b4b4b4" stroke-width="0.5"/>
<path d="M17.2 1477.3H207.5" stroke="#b4b4b4" stroke-width="0.5"/>
<path d="M17.2 1487.16H207.5" stroke="#b4b4b4" stroke-width="0.5"/>
<path d="M17.2 1497.02H207.5" stroke="#b4b4b4" stroke-width="0.5"/>
<g fill="#0000ff" stroke="#0a0a1e" stroke-width="0.55" stroke-linejoin="round">
<path d="M17.2 1378.7L17.5 1377.0L19.5 1377.8L21.5 1377.8L23.4 1377.7L25.4 1376.8L27.4 1377.7L29.4 1377.7L31.4 1377.2L33.4 1377.5L35.3 1376.6L37.3 1377.3L39.3 1377.1L41.3 1377.0L43.3 1376.5L45.2 1375.8L47.2 1371.6L49.2 1374.1L51.2 1375.1L53.2 1377.2L55.2 1376.1L57.1 1377.1L59.1 1374.9L61.1 1376.7L63.1 1376.3L65.1 1376.1L67.1 1376.9L69.0 1377.8L71.0 1376.9L73.0 1376.7L75.0 1376.7L77.0 1377.1L78.9 1376.8L80.9 1376.6L82.9 1376.1L84.9 1375.4L86.9 1376.7L88.9 1376.3L90.8 1375.4L92.8 1375.5L94.8 1370.2L96.8 1372.7L98.8 1375.7L100.8 1376.5L102.7 1376.1L104.7 1376.9L106.7 1377.6L108.7 1376.4L110.7 1377.9L112.6 1377.3L114.6 1378.0L116.6 1377.2L118.6 1377.1L120.6 1377.2L122.6 1377.8L124.5 1377.3L126.5 1377.0L128.5 1377.8L130.5 1376.6L132.5 1377.7L134.5 1376.8L136.4 1377.1L138.4 1375.7L140.4 1375.5L142.4 1373.8L144.4 1374.5L146.3 1374.6L148.3 1377.0L150.3 1376.4L152.3 1376.8L154.3 1375.1L156.3 1376.5L158.2 1376.6L160.2 1376.9L162.2 1376.6L164.2 1377.4L166.2 1376.2L168.2 1376.4L170.1 1376.7L172.1 1377.1L174.1 1375.8L176.1 1376.4L178.1 1375.6L180.0 1375.5L182.0 1375.9L184.0 1376.3L186.0 1376.3L188.0 1376.2L190.0 1371.2L191.9 1373.3L193.9 1376.0L195.9 1375.6L197.9 1375.7L199.9 1377.3L201.9 1377.5L203.8 1376.2L205.8 1377.6L207.5 1378.7Z"/>
<path d="M17.2 1388.56L17.5 1387.2L19.5 1387.9L21.5 1387.1L23.4 1387.0L25.4 1387.0L27.4 1387.6L29.4 1387.1L31.4 1386.9L33.4 1387.7L35.3 1386.4L37.3 1387.6L39.3 1386.7L41.3 1386.9L43.3 1385.6L45.2 1385.4L47.2 1383.7L49.2 1384.4L51.2 1384.5L53.2 1386.8L55.2 1386.3L57.1 1386.7L59.1 1385.0L61.1 1386.3L63.1 1386.5L65.1 1386.8L67.1 1386.4L69.0 1387.3L71.0 1386.1L73.0 1386.3L75.0 1386.6L77.0 1387.0L78.9 1385.6L80.9 1386.3L82.9 1385.5L84.9 1385.4L86.9 1385.8L88.9 1386.2L90.8 1386.1L92.8 1386.0L94.8 1381.0L96.8 1383.1L98.8 1385.9L100.8 1385.4L102.7 1385.6L104.7 1387.2L106.7 1387.4L108.7 1386.0L110.7 1387.4L112.6 1386.8L114.6 1387.8L116.6 1387.2L118.6 1387.5L120.6 1387.4L122.6 1387.2L124.5 1387.6L126.5 1386.9L128.5 1387.2L130.5 1386.8L132.5 1387.4L134.5 1387.3L136.4 1387.4L138.4 1385.6L140.4 1385.0L142.4 1383.8L144.4 1384.7L146.3 1384.9L148.3 1386.9L150.3 1386.9L152.3 1386.1L154.3 1385.2L156.3 1386.4L158.2 1385.7L160.2 1386.4L162.2 1386.4L164.2 1387.2L166.2 1386.1L168.2 1386.6L170.1 1386.2L172.1 1386.3L174.1 1386.1L176.1 1386.6L178.1 1385.8L180.0 1384.4L182.0 1385.4L184.0 1386.5L186.0 1386.1L188.0 1385.3L190.0 1379.9L191.9 1383.7L193.9 1386.0L195.9 1386.2L197.9 1386.3L199.9 1386.9L201.9 1387.3L203.8 1386.5L205.8 1387.5L207.5 1388.56Z"/>
<path d="M17.2 1398.42L17.5 1396.7L19.5 1397.7L21.5 1397.0L23.4 1397.4L25.4 1397.2L27.4 1397.1L29.4 1397.4L31.4 1396.7L33.4 1397.0L35.3 1396.7L37.3 1397.2L39.3 1397.2L41.3 1397.2L43.3 1395.4L45.2 1394.9L47.2 1393.6L49.2 1394.6L51.2 1394.7L53.2 1396.7L55.2 1396.8L57.1 1395.9L59.1 1395.0L61.1 1396.3L63.1 1395.6L65.1 1396.3L67.1 1396.2L69.0 1397.1L71.0 1395.9L73.0 1396.5L75.0 1396.1L77.0 1396.2L78.9 1396.0L80.9 1396.4L82.9 1395.7L84.9 1394.3L86.9 1395.2L88.9 1396.3L90.8 1396.0L92.8 1395.1L94.8 1389.7L96.8 1393.5L98.8 1395.8L100.8 1396.1L102.7 1396.2L104.7 1396.8L106.7 1397.2L108.7 1396.3L110.7 1397.3L112.6 1397.3L114.6 1397.7L116.6 1397.4L118.6 1397.1L120.6 1397.1L122.6 1397.3L124.5 1397.5L126.5 1397.1L128.5 1397.4L130.5 1397.3L132.5 1397.2L134.5 1397.0L136.4 1397.4L138.4 1396.3L140.4 1395.9L142.4 1394.6L144.4 1395.3L146.3 1396.3L148.3 1397.0L150.3 1396.7L152.3 1396.8L154.3 1395.8L156.3 1396.9L158.2 1396.6L160.2 1396.8L162.2 1396.5L164.2 1397.4L166.2 1395.9L168.2 1396.9L170.1 1397.4L172.1 1396.9L174.1 1396.0L176.1 1396.7L178.1 1395.9L180.0 1395.9L182.0 1395.9L184.0 1396.2L186.0 1395.3L188.0 1395.4L190.0 1395.8L191.9 1395.1L193.9 1396.2L195.9 1395.0L197.9 1395.9L199.9 1395.1L201.9 1394.8L203.8 1393.7L205.8 1395.0L207.5 1398.42Z"/>
<path d="M17.2 1408.28L17.5 1407.2L19.5 1407.5L21.5 1407.2L23.4 1407.0L25.4 1406.9L27.4 1407.2L29.4 1407.3L31.4 1407.0L33.4 1407.3L35.3 1407.1L37.3 1407.0L39.3 1406.8L41.3 1407.3L43.3 1406.1L45.2 1405.7L47.2 1404.4L49.2 1405.1L51.2 1406.1L53.2 1406.8L55.2 1406.6L57.1 1406.6L59.1 1405.7L61.1 1406.8L63.1 1406.5L65.1 1406.6L67.1 1406.4L69.0 1407.3L71.0 1405.8L73.0 1406.7L75.0 1407.3L77.0 1406.8L78.9 1405.9L80.9 1406.6L82.9 1405.8L84.9 1405.7L86.9 1405.8L88.9 1406.0L90.8 1405.2L92.8 1405.3L94.8 1405.7L96.8 1405.0L98.8 1406.1L100.8 1404.9L102.7 1405.8L104.7 1405.0L106.7 1404.7L108.7 1403.5L110.7 1404.9L112.6 1405.2L114.6 1403.8L116.6 1406.9L118.6 1407.3L120.6 1405.9L122.6 1407.2L124.5 1406.2L126.5 1407.4L128.5 1407.1L130.5 1407.5L132.5 1407.4L134.5 1407.2L136.4 1407.6L138.4 1407.3L140.4 1407.7L142.4 1408.3L144.4 1407.9L146.3 1407.9L148.3 1407.9L150.3 1407.7L152.3 1407.7L154.3 1407.7L156.3 1407.2L158.2 1407.1L160.2 1406.4L162.2 1404.4L164.2 1404.7L166.2 1406.7L168.2 1406.5L170.1 1407.0L172.1 1406.6L174.1 1406.9L176.1 1407.2L178.1 1406.3L180.0 1407.3L182.0 1407.1L184.0 1407.4L186.0 1406.5L188.0 1406.3L190.0 1406.0L191.9 1407.0L193.9 1406.5L195.9 1406.6L197.9 1405.8L199.9 1405.2L201.9 1405.5L203.8 1404.5L205.8 1404.4L207.5 1408.28Z"/>
<path d="M17.2 1418.14L17.5 1415.1L19.5 1413.7L21.5 1416.7L23.4 1417.2L25.4 1415.8L27.4 1417.1L29.4 1416.0L31.4 1417.3L33.4 1417.0L35.3 1417.4L37.3 1417.3L39.3 1417.1L41.3 1417.4L43.3 1417.1L45.2 1417.6L47.2 1418.1L49.2 1417.7L51.2 1417.7L53.2 1417.7L55.2 1417.6L57.1 1417.5L59.1 1417.6L61.1 1417.1L63.1 1417.0L65.1 1416.2L67.1 1414.3L69.0 1414.6L71.0 1416.5L73.0 1416.3L75.0 1416.9L77.0 1416.5L78.9 1416.8L80.9 1417.1L82.9 1416.2L84.9 1417.2L86.9 1417.0L88.9 1417.3L90.8 1416.4L92.8 1416.2L94.8 1415.9L96.8 1416.8L98.8 1416.4L100.8 1416.4L102.7 1415.6L104.7 1415.1L106.7 1415.3L108.7 1414.3L110.7 1414.3L112.6 1414.3L114.6 1412.9L116.6 1416.0L118.6 1415.4L120.6 1416.0L122.6 1416.5L124.5 1416.5L126.5 1416.9L128.5 1417.0L130.5 1417.2L132.5 1417.5L134.5 1417.1L136.4 1417.5L138.4 1416.9L140.4 1417.6L142.4 1417.8L144.4 1417.8L146.3 1417.7L148.3 1417.7L150.3 1417.6L152.3 1417.6L154.3 1417.7L156.3 1417.3L158.2 1416.7L160.2 1416.5L162.2 1413.1L164.2 1414.9L166.2 1415.7L168.2 1416.5L170.1 1417.0L172.1 1416.6L174.1 1416.8L176.1 1417.1L178.1 1416.7L180.0 1417.3L182.0 1417.0L184.0 1417.5L186.0 1416.4L188.0 1416.6L190.0 1416.5L191.9 1417.1L193.9 1416.4L195.9 1416.4L197.9 1416.1L199.9 1415.7L201.9 1414.8L203.8 1415.0L205.8 1414.0L207.5 1418.14Z"/>
<path d="M17.2 1428L17.5 1424.1L19.5 1422.7L21.5 1425.8L23.4 1425.3L25.4 1425.9L27.4 1426.3L29.4 1426.4L31.4 1426.8L33.4 1426.9L35.3 1427.1L37.3 1427.3L39.3 1427.0L41.3 1427.4L43.3 1426.8L45.2 1427.4L47.2 1427.6L49.2 1427.7L51.2 1427.5L53.2 1427.6L55.2 1427.4L57.1 1427.5L59.1 1427.5L61.1 1427.1L63.1 1426.5L65.1 1426.4L67.1 1423.0L69.0 1424.8L71.0 1425.6L73.0 1426.4L75.0 1426.9L77.0 1426.5L78.9 1426.7L80.9 1426.9L82.9 1426.6L84.9 1427.2L86.9 1426.9L88.9 1427.4L90.8 1426.3L92.8 1426.5L94.8 1426.3L96.8 1426.9L98.8 1426.3L100.8 1426.2L102.7 1425.9L104.7 1425.6L106.7 1424.7L108.7 1424.9L110.7 1423.8L112.6 1423.6L114.6 1422.4L116.6 1425.8L118.6 1425.9L120.6 1426.0L122.6 1426.4L124.5 1426.1L126.5 1427.1L128.5 1427.2L130.5 1427.3L132.5 1427.0L134.5 1426.7L136.4 1427.1L138.4 1426.9L140.4 1427.2L142.4 1427.7L144.4 1427.5L146.3 1427.5L148.3 1427.6L150.3 1427.2L152.3 1427.4L154.3 1427.4L156.3 1427.0L158.2 1426.4L160.2 1426.5L162.2 1422.5L164.2 1425.3L166.2 1425.8L168.2 1426.1L170.1 1426.9L172.1 1426.4L174.1 1426.7L176.1 1426.6L178.1 1426.7L180.0 1427.1L182.0 1427.2L184.0 1427.0L186.0 1426.6L188.0 1425.8L190.0 1426.3L191.9 1426.8L193.9 1426.4L195.9 1425.7L197.9 1425.8L199.9 1424.4L201.9 1424.9L203.8 1424.2L205.8 1422.7L207.5 1428Z"/>
<path d="M17.2 1437.86L17.5 1433.5L19.5 1432.3L21.5 1435.7L23.4 1435.8L25.4 1435.9L27.4 1436.2L29.4 1436.0L31.4 1436.9L33.4 1437.0L35.3 1437.1L37.3 1436.9L39.3 1436.6L41.3 1436.9L43.3 1436.7L45.2 1437.1L47.2 1437.5L49.2 1437.3L51.2 1437.3L53.2 1437.5L55.2 1437.0L57.1 1437.2L59.1 1437.3L61.1 1436.9L63.1 1436.2L65.1 1436.4L67.1 1432.4L69.0 1435.1L71.0 1435.6L73.0 1435.9L75.0 1436.8L77.0 1436.3L78.9 1436.5L80.9 1436.5L82.9 1436.6L84.9 1436.9L86.9 1437.0L88.9 1436.9L90.8 1436.5L92.8 1435.7L94.8 1436.1L96.8 1436.7L98.8 1436.3L100.8 1435.6L102.7 1435.7L104.7 1434.3L106.7 1434.8L108.7 1434.0L110.7 1432.5L112.6 1433.7L114.6 1432.8L116.6 1435.7L118.6 1435.0L120.6 1435.5L122.6 1436.7L124.5 1436.3L126.5 1437.0L128.5 1437.1L130.5 1437.0L132.5 1437.1L134.5 1436.8L136.4 1437.2L138.4 1436.9L140.4 1437.2L142.4 1437.5L144.4 1437.4L146.3 1437.5L148.3 1437.4L150.3 1437.1L152.3 1437.3L154.3 1437.2L156.3 1436.8L158.2 1436.3L160.2 1436.4L162.2 1434.5L164.2 1435.1L166.2 1435.5L168.2 1436.4L170.1 1436.8L172.1 1436.2L174.1 1436.7L176.1 1437.0L178.1 1436.2L180.0 1436.9L182.0 1436.8L184.0 1436.9L186.0 1436.7L188.0 1436.2L190.0 1436.2L191.9 1436.7L193.9 1436.3L195.9 1436.1L197.9 1435.7L199.9 1435.3L201.9 1434.0L203.8 1433.7L205.8 1432.5L207.5 1437.86Z"/>
<path d="M17.2 1447.72L17.5 1443.6L19.5 1442.6L21.5 1445.6L23.4 1444.8L25.4 1445.3L27.4 1446.6L29.4 1446.1L31.4 1446.8L33.4 1447.0L35.3 1446.8L37.3 1446.9L39.3 1446.7L41.3 1447.0L43.3 1446.7L45.2 1447.0L47.2 1447.4L49.2 1447.3L51.2 1447.4L53.2 1447.2L55.2 1446.9L57.1 1447.1L59.1 1447.1L61.1 1446.7L63.1 1446.2L65.1 1446.2L67.1 1444.3L69.0 1444.9L71.0 1445.3L73.0 1446.2L75.0 1446.7L77.0 1446.0L78.9 1446.5L80.9 1446.9L82.9 1446.1L84.9 1446.8L86.9 1446.6L88.9 1446.8L90.8 1446.6L92.8 1446.1L94.8 1446.0L96.8 1446.6L98.8 1446.2L100.8 1446.0L102.7 1445.6L104.7 1445.1L106.7 1443.9L108.7 1443.6L110.7 1442.4L112.6 1444.8L114.6 1442.5L116.6 1446.0L118.6 1445.4L120.6 1445.8L122.6 1446.5L124.5 1445.9L126.5 1446.7L128.5 1446.6L130.5 1446.9L132.5 1446.9L134.5 1446.5L136.4 1447.1L138.4 1446.9L140.4 1447.0L142.4 1447.3L144.4 1447.4L146.3 1447.3L148.3 1447.4L150.3 1446.9L152.3 1447.1L154.3 1447.3L156.3 1446.9L158.2 1446.6L160.2 1446.2L162.2 1443.3L164.2 1443.9L166.2 1445.6L168.2 1445.9L170.1 1446.5L172.1 1445.9L174.1 1446.7L176.1 1446.4L178.1 1445.9L180.0 1446.8L182.0 1446.4L184.0 1447.1L186.0 1446.1L188.0 1445.9L190.0 1445.9L191.9 1446.4L193.9 1446.0L195.9 1445.6L197.9 1445.3L199.9 1444.4L201.9 1444.7L203.8 1443.5L205.8 1443.6L207.5 1447.72Z"/>
<path d="M17.2 1457.58L17.5 1454.7L19.5 1452.4L21.5 1455.8L23.4 1455.3L25.4 1455.6L27.4 1456.4L29.4 1455.7L31.4 1456.6L33.4 1456.5L35.3 1456.7L37.3 1456.8L39.3 1456.4L41.3 1457.0L43.3 1456.8L45.2 1456.8L47.2 1457.2L49.2 1457.2L51.2 1457.1L53.2 1457.2L55.2 1456.7L57.1 1457.0L59.1 1457.1L61.1 1456.7L63.1 1456.5L65.1 1456.1L67.1 1453.2L69.0 1453.7L71.0 1455.4L73.0 1455.8L75.0 1456.3L77.0 1455.8L78.9 1456.5L80.9 1456.3L82.9 1455.8L84.9 1456.6L86.9 1456.2L88.9 1456.9L90.8 1455.9L92.8 1455.8L94.8 1455.7L96.8 1456.3L98.8 1455.8L100.8 1455.4L102.7 1455.1L104.7 1454.2L106.7 1454.6L108.7 1453.3L110.7 1453.4L112.6 1455.0L114.6 1455.4L116.6 1456.1L118.6 1455.5L120.6 1456.6L122.6 1456.4L124.5 1455.9L126.5 1456.0L128.5 1456.3L130.5 1456.4L132.5 1456.1L134.5 1455.7L136.4 1455.9L138.4 1456.1L140.4 1455.9L142.4 1455.8L144.4 1455.6L146.3 1455.5L148.3 1455.5L150.3 1455.4L152.3 1455.3L154.3 1455.7L156.3 1455.6L158.2 1455.5L160.2 1456.0L162.2 1456.0L164.2 1455.8L166.2 1456.2L168.2 1456.2L170.1 1455.7L172.1 1455.1L174.1 1455.3L176.1 1455.8L178.1 1455.7L180.0 1455.3L182.0 1455.6L184.0 1455.9L186.0 1455.4L188.0 1455.2L190.0 1455.4L191.9 1455.2L193.9 1455.2L195.9 1455.5L197.9 1456.1L199.9 1456.3L201.9 1456.1L203.8 1455.7L205.8 1455.0L207.5 1457.58Z"/>
<path d="M17.2 1467.44L17.5 1464.8L19.5 1465.3L21.5 1466.0L23.4 1465.4L25.4 1466.5L27.4 1466.3L29.4 1465.8L31.4 1465.8L33.4 1466.2L35.3 1466.3L37.3 1466.0L39.3 1465.6L41.3 1465.8L43.3 1466.0L45.2 1465.7L47.2 1465.6L49.2 1465.5L51.2 1465.3L53.2 1465.3L55.2 1465.2L57.1 1465.1L59.1 1465.6L61.1 1465.5L63.1 1465.4L65.1 1465.9L67.1 1465.9L69.0 1465.7L71.0 1466.0L73.0 1466.1L75.0 1465.6L77.0 1465.0L78.9 1465.1L80.9 1465.7L82.9 1465.6L84.9 1465.2L86.9 1465.5L88.9 1465.8L90.8 1465.3L92.8 1465.0L94.8 1465.2L96.8 1465.0L98.8 1465.1L100.8 1465.3L102.7 1465.9L104.7 1466.2L106.7 1466.0L108.7 1465.5L110.7 1464.8L112.6 1465.5L114.6 1466.1L116.6 1466.3L118.6 1465.9L120.6 1466.0L122.6 1466.4L124.5 1466.4L126.5 1465.9L128.5 1465.8L130.5 1466.0L132.5 1466.2L134.5 1466.1L136.4 1466.0L138.4 1465.9L140.4 1465.9L142.4 1466.1L144.4 1466.5L146.3 1466.6L148.3 1466.5L150.3 1466.0L152.3 1465.4L154.3 1465.6L156.3 1465.8L158.2 1466.0L160.2 1465.9L162.2 1465.5L164.2 1465.4L166.2 1465.5L168.2 1465.5L170.1 1466.0L172.1 1465.9L174.1 1465.9L176.1 1465.8L178.1 1465.6L180.0 1465.9L182.0 1465.6L184.0 1465.3L186.0 1465.5L188.0 1465.7L190.0 1465.6L191.9 1465.1L193.9 1465.0L195.9 1465.4L197.9 1465.7L199.9 1465.7L201.9 1465.6L203.8 1465.6L205.8 1465.8L207.5 1467.44Z"/>
<path d="M17.2 1477.3L17.5 1475.4L19.5 1476.0L21.5 1476.1L23.4 1475.8L25.4 1475.9L27.4 1476.3L29.4 1476.2L31.4 1475.8L33.4 1475.7L35.3 1475.9L37.3 1476.0L39.3 1475.9L41.3 1475.8L43.3 1475.8L45.2 1475.8L47.2 1476.0L49.2 1476.3L51.2 1476.5L53.2 1476.4L55.2 1475.9L57.1 1475.3L59.1 1475.4L61.1 1475.7L63.1 1475.9L65.1 1475.8L67.1 1475.4L69.0 1475.2L71.0 1475.3L73.0 1475.4L75.0 1475.8L77.0 1475.8L78.9 1475.7L80.9 1475.7L82.9 1475.5L84.9 1475.8L86.9 1475.5L88.9 1475.2L90.8 1475.3L92.8 1475.5L94.8 1475.5L96.8 1474.9L98.8 1474.9L100.8 1475.3L102.7 1475.5L104.7 1475.5L106.7 1475.5L108.7 1475.5L110.7 1475.7L112.6 1475.8L114.6 1475.5L116.6 1475.8L118.6 1476.1L120.6 1476.2L122.6 1476.2L124.5 1476.3L126.5 1476.3L128.5 1476.1L130.5 1476.1L132.5 1476.2L134.5 1476.6L136.4 1476.8L138.4 1476.7L140.4 1476.7L142.4 1476.6L144.4 1476.6L146.3 1476.7L148.3 1476.8L150.3 1476.6L152.3 1476.6L154.3 1476.8L156.3 1476.6L158.2 1476.7L160.2 1476.6L162.2 1476.3L164.2 1476.2L166.2 1476.0L168.2 1476.0L170.1 1476.1L172.1 1476.3L174.1 1476.2L176.1 1476.4L178.1 1476.3L180.0 1476.4L182.0 1476.4L184.0 1476.1L186.0 1476.2L188.0 1476.4L190.0 1476.5L191.9 1476.5L193.9 1476.4L195.9 1476.3L197.9 1476.3L199.9 1476.5L201.9 1476.4L203.8 1476.2L205.8 1476.1L207.5 1477.3Z"/>
<path d="M17.2 1487.16L17.5 1485.6L19.5 1485.4L21.5 1485.7L23.4 1486.0L25.4 1486.0L27.4 1486.0L29.4 1486.2L31.4 1486.2L33.4 1486.0L35.3 1486.0L37.3 1486.1L39.3 1486.5L41.3 1486.6L43.3 1486.6L45.2 1486.6L47.2 1486.5L49.2 1486.5L51.2 1486.6L53.2 1486.6L55.2 1486.5L57.1 1486.5L59.1 1486.6L61.1 1486.5L63.1 1486.5L65.1 1486.5L67.1 1486.1L69.0 1486.0L71.0 1485.9L73.0 1485.8L75.0 1486.0L77.0 1486.2L78.9 1486.1L80.9 1486.2L82.9 1486.2L84.9 1486.3L86.9 1486.2L88.9 1486.0L90.8 1486.0L92.8 1486.2L94.8 1486.4L96.8 1486.3L98.8 1486.3L100.8 1486.2L102.7 1486.2L104.7 1486.3L106.7 1486.3L108.7 1486.1L110.7 1486.0L112.6 1486.0L114.6 1486.4L116.6 1486.5L118.6 1486.3L120.6 1486.4L122.6 1486.3L124.5 1486.2L126.5 1486.2L128.5 1486.2L130.5 1486.3L132.5 1486.3L134.5 1486.5L136.4 1486.6L138.4 1486.5L140.4 1486.5L142.4 1486.6L144.4 1486.8L146.3 1487.2L148.3 1487.2L150.3 1487.2L152.3 1487.2L154.3 1487.2L156.3 1487.2L158.2 1487.2L160.2 1487.2L162.2 1487.2L164.2 1487.2L166.2 1487.2L168.2 1487.2L170.1 1487.2L172.1 1487.2L174.1 1487.2L176.1 1487.2L178.1 1487.2L180.0 1487.2L182.0 1487.2L184.0 1487.2L186.0 1487.2L188.0 1487.2L190.0 1487.2L191.9 1487.2L193.9 1487.2L195.9 1487.2L197.9 1487.2L199.9 1487.2L201.9 1487.2L203.8 1487.2L205.8 1487.2L207.5 1487.16Z"/>
<path d="M17.2 1497.02L17.5 1495.8L19.5 1496.2L21.5 1496.3L23.4 1496.2L25.4 1496.2L27.4 1496.2L29.4 1496.0L31.4 1496.1L33.4 1496.1L35.3 1496.2L37.3 1496.1L39.3 1496.3L41.3 1496.5L43.3 1496.4L45.2 1496.3L47.2 1496.4L49.2 1496.6L51.2 1497.0L53.2 1497.0L55.2 1497.0L57.1 1497.0L59.1 1497.0L61.1 1497.0L63.1 1497.0L65.1 1497.0L67.1 1497.0L69.0 1497.0L71.0 1497.0L73.0 1497.0L75.0 1497.0L77.0 1497.0L78.9 1497.0L80.9 1497.0L82.9 1497.0L84.9 1497.0L86.9 1497.0L88.9 1497.0L90.8 1497.0L92.8 1497.0L94.8 1497.0L96.8 1497.0L98.8 1497.0L100.8 1497.0L102.7 1497.0L104.7 1497.0L106.7 1497.0L108.7 1497.0L110.7 1497.0L112.6 1497.0L114.6 1497.0L116.6 1497.0L118.6 1497.0L120.6 1497.0L122.6 1497.0L124.5 1497.0L126.5 1497.0L128.5 1497.0L130.5 1497.0L132.5 1497.0L134.5 1497.0L136.4 1497.0L138.4 1497.0L140.4 1497.0L142.4 1497.0L144.4 1497.0L146.3 1497.0L148.3 1497.0L150.3 1497.0L152.3 1497.0L154.3 1497.0L156.3 1497.0L158.2 1497.0L160.2 1497.0L162.2 1497.0L164.2 1497.0L166.2 1497.0L168.2 1497.0L170.1 1497.0L172.1 1497.0L174.1 1497.0L176.1 1497.0L178.1 1497.0L180.0 1497.0L182.0 1497.0L184.0 1497.0L186.0 1497.0L188.0 1497.0L190.0 1497.0L191.9 1497.0L193.9 1497.0L195.9 1497.0L197.9 1497.0L199.9 1497.0L201.9 1497.0L203.8 1497.0L205.8 1497.0L207.5 1497.02Z"/>
<path d="M17.2 1506.88L17.5 1506.9L19.5 1506.9L21.5 1506.9L23.4 1506.9L25.4 1506.9L27.4 1506.9L29.4 1506.9L31.4 1506.9L33.4 1506.9L35.3 1506.9L37.3 1506.9L39.3 1506.9L41.3 1506.9L43.3 1506.9L45.2 1506.9L47.2 1506.9L49.2 1506.9L51.2 1506.9L53.2 1506.9L55.2 1506.9L57.1 1506.9L59.1 1506.9L61.1 1506.9L63.1 1506.9L65.1 1506.9L67.1 1506.9L69.0 1506.9L71.0 1506.9L73.0 1506.9L75.0 1506.9L77.0 1506.9L78.9 1506.9L80.9 1506.9L82.9 1506.9L84.9 1506.9L86.9 1506.9L88.9 1506.9L90.8 1506.9L92.8 1506.9L94.8 1506.9L96.8 1506.9L98.8 1506.9L100.8 1506.9L102.7 1506.9L104.7 1506.9L106.7 1506.9L108.7 1506.9L110.7 1506.9L112.6 1506.9L114.6 1506.9L116.6 1506.9L118.6 1506.9L120.6 1506.9L122.6 1506.9L124.5 1506.9L126.5 1506.9L128.5 1506.9L130.5 1506.9L132.5 1506.9L134.5 1506.9L136.4 1506.9L138.4 1506.9L140.4 1506.9L142.4 1506.9L144.4 1506.9L146.3 1506.9L148.3 1506.9L150.3 1506.9L152.3 1506.9L154.3 1506.9L156.3 1506.9L158.2 1506.9L160.2 1506.9L162.2 1506.9L164.2 1506.9L166.2 1506.9L168.2 1506.9L170.1 1506.9L172.1 1506.9L174.1 1506.9L176.1 1506.9L178.1 1506.9L180.0 1506.9L182.0 1506.9L184.0 1506.9L186.0 1506.9L188.0 1506.9L190.0 1506.9L191.9 1506.9L193.9 1506.9L195.9 1506.9L197.9 1506.9L199.9 1506.9L201.9 1506.9L203.8 1506.9L205.8 1506.9L207.5 1506.88Z"/>
</g>
<text x="11.9" y="1381.05" text-anchor="middle" class="tk al">1</text>
<text x="11.9" y="1390.91" text-anchor="middle" class="tk al">2</text>
<text x="11.9" y="1400.77" text-anchor="middle" class="tk al">3</text>
<text x="11.9" y="1410.63" text-anchor="middle" class="tk al">4</text>
<text x="11.9" y="1420.49" text-anchor="middle" class="tk al">5</text>
<text x="11.9" y="1430.35" text-anchor="middle" class="tk al">6</text>
<text x="11.9" y="1440.21" text-anchor="middle" class="tk al">7</text>
<text x="11.9" y="1450.07" text-anchor="middle" class="tk al">8</text>
<text x="11.9" y="1459.93" text-anchor="middle" class="tk al">9</text>
<text x="11.9" y="1469.79" text-anchor="middle" class="tk al">10</text>
<text x="11.9" y="1479.65" text-anchor="middle" class="tk al">11</text>
<path d="M158 1487.16H207.5" stroke="#a8a8a8" stroke-width="0.9"/>
<text x="11.9" y="1489.51" text-anchor="middle" class="tk al">12</text>
<path d="M61 1497.02H207.5" stroke="#a8a8a8" stroke-width="0.9"/>
<text x="11.9" y="1499.37" text-anchor="middle" class="tk al">13</text>
<path d="M17.2 1506.88H207.5" stroke="#1a1a1a" stroke-width="1.0"/>
<text x="11.9" y="1509.23" text-anchor="middle" class="tk al">14</text>
<path d="M17.2 1369.9V1506.88" stroke="#333" stroke-width="0.5"/>
<text transform="translate(4.6 1438.39) rotate(-90)" text-anchor="middle" class="yl" style="font-size:5.8px">day</text>
<g fill="#808080" stroke="#151515" stroke-width="0.5"><rect x="255.6" y="1483.27" width="3.97" height="17.52"/><rect x="259.57" y="1480.49" width="3.97" height="20.3"/><rect x="263.55" y="1486.04" width="3.97" height="14.75"/><rect x="267.52" y="1484.83" width="3.97" height="15.96"/><rect x="271.5" y="1481.36" width="3.97" height="19.43"/><rect x="275.48" y="1485.35" width="3.97" height="15.44"/><rect x="279.45" y="1476.33" width="3.97" height="24.46"/><rect x="283.43" y="1483.61" width="3.97" height="17.18"/><rect x="287.4" y="1479.28" width="3.97" height="21.51"/><rect x="291.38" y="1480.14" width="3.97" height="20.65"/><rect x="295.35" y="1468" width="3.97" height="32.79"/><rect x="299.32" y="1461.23" width="3.97" height="39.56"/><rect x="398.7" y="1386.45" width="3.97" height="114.34"/><rect x="402.67" y="1428.44" width="3.97" height="72.35"/><rect x="406.65" y="1463.31" width="3.97" height="37.48"/><rect x="410.62" y="1465.4" width="3.97" height="35.39"/><rect x="414.6" y="1466.78" width="3.97" height="34.01"/><rect x="418.57" y="1478.41" width="3.97" height="22.38"/><rect x="422.55" y="1483.27" width="3.97" height="17.52"/><rect x="426.52" y="1466.09" width="3.97" height="34.7"/><rect x="430.5" y="1488.47" width="3.97" height="12.32"/><rect x="434.47" y="1480.84" width="3.97" height="19.95"/><rect x="438.45" y="1490.55" width="3.97" height="10.24"/><rect x="442.42" y="1484.65" width="3.97" height="16.14"/></g>
<g fill="#fff" stroke="#151515" stroke-width="0.5"><rect x="303.3" y="1407.45" width="3.97" height="93.34"/><rect x="307.27" y="1445.62" width="3.97" height="55.17"/><rect x="311.25" y="1455.51" width="3.97" height="45.28"/><rect x="315.22" y="1476.5" width="3.97" height="24.29"/><rect x="319.2" y="1472.34" width="3.97" height="28.45"/><rect x="323.17" y="1473.72" width="3.97" height="27.07"/><rect x="327.15" y="1456.55" width="3.97" height="44.24"/><rect x="331.12" y="1468.52" width="3.97" height="32.27"/><rect x="335.1" y="1469.21" width="3.97" height="31.58"/><rect x="339.07" y="1469.39" width="3.97" height="31.4"/><rect x="343.05" y="1477.19" width="3.97" height="23.6"/><rect x="347.02" y="1484.48" width="3.97" height="16.31"/><rect x="351" y="1473.2" width="3.97" height="27.59"/><rect x="354.97" y="1473.38" width="3.97" height="27.41"/><rect x="358.95" y="1471.29" width="3.97" height="29.49"/><rect x="362.92" y="1474.42" width="3.97" height="26.37"/><rect x="366.9" y="1469.39" width="3.97" height="31.4"/><rect x="370.88" y="1475.29" width="3.97" height="25.5"/><rect x="374.85" y="1466.44" width="3.97" height="34.35"/><rect x="378.82" y="1455.68" width="3.97" height="45.11"/><rect x="382.8" y="1465.57" width="3.97" height="35.22"/><rect x="386.77" y="1472.34" width="3.97" height="28.45"/><rect x="390.75" y="1465.4" width="3.97" height="35.39"/><rect x="394.73" y="1462.45" width="3.97" height="38.34"/></g>
<g fill="#c4002b"><circle cx="257.59" cy="1477.84" r="0.58"/><circle cx="261.56" cy="1474.64" r="0.58"/><circle cx="265.54" cy="1481.58" r="0.58"/><circle cx="269.51" cy="1478.2" r="0.58"/><circle cx="273.49" cy="1477.62" r="0.58"/><circle cx="277.46" cy="1478.61" r="0.58"/><circle cx="281.44" cy="1466.45" r="0.58"/><circle cx="285.41" cy="1478.52" r="0.58"/><circle cx="289.39" cy="1475.6" r="0.58"/><circle cx="293.36" cy="1476.23" r="0.58"/><circle cx="297.34" cy="1460.6" r="0.58"/><circle cx="301.31" cy="1454.76" r="0.58"/><circle cx="305.29" cy="1393.65" r="0.58"/><circle cx="309.26" cy="1439.68" r="0.58"/><circle cx="313.24" cy="1447.97" r="0.58"/><circle cx="317.21" cy="1471.43" r="0.58"/><circle cx="321.19" cy="1464.53" r="0.58"/><circle cx="325.16" cy="1463.72" r="0.58"/><circle cx="329.14" cy="1451.66" r="0.58"/><circle cx="333.11" cy="1464.29" r="0.58"/><circle cx="337.09" cy="1464.16" r="0.58"/><circle cx="341.06" cy="1458.51" r="0.58"/><circle cx="345.04" cy="1466.64" r="0.58"/><circle cx="349.01" cy="1480.73" r="0.58"/><circle cx="352.99" cy="1463.25" r="0.58"/><circle cx="356.96" cy="1467.81" r="0.58"/><circle cx="360.94" cy="1464.11" r="0.58"/><circle cx="364.91" cy="1467.75" r="0.58"/><circle cx="368.89" cy="1462.47" r="0.58"/><circle cx="372.86" cy="1471.44" r="0.58"/><circle cx="376.84" cy="1453.78" r="0.58"/><circle cx="380.81" cy="1450.41" r="0.58"/><circle cx="384.79" cy="1453.27" r="0.58"/><circle cx="388.76" cy="1461.37" r="0.58"/><circle cx="392.74" cy="1461.09" r="0.58"/><circle cx="396.71" cy="1455.58" r="0.58"/><circle cx="400.69" cy="1373.98" r="0.58"/><circle cx="404.66" cy="1420.17" r="0.58"/><circle cx="408.64" cy="1457.97" r="0.58"/><circle cx="412.61" cy="1461.19" r="0.58"/><circle cx="416.59" cy="1457.76" r="0.58"/><circle cx="420.56" cy="1472.79" r="0.58"/><circle cx="424.54" cy="1473.7" r="0.58"/><circle cx="428.51" cy="1460.77" r="0.58"/><circle cx="432.49" cy="1480.64" r="0.58"/><circle cx="436.46" cy="1474.86" r="0.58"/><circle cx="440.44" cy="1487.42" r="0.58"/><circle cx="444.41" cy="1475.19" r="0.58"/></g>
<path d="M255.6 1361.99V1500.79H446.4" fill="none" stroke="#2a2a2a" stroke-width="0.6"/>
<path d="M255.6 1500.79h1.8" stroke="#333" stroke-width="0.45"/>
<text x="253.5" y="1503.39" text-anchor="end" class="tk">0</text>
<path d="M255.6 1483.44h1.8" stroke="#333" stroke-width="0.45"/>
<text x="253.5" y="1486.04" text-anchor="end" class="tk">10</text>
<path d="M255.6 1466.09h1.8" stroke="#333" stroke-width="0.45"/>
<text x="253.5" y="1468.69" text-anchor="end" class="tk">20</text>
<path d="M255.6 1448.74h1.8" stroke="#333" stroke-width="0.45"/>
<text x="253.5" y="1451.34" text-anchor="end" class="tk">30</text>
<path d="M255.6 1431.39h1.8" stroke="#333" stroke-width="0.45"/>
<text x="253.5" y="1433.99" text-anchor="end" class="tk">40</text>
<path d="M255.6 1414.04h1.8" stroke="#333" stroke-width="0.45"/>
<text x="253.5" y="1416.64" text-anchor="end" class="tk">50</text>
<path d="M255.6 1396.69h1.8" stroke="#333" stroke-width="0.45"/>
<text x="253.5" y="1399.29" text-anchor="end" class="tk">60</text>
<path d="M255.6 1379.34h1.8" stroke="#333" stroke-width="0.45"/>
<text x="253.5" y="1381.94" text-anchor="end" class="tk">70</text>
<path d="M255.6 1361.99h1.8" stroke="#333" stroke-width="0.45"/>
<text x="253.5" y="1364.59" text-anchor="end" class="tk">80</text>
<path d="M303.3 1500.79v-1.8" stroke="#333" stroke-width="0.45"/>
<text x="303.3" y="1508.99" text-anchor="middle" class="tk">ZT0</text>
<path d="M398.7 1500.79v-1.8" stroke="#333" stroke-width="0.45"/>
<text x="398.7" y="1508.99" text-anchor="middle" class="tk">ZT12</text>
<text transform="translate(242.9 1431.39) rotate(-90)" text-anchor="middle" class="yl">mean activity</text>
<g fill="#808080" stroke="#151515" stroke-width="0.5"><rect x="493.8" y="1482.19" width="3.97" height="18.6"/><rect x="497.77" y="1489.13" width="3.97" height="11.66"/><rect x="501.75" y="1494.13" width="3.97" height="6.66"/><rect x="505.72" y="1492.46" width="3.97" height="8.33"/><rect x="509.69" y="1492.46" width="3.97" height="8.33"/><rect x="513.66" y="1493.29" width="3.97" height="7.5"/><rect x="517.64" y="1487.74" width="3.97" height="13.05"/><rect x="521.61" y="1489.13" width="3.97" height="11.66"/><rect x="525.58" y="1490.52" width="3.97" height="10.27"/><rect x="529.56" y="1480.53" width="3.97" height="20.26"/><rect x="533.53" y="1476.36" width="3.97" height="24.43"/><rect x="537.5" y="1471.36" width="3.97" height="29.43"/><rect x="636.83" y="1402.52" width="3.97" height="98.27"/><rect x="640.8" y="1467.2" width="3.97" height="33.59"/><rect x="644.77" y="1457.21" width="3.97" height="43.58"/><rect x="648.74" y="1465.26" width="3.97" height="35.53"/><rect x="652.72" y="1474.7" width="3.97" height="26.09"/><rect x="656.69" y="1464.42" width="3.97" height="36.37"/><rect x="660.66" y="1481.64" width="3.97" height="19.15"/><rect x="664.64" y="1483.02" width="3.97" height="17.77"/><rect x="668.61" y="1484.41" width="3.97" height="16.38"/><rect x="672.58" y="1485.24" width="3.97" height="15.55"/><rect x="676.55" y="1479.41" width="3.97" height="21.38"/><rect x="680.53" y="1487.19" width="3.97" height="13.6"/></g>
<g fill="#fff" stroke="#151515" stroke-width="0.5"><rect x="541.48" y="1385.03" width="3.97" height="115.76"/><rect x="545.45" y="1443.05" width="3.97" height="57.74"/><rect x="549.42" y="1463.31" width="3.97" height="37.48"/><rect x="553.39" y="1469.42" width="3.97" height="31.37"/><rect x="557.37" y="1480.53" width="3.97" height="20.26"/><rect x="561.34" y="1473.59" width="3.97" height="27.2"/><rect x="565.31" y="1477.19" width="3.97" height="23.6"/><rect x="569.29" y="1480.53" width="3.97" height="20.26"/><rect x="573.26" y="1470.53" width="3.97" height="30.26"/><rect x="577.23" y="1486.63" width="3.97" height="14.16"/><rect x="581.2" y="1480.53" width="3.97" height="20.26"/><rect x="585.18" y="1485.52" width="3.97" height="15.27"/><rect x="589.15" y="1472.47" width="3.97" height="28.32"/><rect x="593.12" y="1465.26" width="3.97" height="35.53"/><rect x="597.1" y="1466.37" width="3.97" height="34.42"/><rect x="601.07" y="1477.75" width="3.97" height="23.04"/><rect x="605.04" y="1467.48" width="3.97" height="33.31"/><rect x="609.01" y="1464.15" width="3.97" height="36.64"/><rect x="612.99" y="1453.32" width="3.97" height="47.47"/><rect x="616.96" y="1447.49" width="3.97" height="53.3"/><rect x="620.93" y="1443.6" width="3.97" height="57.19"/><rect x="624.91" y="1428.34" width="3.97" height="72.45"/><rect x="628.88" y="1421.4" width="3.97" height="79.39"/><rect x="632.85" y="1432.5" width="3.97" height="68.29"/></g>
<g fill="#c4002b"><circle cx="495.79" cy="1478.1" r="0.58"/><circle cx="499.76" cy="1484.43" r="0.58"/><circle cx="503.73" cy="1488.5" r="0.58"/><circle cx="507.71" cy="1487.97" r="0.58"/><circle cx="511.68" cy="1486.3" r="0.58"/><circle cx="515.65" cy="1487.44" r="0.58"/><circle cx="519.62" cy="1480.36" r="0.58"/><circle cx="523.6" cy="1484.21" r="0.58"/><circle cx="527.57" cy="1484.11" r="0.58"/><circle cx="531.54" cy="1475.47" r="0.58"/><circle cx="535.52" cy="1467.51" r="0.58"/><circle cx="539.49" cy="1465.06" r="0.58"/><circle cx="543.46" cy="1374.75" r="0.58"/><circle cx="547.43" cy="1428.94" r="0.58"/><circle cx="551.41" cy="1452.56" r="0.58"/><circle cx="555.38" cy="1457.84" r="0.58"/><circle cx="559.35" cy="1471.81" r="0.58"/><circle cx="563.33" cy="1461.71" r="0.58"/><circle cx="567.3" cy="1469.16" r="0.58"/><circle cx="571.27" cy="1476.2" r="0.58"/><circle cx="575.24" cy="1461.64" r="0.58"/><circle cx="579.22" cy="1483.56" r="0.58"/><circle cx="583.19" cy="1473.4" r="0.58"/><circle cx="587.16" cy="1479.41" r="0.58"/><circle cx="591.14" cy="1464.14" r="0.58"/><circle cx="595.11" cy="1460.39" r="0.58"/><circle cx="599.08" cy="1454.6" r="0.58"/><circle cx="603.06" cy="1473.92" r="0.58"/><circle cx="607.03" cy="1462.27" r="0.58"/><circle cx="611" cy="1457.2" r="0.58"/><circle cx="614.97" cy="1439.63" r="0.58"/><circle cx="618.95" cy="1432.04" r="0.58"/><circle cx="622.92" cy="1429.9" r="0.58"/><circle cx="626.89" cy="1419.75" r="0.58"/><circle cx="630.87" cy="1409" r="0.58"/><circle cx="634.84" cy="1424.46" r="0.58"/><circle cx="638.81" cy="1392.33" r="0.58"/><circle cx="642.78" cy="1457.73" r="0.58"/><circle cx="646.76" cy="1451.38" r="0.58"/><circle cx="650.73" cy="1452.43" r="0.58"/><circle cx="654.7" cy="1466.03" r="0.58"/><circle cx="658.68" cy="1458.31" r="0.58"/><circle cx="662.65" cy="1472.56" r="0.58"/><circle cx="666.62" cy="1473.72" r="0.58"/><circle cx="670.59" cy="1476.13" r="0.58"/><circle cx="674.57" cy="1480.19" r="0.58"/><circle cx="678.54" cy="1470.21" r="0.58"/><circle cx="682.51" cy="1480.45" r="0.58"/></g>
<path d="M493.8 1361.99V1500.79H684.5" fill="none" stroke="#2a2a2a" stroke-width="0.6"/>
<path d="M493.8 1500.79h1.8" stroke="#333" stroke-width="0.45"/>
<text x="491.7" y="1503.39" text-anchor="end" class="tk">0</text>
<path d="M493.8 1486.91h1.8" stroke="#333" stroke-width="0.45"/>
<text x="491.7" y="1489.51" text-anchor="end" class="tk">5</text>
<path d="M493.8 1473.03h1.8" stroke="#333" stroke-width="0.45"/>
<text x="491.7" y="1475.63" text-anchor="end" class="tk">10</text>
<path d="M493.8 1459.15h1.8" stroke="#333" stroke-width="0.45"/>
<text x="491.7" y="1461.75" text-anchor="end" class="tk">15</text>
<path d="M493.8 1445.27h1.8" stroke="#333" stroke-width="0.45"/>
<text x="491.7" y="1447.87" text-anchor="end" class="tk">20</text>
<path d="M493.8 1431.39h1.8" stroke="#333" stroke-width="0.45"/>
<text x="491.7" y="1433.99" text-anchor="end" class="tk">25</text>
<path d="M493.8 1417.51h1.8" stroke="#333" stroke-width="0.45"/>
<text x="491.7" y="1420.11" text-anchor="end" class="tk">30</text>
<path d="M493.8 1403.63h1.8" stroke="#333" stroke-width="0.45"/>
<text x="491.7" y="1406.23" text-anchor="end" class="tk">35</text>
<path d="M493.8 1389.75h1.8" stroke="#333" stroke-width="0.45"/>
<text x="491.7" y="1392.35" text-anchor="end" class="tk">40</text>
<path d="M493.8 1375.87h1.8" stroke="#333" stroke-width="0.45"/>
<text x="491.7" y="1378.47" text-anchor="end" class="tk">45</text>
<path d="M493.8 1361.99h1.8" stroke="#333" stroke-width="0.45"/>
<text x="491.7" y="1364.59" text-anchor="end" class="tk">50</text>
<path d="M541.48 1500.79v-1.8" stroke="#333" stroke-width="0.45"/>
<text x="541.48" y="1508.99" text-anchor="middle" class="tk">ZT0</text>
<path d="M636.83 1500.79v-1.8" stroke="#333" stroke-width="0.45"/>
<text x="636.83" y="1508.99" text-anchor="middle" class="tk">ZT12</text>
<text transform="translate(480.8 1431.39) rotate(-90)" text-anchor="middle" class="yl">mean activity</text>
</svg>
</body></html>
